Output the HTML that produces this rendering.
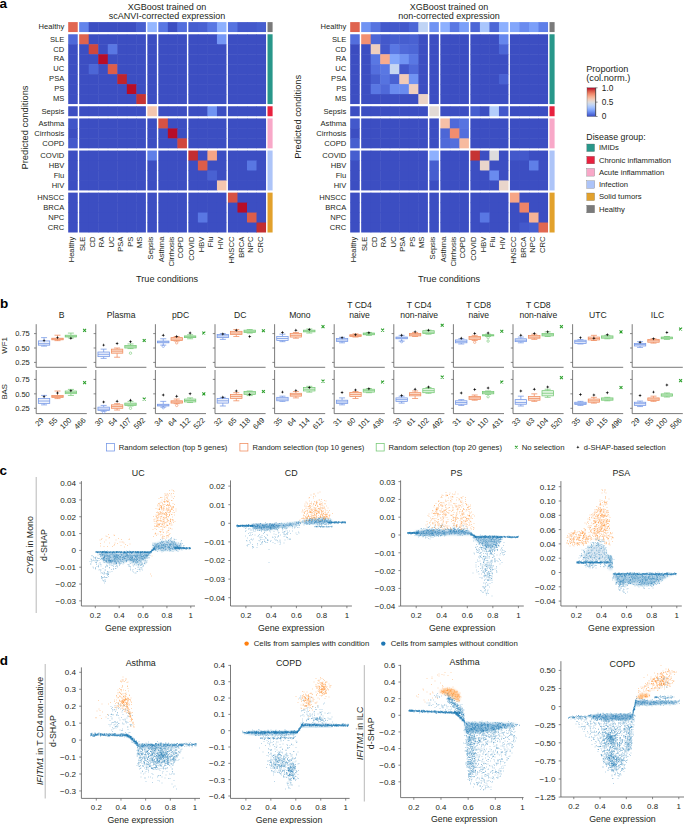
<!DOCTYPE html>
<html><head><meta charset="utf-8"><title>Figure</title>
<style>html,body{margin:0;padding:0;background:#fff;overflow:hidden;}svg{display:block;}
text{font-family:"Liberation Sans",sans-serif;}</style></head>
<body><svg width="685" height="824" viewBox="0 0 685 824" font-family="Liberation Sans, sans-serif" fill="#231f20">
<rect width="685" height="824" fill="#fff"/>
<g>
<rect x="68.2" y="22.1" width="9.53" height="9.97" fill="#e16751"/>
<rect x="79.18" y="22.1" width="10.03" height="9.97" fill="#6384eb"/>
<rect x="88.71" y="22.1" width="10.03" height="9.97" fill="#3c4ec2"/>
<rect x="98.24" y="22.1" width="10.03" height="9.97" fill="#3c4ec2"/>
<rect x="107.77" y="22.1" width="10.03" height="9.97" fill="#3c4ec2"/>
<rect x="117.3" y="22.1" width="10.03" height="9.97" fill="#3c4ec2"/>
<rect x="126.83" y="22.1" width="10.03" height="9.97" fill="#3c4ec2"/>
<rect x="136.36" y="22.1" width="9.53" height="9.97" fill="#465ecf"/>
<rect x="147.34" y="22.1" width="9.53" height="9.97" fill="#94b6ff"/>
<rect x="158.32" y="22.1" width="10.03" height="9.97" fill="#5977e3"/>
<rect x="167.85" y="22.1" width="10.03" height="9.97" fill="#3c4ec2"/>
<rect x="177.38" y="22.1" width="9.53" height="9.97" fill="#536edd"/>
<rect x="188.36" y="22.1" width="10.03" height="9.97" fill="#465ecf"/>
<rect x="197.89" y="22.1" width="10.03" height="9.97" fill="#4961d2"/>
<rect x="207.42" y="22.1" width="10.03" height="9.97" fill="#5977e3"/>
<rect x="216.95" y="22.1" width="9.53" height="9.97" fill="#8db0fe"/>
<rect x="227.93" y="22.1" width="10.03" height="9.97" fill="#5673e0"/>
<rect x="237.46" y="22.1" width="10.03" height="9.97" fill="#4358cb"/>
<rect x="246.99" y="22.1" width="10.03" height="9.97" fill="#4358cb"/>
<rect x="256.52" y="22.1" width="9.53" height="9.97" fill="#465ecf"/>
<rect x="68.2" y="34.27" width="9.53" height="10.47" fill="#4f69d9"/>
<rect x="79.18" y="34.27" width="10.03" height="10.47" fill="#df634e"/>
<rect x="88.71" y="34.27" width="10.03" height="10.47" fill="#3c4ec2"/>
<rect x="98.24" y="34.27" width="10.03" height="10.47" fill="#3c4ec2"/>
<rect x="107.77" y="34.27" width="10.03" height="10.47" fill="#3c4ec2"/>
<rect x="117.3" y="34.27" width="10.03" height="10.47" fill="#3c4ec2"/>
<rect x="126.83" y="34.27" width="10.03" height="10.47" fill="#3c4ec2"/>
<rect x="136.36" y="34.27" width="9.53" height="10.47" fill="#3c4ec2"/>
<rect x="147.34" y="34.27" width="9.53" height="10.47" fill="#3c4ec2"/>
<rect x="158.32" y="34.27" width="10.03" height="10.47" fill="#3c4ec2"/>
<rect x="167.85" y="34.27" width="10.03" height="10.47" fill="#3c4ec2"/>
<rect x="177.38" y="34.27" width="9.53" height="10.47" fill="#3c4ec2"/>
<rect x="188.36" y="34.27" width="10.03" height="10.47" fill="#3c4ec2"/>
<rect x="197.89" y="34.27" width="10.03" height="10.47" fill="#3c4ec2"/>
<rect x="207.42" y="34.27" width="10.03" height="10.47" fill="#3c4ec2"/>
<rect x="216.95" y="34.27" width="9.53" height="10.47" fill="#7597f6"/>
<rect x="227.93" y="34.27" width="10.03" height="10.47" fill="#3c4ec2"/>
<rect x="237.46" y="34.27" width="10.03" height="10.47" fill="#3c4ec2"/>
<rect x="246.99" y="34.27" width="10.03" height="10.47" fill="#3c4ec2"/>
<rect x="256.52" y="34.27" width="9.53" height="10.47" fill="#3c4ec2"/>
<rect x="68.2" y="44.24" width="9.53" height="10.47" fill="#3c4ec2"/>
<rect x="79.18" y="44.24" width="10.03" height="10.47" fill="#3c4ec2"/>
<rect x="88.71" y="44.24" width="10.03" height="10.47" fill="#d0473d"/>
<rect x="98.24" y="44.24" width="10.03" height="10.47" fill="#3c4ec2"/>
<rect x="107.77" y="44.24" width="10.03" height="10.47" fill="#5977e3"/>
<rect x="117.3" y="44.24" width="10.03" height="10.47" fill="#3c4ec2"/>
<rect x="126.83" y="44.24" width="10.03" height="10.47" fill="#3c4ec2"/>
<rect x="136.36" y="44.24" width="9.53" height="10.47" fill="#3c4ec2"/>
<rect x="147.34" y="44.24" width="9.53" height="10.47" fill="#3c4ec2"/>
<rect x="158.32" y="44.24" width="10.03" height="10.47" fill="#3c4ec2"/>
<rect x="167.85" y="44.24" width="10.03" height="10.47" fill="#3c4ec2"/>
<rect x="177.38" y="44.24" width="9.53" height="10.47" fill="#3c4ec2"/>
<rect x="188.36" y="44.24" width="10.03" height="10.47" fill="#3c4ec2"/>
<rect x="197.89" y="44.24" width="10.03" height="10.47" fill="#3c4ec2"/>
<rect x="207.42" y="44.24" width="10.03" height="10.47" fill="#3c4ec2"/>
<rect x="216.95" y="44.24" width="9.53" height="10.47" fill="#3c4ec2"/>
<rect x="227.93" y="44.24" width="10.03" height="10.47" fill="#3c4ec2"/>
<rect x="237.46" y="44.24" width="10.03" height="10.47" fill="#3c4ec2"/>
<rect x="246.99" y="44.24" width="10.03" height="10.47" fill="#3c4ec2"/>
<rect x="256.52" y="44.24" width="9.53" height="10.47" fill="#3c4ec2"/>
<rect x="68.2" y="54.21" width="9.53" height="10.47" fill="#3c4ec2"/>
<rect x="79.18" y="54.21" width="10.03" height="10.47" fill="#3c4ec2"/>
<rect x="88.71" y="54.21" width="10.03" height="10.47" fill="#3c4ec2"/>
<rect x="98.24" y="54.21" width="10.03" height="10.47" fill="#b70d28"/>
<rect x="107.77" y="54.21" width="10.03" height="10.47" fill="#3c4ec2"/>
<rect x="117.3" y="54.21" width="10.03" height="10.47" fill="#3c4ec2"/>
<rect x="126.83" y="54.21" width="10.03" height="10.47" fill="#3c4ec2"/>
<rect x="136.36" y="54.21" width="9.53" height="10.47" fill="#3c4ec2"/>
<rect x="147.34" y="54.21" width="9.53" height="10.47" fill="#3c4ec2"/>
<rect x="158.32" y="54.21" width="10.03" height="10.47" fill="#3c4ec2"/>
<rect x="167.85" y="54.21" width="10.03" height="10.47" fill="#3c4ec2"/>
<rect x="177.38" y="54.21" width="9.53" height="10.47" fill="#3c4ec2"/>
<rect x="188.36" y="54.21" width="10.03" height="10.47" fill="#3c4ec2"/>
<rect x="197.89" y="54.21" width="10.03" height="10.47" fill="#3c4ec2"/>
<rect x="207.42" y="54.21" width="10.03" height="10.47" fill="#3c4ec2"/>
<rect x="216.95" y="54.21" width="9.53" height="10.47" fill="#3c4ec2"/>
<rect x="227.93" y="54.21" width="10.03" height="10.47" fill="#3c4ec2"/>
<rect x="237.46" y="54.21" width="10.03" height="10.47" fill="#3c4ec2"/>
<rect x="246.99" y="54.21" width="10.03" height="10.47" fill="#3c4ec2"/>
<rect x="256.52" y="54.21" width="9.53" height="10.47" fill="#3c4ec2"/>
<rect x="68.2" y="64.18" width="9.53" height="10.47" fill="#3c4ec2"/>
<rect x="79.18" y="64.18" width="10.03" height="10.47" fill="#3c4ec2"/>
<rect x="88.71" y="64.18" width="10.03" height="10.47" fill="#4c66d6"/>
<rect x="98.24" y="64.18" width="10.03" height="10.47" fill="#3c4ec2"/>
<rect x="107.77" y="64.18" width="10.03" height="10.47" fill="#dc5d4a"/>
<rect x="117.3" y="64.18" width="10.03" height="10.47" fill="#3c4ec2"/>
<rect x="126.83" y="64.18" width="10.03" height="10.47" fill="#3c4ec2"/>
<rect x="136.36" y="64.18" width="9.53" height="10.47" fill="#3c4ec2"/>
<rect x="147.34" y="64.18" width="9.53" height="10.47" fill="#3c4ec2"/>
<rect x="158.32" y="64.18" width="10.03" height="10.47" fill="#3c4ec2"/>
<rect x="167.85" y="64.18" width="10.03" height="10.47" fill="#3c4ec2"/>
<rect x="177.38" y="64.18" width="9.53" height="10.47" fill="#3c4ec2"/>
<rect x="188.36" y="64.18" width="10.03" height="10.47" fill="#3c4ec2"/>
<rect x="197.89" y="64.18" width="10.03" height="10.47" fill="#3c4ec2"/>
<rect x="207.42" y="64.18" width="10.03" height="10.47" fill="#3c4ec2"/>
<rect x="216.95" y="64.18" width="9.53" height="10.47" fill="#3c4ec2"/>
<rect x="227.93" y="64.18" width="10.03" height="10.47" fill="#3c4ec2"/>
<rect x="237.46" y="64.18" width="10.03" height="10.47" fill="#3c4ec2"/>
<rect x="246.99" y="64.18" width="10.03" height="10.47" fill="#3c4ec2"/>
<rect x="256.52" y="64.18" width="9.53" height="10.47" fill="#3c4ec2"/>
<rect x="68.2" y="74.15" width="9.53" height="10.47" fill="#3c4ec2"/>
<rect x="79.18" y="74.15" width="10.03" height="10.47" fill="#3c4ec2"/>
<rect x="88.71" y="74.15" width="10.03" height="10.47" fill="#3c4ec2"/>
<rect x="98.24" y="74.15" width="10.03" height="10.47" fill="#3c4ec2"/>
<rect x="107.77" y="74.15" width="10.03" height="10.47" fill="#3c4ec2"/>
<rect x="117.3" y="74.15" width="10.03" height="10.47" fill="#be242e"/>
<rect x="126.83" y="74.15" width="10.03" height="10.47" fill="#3c4ec2"/>
<rect x="136.36" y="74.15" width="9.53" height="10.47" fill="#3c4ec2"/>
<rect x="147.34" y="74.15" width="9.53" height="10.47" fill="#3c4ec2"/>
<rect x="158.32" y="74.15" width="10.03" height="10.47" fill="#3c4ec2"/>
<rect x="167.85" y="74.15" width="10.03" height="10.47" fill="#3c4ec2"/>
<rect x="177.38" y="74.15" width="9.53" height="10.47" fill="#3c4ec2"/>
<rect x="188.36" y="74.15" width="10.03" height="10.47" fill="#3c4ec2"/>
<rect x="197.89" y="74.15" width="10.03" height="10.47" fill="#3c4ec2"/>
<rect x="207.42" y="74.15" width="10.03" height="10.47" fill="#3c4ec2"/>
<rect x="216.95" y="74.15" width="9.53" height="10.47" fill="#3c4ec2"/>
<rect x="227.93" y="74.15" width="10.03" height="10.47" fill="#3c4ec2"/>
<rect x="237.46" y="74.15" width="10.03" height="10.47" fill="#3c4ec2"/>
<rect x="246.99" y="74.15" width="10.03" height="10.47" fill="#3c4ec2"/>
<rect x="256.52" y="74.15" width="9.53" height="10.47" fill="#3c4ec2"/>
<rect x="68.2" y="84.12" width="9.53" height="10.47" fill="#3c4ec2"/>
<rect x="79.18" y="84.12" width="10.03" height="10.47" fill="#3c4ec2"/>
<rect x="88.71" y="84.12" width="10.03" height="10.47" fill="#3c4ec2"/>
<rect x="98.24" y="84.12" width="10.03" height="10.47" fill="#3c4ec2"/>
<rect x="107.77" y="84.12" width="10.03" height="10.47" fill="#3c4ec2"/>
<rect x="117.3" y="84.12" width="10.03" height="10.47" fill="#3c4ec2"/>
<rect x="126.83" y="84.12" width="10.03" height="10.47" fill="#b70d28"/>
<rect x="136.36" y="84.12" width="9.53" height="10.47" fill="#3c4ec2"/>
<rect x="147.34" y="84.12" width="9.53" height="10.47" fill="#3c4ec2"/>
<rect x="158.32" y="84.12" width="10.03" height="10.47" fill="#3c4ec2"/>
<rect x="167.85" y="84.12" width="10.03" height="10.47" fill="#3c4ec2"/>
<rect x="177.38" y="84.12" width="9.53" height="10.47" fill="#3c4ec2"/>
<rect x="188.36" y="84.12" width="10.03" height="10.47" fill="#3c4ec2"/>
<rect x="197.89" y="84.12" width="10.03" height="10.47" fill="#3c4ec2"/>
<rect x="207.42" y="84.12" width="10.03" height="10.47" fill="#3c4ec2"/>
<rect x="216.95" y="84.12" width="9.53" height="10.47" fill="#3c4ec2"/>
<rect x="227.93" y="84.12" width="10.03" height="10.47" fill="#3c4ec2"/>
<rect x="237.46" y="84.12" width="10.03" height="10.47" fill="#3c4ec2"/>
<rect x="246.99" y="84.12" width="10.03" height="10.47" fill="#3c4ec2"/>
<rect x="256.52" y="84.12" width="9.53" height="10.47" fill="#3c4ec2"/>
<rect x="68.2" y="94.09" width="9.53" height="9.97" fill="#3c4ec2"/>
<rect x="79.18" y="94.09" width="10.03" height="9.97" fill="#3c4ec2"/>
<rect x="88.71" y="94.09" width="10.03" height="9.97" fill="#3c4ec2"/>
<rect x="98.24" y="94.09" width="10.03" height="9.97" fill="#3c4ec2"/>
<rect x="107.77" y="94.09" width="10.03" height="9.97" fill="#3c4ec2"/>
<rect x="117.3" y="94.09" width="10.03" height="9.97" fill="#3c4ec2"/>
<rect x="126.83" y="94.09" width="10.03" height="9.97" fill="#3c4ec2"/>
<rect x="136.36" y="94.09" width="9.53" height="9.97" fill="#c53334"/>
<rect x="147.34" y="94.09" width="9.53" height="9.97" fill="#3c4ec2"/>
<rect x="158.32" y="94.09" width="10.03" height="9.97" fill="#3c4ec2"/>
<rect x="167.85" y="94.09" width="10.03" height="9.97" fill="#3c4ec2"/>
<rect x="177.38" y="94.09" width="9.53" height="9.97" fill="#3c4ec2"/>
<rect x="188.36" y="94.09" width="10.03" height="9.97" fill="#3c4ec2"/>
<rect x="197.89" y="94.09" width="10.03" height="9.97" fill="#3c4ec2"/>
<rect x="207.42" y="94.09" width="10.03" height="9.97" fill="#3c4ec2"/>
<rect x="216.95" y="94.09" width="9.53" height="9.97" fill="#3c4ec2"/>
<rect x="227.93" y="94.09" width="10.03" height="9.97" fill="#3c4ec2"/>
<rect x="237.46" y="94.09" width="10.03" height="9.97" fill="#3c4ec2"/>
<rect x="246.99" y="94.09" width="10.03" height="9.97" fill="#3c4ec2"/>
<rect x="256.52" y="94.09" width="9.53" height="9.97" fill="#3c4ec2"/>
<rect x="68.2" y="106.26" width="9.53" height="9.97" fill="#3c4ec2"/>
<rect x="79.18" y="106.26" width="10.03" height="9.97" fill="#3c4ec2"/>
<rect x="88.71" y="106.26" width="10.03" height="9.97" fill="#3c4ec2"/>
<rect x="98.24" y="106.26" width="10.03" height="9.97" fill="#3c4ec2"/>
<rect x="107.77" y="106.26" width="10.03" height="9.97" fill="#3c4ec2"/>
<rect x="117.3" y="106.26" width="10.03" height="9.97" fill="#3c4ec2"/>
<rect x="126.83" y="106.26" width="10.03" height="9.97" fill="#3c4ec2"/>
<rect x="136.36" y="106.26" width="9.53" height="9.97" fill="#3c4ec2"/>
<rect x="147.34" y="106.26" width="9.53" height="9.97" fill="#f4c6af"/>
<rect x="158.32" y="106.26" width="10.03" height="9.97" fill="#3c4ec2"/>
<rect x="167.85" y="106.26" width="10.03" height="9.97" fill="#3c4ec2"/>
<rect x="177.38" y="106.26" width="9.53" height="9.97" fill="#3c4ec2"/>
<rect x="188.36" y="106.26" width="10.03" height="9.97" fill="#3c4ec2"/>
<rect x="197.89" y="106.26" width="10.03" height="9.97" fill="#3c4ec2"/>
<rect x="207.42" y="106.26" width="10.03" height="9.97" fill="#7093f3"/>
<rect x="216.95" y="106.26" width="9.53" height="9.97" fill="#3c4ec2"/>
<rect x="227.93" y="106.26" width="10.03" height="9.97" fill="#3c4ec2"/>
<rect x="237.46" y="106.26" width="10.03" height="9.97" fill="#3c4ec2"/>
<rect x="246.99" y="106.26" width="10.03" height="9.97" fill="#3c4ec2"/>
<rect x="256.52" y="106.26" width="9.53" height="9.97" fill="#3c4ec2"/>
<rect x="68.2" y="118.43" width="9.53" height="10.47" fill="#4055c8"/>
<rect x="79.18" y="118.43" width="10.03" height="10.47" fill="#3c4ec2"/>
<rect x="88.71" y="118.43" width="10.03" height="10.47" fill="#3c4ec2"/>
<rect x="98.24" y="118.43" width="10.03" height="10.47" fill="#3c4ec2"/>
<rect x="107.77" y="118.43" width="10.03" height="10.47" fill="#3c4ec2"/>
<rect x="117.3" y="118.43" width="10.03" height="10.47" fill="#3c4ec2"/>
<rect x="126.83" y="118.43" width="10.03" height="10.47" fill="#3c4ec2"/>
<rect x="136.36" y="118.43" width="9.53" height="10.47" fill="#3c4ec2"/>
<rect x="147.34" y="118.43" width="9.53" height="10.47" fill="#3c4ec2"/>
<rect x="158.32" y="118.43" width="10.03" height="10.47" fill="#d65244"/>
<rect x="167.85" y="118.43" width="10.03" height="10.47" fill="#3c4ec2"/>
<rect x="177.38" y="118.43" width="9.53" height="10.47" fill="#3c4ec2"/>
<rect x="188.36" y="118.43" width="10.03" height="10.47" fill="#3c4ec2"/>
<rect x="197.89" y="118.43" width="10.03" height="10.47" fill="#3c4ec2"/>
<rect x="207.42" y="118.43" width="10.03" height="10.47" fill="#3c4ec2"/>
<rect x="216.95" y="118.43" width="9.53" height="10.47" fill="#3c4ec2"/>
<rect x="227.93" y="118.43" width="10.03" height="10.47" fill="#3c4ec2"/>
<rect x="237.46" y="118.43" width="10.03" height="10.47" fill="#3c4ec2"/>
<rect x="246.99" y="118.43" width="10.03" height="10.47" fill="#3c4ec2"/>
<rect x="256.52" y="118.43" width="9.53" height="10.47" fill="#3c4ec2"/>
<rect x="68.2" y="128.4" width="9.53" height="10.47" fill="#3c4ec2"/>
<rect x="79.18" y="128.4" width="10.03" height="10.47" fill="#3c4ec2"/>
<rect x="88.71" y="128.4" width="10.03" height="10.47" fill="#3c4ec2"/>
<rect x="98.24" y="128.4" width="10.03" height="10.47" fill="#3c4ec2"/>
<rect x="107.77" y="128.4" width="10.03" height="10.47" fill="#3c4ec2"/>
<rect x="117.3" y="128.4" width="10.03" height="10.47" fill="#3c4ec2"/>
<rect x="126.83" y="128.4" width="10.03" height="10.47" fill="#3c4ec2"/>
<rect x="136.36" y="128.4" width="9.53" height="10.47" fill="#3c4ec2"/>
<rect x="147.34" y="128.4" width="9.53" height="10.47" fill="#3c4ec2"/>
<rect x="158.32" y="128.4" width="10.03" height="10.47" fill="#3c4ec2"/>
<rect x="167.85" y="128.4" width="10.03" height="10.47" fill="#b70d28"/>
<rect x="177.38" y="128.4" width="9.53" height="10.47" fill="#3c4ec2"/>
<rect x="188.36" y="128.4" width="10.03" height="10.47" fill="#3c4ec2"/>
<rect x="197.89" y="128.4" width="10.03" height="10.47" fill="#3c4ec2"/>
<rect x="207.42" y="128.4" width="10.03" height="10.47" fill="#3c4ec2"/>
<rect x="216.95" y="128.4" width="9.53" height="10.47" fill="#3c4ec2"/>
<rect x="227.93" y="128.4" width="10.03" height="10.47" fill="#3c4ec2"/>
<rect x="237.46" y="128.4" width="10.03" height="10.47" fill="#3c4ec2"/>
<rect x="246.99" y="128.4" width="10.03" height="10.47" fill="#3c4ec2"/>
<rect x="256.52" y="128.4" width="9.53" height="10.47" fill="#3c4ec2"/>
<rect x="68.2" y="138.37" width="9.53" height="9.97" fill="#4358cb"/>
<rect x="79.18" y="138.37" width="10.03" height="9.97" fill="#3c4ec2"/>
<rect x="88.71" y="138.37" width="10.03" height="9.97" fill="#3c4ec2"/>
<rect x="98.24" y="138.37" width="10.03" height="9.97" fill="#3c4ec2"/>
<rect x="107.77" y="138.37" width="10.03" height="9.97" fill="#3c4ec2"/>
<rect x="117.3" y="138.37" width="10.03" height="9.97" fill="#3c4ec2"/>
<rect x="126.83" y="138.37" width="10.03" height="9.97" fill="#3c4ec2"/>
<rect x="136.36" y="138.37" width="9.53" height="9.97" fill="#3c4ec2"/>
<rect x="147.34" y="138.37" width="9.53" height="9.97" fill="#3c4ec2"/>
<rect x="158.32" y="138.37" width="10.03" height="9.97" fill="#3c4ec2"/>
<rect x="167.85" y="138.37" width="10.03" height="9.97" fill="#3c4ec2"/>
<rect x="177.38" y="138.37" width="9.53" height="9.97" fill="#d0473d"/>
<rect x="188.36" y="138.37" width="10.03" height="9.97" fill="#3c4ec2"/>
<rect x="197.89" y="138.37" width="10.03" height="9.97" fill="#3c4ec2"/>
<rect x="207.42" y="138.37" width="10.03" height="9.97" fill="#3c4ec2"/>
<rect x="216.95" y="138.37" width="9.53" height="9.97" fill="#3c4ec2"/>
<rect x="227.93" y="138.37" width="10.03" height="9.97" fill="#3c4ec2"/>
<rect x="237.46" y="138.37" width="10.03" height="9.97" fill="#3c4ec2"/>
<rect x="246.99" y="138.37" width="10.03" height="9.97" fill="#3c4ec2"/>
<rect x="256.52" y="138.37" width="9.53" height="9.97" fill="#3c4ec2"/>
<rect x="68.2" y="150.54" width="9.53" height="10.47" fill="#3c4ec2"/>
<rect x="79.18" y="150.54" width="10.03" height="10.47" fill="#3c4ec2"/>
<rect x="88.71" y="150.54" width="10.03" height="10.47" fill="#3c4ec2"/>
<rect x="98.24" y="150.54" width="10.03" height="10.47" fill="#3c4ec2"/>
<rect x="107.77" y="150.54" width="10.03" height="10.47" fill="#3c4ec2"/>
<rect x="117.3" y="150.54" width="10.03" height="10.47" fill="#3c4ec2"/>
<rect x="126.83" y="150.54" width="10.03" height="10.47" fill="#3c4ec2"/>
<rect x="136.36" y="150.54" width="9.53" height="10.47" fill="#3c4ec2"/>
<rect x="147.34" y="150.54" width="9.53" height="10.47" fill="#5f7fe8"/>
<rect x="158.32" y="150.54" width="10.03" height="10.47" fill="#3c4ec2"/>
<rect x="167.85" y="150.54" width="10.03" height="10.47" fill="#3c4ec2"/>
<rect x="177.38" y="150.54" width="9.53" height="10.47" fill="#3c4ec2"/>
<rect x="188.36" y="150.54" width="10.03" height="10.47" fill="#c32e31"/>
<rect x="197.89" y="150.54" width="10.03" height="10.47" fill="#3c4ec2"/>
<rect x="207.42" y="150.54" width="10.03" height="10.47" fill="#f6a586"/>
<rect x="216.95" y="150.54" width="9.53" height="10.47" fill="#3c4ec2"/>
<rect x="227.93" y="150.54" width="10.03" height="10.47" fill="#3c4ec2"/>
<rect x="237.46" y="150.54" width="10.03" height="10.47" fill="#3c4ec2"/>
<rect x="246.99" y="150.54" width="10.03" height="10.47" fill="#3c4ec2"/>
<rect x="256.52" y="150.54" width="9.53" height="10.47" fill="#3c4ec2"/>
<rect x="68.2" y="160.51" width="9.53" height="10.47" fill="#3c4ec2"/>
<rect x="79.18" y="160.51" width="10.03" height="10.47" fill="#3c4ec2"/>
<rect x="88.71" y="160.51" width="10.03" height="10.47" fill="#3c4ec2"/>
<rect x="98.24" y="160.51" width="10.03" height="10.47" fill="#3c4ec2"/>
<rect x="107.77" y="160.51" width="10.03" height="10.47" fill="#3c4ec2"/>
<rect x="117.3" y="160.51" width="10.03" height="10.47" fill="#3c4ec2"/>
<rect x="126.83" y="160.51" width="10.03" height="10.47" fill="#3c4ec2"/>
<rect x="136.36" y="160.51" width="9.53" height="10.47" fill="#3c4ec2"/>
<rect x="147.34" y="160.51" width="9.53" height="10.47" fill="#3c4ec2"/>
<rect x="158.32" y="160.51" width="10.03" height="10.47" fill="#3c4ec2"/>
<rect x="167.85" y="160.51" width="10.03" height="10.47" fill="#3c4ec2"/>
<rect x="177.38" y="160.51" width="9.53" height="10.47" fill="#3c4ec2"/>
<rect x="188.36" y="160.51" width="10.03" height="10.47" fill="#3c4ec2"/>
<rect x="197.89" y="160.51" width="10.03" height="10.47" fill="#dc5d4a"/>
<rect x="207.42" y="160.51" width="10.03" height="10.47" fill="#3c4ec2"/>
<rect x="216.95" y="160.51" width="9.53" height="10.47" fill="#3c4ec2"/>
<rect x="227.93" y="160.51" width="10.03" height="10.47" fill="#3c4ec2"/>
<rect x="237.46" y="160.51" width="10.03" height="10.47" fill="#3c4ec2"/>
<rect x="246.99" y="160.51" width="10.03" height="10.47" fill="#5977e3"/>
<rect x="256.52" y="160.51" width="9.53" height="10.47" fill="#3c4ec2"/>
<rect x="68.2" y="170.48" width="9.53" height="10.47" fill="#3c4ec2"/>
<rect x="79.18" y="170.48" width="10.03" height="10.47" fill="#3c4ec2"/>
<rect x="88.71" y="170.48" width="10.03" height="10.47" fill="#3c4ec2"/>
<rect x="98.24" y="170.48" width="10.03" height="10.47" fill="#3c4ec2"/>
<rect x="107.77" y="170.48" width="10.03" height="10.47" fill="#3c4ec2"/>
<rect x="117.3" y="170.48" width="10.03" height="10.47" fill="#3c4ec2"/>
<rect x="126.83" y="170.48" width="10.03" height="10.47" fill="#3c4ec2"/>
<rect x="136.36" y="170.48" width="9.53" height="10.47" fill="#3c4ec2"/>
<rect x="147.34" y="170.48" width="9.53" height="10.47" fill="#3c4ec2"/>
<rect x="158.32" y="170.48" width="10.03" height="10.47" fill="#3c4ec2"/>
<rect x="167.85" y="170.48" width="10.03" height="10.47" fill="#3c4ec2"/>
<rect x="177.38" y="170.48" width="9.53" height="10.47" fill="#3c4ec2"/>
<rect x="188.36" y="170.48" width="10.03" height="10.47" fill="#3c4ec2"/>
<rect x="197.89" y="170.48" width="10.03" height="10.47" fill="#3c4ec2"/>
<rect x="207.42" y="170.48" width="10.03" height="10.47" fill="#4961d2"/>
<rect x="216.95" y="170.48" width="9.53" height="10.47" fill="#3c4ec2"/>
<rect x="227.93" y="170.48" width="10.03" height="10.47" fill="#3c4ec2"/>
<rect x="237.46" y="170.48" width="10.03" height="10.47" fill="#3c4ec2"/>
<rect x="246.99" y="170.48" width="10.03" height="10.47" fill="#3c4ec2"/>
<rect x="256.52" y="170.48" width="9.53" height="10.47" fill="#3c4ec2"/>
<rect x="68.2" y="180.45" width="9.53" height="9.97" fill="#3c4ec2"/>
<rect x="79.18" y="180.45" width="10.03" height="9.97" fill="#3c4ec2"/>
<rect x="88.71" y="180.45" width="10.03" height="9.97" fill="#3c4ec2"/>
<rect x="98.24" y="180.45" width="10.03" height="9.97" fill="#3c4ec2"/>
<rect x="107.77" y="180.45" width="10.03" height="9.97" fill="#3c4ec2"/>
<rect x="117.3" y="180.45" width="10.03" height="9.97" fill="#3c4ec2"/>
<rect x="126.83" y="180.45" width="10.03" height="9.97" fill="#3c4ec2"/>
<rect x="136.36" y="180.45" width="9.53" height="9.97" fill="#3c4ec2"/>
<rect x="147.34" y="180.45" width="9.53" height="9.97" fill="#3c4ec2"/>
<rect x="158.32" y="180.45" width="10.03" height="9.97" fill="#3c4ec2"/>
<rect x="167.85" y="180.45" width="10.03" height="9.97" fill="#3c4ec2"/>
<rect x="177.38" y="180.45" width="9.53" height="9.97" fill="#3c4ec2"/>
<rect x="188.36" y="180.45" width="10.03" height="9.97" fill="#3c4ec2"/>
<rect x="197.89" y="180.45" width="10.03" height="9.97" fill="#3c4ec2"/>
<rect x="207.42" y="180.45" width="10.03" height="9.97" fill="#3c4ec2"/>
<rect x="216.95" y="180.45" width="9.53" height="9.97" fill="#f4c6af"/>
<rect x="227.93" y="180.45" width="10.03" height="9.97" fill="#3c4ec2"/>
<rect x="237.46" y="180.45" width="10.03" height="9.97" fill="#3c4ec2"/>
<rect x="246.99" y="180.45" width="10.03" height="9.97" fill="#3c4ec2"/>
<rect x="256.52" y="180.45" width="9.53" height="9.97" fill="#3c4ec2"/>
<rect x="68.2" y="192.62" width="9.53" height="10.47" fill="#3c4ec2"/>
<rect x="79.18" y="192.62" width="10.03" height="10.47" fill="#3c4ec2"/>
<rect x="88.71" y="192.62" width="10.03" height="10.47" fill="#3c4ec2"/>
<rect x="98.24" y="192.62" width="10.03" height="10.47" fill="#3c4ec2"/>
<rect x="107.77" y="192.62" width="10.03" height="10.47" fill="#3c4ec2"/>
<rect x="117.3" y="192.62" width="10.03" height="10.47" fill="#3c4ec2"/>
<rect x="126.83" y="192.62" width="10.03" height="10.47" fill="#3c4ec2"/>
<rect x="136.36" y="192.62" width="9.53" height="10.47" fill="#3c4ec2"/>
<rect x="147.34" y="192.62" width="9.53" height="10.47" fill="#3c4ec2"/>
<rect x="158.32" y="192.62" width="10.03" height="10.47" fill="#3c4ec2"/>
<rect x="167.85" y="192.62" width="10.03" height="10.47" fill="#3c4ec2"/>
<rect x="177.38" y="192.62" width="9.53" height="10.47" fill="#3c4ec2"/>
<rect x="188.36" y="192.62" width="10.03" height="10.47" fill="#3c4ec2"/>
<rect x="197.89" y="192.62" width="10.03" height="10.47" fill="#3c4ec2"/>
<rect x="207.42" y="192.62" width="10.03" height="10.47" fill="#3c4ec2"/>
<rect x="216.95" y="192.62" width="9.53" height="10.47" fill="#3c4ec2"/>
<rect x="227.93" y="192.62" width="10.03" height="10.47" fill="#d65244"/>
<rect x="237.46" y="192.62" width="10.03" height="10.47" fill="#3c4ec2"/>
<rect x="246.99" y="192.62" width="10.03" height="10.47" fill="#3c4ec2"/>
<rect x="256.52" y="192.62" width="9.53" height="10.47" fill="#3c4ec2"/>
<rect x="68.2" y="202.59" width="9.53" height="10.47" fill="#3c4ec2"/>
<rect x="79.18" y="202.59" width="10.03" height="10.47" fill="#3c4ec2"/>
<rect x="88.71" y="202.59" width="10.03" height="10.47" fill="#3c4ec2"/>
<rect x="98.24" y="202.59" width="10.03" height="10.47" fill="#3c4ec2"/>
<rect x="107.77" y="202.59" width="10.03" height="10.47" fill="#3c4ec2"/>
<rect x="117.3" y="202.59" width="10.03" height="10.47" fill="#3c4ec2"/>
<rect x="126.83" y="202.59" width="10.03" height="10.47" fill="#3c4ec2"/>
<rect x="136.36" y="202.59" width="9.53" height="10.47" fill="#3c4ec2"/>
<rect x="147.34" y="202.59" width="9.53" height="10.47" fill="#3c4ec2"/>
<rect x="158.32" y="202.59" width="10.03" height="10.47" fill="#3c4ec2"/>
<rect x="167.85" y="202.59" width="10.03" height="10.47" fill="#3c4ec2"/>
<rect x="177.38" y="202.59" width="9.53" height="10.47" fill="#3c4ec2"/>
<rect x="188.36" y="202.59" width="10.03" height="10.47" fill="#3c4ec2"/>
<rect x="197.89" y="202.59" width="10.03" height="10.47" fill="#3c4ec2"/>
<rect x="207.42" y="202.59" width="10.03" height="10.47" fill="#3c4ec2"/>
<rect x="216.95" y="202.59" width="9.53" height="10.47" fill="#3c4ec2"/>
<rect x="227.93" y="202.59" width="10.03" height="10.47" fill="#3c4ec2"/>
<rect x="237.46" y="202.59" width="10.03" height="10.47" fill="#b70d28"/>
<rect x="246.99" y="202.59" width="10.03" height="10.47" fill="#3c4ec2"/>
<rect x="256.52" y="202.59" width="9.53" height="10.47" fill="#3c4ec2"/>
<rect x="68.2" y="212.56" width="9.53" height="10.47" fill="#3c4ec2"/>
<rect x="79.18" y="212.56" width="10.03" height="10.47" fill="#3c4ec2"/>
<rect x="88.71" y="212.56" width="10.03" height="10.47" fill="#3c4ec2"/>
<rect x="98.24" y="212.56" width="10.03" height="10.47" fill="#3c4ec2"/>
<rect x="107.77" y="212.56" width="10.03" height="10.47" fill="#3c4ec2"/>
<rect x="117.3" y="212.56" width="10.03" height="10.47" fill="#3c4ec2"/>
<rect x="126.83" y="212.56" width="10.03" height="10.47" fill="#3c4ec2"/>
<rect x="136.36" y="212.56" width="9.53" height="10.47" fill="#3c4ec2"/>
<rect x="147.34" y="212.56" width="9.53" height="10.47" fill="#3c4ec2"/>
<rect x="158.32" y="212.56" width="10.03" height="10.47" fill="#3c4ec2"/>
<rect x="167.85" y="212.56" width="10.03" height="10.47" fill="#3c4ec2"/>
<rect x="177.38" y="212.56" width="9.53" height="10.47" fill="#3c4ec2"/>
<rect x="188.36" y="212.56" width="10.03" height="10.47" fill="#3c4ec2"/>
<rect x="197.89" y="212.56" width="10.03" height="10.47" fill="#5977e3"/>
<rect x="207.42" y="212.56" width="10.03" height="10.47" fill="#3c4ec2"/>
<rect x="216.95" y="212.56" width="9.53" height="10.47" fill="#3c4ec2"/>
<rect x="227.93" y="212.56" width="10.03" height="10.47" fill="#3c4ec2"/>
<rect x="237.46" y="212.56" width="10.03" height="10.47" fill="#3c4ec2"/>
<rect x="246.99" y="212.56" width="10.03" height="10.47" fill="#dc5d4a"/>
<rect x="256.52" y="212.56" width="9.53" height="10.47" fill="#3c4ec2"/>
<rect x="68.2" y="222.53" width="9.53" height="9.97" fill="#3c4ec2"/>
<rect x="79.18" y="222.53" width="10.03" height="9.97" fill="#3c4ec2"/>
<rect x="88.71" y="222.53" width="10.03" height="9.97" fill="#3c4ec2"/>
<rect x="98.24" y="222.53" width="10.03" height="9.97" fill="#3c4ec2"/>
<rect x="107.77" y="222.53" width="10.03" height="9.97" fill="#3c4ec2"/>
<rect x="117.3" y="222.53" width="10.03" height="9.97" fill="#3c4ec2"/>
<rect x="126.83" y="222.53" width="10.03" height="9.97" fill="#3c4ec2"/>
<rect x="136.36" y="222.53" width="9.53" height="9.97" fill="#3c4ec2"/>
<rect x="147.34" y="222.53" width="9.53" height="9.97" fill="#3c4ec2"/>
<rect x="158.32" y="222.53" width="10.03" height="9.97" fill="#3c4ec2"/>
<rect x="167.85" y="222.53" width="10.03" height="9.97" fill="#3c4ec2"/>
<rect x="177.38" y="222.53" width="9.53" height="9.97" fill="#3c4ec2"/>
<rect x="188.36" y="222.53" width="10.03" height="9.97" fill="#3c4ec2"/>
<rect x="197.89" y="222.53" width="10.03" height="9.97" fill="#3c4ec2"/>
<rect x="207.42" y="222.53" width="10.03" height="9.97" fill="#3c4ec2"/>
<rect x="216.95" y="222.53" width="9.53" height="9.97" fill="#3c4ec2"/>
<rect x="227.93" y="222.53" width="10.03" height="9.97" fill="#3c4ec2"/>
<rect x="237.46" y="222.53" width="10.03" height="9.97" fill="#3c4ec2"/>
<rect x="246.99" y="222.53" width="10.03" height="9.97" fill="#3c4ec2"/>
<rect x="256.52" y="222.53" width="9.53" height="9.97" fill="#c32e31"/>
</g>
<rect x="267.5" y="22.1" width="5.1" height="9.97" fill="#7a7a7a"/>
<rect x="267.5" y="34.27" width="5.1" height="69.79" fill="#28978a"/>
<rect x="267.5" y="106.26" width="5.1" height="9.97" fill="#e8213e"/>
<rect x="267.5" y="118.43" width="5.1" height="29.91" fill="#f8a8c8"/>
<rect x="267.5" y="150.54" width="5.1" height="39.88" fill="#adc4f8"/>
<rect x="267.5" y="192.62" width="5.1" height="39.88" fill="#e2a12c"/>
<text x="64.3" y="29.39" font-size="7.6" text-anchor="end">Healthy</text>
<text x="64.3" y="41.55" font-size="7.6" text-anchor="end">SLE</text>
<text x="64.3" y="51.52" font-size="7.6" text-anchor="end">CD</text>
<text x="64.3" y="61.49" font-size="7.6" text-anchor="end">RA</text>
<text x="64.3" y="71.47" font-size="7.6" text-anchor="end">UC</text>
<text x="64.3" y="81.44" font-size="7.6" text-anchor="end">PSA</text>
<text x="64.3" y="91.41" font-size="7.6" text-anchor="end">PS</text>
<text x="64.3" y="101.38" font-size="7.6" text-anchor="end">MS</text>
<text x="64.3" y="113.55" font-size="7.6" text-anchor="end">Sepsis</text>
<text x="64.3" y="125.72" font-size="7.6" text-anchor="end">Asthma</text>
<text x="64.3" y="135.69" font-size="7.6" text-anchor="end">Cirrhosis</text>
<text x="64.3" y="145.66" font-size="7.6" text-anchor="end">COPD</text>
<text x="64.3" y="157.83" font-size="7.6" text-anchor="end">COVID</text>
<text x="64.3" y="167.8" font-size="7.6" text-anchor="end">HBV</text>
<text x="64.3" y="177.77" font-size="7.6" text-anchor="end">Flu</text>
<text x="64.3" y="187.74" font-size="7.6" text-anchor="end">HIV</text>
<text x="64.3" y="199.91" font-size="7.6" text-anchor="end">HNSCC</text>
<text x="64.3" y="209.88" font-size="7.6" text-anchor="end">BRCA</text>
<text x="64.3" y="219.84" font-size="7.6" text-anchor="end">NPC</text>
<text x="64.3" y="229.81" font-size="7.6" text-anchor="end">CRC</text>
<text x="74.27" y="236.6" font-size="7.6" text-anchor="end" transform="rotate(-90 74.27 236.6)">Healthy</text>
<text x="85.25" y="236.6" font-size="7.6" text-anchor="end" transform="rotate(-90 85.25 236.6)">SLE</text>
<text x="94.78" y="236.6" font-size="7.6" text-anchor="end" transform="rotate(-90 94.78 236.6)">CD</text>
<text x="104.31" y="236.6" font-size="7.6" text-anchor="end" transform="rotate(-90 104.31 236.6)">RA</text>
<text x="113.84" y="236.6" font-size="7.6" text-anchor="end" transform="rotate(-90 113.84 236.6)">UC</text>
<text x="123.37" y="236.6" font-size="7.6" text-anchor="end" transform="rotate(-90 123.37 236.6)">PSA</text>
<text x="132.9" y="236.6" font-size="7.6" text-anchor="end" transform="rotate(-90 132.9 236.6)">PS</text>
<text x="142.43" y="236.6" font-size="7.6" text-anchor="end" transform="rotate(-90 142.43 236.6)">MS</text>
<text x="153.41" y="236.6" font-size="7.6" text-anchor="end" transform="rotate(-90 153.41 236.6)">Sepsis</text>
<text x="164.38" y="236.6" font-size="7.6" text-anchor="end" transform="rotate(-90 164.38 236.6)">Asthma</text>
<text x="173.91" y="236.6" font-size="7.6" text-anchor="end" transform="rotate(-90 173.91 236.6)">Cirrhosis</text>
<text x="183.44" y="236.6" font-size="7.6" text-anchor="end" transform="rotate(-90 183.44 236.6)">COPD</text>
<text x="194.42" y="236.6" font-size="7.6" text-anchor="end" transform="rotate(-90 194.42 236.6)">COVID</text>
<text x="203.95" y="236.6" font-size="7.6" text-anchor="end" transform="rotate(-90 203.95 236.6)">HBV</text>
<text x="213.48" y="236.6" font-size="7.6" text-anchor="end" transform="rotate(-90 213.48 236.6)">Flu</text>
<text x="223.01" y="236.6" font-size="7.6" text-anchor="end" transform="rotate(-90 223.01 236.6)">HIV</text>
<text x="233.99" y="236.6" font-size="7.6" text-anchor="end" transform="rotate(-90 233.99 236.6)">HNSCC</text>
<text x="243.52" y="236.6" font-size="7.6" text-anchor="end" transform="rotate(-90 243.52 236.6)">BRCA</text>
<text x="253.05" y="236.6" font-size="7.6" text-anchor="end" transform="rotate(-90 253.05 236.6)">NPC</text>
<text x="262.58" y="236.6" font-size="7.6" text-anchor="end" transform="rotate(-90 262.58 236.6)">CRC</text>
<text x="167.1" y="9.6" font-size="9" text-anchor="middle">XGBoost trained on</text>
<text x="167.1" y="18.7" font-size="9" text-anchor="middle">scANVI-corrected expression</text>
<text x="167.1" y="282.2" font-size="8.8" text-anchor="middle" textLength="62" lengthAdjust="spacingAndGlyphs">True conditions</text>
<text x="28.4" y="127.5" font-size="8.8" text-anchor="middle" textLength="84" lengthAdjust="spacingAndGlyphs" transform="rotate(-90 28.4 127.5)">Predicted conditions</text>
<g>
<rect x="350.2" y="22.1" width="9.53" height="9.97" fill="#df634e"/>
<rect x="361.18" y="22.1" width="10.03" height="9.97" fill="#7093f3"/>
<rect x="370.71" y="22.1" width="10.03" height="9.97" fill="#5673e0"/>
<rect x="380.24" y="22.1" width="10.03" height="9.97" fill="#4358cb"/>
<rect x="389.77" y="22.1" width="10.03" height="9.97" fill="#4358cb"/>
<rect x="399.3" y="22.1" width="10.03" height="9.97" fill="#4358cb"/>
<rect x="408.83" y="22.1" width="10.03" height="9.97" fill="#4c66d6"/>
<rect x="418.36" y="22.1" width="9.53" height="9.97" fill="#c0d4f5"/>
<rect x="429.34" y="22.1" width="9.53" height="9.97" fill="#7093f3"/>
<rect x="440.32" y="22.1" width="10.03" height="9.97" fill="#8db0fe"/>
<rect x="449.85" y="22.1" width="10.03" height="9.97" fill="#5977e3"/>
<rect x="459.38" y="22.1" width="9.53" height="9.97" fill="#7b9ff9"/>
<rect x="470.36" y="22.1" width="10.03" height="9.97" fill="#4c66d6"/>
<rect x="479.89" y="22.1" width="10.03" height="9.97" fill="#a9c6fd"/>
<rect x="489.42" y="22.1" width="10.03" height="9.97" fill="#4c66d6"/>
<rect x="498.95" y="22.1" width="9.53" height="9.97" fill="#8db0fe"/>
<rect x="509.93" y="22.1" width="10.03" height="9.97" fill="#82a6fb"/>
<rect x="519.46" y="22.1" width="10.03" height="9.97" fill="#6a8bef"/>
<rect x="528.99" y="22.1" width="10.03" height="9.97" fill="#7b9ff9"/>
<rect x="538.52" y="22.1" width="9.53" height="9.97" fill="#5f7fe8"/>
<rect x="350.2" y="34.27" width="9.53" height="10.47" fill="#536edd"/>
<rect x="361.18" y="34.27" width="10.03" height="10.47" fill="#f29072"/>
<rect x="370.71" y="34.27" width="10.03" height="10.47" fill="#4c66d6"/>
<rect x="380.24" y="34.27" width="10.03" height="10.47" fill="#4358cb"/>
<rect x="389.77" y="34.27" width="10.03" height="10.47" fill="#465ecf"/>
<rect x="399.3" y="34.27" width="10.03" height="10.47" fill="#465ecf"/>
<rect x="408.83" y="34.27" width="10.03" height="10.47" fill="#4961d2"/>
<rect x="418.36" y="34.27" width="9.53" height="10.47" fill="#3c4ec2"/>
<rect x="429.34" y="34.27" width="9.53" height="10.47" fill="#3c4ec2"/>
<rect x="440.32" y="34.27" width="10.03" height="10.47" fill="#3c4ec2"/>
<rect x="449.85" y="34.27" width="10.03" height="10.47" fill="#3c4ec2"/>
<rect x="459.38" y="34.27" width="9.53" height="10.47" fill="#3c4ec2"/>
<rect x="470.36" y="34.27" width="10.03" height="10.47" fill="#3c4ec2"/>
<rect x="479.89" y="34.27" width="10.03" height="10.47" fill="#3c4ec2"/>
<rect x="489.42" y="34.27" width="10.03" height="10.47" fill="#3c4ec2"/>
<rect x="498.95" y="34.27" width="9.53" height="10.47" fill="#6687ed"/>
<rect x="509.93" y="34.27" width="10.03" height="10.47" fill="#3c4ec2"/>
<rect x="519.46" y="34.27" width="10.03" height="10.47" fill="#3c4ec2"/>
<rect x="528.99" y="34.27" width="10.03" height="10.47" fill="#3c4ec2"/>
<rect x="538.52" y="34.27" width="9.53" height="10.47" fill="#3c4ec2"/>
<rect x="350.2" y="44.24" width="9.53" height="10.47" fill="#3b4cc0"/>
<rect x="361.18" y="44.24" width="10.03" height="10.47" fill="#3c4ec2"/>
<rect x="370.71" y="44.24" width="10.03" height="10.47" fill="#efcfbf"/>
<rect x="380.24" y="44.24" width="10.03" height="10.47" fill="#4358cb"/>
<rect x="389.77" y="44.24" width="10.03" height="10.47" fill="#5977e3"/>
<rect x="399.3" y="44.24" width="10.03" height="10.47" fill="#4f69d9"/>
<rect x="408.83" y="44.24" width="10.03" height="10.47" fill="#4c66d6"/>
<rect x="418.36" y="44.24" width="9.53" height="10.47" fill="#3c4ec2"/>
<rect x="429.34" y="44.24" width="9.53" height="10.47" fill="#3c4ec2"/>
<rect x="440.32" y="44.24" width="10.03" height="10.47" fill="#3c4ec2"/>
<rect x="449.85" y="44.24" width="10.03" height="10.47" fill="#3c4ec2"/>
<rect x="459.38" y="44.24" width="9.53" height="10.47" fill="#3c4ec2"/>
<rect x="470.36" y="44.24" width="10.03" height="10.47" fill="#3c4ec2"/>
<rect x="479.89" y="44.24" width="10.03" height="10.47" fill="#3c4ec2"/>
<rect x="489.42" y="44.24" width="10.03" height="10.47" fill="#3c4ec2"/>
<rect x="498.95" y="44.24" width="9.53" height="10.47" fill="#4c66d6"/>
<rect x="509.93" y="44.24" width="10.03" height="10.47" fill="#3c4ec2"/>
<rect x="519.46" y="44.24" width="10.03" height="10.47" fill="#3c4ec2"/>
<rect x="528.99" y="44.24" width="10.03" height="10.47" fill="#3c4ec2"/>
<rect x="538.52" y="44.24" width="9.53" height="10.47" fill="#3c4ec2"/>
<rect x="350.2" y="54.21" width="9.53" height="10.47" fill="#3c4ec2"/>
<rect x="361.18" y="54.21" width="10.03" height="10.47" fill="#3c4ec2"/>
<rect x="370.71" y="54.21" width="10.03" height="10.47" fill="#5977e3"/>
<rect x="380.24" y="54.21" width="10.03" height="10.47" fill="#f7ac8e"/>
<rect x="389.77" y="54.21" width="10.03" height="10.47" fill="#82a6fb"/>
<rect x="399.3" y="54.21" width="10.03" height="10.47" fill="#7093f3"/>
<rect x="408.83" y="54.21" width="10.03" height="10.47" fill="#5977e3"/>
<rect x="418.36" y="54.21" width="9.53" height="10.47" fill="#3c4ec2"/>
<rect x="429.34" y="54.21" width="9.53" height="10.47" fill="#3c4ec2"/>
<rect x="440.32" y="54.21" width="10.03" height="10.47" fill="#3c4ec2"/>
<rect x="449.85" y="54.21" width="10.03" height="10.47" fill="#3c4ec2"/>
<rect x="459.38" y="54.21" width="9.53" height="10.47" fill="#3c4ec2"/>
<rect x="470.36" y="54.21" width="10.03" height="10.47" fill="#3c4ec2"/>
<rect x="479.89" y="54.21" width="10.03" height="10.47" fill="#3c4ec2"/>
<rect x="489.42" y="54.21" width="10.03" height="10.47" fill="#3c4ec2"/>
<rect x="498.95" y="54.21" width="9.53" height="10.47" fill="#3c4ec2"/>
<rect x="509.93" y="54.21" width="10.03" height="10.47" fill="#3c4ec2"/>
<rect x="519.46" y="54.21" width="10.03" height="10.47" fill="#3c4ec2"/>
<rect x="528.99" y="54.21" width="10.03" height="10.47" fill="#3c4ec2"/>
<rect x="538.52" y="54.21" width="9.53" height="10.47" fill="#3c4ec2"/>
<rect x="350.2" y="64.18" width="9.53" height="10.47" fill="#3c4ec2"/>
<rect x="361.18" y="64.18" width="10.03" height="10.47" fill="#3c4ec2"/>
<rect x="370.71" y="64.18" width="10.03" height="10.47" fill="#536edd"/>
<rect x="380.24" y="64.18" width="10.03" height="10.47" fill="#5977e3"/>
<rect x="389.77" y="64.18" width="10.03" height="10.47" fill="#c6d6f1"/>
<rect x="399.3" y="64.18" width="10.03" height="10.47" fill="#4358cb"/>
<rect x="408.83" y="64.18" width="10.03" height="10.47" fill="#4f69d9"/>
<rect x="418.36" y="64.18" width="9.53" height="10.47" fill="#3c4ec2"/>
<rect x="429.34" y="64.18" width="9.53" height="10.47" fill="#3c4ec2"/>
<rect x="440.32" y="64.18" width="10.03" height="10.47" fill="#3c4ec2"/>
<rect x="449.85" y="64.18" width="10.03" height="10.47" fill="#3c4ec2"/>
<rect x="459.38" y="64.18" width="9.53" height="10.47" fill="#3c4ec2"/>
<rect x="470.36" y="64.18" width="10.03" height="10.47" fill="#3c4ec2"/>
<rect x="479.89" y="64.18" width="10.03" height="10.47" fill="#3c4ec2"/>
<rect x="489.42" y="64.18" width="10.03" height="10.47" fill="#3c4ec2"/>
<rect x="498.95" y="64.18" width="9.53" height="10.47" fill="#3c4ec2"/>
<rect x="509.93" y="64.18" width="10.03" height="10.47" fill="#3c4ec2"/>
<rect x="519.46" y="64.18" width="10.03" height="10.47" fill="#3c4ec2"/>
<rect x="528.99" y="64.18" width="10.03" height="10.47" fill="#3c4ec2"/>
<rect x="538.52" y="64.18" width="9.53" height="10.47" fill="#3c4ec2"/>
<rect x="350.2" y="74.15" width="9.53" height="10.47" fill="#3c4ec2"/>
<rect x="361.18" y="74.15" width="10.03" height="10.47" fill="#3c4ec2"/>
<rect x="370.71" y="74.15" width="10.03" height="10.47" fill="#465ecf"/>
<rect x="380.24" y="74.15" width="10.03" height="10.47" fill="#5673e0"/>
<rect x="389.77" y="74.15" width="10.03" height="10.47" fill="#4961d2"/>
<rect x="399.3" y="74.15" width="10.03" height="10.47" fill="#f2cbb7"/>
<rect x="408.83" y="74.15" width="10.03" height="10.47" fill="#7093f3"/>
<rect x="418.36" y="74.15" width="9.53" height="10.47" fill="#3c4ec2"/>
<rect x="429.34" y="74.15" width="9.53" height="10.47" fill="#3c4ec2"/>
<rect x="440.32" y="74.15" width="10.03" height="10.47" fill="#3c4ec2"/>
<rect x="449.85" y="74.15" width="10.03" height="10.47" fill="#3c4ec2"/>
<rect x="459.38" y="74.15" width="9.53" height="10.47" fill="#3c4ec2"/>
<rect x="470.36" y="74.15" width="10.03" height="10.47" fill="#3c4ec2"/>
<rect x="479.89" y="74.15" width="10.03" height="10.47" fill="#3c4ec2"/>
<rect x="489.42" y="74.15" width="10.03" height="10.47" fill="#3c4ec2"/>
<rect x="498.95" y="74.15" width="9.53" height="10.47" fill="#4961d2"/>
<rect x="509.93" y="74.15" width="10.03" height="10.47" fill="#3c4ec2"/>
<rect x="519.46" y="74.15" width="10.03" height="10.47" fill="#3c4ec2"/>
<rect x="528.99" y="74.15" width="10.03" height="10.47" fill="#3c4ec2"/>
<rect x="538.52" y="74.15" width="9.53" height="10.47" fill="#3c4ec2"/>
<rect x="350.2" y="84.12" width="9.53" height="10.47" fill="#3c4ec2"/>
<rect x="361.18" y="84.12" width="10.03" height="10.47" fill="#3c4ec2"/>
<rect x="370.71" y="84.12" width="10.03" height="10.47" fill="#5977e3"/>
<rect x="380.24" y="84.12" width="10.03" height="10.47" fill="#4f69d9"/>
<rect x="389.77" y="84.12" width="10.03" height="10.47" fill="#6a8bef"/>
<rect x="399.3" y="84.12" width="10.03" height="10.47" fill="#6a8bef"/>
<rect x="408.83" y="84.12" width="10.03" height="10.47" fill="#efcfbf"/>
<rect x="418.36" y="84.12" width="9.53" height="10.47" fill="#3c4ec2"/>
<rect x="429.34" y="84.12" width="9.53" height="10.47" fill="#3c4ec2"/>
<rect x="440.32" y="84.12" width="10.03" height="10.47" fill="#3c4ec2"/>
<rect x="449.85" y="84.12" width="10.03" height="10.47" fill="#3c4ec2"/>
<rect x="459.38" y="84.12" width="9.53" height="10.47" fill="#3c4ec2"/>
<rect x="470.36" y="84.12" width="10.03" height="10.47" fill="#3c4ec2"/>
<rect x="479.89" y="84.12" width="10.03" height="10.47" fill="#3c4ec2"/>
<rect x="489.42" y="84.12" width="10.03" height="10.47" fill="#3c4ec2"/>
<rect x="498.95" y="84.12" width="9.53" height="10.47" fill="#3c4ec2"/>
<rect x="509.93" y="84.12" width="10.03" height="10.47" fill="#3c4ec2"/>
<rect x="519.46" y="84.12" width="10.03" height="10.47" fill="#3c4ec2"/>
<rect x="528.99" y="84.12" width="10.03" height="10.47" fill="#3c4ec2"/>
<rect x="538.52" y="84.12" width="9.53" height="10.47" fill="#3c4ec2"/>
<rect x="350.2" y="94.09" width="9.53" height="9.97" fill="#3c4ec2"/>
<rect x="361.18" y="94.09" width="10.03" height="9.97" fill="#3c4ec2"/>
<rect x="370.71" y="94.09" width="10.03" height="9.97" fill="#3c4ec2"/>
<rect x="380.24" y="94.09" width="10.03" height="9.97" fill="#3c4ec2"/>
<rect x="389.77" y="94.09" width="10.03" height="9.97" fill="#3c4ec2"/>
<rect x="399.3" y="94.09" width="10.03" height="9.97" fill="#3c4ec2"/>
<rect x="408.83" y="94.09" width="10.03" height="9.97" fill="#3c4ec2"/>
<rect x="418.36" y="94.09" width="9.53" height="9.97" fill="#ebd3c6"/>
<rect x="429.34" y="94.09" width="9.53" height="9.97" fill="#3c4ec2"/>
<rect x="440.32" y="94.09" width="10.03" height="9.97" fill="#3c4ec2"/>
<rect x="449.85" y="94.09" width="10.03" height="9.97" fill="#3c4ec2"/>
<rect x="459.38" y="94.09" width="9.53" height="9.97" fill="#3c4ec2"/>
<rect x="470.36" y="94.09" width="10.03" height="9.97" fill="#3c4ec2"/>
<rect x="479.89" y="94.09" width="10.03" height="9.97" fill="#3c4ec2"/>
<rect x="489.42" y="94.09" width="10.03" height="9.97" fill="#3c4ec2"/>
<rect x="498.95" y="94.09" width="9.53" height="9.97" fill="#3c4ec2"/>
<rect x="509.93" y="94.09" width="10.03" height="9.97" fill="#3c4ec2"/>
<rect x="519.46" y="94.09" width="10.03" height="9.97" fill="#3c4ec2"/>
<rect x="528.99" y="94.09" width="10.03" height="9.97" fill="#3c4ec2"/>
<rect x="538.52" y="94.09" width="9.53" height="9.97" fill="#3c4ec2"/>
<rect x="350.2" y="106.26" width="9.53" height="9.97" fill="#3c4ec2"/>
<rect x="361.18" y="106.26" width="10.03" height="9.97" fill="#3c4ec2"/>
<rect x="370.71" y="106.26" width="10.03" height="9.97" fill="#3c4ec2"/>
<rect x="380.24" y="106.26" width="10.03" height="9.97" fill="#3c4ec2"/>
<rect x="389.77" y="106.26" width="10.03" height="9.97" fill="#3c4ec2"/>
<rect x="399.3" y="106.26" width="10.03" height="9.97" fill="#3c4ec2"/>
<rect x="408.83" y="106.26" width="10.03" height="9.97" fill="#3c4ec2"/>
<rect x="418.36" y="106.26" width="9.53" height="9.97" fill="#3c4ec2"/>
<rect x="429.34" y="106.26" width="9.53" height="9.97" fill="#e2dad5"/>
<rect x="440.32" y="106.26" width="10.03" height="9.97" fill="#3c4ec2"/>
<rect x="449.85" y="106.26" width="10.03" height="9.97" fill="#3c4ec2"/>
<rect x="459.38" y="106.26" width="9.53" height="9.97" fill="#3c4ec2"/>
<rect x="470.36" y="106.26" width="10.03" height="9.97" fill="#465ecf"/>
<rect x="479.89" y="106.26" width="10.03" height="9.97" fill="#3c4ec2"/>
<rect x="489.42" y="106.26" width="10.03" height="9.97" fill="#b3cdfb"/>
<rect x="498.95" y="106.26" width="9.53" height="9.97" fill="#4358cb"/>
<rect x="509.93" y="106.26" width="10.03" height="9.97" fill="#3c4ec2"/>
<rect x="519.46" y="106.26" width="10.03" height="9.97" fill="#3c4ec2"/>
<rect x="528.99" y="106.26" width="10.03" height="9.97" fill="#3c4ec2"/>
<rect x="538.52" y="106.26" width="9.53" height="9.97" fill="#3c4ec2"/>
<rect x="350.2" y="118.43" width="9.53" height="10.47" fill="#4358cb"/>
<rect x="361.18" y="118.43" width="10.03" height="10.47" fill="#3c4ec2"/>
<rect x="370.71" y="118.43" width="10.03" height="10.47" fill="#3c4ec2"/>
<rect x="380.24" y="118.43" width="10.03" height="10.47" fill="#3c4ec2"/>
<rect x="389.77" y="118.43" width="10.03" height="10.47" fill="#3c4ec2"/>
<rect x="399.3" y="118.43" width="10.03" height="10.47" fill="#3c4ec2"/>
<rect x="408.83" y="118.43" width="10.03" height="10.47" fill="#3c4ec2"/>
<rect x="418.36" y="118.43" width="9.53" height="10.47" fill="#3c4ec2"/>
<rect x="429.34" y="118.43" width="9.53" height="10.47" fill="#3c4ec2"/>
<rect x="440.32" y="118.43" width="10.03" height="10.47" fill="#f5c0a7"/>
<rect x="449.85" y="118.43" width="10.03" height="10.47" fill="#4f69d9"/>
<rect x="459.38" y="118.43" width="9.53" height="10.47" fill="#5673e0"/>
<rect x="470.36" y="118.43" width="10.03" height="10.47" fill="#3c4ec2"/>
<rect x="479.89" y="118.43" width="10.03" height="10.47" fill="#3c4ec2"/>
<rect x="489.42" y="118.43" width="10.03" height="10.47" fill="#3c4ec2"/>
<rect x="498.95" y="118.43" width="9.53" height="10.47" fill="#3c4ec2"/>
<rect x="509.93" y="118.43" width="10.03" height="10.47" fill="#3c4ec2"/>
<rect x="519.46" y="118.43" width="10.03" height="10.47" fill="#3c4ec2"/>
<rect x="528.99" y="118.43" width="10.03" height="10.47" fill="#3c4ec2"/>
<rect x="538.52" y="118.43" width="9.53" height="10.47" fill="#3c4ec2"/>
<rect x="350.2" y="128.4" width="9.53" height="10.47" fill="#3c4ec2"/>
<rect x="361.18" y="128.4" width="10.03" height="10.47" fill="#3c4ec2"/>
<rect x="370.71" y="128.4" width="10.03" height="10.47" fill="#3c4ec2"/>
<rect x="380.24" y="128.4" width="10.03" height="10.47" fill="#3c4ec2"/>
<rect x="389.77" y="128.4" width="10.03" height="10.47" fill="#3c4ec2"/>
<rect x="399.3" y="128.4" width="10.03" height="10.47" fill="#3c4ec2"/>
<rect x="408.83" y="128.4" width="10.03" height="10.47" fill="#3c4ec2"/>
<rect x="418.36" y="128.4" width="9.53" height="10.47" fill="#3c4ec2"/>
<rect x="429.34" y="128.4" width="9.53" height="10.47" fill="#3c4ec2"/>
<rect x="440.32" y="128.4" width="10.03" height="10.47" fill="#4c66d6"/>
<rect x="449.85" y="128.4" width="10.03" height="10.47" fill="#f18d6f"/>
<rect x="459.38" y="128.4" width="9.53" height="10.47" fill="#536edd"/>
<rect x="470.36" y="128.4" width="10.03" height="10.47" fill="#3c4ec2"/>
<rect x="479.89" y="128.4" width="10.03" height="10.47" fill="#3c4ec2"/>
<rect x="489.42" y="128.4" width="10.03" height="10.47" fill="#3c4ec2"/>
<rect x="498.95" y="128.4" width="9.53" height="10.47" fill="#3c4ec2"/>
<rect x="509.93" y="128.4" width="10.03" height="10.47" fill="#3c4ec2"/>
<rect x="519.46" y="128.4" width="10.03" height="10.47" fill="#3c4ec2"/>
<rect x="528.99" y="128.4" width="10.03" height="10.47" fill="#3c4ec2"/>
<rect x="538.52" y="128.4" width="9.53" height="10.47" fill="#3c4ec2"/>
<rect x="350.2" y="138.37" width="9.53" height="9.97" fill="#465ecf"/>
<rect x="361.18" y="138.37" width="10.03" height="9.97" fill="#3c4ec2"/>
<rect x="370.71" y="138.37" width="10.03" height="9.97" fill="#3c4ec2"/>
<rect x="380.24" y="138.37" width="10.03" height="9.97" fill="#3c4ec2"/>
<rect x="389.77" y="138.37" width="10.03" height="9.97" fill="#3c4ec2"/>
<rect x="399.3" y="138.37" width="10.03" height="9.97" fill="#3c4ec2"/>
<rect x="408.83" y="138.37" width="10.03" height="9.97" fill="#3c4ec2"/>
<rect x="418.36" y="138.37" width="9.53" height="9.97" fill="#3c4ec2"/>
<rect x="429.34" y="138.37" width="9.53" height="9.97" fill="#3c4ec2"/>
<rect x="440.32" y="138.37" width="10.03" height="9.97" fill="#4f69d9"/>
<rect x="449.85" y="138.37" width="10.03" height="9.97" fill="#536edd"/>
<rect x="459.38" y="138.37" width="9.53" height="9.97" fill="#f7ba9f"/>
<rect x="470.36" y="138.37" width="10.03" height="9.97" fill="#3c4ec2"/>
<rect x="479.89" y="138.37" width="10.03" height="9.97" fill="#3c4ec2"/>
<rect x="489.42" y="138.37" width="10.03" height="9.97" fill="#3c4ec2"/>
<rect x="498.95" y="138.37" width="9.53" height="9.97" fill="#3c4ec2"/>
<rect x="509.93" y="138.37" width="10.03" height="9.97" fill="#3c4ec2"/>
<rect x="519.46" y="138.37" width="10.03" height="9.97" fill="#3c4ec2"/>
<rect x="528.99" y="138.37" width="10.03" height="9.97" fill="#3c4ec2"/>
<rect x="538.52" y="138.37" width="9.53" height="9.97" fill="#3c4ec2"/>
<rect x="350.2" y="150.54" width="9.53" height="10.47" fill="#465ecf"/>
<rect x="361.18" y="150.54" width="10.03" height="10.47" fill="#3c4ec2"/>
<rect x="370.71" y="150.54" width="10.03" height="10.47" fill="#3c4ec2"/>
<rect x="380.24" y="150.54" width="10.03" height="10.47" fill="#3c4ec2"/>
<rect x="389.77" y="150.54" width="10.03" height="10.47" fill="#3c4ec2"/>
<rect x="399.3" y="150.54" width="10.03" height="10.47" fill="#3c4ec2"/>
<rect x="408.83" y="150.54" width="10.03" height="10.47" fill="#3c4ec2"/>
<rect x="418.36" y="150.54" width="9.53" height="10.47" fill="#3c4ec2"/>
<rect x="429.34" y="150.54" width="9.53" height="10.47" fill="#8db0fe"/>
<rect x="440.32" y="150.54" width="10.03" height="10.47" fill="#3c4ec2"/>
<rect x="449.85" y="150.54" width="10.03" height="10.47" fill="#3c4ec2"/>
<rect x="459.38" y="150.54" width="9.53" height="10.47" fill="#3c4ec2"/>
<rect x="470.36" y="150.54" width="10.03" height="10.47" fill="#c53334"/>
<rect x="479.89" y="150.54" width="10.03" height="10.47" fill="#3c4ec2"/>
<rect x="489.42" y="150.54" width="10.03" height="10.47" fill="#dddcdc"/>
<rect x="498.95" y="150.54" width="9.53" height="10.47" fill="#3c4ec2"/>
<rect x="509.93" y="150.54" width="10.03" height="10.47" fill="#4358cb"/>
<rect x="519.46" y="150.54" width="10.03" height="10.47" fill="#4358cb"/>
<rect x="528.99" y="150.54" width="10.03" height="10.47" fill="#3c4ec2"/>
<rect x="538.52" y="150.54" width="9.53" height="10.47" fill="#3c4ec2"/>
<rect x="350.2" y="160.51" width="9.53" height="10.47" fill="#3c4ec2"/>
<rect x="361.18" y="160.51" width="10.03" height="10.47" fill="#3c4ec2"/>
<rect x="370.71" y="160.51" width="10.03" height="10.47" fill="#3c4ec2"/>
<rect x="380.24" y="160.51" width="10.03" height="10.47" fill="#3c4ec2"/>
<rect x="389.77" y="160.51" width="10.03" height="10.47" fill="#3c4ec2"/>
<rect x="399.3" y="160.51" width="10.03" height="10.47" fill="#3c4ec2"/>
<rect x="408.83" y="160.51" width="10.03" height="10.47" fill="#3c4ec2"/>
<rect x="418.36" y="160.51" width="9.53" height="10.47" fill="#3c4ec2"/>
<rect x="429.34" y="160.51" width="9.53" height="10.47" fill="#465ecf"/>
<rect x="440.32" y="160.51" width="10.03" height="10.47" fill="#3c4ec2"/>
<rect x="449.85" y="160.51" width="10.03" height="10.47" fill="#3c4ec2"/>
<rect x="459.38" y="160.51" width="9.53" height="10.47" fill="#3c4ec2"/>
<rect x="470.36" y="160.51" width="10.03" height="10.47" fill="#3c4ec2"/>
<rect x="479.89" y="160.51" width="10.03" height="10.47" fill="#e9d5cb"/>
<rect x="489.42" y="160.51" width="10.03" height="10.47" fill="#3c4ec2"/>
<rect x="498.95" y="160.51" width="9.53" height="10.47" fill="#3c4ec2"/>
<rect x="509.93" y="160.51" width="10.03" height="10.47" fill="#3c4ec2"/>
<rect x="519.46" y="160.51" width="10.03" height="10.47" fill="#3c4ec2"/>
<rect x="528.99" y="160.51" width="10.03" height="10.47" fill="#5f7fe8"/>
<rect x="538.52" y="160.51" width="9.53" height="10.47" fill="#3c4ec2"/>
<rect x="350.2" y="170.48" width="9.53" height="10.47" fill="#3c4ec2"/>
<rect x="361.18" y="170.48" width="10.03" height="10.47" fill="#3c4ec2"/>
<rect x="370.71" y="170.48" width="10.03" height="10.47" fill="#3c4ec2"/>
<rect x="380.24" y="170.48" width="10.03" height="10.47" fill="#3c4ec2"/>
<rect x="389.77" y="170.48" width="10.03" height="10.47" fill="#3c4ec2"/>
<rect x="399.3" y="170.48" width="10.03" height="10.47" fill="#3c4ec2"/>
<rect x="408.83" y="170.48" width="10.03" height="10.47" fill="#3c4ec2"/>
<rect x="418.36" y="170.48" width="9.53" height="10.47" fill="#3c4ec2"/>
<rect x="429.34" y="170.48" width="9.53" height="10.47" fill="#465ecf"/>
<rect x="440.32" y="170.48" width="10.03" height="10.47" fill="#3c4ec2"/>
<rect x="449.85" y="170.48" width="10.03" height="10.47" fill="#3c4ec2"/>
<rect x="459.38" y="170.48" width="9.53" height="10.47" fill="#3c4ec2"/>
<rect x="470.36" y="170.48" width="10.03" height="10.47" fill="#3c4ec2"/>
<rect x="479.89" y="170.48" width="10.03" height="10.47" fill="#3c4ec2"/>
<rect x="489.42" y="170.48" width="10.03" height="10.47" fill="#6a8bef"/>
<rect x="498.95" y="170.48" width="9.53" height="10.47" fill="#3c4ec2"/>
<rect x="509.93" y="170.48" width="10.03" height="10.47" fill="#3c4ec2"/>
<rect x="519.46" y="170.48" width="10.03" height="10.47" fill="#3c4ec2"/>
<rect x="528.99" y="170.48" width="10.03" height="10.47" fill="#3c4ec2"/>
<rect x="538.52" y="170.48" width="9.53" height="10.47" fill="#3c4ec2"/>
<rect x="350.2" y="180.45" width="9.53" height="9.97" fill="#3c4ec2"/>
<rect x="361.18" y="180.45" width="10.03" height="9.97" fill="#3c4ec2"/>
<rect x="370.71" y="180.45" width="10.03" height="9.97" fill="#3c4ec2"/>
<rect x="380.24" y="180.45" width="10.03" height="9.97" fill="#3c4ec2"/>
<rect x="389.77" y="180.45" width="10.03" height="9.97" fill="#3c4ec2"/>
<rect x="399.3" y="180.45" width="10.03" height="9.97" fill="#3c4ec2"/>
<rect x="408.83" y="180.45" width="10.03" height="9.97" fill="#3c4ec2"/>
<rect x="418.36" y="180.45" width="9.53" height="9.97" fill="#3c4ec2"/>
<rect x="429.34" y="180.45" width="9.53" height="9.97" fill="#3c4ec2"/>
<rect x="440.32" y="180.45" width="10.03" height="9.97" fill="#3c4ec2"/>
<rect x="449.85" y="180.45" width="10.03" height="9.97" fill="#3c4ec2"/>
<rect x="459.38" y="180.45" width="9.53" height="9.97" fill="#3c4ec2"/>
<rect x="470.36" y="180.45" width="10.03" height="9.97" fill="#3c4ec2"/>
<rect x="479.89" y="180.45" width="10.03" height="9.97" fill="#3c4ec2"/>
<rect x="489.42" y="180.45" width="10.03" height="9.97" fill="#3c4ec2"/>
<rect x="498.95" y="180.45" width="9.53" height="9.97" fill="#e9d5cb"/>
<rect x="509.93" y="180.45" width="10.03" height="9.97" fill="#3c4ec2"/>
<rect x="519.46" y="180.45" width="10.03" height="9.97" fill="#3c4ec2"/>
<rect x="528.99" y="180.45" width="10.03" height="9.97" fill="#3c4ec2"/>
<rect x="538.52" y="180.45" width="9.53" height="9.97" fill="#3c4ec2"/>
<rect x="350.2" y="192.62" width="9.53" height="10.47" fill="#3c4ec2"/>
<rect x="361.18" y="192.62" width="10.03" height="10.47" fill="#3c4ec2"/>
<rect x="370.71" y="192.62" width="10.03" height="10.47" fill="#3c4ec2"/>
<rect x="380.24" y="192.62" width="10.03" height="10.47" fill="#3c4ec2"/>
<rect x="389.77" y="192.62" width="10.03" height="10.47" fill="#3c4ec2"/>
<rect x="399.3" y="192.62" width="10.03" height="10.47" fill="#3c4ec2"/>
<rect x="408.83" y="192.62" width="10.03" height="10.47" fill="#3c4ec2"/>
<rect x="418.36" y="192.62" width="9.53" height="10.47" fill="#3c4ec2"/>
<rect x="429.34" y="192.62" width="9.53" height="10.47" fill="#3c4ec2"/>
<rect x="440.32" y="192.62" width="10.03" height="10.47" fill="#3c4ec2"/>
<rect x="449.85" y="192.62" width="10.03" height="10.47" fill="#3c4ec2"/>
<rect x="459.38" y="192.62" width="9.53" height="10.47" fill="#3c4ec2"/>
<rect x="470.36" y="192.62" width="10.03" height="10.47" fill="#3c4ec2"/>
<rect x="479.89" y="192.62" width="10.03" height="10.47" fill="#3c4ec2"/>
<rect x="489.42" y="192.62" width="10.03" height="10.47" fill="#3c4ec2"/>
<rect x="498.95" y="192.62" width="9.53" height="10.47" fill="#3c4ec2"/>
<rect x="509.93" y="192.62" width="10.03" height="10.47" fill="#f6a586"/>
<rect x="519.46" y="192.62" width="10.03" height="10.47" fill="#3c4ec2"/>
<rect x="528.99" y="192.62" width="10.03" height="10.47" fill="#3c4ec2"/>
<rect x="538.52" y="192.62" width="9.53" height="10.47" fill="#3c4ec2"/>
<rect x="350.2" y="202.59" width="9.53" height="10.47" fill="#3c4ec2"/>
<rect x="361.18" y="202.59" width="10.03" height="10.47" fill="#3c4ec2"/>
<rect x="370.71" y="202.59" width="10.03" height="10.47" fill="#3c4ec2"/>
<rect x="380.24" y="202.59" width="10.03" height="10.47" fill="#3c4ec2"/>
<rect x="389.77" y="202.59" width="10.03" height="10.47" fill="#3c4ec2"/>
<rect x="399.3" y="202.59" width="10.03" height="10.47" fill="#3c4ec2"/>
<rect x="408.83" y="202.59" width="10.03" height="10.47" fill="#3c4ec2"/>
<rect x="418.36" y="202.59" width="9.53" height="10.47" fill="#3c4ec2"/>
<rect x="429.34" y="202.59" width="9.53" height="10.47" fill="#3c4ec2"/>
<rect x="440.32" y="202.59" width="10.03" height="10.47" fill="#3c4ec2"/>
<rect x="449.85" y="202.59" width="10.03" height="10.47" fill="#3c4ec2"/>
<rect x="459.38" y="202.59" width="9.53" height="10.47" fill="#3c4ec2"/>
<rect x="470.36" y="202.59" width="10.03" height="10.47" fill="#3c4ec2"/>
<rect x="479.89" y="202.59" width="10.03" height="10.47" fill="#3c4ec2"/>
<rect x="489.42" y="202.59" width="10.03" height="10.47" fill="#3c4ec2"/>
<rect x="498.95" y="202.59" width="9.53" height="10.47" fill="#3c4ec2"/>
<rect x="509.93" y="202.59" width="10.03" height="10.47" fill="#3c4ec2"/>
<rect x="519.46" y="202.59" width="10.03" height="10.47" fill="#ee8468"/>
<rect x="528.99" y="202.59" width="10.03" height="10.47" fill="#3c4ec2"/>
<rect x="538.52" y="202.59" width="9.53" height="10.47" fill="#3c4ec2"/>
<rect x="350.2" y="212.56" width="9.53" height="10.47" fill="#3c4ec2"/>
<rect x="361.18" y="212.56" width="10.03" height="10.47" fill="#3c4ec2"/>
<rect x="370.71" y="212.56" width="10.03" height="10.47" fill="#3c4ec2"/>
<rect x="380.24" y="212.56" width="10.03" height="10.47" fill="#3c4ec2"/>
<rect x="389.77" y="212.56" width="10.03" height="10.47" fill="#3c4ec2"/>
<rect x="399.3" y="212.56" width="10.03" height="10.47" fill="#3c4ec2"/>
<rect x="408.83" y="212.56" width="10.03" height="10.47" fill="#3c4ec2"/>
<rect x="418.36" y="212.56" width="9.53" height="10.47" fill="#3c4ec2"/>
<rect x="429.34" y="212.56" width="9.53" height="10.47" fill="#3c4ec2"/>
<rect x="440.32" y="212.56" width="10.03" height="10.47" fill="#3c4ec2"/>
<rect x="449.85" y="212.56" width="10.03" height="10.47" fill="#3c4ec2"/>
<rect x="459.38" y="212.56" width="9.53" height="10.47" fill="#3c4ec2"/>
<rect x="470.36" y="212.56" width="10.03" height="10.47" fill="#3c4ec2"/>
<rect x="479.89" y="212.56" width="10.03" height="10.47" fill="#5977e3"/>
<rect x="489.42" y="212.56" width="10.03" height="10.47" fill="#3c4ec2"/>
<rect x="498.95" y="212.56" width="9.53" height="10.47" fill="#3c4ec2"/>
<rect x="509.93" y="212.56" width="10.03" height="10.47" fill="#3c4ec2"/>
<rect x="519.46" y="212.56" width="10.03" height="10.47" fill="#3c4ec2"/>
<rect x="528.99" y="212.56" width="10.03" height="10.47" fill="#f7b396"/>
<rect x="538.52" y="212.56" width="9.53" height="10.47" fill="#3c4ec2"/>
<rect x="350.2" y="222.53" width="9.53" height="9.97" fill="#3c4ec2"/>
<rect x="361.18" y="222.53" width="10.03" height="9.97" fill="#3c4ec2"/>
<rect x="370.71" y="222.53" width="10.03" height="9.97" fill="#3c4ec2"/>
<rect x="380.24" y="222.53" width="10.03" height="9.97" fill="#3c4ec2"/>
<rect x="389.77" y="222.53" width="10.03" height="9.97" fill="#3c4ec2"/>
<rect x="399.3" y="222.53" width="10.03" height="9.97" fill="#3c4ec2"/>
<rect x="408.83" y="222.53" width="10.03" height="9.97" fill="#3c4ec2"/>
<rect x="418.36" y="222.53" width="9.53" height="9.97" fill="#3c4ec2"/>
<rect x="429.34" y="222.53" width="9.53" height="9.97" fill="#3c4ec2"/>
<rect x="440.32" y="222.53" width="10.03" height="9.97" fill="#3c4ec2"/>
<rect x="449.85" y="222.53" width="10.03" height="9.97" fill="#3c4ec2"/>
<rect x="459.38" y="222.53" width="9.53" height="9.97" fill="#3c4ec2"/>
<rect x="470.36" y="222.53" width="10.03" height="9.97" fill="#3c4ec2"/>
<rect x="479.89" y="222.53" width="10.03" height="9.97" fill="#3c4ec2"/>
<rect x="489.42" y="222.53" width="10.03" height="9.97" fill="#3c4ec2"/>
<rect x="498.95" y="222.53" width="9.53" height="9.97" fill="#3c4ec2"/>
<rect x="509.93" y="222.53" width="10.03" height="9.97" fill="#3c4ec2"/>
<rect x="519.46" y="222.53" width="10.03" height="9.97" fill="#4358cb"/>
<rect x="528.99" y="222.53" width="10.03" height="9.97" fill="#465ecf"/>
<rect x="538.52" y="222.53" width="9.53" height="9.97" fill="#e16751"/>
</g>
<rect x="549.5" y="22.1" width="5.1" height="9.97" fill="#7a7a7a"/>
<rect x="549.5" y="34.27" width="5.1" height="69.79" fill="#28978a"/>
<rect x="549.5" y="106.26" width="5.1" height="9.97" fill="#e8213e"/>
<rect x="549.5" y="118.43" width="5.1" height="29.91" fill="#f8a8c8"/>
<rect x="549.5" y="150.54" width="5.1" height="39.88" fill="#adc4f8"/>
<rect x="549.5" y="192.62" width="5.1" height="39.88" fill="#e2a12c"/>
<text x="346.3" y="29.39" font-size="7.6" text-anchor="end">Healthy</text>
<text x="346.3" y="41.55" font-size="7.6" text-anchor="end">SLE</text>
<text x="346.3" y="51.52" font-size="7.6" text-anchor="end">CD</text>
<text x="346.3" y="61.49" font-size="7.6" text-anchor="end">RA</text>
<text x="346.3" y="71.47" font-size="7.6" text-anchor="end">UC</text>
<text x="346.3" y="81.44" font-size="7.6" text-anchor="end">PSA</text>
<text x="346.3" y="91.41" font-size="7.6" text-anchor="end">PS</text>
<text x="346.3" y="101.38" font-size="7.6" text-anchor="end">MS</text>
<text x="346.3" y="113.55" font-size="7.6" text-anchor="end">Sepsis</text>
<text x="346.3" y="125.72" font-size="7.6" text-anchor="end">Asthma</text>
<text x="346.3" y="135.69" font-size="7.6" text-anchor="end">Cirrhosis</text>
<text x="346.3" y="145.66" font-size="7.6" text-anchor="end">COPD</text>
<text x="346.3" y="157.83" font-size="7.6" text-anchor="end">COVID</text>
<text x="346.3" y="167.8" font-size="7.6" text-anchor="end">HBV</text>
<text x="346.3" y="177.77" font-size="7.6" text-anchor="end">Flu</text>
<text x="346.3" y="187.74" font-size="7.6" text-anchor="end">HIV</text>
<text x="346.3" y="199.91" font-size="7.6" text-anchor="end">HNSCC</text>
<text x="346.3" y="209.88" font-size="7.6" text-anchor="end">BRCA</text>
<text x="346.3" y="219.84" font-size="7.6" text-anchor="end">NPC</text>
<text x="346.3" y="229.81" font-size="7.6" text-anchor="end">CRC</text>
<text x="356.26" y="236.6" font-size="7.6" text-anchor="end" transform="rotate(-90 356.26 236.6)">Healthy</text>
<text x="367.25" y="236.6" font-size="7.6" text-anchor="end" transform="rotate(-90 367.25 236.6)">SLE</text>
<text x="376.78" y="236.6" font-size="7.6" text-anchor="end" transform="rotate(-90 376.78 236.6)">CD</text>
<text x="386.31" y="236.6" font-size="7.6" text-anchor="end" transform="rotate(-90 386.31 236.6)">RA</text>
<text x="395.83" y="236.6" font-size="7.6" text-anchor="end" transform="rotate(-90 395.83 236.6)">UC</text>
<text x="405.37" y="236.6" font-size="7.6" text-anchor="end" transform="rotate(-90 405.37 236.6)">PSA</text>
<text x="414.9" y="236.6" font-size="7.6" text-anchor="end" transform="rotate(-90 414.9 236.6)">PS</text>
<text x="424.43" y="236.6" font-size="7.6" text-anchor="end" transform="rotate(-90 424.43 236.6)">MS</text>
<text x="435.41" y="236.6" font-size="7.6" text-anchor="end" transform="rotate(-90 435.41 236.6)">Sepsis</text>
<text x="446.38" y="236.6" font-size="7.6" text-anchor="end" transform="rotate(-90 446.38 236.6)">Asthma</text>
<text x="455.92" y="236.6" font-size="7.6" text-anchor="end" transform="rotate(-90 455.92 236.6)">Cirrhosis</text>
<text x="465.44" y="236.6" font-size="7.6" text-anchor="end" transform="rotate(-90 465.44 236.6)">COPD</text>
<text x="476.43" y="236.6" font-size="7.6" text-anchor="end" transform="rotate(-90 476.43 236.6)">COVID</text>
<text x="485.95" y="236.6" font-size="7.6" text-anchor="end" transform="rotate(-90 485.95 236.6)">HBV</text>
<text x="495.48" y="236.6" font-size="7.6" text-anchor="end" transform="rotate(-90 495.48 236.6)">Flu</text>
<text x="505.01" y="236.6" font-size="7.6" text-anchor="end" transform="rotate(-90 505.01 236.6)">HIV</text>
<text x="515.99" y="236.6" font-size="7.6" text-anchor="end" transform="rotate(-90 515.99 236.6)">HNSCC</text>
<text x="525.52" y="236.6" font-size="7.6" text-anchor="end" transform="rotate(-90 525.52 236.6)">BRCA</text>
<text x="535.05" y="236.6" font-size="7.6" text-anchor="end" transform="rotate(-90 535.05 236.6)">NPC</text>
<text x="544.58" y="236.6" font-size="7.6" text-anchor="end" transform="rotate(-90 544.58 236.6)">CRC</text>
<text x="449.1" y="9.6" font-size="9" text-anchor="middle">XGBoost trained on</text>
<text x="449.1" y="18.7" font-size="9" text-anchor="middle">non-corrected expression</text>
<text x="449.1" y="282.2" font-size="8.8" text-anchor="middle" textLength="62" lengthAdjust="spacingAndGlyphs">True conditions</text>
<text x="301.2" y="116.8" font-size="8.8" text-anchor="middle" textLength="84" lengthAdjust="spacingAndGlyphs" transform="rotate(-90 301.2 116.8)">Predicted conditions</text>
<text x="-0.6" y="8.1" font-size="13.5" fill="#000" font-weight="bold">a</text>
<text x="0" y="307.5" font-size="13.5" fill="#000" font-weight="bold">b</text>
<text x="-0.6" y="475" font-size="13.5" fill="#000" font-weight="bold">c</text>
<text x="-0.3" y="664.6" font-size="13.5" fill="#000" font-weight="bold">d</text>
<defs><linearGradient id="cw" x1="0" y1="1" x2="0" y2="0">
<stop offset="0" stop-color="#3b4cc0"/>
<stop offset="0.1" stop-color="#5977e3"/>
<stop offset="0.2" stop-color="#7b9ff9"/>
<stop offset="0.3" stop-color="#9ebeff"/>
<stop offset="0.4" stop-color="#c0d4f5"/>
<stop offset="0.5" stop-color="#dddcdc"/>
<stop offset="0.6" stop-color="#f2cbb7"/>
<stop offset="0.7" stop-color="#f7ac8e"/>
<stop offset="0.8" stop-color="#ee8468"/>
<stop offset="0.9" stop-color="#d65244"/>
<stop offset="1" stop-color="#b40426"/>
</linearGradient></defs>
<text x="586.2" y="71.7" font-size="8.5" textLength="42.1" lengthAdjust="spacingAndGlyphs">Proportion</text>
<text x="586.2" y="81.4" font-size="8.5" textLength="44.2" lengthAdjust="spacingAndGlyphs">(col.norm.)</text>
<rect x="587" y="87.8" width="8.7" height="28.7" fill="url(#cw)" stroke="#555" stroke-width="0.35"/>
<line x1="595.7" y1="87.8" x2="595.7" y2="116.5" stroke="#222" stroke-width="0.6"/>
<line x1="595.8" y1="87.8" x2="597.6" y2="87.8" stroke="#444" stroke-width="0.6"/>
<text x="601.8" y="90.5" font-size="8.3">1.0</text>
<line x1="595.8" y1="102.15" x2="597.6" y2="102.15" stroke="#444" stroke-width="0.6"/>
<text x="601.8" y="104.85" font-size="8.3">0.5</text>
<line x1="595.8" y1="116.5" x2="597.6" y2="116.5" stroke="#444" stroke-width="0.6"/>
<text x="601.8" y="119.2" font-size="8.3">0</text>
<text x="586.3" y="139.8" font-size="8.5" textLength="59.3" lengthAdjust="spacingAndGlyphs">Disease group:</text>
<rect x="586.8" y="144" width="7.8" height="7.6" fill="#28978a" stroke="#666" stroke-width="0.3"/>
<text x="598.9" y="150.3" font-size="7.7">IMIDs</text>
<rect x="586.8" y="156.25" width="7.8" height="7.6" fill="#e8213e" stroke="#666" stroke-width="0.3"/>
<text x="598.9" y="162.55" font-size="7.7">Chronic inflammation</text>
<rect x="586.8" y="168.5" width="7.8" height="7.6" fill="#f8a8c8" stroke="#666" stroke-width="0.3"/>
<text x="598.9" y="174.8" font-size="7.7">Acute inflammation</text>
<rect x="586.8" y="180.75" width="7.8" height="7.6" fill="#adc4f8" stroke="#666" stroke-width="0.3"/>
<text x="598.9" y="187.05" font-size="7.7">Infection</text>
<rect x="586.8" y="193" width="7.8" height="7.6" fill="#e2a12c" stroke="#666" stroke-width="0.3"/>
<text x="598.9" y="199.3" font-size="7.7">Solid tumors</text>
<rect x="586.8" y="205.25" width="7.8" height="7.6" fill="#7a7a7a" stroke="#666" stroke-width="0.3"/>
<text x="598.9" y="211.55" font-size="7.7">Healthy</text>
<text x="61.5" y="317.6" font-size="8.6" text-anchor="middle">B</text>
<path d="M36.2 324.2V367.3H86.8" stroke="#595959" stroke-width="0.8" fill="none"/>
<line x1="34" y1="362.4" x2="36.2" y2="362.4" stroke="#595959" stroke-width="0.7"/>
<line x1="34" y1="348" x2="36.2" y2="348" stroke="#595959" stroke-width="0.7"/>
<line x1="34" y1="333.6" x2="36.2" y2="333.6" stroke="#595959" stroke-width="0.7"/>
<path d="M44.05 340.92V337.63M41.05 337.63H47.05M44.05 345.18V346.1M41.05 346.1H47.05" stroke="#7295e6" stroke-width="0.75" fill="none"/>
<rect x="38.35" y="340.92" width="11.4" height="4.26" fill="#eef2fc" stroke="#7295e6" stroke-width="0.75"/>
<line x1="38.35" y1="343.62" x2="49.75" y2="343.62" stroke="#7295e6" stroke-width="0.75"/>
<path d="M44.05 338.88 44.54 340.14 45.8 340.63 44.54 341.12 44.05 342.38 43.56 341.12 42.3 340.63 43.56 340.14Z" fill="#111"/>
<path d="M57.5 338.21V335.21M54.5 335.21H60.5M57.5 339.82V340.63M54.5 340.63H60.5" stroke="#f08a5b" stroke-width="0.75" fill="none"/>
<rect x="51.8" y="338.21" width="11.4" height="1.61" fill="#fbe2d4" stroke="#f08a5b" stroke-width="0.75"/>
<line x1="51.8" y1="339.01" x2="63.2" y2="339.01" stroke="#f08a5b" stroke-width="0.75"/>
<path d="M57.5 335.88 57.99 337.14 59.25 337.63 57.99 338.12 57.5 339.38 57.01 338.12 55.75 337.63 57.01 337.14Z" fill="#111"/>
<path d="M70.9 335.21V333.08M67.9 333.08H73.9M70.9 337V337.98M67.9 337.98H73.9" stroke="#73c873" stroke-width="0.75" fill="none"/>
<rect x="65.2" y="335.21" width="11.4" height="1.79" fill="#e2f4e2" stroke="#73c873" stroke-width="0.75"/>
<line x1="65.2" y1="336.19" x2="76.6" y2="336.19" stroke="#73c873" stroke-width="0.75"/>
<path d="M70.9 336.46 71.39 337.72 72.65 338.21 71.39 338.7 70.9 339.96 70.41 338.7 69.15 338.21 70.41 337.72Z" fill="#111"/>
<path d="M83.15 328.87L86.05 331.77M83.15 331.77L86.05 328.87" stroke="#2ca02c" stroke-width="1.05" fill="none"/>
<path d="M36.2 370V413.6H86.8" stroke="#595959" stroke-width="0.8" fill="none"/>
<line x1="34" y1="408.3" x2="36.2" y2="408.3" stroke="#595959" stroke-width="0.7"/>
<line x1="34" y1="393.85" x2="36.2" y2="393.85" stroke="#595959" stroke-width="0.7"/>
<line x1="34" y1="379.4" x2="36.2" y2="379.4" stroke="#595959" stroke-width="0.7"/>
<path d="M44.05 398.59V395.41M41.05 395.41H47.05M44.05 403.39V404.89M41.05 404.89H47.05" stroke="#7295e6" stroke-width="0.75" fill="none"/>
<rect x="38.35" y="398.59" width="11.4" height="4.8" fill="#eef2fc" stroke="#7295e6" stroke-width="0.75"/>
<line x1="38.35" y1="401.02" x2="49.75" y2="401.02" stroke="#7295e6" stroke-width="0.75"/>
<path d="M44.05 394.87 44.54 396.13 45.8 396.62 44.54 397.11 44.05 398.37 43.56 397.11 42.3 396.62 43.56 396.13Z" fill="#111"/>
<path d="M57.5 395.41V391.02M54.5 391.02H60.5M57.5 397.61V398.59M54.5 398.59H60.5" stroke="#f08a5b" stroke-width="0.75" fill="none"/>
<rect x="51.8" y="395.41" width="11.4" height="2.2" fill="#fbe2d4" stroke="#f08a5b" stroke-width="0.75"/>
<line x1="51.8" y1="396.45" x2="63.2" y2="396.45" stroke="#f08a5b" stroke-width="0.75"/>
<path d="M57.5 391.23 57.99 392.49 59.25 392.98 57.99 393.47 57.5 394.73 57.01 393.47 55.75 392.98 57.01 392.49Z" fill="#111"/>
<path d="M70.9 391.02V389.4M67.9 389.4H73.9M70.9 393.68V395.41M67.9 395.41H73.9" stroke="#73c873" stroke-width="0.75" fill="none"/>
<rect x="65.2" y="391.02" width="11.4" height="2.66" fill="#e2f4e2" stroke="#73c873" stroke-width="0.75"/>
<line x1="65.2" y1="392.41" x2="76.6" y2="392.41" stroke="#73c873" stroke-width="0.75"/>
<path d="M70.9 388.98 71.39 390.24 72.65 390.73 71.39 391.22 70.9 392.48 70.41 391.22 69.15 390.73 70.41 390.24Z" fill="#111"/>
<path d="M83.15 381.24L86.05 384.14M83.15 384.14L86.05 381.24" stroke="#2ca02c" stroke-width="1.05" fill="none"/>
<text x="44.3" y="420.8" font-size="7.6" text-anchor="end" transform="rotate(-45 44.3 420.8)">29</text>
<text x="58.1" y="420.8" font-size="7.6" text-anchor="end" transform="rotate(-45 58.1 420.8)">55</text>
<text x="71.9" y="420.8" font-size="7.6" text-anchor="end" transform="rotate(-45 71.9 420.8)">100</text>
<text x="86.2" y="420.8" font-size="7.6" text-anchor="end" transform="rotate(-45 86.2 420.8)">466</text>
<text x="29.8" y="365.1" font-size="7.5" text-anchor="end">0.25</text>
<text x="29.8" y="411" font-size="7.5" text-anchor="end">0.25</text>
<text x="29.8" y="350.7" font-size="7.5" text-anchor="end">0.50</text>
<text x="29.8" y="396.55" font-size="7.5" text-anchor="end">0.50</text>
<text x="29.8" y="336.3" font-size="7.5" text-anchor="end">0.75</text>
<text x="29.8" y="382.1" font-size="7.5" text-anchor="end">0.75</text>
<text x="121.1" y="317.6" font-size="8.6" text-anchor="middle">Plasma</text>
<path d="M95.8 324.2V367.3H146.4" stroke="#595959" stroke-width="0.8" fill="none"/>
<line x1="93.6" y1="362.4" x2="95.8" y2="362.4" stroke="#595959" stroke-width="0.7"/>
<line x1="93.6" y1="348" x2="95.8" y2="348" stroke="#595959" stroke-width="0.7"/>
<line x1="93.6" y1="333.6" x2="95.8" y2="333.6" stroke="#595959" stroke-width="0.7"/>
<path d="M103.65 352.03V349.15M100.65 349.15H106.65M103.65 356.64V358.37M100.65 358.37H106.65" stroke="#7295e6" stroke-width="0.75" fill="none"/>
<rect x="97.95" y="352.03" width="11.4" height="4.61" fill="#eef2fc" stroke="#7295e6" stroke-width="0.75"/>
<line x1="97.95" y1="354.34" x2="109.35" y2="354.34" stroke="#7295e6" stroke-width="0.75"/>
<path d="M103.65 343.37 104.14 344.63 105.4 345.12 104.14 345.61 103.65 346.87 103.16 345.61 101.9 345.12 103.16 344.63Z" fill="#111"/>
<path d="M117.1 349.15V348M114.1 348H120.1M117.1 353.18V357.22M114.1 357.22H120.1" stroke="#f08a5b" stroke-width="0.75" fill="none"/>
<rect x="111.4" y="349.15" width="11.4" height="4.03" fill="#fbe2d4" stroke="#f08a5b" stroke-width="0.75"/>
<line x1="111.4" y1="351.17" x2="122.8" y2="351.17" stroke="#f08a5b" stroke-width="0.75"/>
<path d="M117.1 341.64 117.59 342.9 118.85 343.39 117.59 343.88 117.1 345.14 116.61 343.88 115.35 343.39 116.61 342.9Z" fill="#111"/>
<path d="M130.5 345.41V343.97M127.5 343.97H133.5M130.5 348V348.58M127.5 348.58H133.5" stroke="#73c873" stroke-width="0.75" fill="none"/>
<rect x="124.8" y="345.41" width="11.4" height="2.59" fill="#e2f4e2" stroke="#73c873" stroke-width="0.75"/>
<line x1="124.8" y1="346.85" x2="136.2" y2="346.85" stroke="#73c873" stroke-width="0.75"/>
<circle cx="130.5" cy="353.18" r="1.2" fill="none" stroke="#73c873" stroke-width="0.6"/>
<path d="M130.5 339.91 130.99 341.17 132.25 341.66 130.99 342.15 130.5 343.41 130.01 342.15 128.75 341.66 130.01 341.17Z" fill="#111"/>
<path d="M142.75 339.06L145.65 341.96M142.75 341.96L145.65 339.06" stroke="#2ca02c" stroke-width="1.05" fill="none"/>
<path d="M95.8 370V413.6H146.4" stroke="#595959" stroke-width="0.8" fill="none"/>
<line x1="93.6" y1="408.3" x2="95.8" y2="408.3" stroke="#595959" stroke-width="0.7"/>
<line x1="93.6" y1="393.85" x2="95.8" y2="393.85" stroke="#595959" stroke-width="0.7"/>
<line x1="93.6" y1="379.4" x2="95.8" y2="379.4" stroke="#595959" stroke-width="0.7"/>
<path d="M103.65 407.14V405.41M100.65 405.41H106.65M103.65 410.61V411.19M100.65 411.19H106.65" stroke="#7295e6" stroke-width="0.75" fill="none"/>
<rect x="97.95" y="407.14" width="11.4" height="3.47" fill="#eef2fc" stroke="#7295e6" stroke-width="0.75"/>
<line x1="97.95" y1="409.17" x2="109.35" y2="409.17" stroke="#7295e6" stroke-width="0.75"/>
<circle cx="103.65" cy="412.35" r="1.2" fill="none" stroke="#7295e6" stroke-width="0.6"/>
<path d="M103.65 400.19 104.14 401.45 105.4 401.94 104.14 402.43 103.65 403.69 103.16 402.43 101.9 401.94 103.16 401.45Z" fill="#111"/>
<path d="M117.1 404.83V403.68M114.1 403.68H120.1M117.1 408.3V410.03M114.1 410.03H120.1" stroke="#f08a5b" stroke-width="0.75" fill="none"/>
<rect x="111.4" y="404.83" width="11.4" height="3.47" fill="#fbe2d4" stroke="#f08a5b" stroke-width="0.75"/>
<line x1="111.4" y1="406.57" x2="122.8" y2="406.57" stroke="#f08a5b" stroke-width="0.75"/>
<path d="M117.1 399.61 117.59 400.87 118.85 401.36 117.59 401.85 117.1 403.11 116.61 401.85 115.35 401.36 116.61 400.87Z" fill="#111"/>
<path d="M130.5 403.1V401.36M127.5 401.36H133.5M130.5 405.41V405.99M127.5 405.99H133.5" stroke="#73c873" stroke-width="0.75" fill="none"/>
<rect x="124.8" y="403.1" width="11.4" height="2.31" fill="#e2f4e2" stroke="#73c873" stroke-width="0.75"/>
<line x1="124.8" y1="404.25" x2="136.2" y2="404.25" stroke="#73c873" stroke-width="0.75"/>
<circle cx="130.5" cy="408.3" r="1.2" fill="none" stroke="#73c873" stroke-width="0.6"/>
<path d="M130.5 398.46 130.99 399.72 132.25 400.21 130.99 400.7 130.5 401.96 130.01 400.7 128.75 400.21 130.01 399.72Z" fill="#111"/>
<path d="M142.75 397.6L145.65 400.5M142.75 400.5L145.65 397.6" stroke="#2ca02c" stroke-width="1.05" fill="none"/>
<text x="103.9" y="420.8" font-size="7.6" text-anchor="end" transform="rotate(-45 103.9 420.8)">30</text>
<text x="117.7" y="420.8" font-size="7.6" text-anchor="end" transform="rotate(-45 117.7 420.8)">54</text>
<text x="131.5" y="420.8" font-size="7.6" text-anchor="end" transform="rotate(-45 131.5 420.8)">107</text>
<text x="145.8" y="420.8" font-size="7.6" text-anchor="end" transform="rotate(-45 145.8 420.8)">592</text>
<text x="180.7" y="317.6" font-size="8.6" text-anchor="middle">pDC</text>
<path d="M155.4 324.2V367.3H206" stroke="#595959" stroke-width="0.8" fill="none"/>
<line x1="153.2" y1="362.4" x2="155.4" y2="362.4" stroke="#595959" stroke-width="0.7"/>
<line x1="153.2" y1="348" x2="155.4" y2="348" stroke="#595959" stroke-width="0.7"/>
<line x1="153.2" y1="333.6" x2="155.4" y2="333.6" stroke="#595959" stroke-width="0.7"/>
<path d="M163.25 341.09V338.78M160.25 338.78H166.25M163.25 342.82V345.12M160.25 345.12H166.25" stroke="#7295e6" stroke-width="0.75" fill="none"/>
<rect x="157.55" y="341.09" width="11.4" height="1.73" fill="#eef2fc" stroke="#7295e6" stroke-width="0.75"/>
<line x1="157.55" y1="341.95" x2="168.95" y2="341.95" stroke="#7295e6" stroke-width="0.75"/>
<circle cx="163.25" cy="346.27" r="1.2" fill="none" stroke="#7295e6" stroke-width="0.6"/>
<path d="M163.25 333.58 163.74 334.84 165 335.33 163.74 335.82 163.25 337.08 162.76 335.82 161.5 335.33 162.76 334.84Z" fill="#111"/>
<path d="M176.7 337.63V336.48M173.7 336.48H179.7M176.7 340.51V341.09M173.7 341.09H179.7" stroke="#f08a5b" stroke-width="0.75" fill="none"/>
<rect x="171" y="337.63" width="11.4" height="2.88" fill="#fbe2d4" stroke="#f08a5b" stroke-width="0.75"/>
<line x1="171" y1="339.07" x2="182.4" y2="339.07" stroke="#f08a5b" stroke-width="0.75"/>
<circle cx="176.7" cy="342.82" r="1.2" fill="none" stroke="#f08a5b" stroke-width="0.6"/>
<path d="M176.7 334.73 177.19 335.99 178.45 336.48 177.19 336.97 176.7 338.23 176.21 336.97 174.95 336.48 176.21 335.99Z" fill="#111"/>
<path d="M190.1 335.9V334.75M187.1 334.75H193.1M190.1 337.63V338.78M187.1 338.78H193.1" stroke="#73c873" stroke-width="0.75" fill="none"/>
<rect x="184.4" y="335.9" width="11.4" height="1.73" fill="#e2f4e2" stroke="#73c873" stroke-width="0.75"/>
<line x1="184.4" y1="336.77" x2="195.8" y2="336.77" stroke="#73c873" stroke-width="0.75"/>
<path d="M190.1 331.27 190.59 332.53 191.85 333.02 190.59 333.51 190.1 334.77 189.61 333.51 188.35 333.02 189.61 332.53Z" fill="#111"/>
<path d="M202.35 331.57L205.25 334.47M202.35 334.47L205.25 331.57" stroke="#2ca02c" stroke-width="1.05" fill="none"/>
<path d="M155.4 370V413.6H206" stroke="#595959" stroke-width="0.8" fill="none"/>
<line x1="153.2" y1="408.3" x2="155.4" y2="408.3" stroke="#595959" stroke-width="0.7"/>
<line x1="153.2" y1="393.85" x2="155.4" y2="393.85" stroke="#595959" stroke-width="0.7"/>
<line x1="153.2" y1="379.4" x2="155.4" y2="379.4" stroke="#595959" stroke-width="0.7"/>
<path d="M163.25 404.25V401.36M160.25 401.36H166.25M163.25 405.99V407.14M160.25 407.14H166.25" stroke="#7295e6" stroke-width="0.75" fill="none"/>
<rect x="157.55" y="404.25" width="11.4" height="1.73" fill="#eef2fc" stroke="#7295e6" stroke-width="0.75"/>
<line x1="157.55" y1="405.12" x2="168.95" y2="405.12" stroke="#7295e6" stroke-width="0.75"/>
<circle cx="163.25" cy="407.72" r="1.2" fill="none" stroke="#7295e6" stroke-width="0.6"/>
<path d="M163.25 393.26 163.74 394.52 165 395.01 163.74 395.5 163.25 396.76 162.76 395.5 161.5 395.01 162.76 394.52Z" fill="#111"/>
<path d="M176.7 400.79V399.05M173.7 399.05H179.7M176.7 403.1V403.68M173.7 403.68H179.7" stroke="#f08a5b" stroke-width="0.75" fill="none"/>
<rect x="171" y="400.79" width="11.4" height="2.31" fill="#fbe2d4" stroke="#f08a5b" stroke-width="0.75"/>
<line x1="171" y1="401.94" x2="182.4" y2="401.94" stroke="#f08a5b" stroke-width="0.75"/>
<circle cx="176.7" cy="405.41" r="1.2" fill="none" stroke="#f08a5b" stroke-width="0.6"/>
<path d="M176.7 394.41 177.19 395.67 178.45 396.16 177.19 396.65 176.7 397.91 176.21 396.65 174.95 396.16 176.21 395.67Z" fill="#111"/>
<path d="M190.1 399.05V397.9M187.1 397.9H193.1M190.1 401.94V402.52M187.1 402.52H193.1" stroke="#73c873" stroke-width="0.75" fill="none"/>
<rect x="184.4" y="399.05" width="11.4" height="2.89" fill="#e2f4e2" stroke="#73c873" stroke-width="0.75"/>
<line x1="184.4" y1="400.5" x2="195.8" y2="400.5" stroke="#73c873" stroke-width="0.75"/>
<path d="M190.1 392.1 190.59 393.36 191.85 393.85 190.59 394.34 190.1 395.6 189.61 394.34 188.35 393.85 189.61 393.36Z" fill="#111"/>
<path d="M202.35 392.4L205.25 395.3M202.35 395.3L205.25 392.4" stroke="#2ca02c" stroke-width="1.05" fill="none"/>
<text x="163.5" y="420.8" font-size="7.6" text-anchor="end" transform="rotate(-45 163.5 420.8)">34</text>
<text x="177.3" y="420.8" font-size="7.6" text-anchor="end" transform="rotate(-45 177.3 420.8)">64</text>
<text x="191.1" y="420.8" font-size="7.6" text-anchor="end" transform="rotate(-45 191.1 420.8)">112</text>
<text x="205.4" y="420.8" font-size="7.6" text-anchor="end" transform="rotate(-45 205.4 420.8)">522</text>
<text x="240.3" y="317.6" font-size="8.6" text-anchor="middle">DC</text>
<path d="M215 324.2V367.3H265.6" stroke="#595959" stroke-width="0.8" fill="none"/>
<line x1="212.8" y1="362.4" x2="215" y2="362.4" stroke="#595959" stroke-width="0.7"/>
<line x1="212.8" y1="348" x2="215" y2="348" stroke="#595959" stroke-width="0.7"/>
<line x1="212.8" y1="333.6" x2="215" y2="333.6" stroke="#595959" stroke-width="0.7"/>
<path d="M222.85 334.46V333.6M219.85 333.6H225.85M222.85 337.63V339.36M219.85 339.36H225.85" stroke="#7295e6" stroke-width="0.75" fill="none"/>
<rect x="217.15" y="334.46" width="11.4" height="3.17" fill="#eef2fc" stroke="#7295e6" stroke-width="0.75"/>
<line x1="217.15" y1="335.9" x2="228.55" y2="335.9" stroke="#7295e6" stroke-width="0.75"/>
<path d="M222.85 332.14 223.34 333.4 224.6 333.89 223.34 334.38 222.85 335.64 222.36 334.38 221.1 333.89 222.36 333.4Z" fill="#111"/>
<path d="M236.3 331.3V329.57M233.3 329.57H239.3M236.3 334.46V336.48M233.3 336.48H239.3" stroke="#f08a5b" stroke-width="0.75" fill="none"/>
<rect x="230.6" y="331.3" width="11.4" height="3.17" fill="#fbe2d4" stroke="#f08a5b" stroke-width="0.75"/>
<line x1="230.6" y1="333.02" x2="242" y2="333.02" stroke="#f08a5b" stroke-width="0.75"/>
<path d="M236.3 328.39 236.79 329.65 238.05 330.14 236.79 330.63 236.3 331.89 235.81 330.63 234.55 330.14 235.81 329.65Z" fill="#111"/>
<path d="M249.7 330.14V329.57M246.7 329.57H252.7M249.7 332.45V333.02M246.7 333.02H252.7" stroke="#73c873" stroke-width="0.75" fill="none"/>
<rect x="244" y="330.14" width="11.4" height="2.3" fill="#e2f4e2" stroke="#73c873" stroke-width="0.75"/>
<line x1="244" y1="331.3" x2="255.4" y2="331.3" stroke="#73c873" stroke-width="0.75"/>
<path d="M249.7 334.73 250.19 335.99 251.45 336.48 250.19 336.97 249.7 338.23 249.21 336.97 247.95 336.48 249.21 335.99Z" fill="#111"/>
<path d="M261.95 329.27L264.85 332.17M261.95 332.17L264.85 329.27" stroke="#2ca02c" stroke-width="1.05" fill="none"/>
<path d="M215 370V413.6H265.6" stroke="#595959" stroke-width="0.8" fill="none"/>
<line x1="212.8" y1="408.3" x2="215" y2="408.3" stroke="#595959" stroke-width="0.7"/>
<line x1="212.8" y1="393.85" x2="215" y2="393.85" stroke="#595959" stroke-width="0.7"/>
<line x1="212.8" y1="379.4" x2="215" y2="379.4" stroke="#595959" stroke-width="0.7"/>
<path d="M222.85 398.47V397.32M219.85 397.32H225.85M222.85 403.1V405.99M219.85 405.99H225.85" stroke="#7295e6" stroke-width="0.75" fill="none"/>
<rect x="217.15" y="398.47" width="11.4" height="4.62" fill="#eef2fc" stroke="#7295e6" stroke-width="0.75"/>
<line x1="217.15" y1="400.79" x2="228.55" y2="400.79" stroke="#7295e6" stroke-width="0.75"/>
<path d="M222.85 395.57 223.34 396.83 224.6 397.32 223.34 397.81 222.85 399.07 222.36 397.81 221.1 397.32 222.36 396.83Z" fill="#111"/>
<path d="M236.3 394.43V392.69M233.3 392.69H239.3M236.3 398.47V400.79M233.3 400.79H239.3" stroke="#f08a5b" stroke-width="0.75" fill="none"/>
<rect x="230.6" y="394.43" width="11.4" height="4.05" fill="#fbe2d4" stroke="#f08a5b" stroke-width="0.75"/>
<line x1="230.6" y1="396.45" x2="242" y2="396.45" stroke="#f08a5b" stroke-width="0.75"/>
<path d="M236.3 389.21 236.79 390.47 238.05 390.96 236.79 391.45 236.3 392.71 235.81 391.45 234.55 390.96 235.81 390.47Z" fill="#111"/>
<path d="M249.7 391.54V390.96M246.7 390.96H252.7M249.7 394.43V395.58M246.7 395.58H252.7" stroke="#73c873" stroke-width="0.75" fill="none"/>
<rect x="244" y="391.54" width="11.4" height="2.89" fill="#e2f4e2" stroke="#73c873" stroke-width="0.75"/>
<line x1="244" y1="392.98" x2="255.4" y2="392.98" stroke="#73c873" stroke-width="0.75"/>
<path d="M249.7 392.68 250.19 393.94 251.45 394.43 250.19 394.92 249.7 396.18 249.21 394.92 247.95 394.43 249.21 393.94Z" fill="#111"/>
<path d="M261.95 390.09L264.85 392.99M261.95 392.99L264.85 390.09" stroke="#2ca02c" stroke-width="1.05" fill="none"/>
<text x="223.1" y="420.8" font-size="7.6" text-anchor="end" transform="rotate(-45 223.1 420.8)">32</text>
<text x="236.9" y="420.8" font-size="7.6" text-anchor="end" transform="rotate(-45 236.9 420.8)">65</text>
<text x="250.7" y="420.8" font-size="7.6" text-anchor="end" transform="rotate(-45 250.7 420.8)">118</text>
<text x="265" y="420.8" font-size="7.6" text-anchor="end" transform="rotate(-45 265 420.8)">649</text>
<text x="299.9" y="317.6" font-size="8.6" text-anchor="middle">Mono</text>
<path d="M274.6 324.2V367.3H325.2" stroke="#595959" stroke-width="0.8" fill="none"/>
<line x1="272.4" y1="362.4" x2="274.6" y2="362.4" stroke="#595959" stroke-width="0.7"/>
<line x1="272.4" y1="348" x2="274.6" y2="348" stroke="#595959" stroke-width="0.7"/>
<line x1="272.4" y1="333.6" x2="274.6" y2="333.6" stroke="#595959" stroke-width="0.7"/>
<path d="M282.45 336.48V334.18M279.45 334.18H285.45M282.45 340.51V341.66M279.45 341.66H285.45" stroke="#7295e6" stroke-width="0.75" fill="none"/>
<rect x="276.75" y="336.48" width="11.4" height="4.03" fill="#eef2fc" stroke="#7295e6" stroke-width="0.75"/>
<line x1="276.75" y1="338.5" x2="288.15" y2="338.5" stroke="#7295e6" stroke-width="0.75"/>
<path d="M282.45 330.7 282.94 331.96 284.2 332.45 282.94 332.94 282.45 334.2 281.96 332.94 280.7 332.45 281.96 331.96Z" fill="#111"/>
<path d="M295.9 333.6V332.45M292.9 332.45H298.9M295.9 337.06V338.21M292.9 338.21H298.9" stroke="#f08a5b" stroke-width="0.75" fill="none"/>
<rect x="290.2" y="333.6" width="11.4" height="3.46" fill="#fbe2d4" stroke="#f08a5b" stroke-width="0.75"/>
<line x1="290.2" y1="335.33" x2="301.6" y2="335.33" stroke="#f08a5b" stroke-width="0.75"/>
<path d="M295.9 328.39 296.39 329.65 297.65 330.14 296.39 330.63 295.9 331.89 295.41 330.63 294.15 330.14 295.41 329.65Z" fill="#111"/>
<path d="M309.3 330.14V328.99M306.3 328.99H312.3M309.3 331.87V333.02M306.3 333.02H312.3" stroke="#73c873" stroke-width="0.75" fill="none"/>
<rect x="303.6" y="330.14" width="11.4" height="1.73" fill="#e2f4e2" stroke="#73c873" stroke-width="0.75"/>
<line x1="303.6" y1="331.01" x2="315" y2="331.01" stroke="#73c873" stroke-width="0.75"/>
<path d="M309.3 327.82 309.79 329.08 311.05 329.57 309.79 330.06 309.3 331.32 308.81 330.06 307.55 329.57 308.81 329.08Z" fill="#111"/>
<path d="M321.55 325.24L324.45 328.14M321.55 328.14L324.45 325.24" stroke="#2ca02c" stroke-width="1.05" fill="none"/>
<path d="M274.6 370V413.6H325.2" stroke="#595959" stroke-width="0.8" fill="none"/>
<line x1="272.4" y1="408.3" x2="274.6" y2="408.3" stroke="#595959" stroke-width="0.7"/>
<line x1="272.4" y1="393.85" x2="274.6" y2="393.85" stroke="#595959" stroke-width="0.7"/>
<line x1="272.4" y1="379.4" x2="274.6" y2="379.4" stroke="#595959" stroke-width="0.7"/>
<path d="M282.45 397.32V396.16M279.45 396.16H285.45M282.45 400.79V401.36M279.45 401.36H285.45" stroke="#7295e6" stroke-width="0.75" fill="none"/>
<rect x="276.75" y="397.32" width="11.4" height="3.47" fill="#eef2fc" stroke="#7295e6" stroke-width="0.75"/>
<line x1="276.75" y1="399.05" x2="288.15" y2="399.05" stroke="#7295e6" stroke-width="0.75"/>
<path d="M282.45 390.37 282.94 391.63 284.2 392.12 282.94 392.61 282.45 393.87 281.96 392.61 280.7 392.12 281.96 391.63Z" fill="#111"/>
<path d="M295.9 393.27V391.54M292.9 391.54H298.9M295.9 396.16V397.9M292.9 397.9H298.9" stroke="#f08a5b" stroke-width="0.75" fill="none"/>
<rect x="290.2" y="393.27" width="11.4" height="2.89" fill="#fbe2d4" stroke="#f08a5b" stroke-width="0.75"/>
<line x1="290.2" y1="394.72" x2="301.6" y2="394.72" stroke="#f08a5b" stroke-width="0.75"/>
<path d="M295.9 388.63 296.39 389.89 297.65 390.38 296.39 390.87 295.9 392.13 295.41 390.87 294.15 390.38 295.41 389.89Z" fill="#111"/>
<path d="M309.3 387.49V386.34M306.3 386.34H312.3M309.3 390.96V392.12M306.3 392.12H312.3" stroke="#73c873" stroke-width="0.75" fill="none"/>
<rect x="303.6" y="387.49" width="11.4" height="3.47" fill="#e2f4e2" stroke="#73c873" stroke-width="0.75"/>
<line x1="303.6" y1="389.23" x2="315" y2="389.23" stroke="#73c873" stroke-width="0.75"/>
<path d="M309.3 385.74 309.79 387 311.05 387.49 309.79 387.98 309.3 389.24 308.81 387.98 307.55 387.49 308.81 387Z" fill="#111"/>
<path d="M321.55 379.68L324.45 382.58M321.55 382.58L324.45 379.68" stroke="#2ca02c" stroke-width="1.05" fill="none"/>
<text x="282.7" y="420.8" font-size="7.6" text-anchor="end" transform="rotate(-45 282.7 420.8)">35</text>
<text x="296.5" y="420.8" font-size="7.6" text-anchor="end" transform="rotate(-45 296.5 420.8)">64</text>
<text x="310.3" y="420.8" font-size="7.6" text-anchor="end" transform="rotate(-45 310.3 420.8)">114</text>
<text x="324.6" y="420.8" font-size="7.6" text-anchor="end" transform="rotate(-45 324.6 420.8)">612</text>
<text x="359.5" y="308.1" font-size="8.6" text-anchor="middle">T CD4</text>
<text x="359.5" y="317.6" font-size="8.6" text-anchor="middle">naive</text>
<path d="M334.2 324.2V367.3H384.8" stroke="#595959" stroke-width="0.8" fill="none"/>
<line x1="332" y1="362.4" x2="334.2" y2="362.4" stroke="#595959" stroke-width="0.7"/>
<line x1="332" y1="348" x2="334.2" y2="348" stroke="#595959" stroke-width="0.7"/>
<line x1="332" y1="333.6" x2="334.2" y2="333.6" stroke="#595959" stroke-width="0.7"/>
<path d="M342.05 338.5V337.34M339.05 337.34H345.05M342.05 341.38V342.82M339.05 342.82H345.05" stroke="#7295e6" stroke-width="0.75" fill="none"/>
<rect x="336.35" y="338.5" width="11.4" height="2.88" fill="#eef2fc" stroke="#7295e6" stroke-width="0.75"/>
<line x1="336.35" y1="339.94" x2="347.75" y2="339.94" stroke="#7295e6" stroke-width="0.75"/>
<path d="M342.05 335.88 342.54 337.14 343.8 337.63 342.54 338.12 342.05 339.38 341.56 338.12 340.3 337.63 341.56 337.14Z" fill="#111"/>
<path d="M355.5 334.75V333.89M352.5 333.89H358.5M355.5 336.48V337.06M352.5 337.06H358.5" stroke="#f08a5b" stroke-width="0.75" fill="none"/>
<rect x="349.8" y="334.75" width="11.4" height="1.73" fill="#fbe2d4" stroke="#f08a5b" stroke-width="0.75"/>
<line x1="349.8" y1="335.62" x2="361.2" y2="335.62" stroke="#f08a5b" stroke-width="0.75"/>
<path d="M355.5 333 355.99 334.26 357.25 334.75 355.99 335.24 355.5 336.5 355.01 335.24 353.75 334.75 355.01 334.26Z" fill="#111"/>
<path d="M368.9 333.02V332.45M365.9 332.45H371.9M368.9 334.75V335.33M365.9 335.33H371.9" stroke="#73c873" stroke-width="0.75" fill="none"/>
<rect x="363.2" y="333.02" width="11.4" height="1.73" fill="#e2f4e2" stroke="#73c873" stroke-width="0.75"/>
<line x1="363.2" y1="333.89" x2="374.6" y2="333.89" stroke="#73c873" stroke-width="0.75"/>
<path d="M368.9 330.99 369.39 332.25 370.65 332.74 369.39 333.23 368.9 334.49 368.41 333.23 367.15 332.74 368.41 332.25Z" fill="#111"/>
<path d="M381.15 328.69L384.05 331.59M381.15 331.59L384.05 328.69" stroke="#2ca02c" stroke-width="1.05" fill="none"/>
<path d="M334.2 370V413.6H384.8" stroke="#595959" stroke-width="0.8" fill="none"/>
<line x1="332" y1="408.3" x2="334.2" y2="408.3" stroke="#595959" stroke-width="0.7"/>
<line x1="332" y1="393.85" x2="334.2" y2="393.85" stroke="#595959" stroke-width="0.7"/>
<line x1="332" y1="379.4" x2="334.2" y2="379.4" stroke="#595959" stroke-width="0.7"/>
<path d="M342.05 400.21V397.9M339.05 397.9H345.05M342.05 403.39V404.83M339.05 404.83H345.05" stroke="#7295e6" stroke-width="0.75" fill="none"/>
<rect x="336.35" y="400.21" width="11.4" height="3.18" fill="#eef2fc" stroke="#7295e6" stroke-width="0.75"/>
<line x1="336.35" y1="401.94" x2="347.75" y2="401.94" stroke="#7295e6" stroke-width="0.75"/>
<path d="M342.05 390.66 342.54 391.92 343.8 392.41 342.54 392.9 342.05 394.16 341.56 392.9 340.3 392.41 341.56 391.92Z" fill="#111"/>
<path d="M355.5 392.41V391.54M352.5 391.54H358.5M355.5 396.45V398.47M352.5 398.47H358.5" stroke="#f08a5b" stroke-width="0.75" fill="none"/>
<rect x="349.8" y="392.41" width="11.4" height="4.05" fill="#fbe2d4" stroke="#f08a5b" stroke-width="0.75"/>
<line x1="349.8" y1="394.43" x2="361.2" y2="394.43" stroke="#f08a5b" stroke-width="0.75"/>
<path d="M355.5 388.34 355.99 389.6 357.25 390.09 355.99 390.58 355.5 391.84 355.01 390.58 353.75 390.09 355.01 389.6Z" fill="#111"/>
<path d="M368.9 389.23V388.65M365.9 388.65H371.9M368.9 392.12V392.69M365.9 392.69H371.9" stroke="#73c873" stroke-width="0.75" fill="none"/>
<rect x="363.2" y="389.23" width="11.4" height="2.89" fill="#e2f4e2" stroke="#73c873" stroke-width="0.75"/>
<line x1="363.2" y1="390.67" x2="374.6" y2="390.67" stroke="#73c873" stroke-width="0.75"/>
<path d="M368.9 386.9 369.39 388.16 370.65 388.65 369.39 389.14 368.9 390.4 368.41 389.14 367.15 388.65 368.41 388.16Z" fill="#111"/>
<path d="M381.15 380.55L384.05 383.45M381.15 383.45L384.05 380.55" stroke="#2ca02c" stroke-width="1.05" fill="none"/>
<text x="342.3" y="420.8" font-size="7.6" text-anchor="end" transform="rotate(-45 342.3 420.8)">31</text>
<text x="356.1" y="420.8" font-size="7.6" text-anchor="end" transform="rotate(-45 356.1 420.8)">60</text>
<text x="369.9" y="420.8" font-size="7.6" text-anchor="end" transform="rotate(-45 369.9 420.8)">101</text>
<text x="384.2" y="420.8" font-size="7.6" text-anchor="end" transform="rotate(-45 384.2 420.8)">436</text>
<text x="419.1" y="308.1" font-size="8.6" text-anchor="middle">T CD4</text>
<text x="419.1" y="317.6" font-size="8.6" text-anchor="middle">non-naive</text>
<path d="M393.8 324.2V367.3H444.4" stroke="#595959" stroke-width="0.8" fill="none"/>
<line x1="391.6" y1="362.4" x2="393.8" y2="362.4" stroke="#595959" stroke-width="0.7"/>
<line x1="391.6" y1="348" x2="393.8" y2="348" stroke="#595959" stroke-width="0.7"/>
<line x1="391.6" y1="333.6" x2="393.8" y2="333.6" stroke="#595959" stroke-width="0.7"/>
<path d="M401.65 337.06V335.33M398.65 335.33H404.65M401.65 338.78V341.09M398.65 341.09H404.65" stroke="#7295e6" stroke-width="0.75" fill="none"/>
<rect x="395.95" y="337.06" width="11.4" height="1.73" fill="#eef2fc" stroke="#7295e6" stroke-width="0.75"/>
<line x1="395.95" y1="337.92" x2="407.35" y2="337.92" stroke="#7295e6" stroke-width="0.75"/>
<circle cx="401.65" cy="341.66" r="1.2" fill="none" stroke="#7295e6" stroke-width="0.6"/>
<path d="M401.65 333.58 402.14 334.84 403.4 335.33 402.14 335.82 401.65 337.08 401.16 335.82 399.9 335.33 401.16 334.84Z" fill="#111"/>
<path d="M415.1 333.6V332.45M412.1 332.45H418.1M415.1 335.9V336.48M412.1 336.48H418.1" stroke="#f08a5b" stroke-width="0.75" fill="none"/>
<rect x="409.4" y="333.6" width="11.4" height="2.3" fill="#fbe2d4" stroke="#f08a5b" stroke-width="0.75"/>
<line x1="409.4" y1="334.75" x2="420.8" y2="334.75" stroke="#f08a5b" stroke-width="0.75"/>
<path d="M415.1 330.12 415.59 331.38 416.85 331.87 415.59 332.36 415.1 333.62 414.61 332.36 413.35 331.87 414.61 331.38Z" fill="#111"/>
<path d="M428.5 330.72V330.14M425.5 330.14H431.5M428.5 333.6V334.18M425.5 334.18H431.5" stroke="#73c873" stroke-width="0.75" fill="none"/>
<rect x="422.8" y="330.72" width="11.4" height="2.88" fill="#e2f4e2" stroke="#73c873" stroke-width="0.75"/>
<line x1="422.8" y1="332.16" x2="434.2" y2="332.16" stroke="#73c873" stroke-width="0.75"/>
<path d="M428.5 328.39 428.99 329.65 430.25 330.14 428.99 330.63 428.5 331.89 428.01 330.63 426.75 330.14 428.01 329.65Z" fill="#111"/>
<path d="M440.75 323.8L443.65 326.7M440.75 326.7L443.65 323.8" stroke="#2ca02c" stroke-width="1.05" fill="none"/>
<path d="M393.8 370V413.6H444.4" stroke="#595959" stroke-width="0.8" fill="none"/>
<line x1="391.6" y1="408.3" x2="393.8" y2="408.3" stroke="#595959" stroke-width="0.7"/>
<line x1="391.6" y1="393.85" x2="393.8" y2="393.85" stroke="#595959" stroke-width="0.7"/>
<line x1="391.6" y1="379.4" x2="393.8" y2="379.4" stroke="#595959" stroke-width="0.7"/>
<path d="M401.65 397.9V396.16M398.65 396.16H404.65M401.65 401.36V403.1M398.65 403.1H404.65" stroke="#7295e6" stroke-width="0.75" fill="none"/>
<rect x="395.95" y="397.9" width="11.4" height="3.47" fill="#eef2fc" stroke="#7295e6" stroke-width="0.75"/>
<line x1="395.95" y1="399.63" x2="407.35" y2="399.63" stroke="#7295e6" stroke-width="0.75"/>
<path d="M401.65 393.83 402.14 395.09 403.4 395.58 402.14 396.07 401.65 397.33 401.16 396.07 399.9 395.58 401.16 395.09Z" fill="#111"/>
<path d="M415.1 392.69V390.96M412.1 390.96H418.1M415.1 395.87V398.47M412.1 398.47H418.1" stroke="#f08a5b" stroke-width="0.75" fill="none"/>
<rect x="409.4" y="392.69" width="11.4" height="3.18" fill="#fbe2d4" stroke="#f08a5b" stroke-width="0.75"/>
<line x1="409.4" y1="394.43" x2="420.8" y2="394.43" stroke="#f08a5b" stroke-width="0.75"/>
<path d="M415.1 387.48 415.59 388.74 416.85 389.23 415.59 389.72 415.1 390.98 414.61 389.72 413.35 389.23 414.61 388.74Z" fill="#111"/>
<path d="M428.5 388.65V387.49M425.5 387.49H431.5M428.5 392.69V393.27M425.5 393.27H431.5" stroke="#73c873" stroke-width="0.75" fill="none"/>
<rect x="422.8" y="388.65" width="11.4" height="4.05" fill="#e2f4e2" stroke="#73c873" stroke-width="0.75"/>
<line x1="422.8" y1="390.67" x2="434.2" y2="390.67" stroke="#73c873" stroke-width="0.75"/>
<path d="M428.5 385.16 428.99 386.42 430.25 386.91 428.99 387.4 428.5 388.66 428.01 387.4 426.75 386.91 428.01 386.42Z" fill="#111"/>
<path d="M440.75 375.64L443.65 378.54M440.75 378.54L443.65 375.64" stroke="#2ca02c" stroke-width="1.05" fill="none"/>
<text x="401.9" y="420.8" font-size="7.6" text-anchor="end" transform="rotate(-45 401.9 420.8)">33</text>
<text x="415.7" y="420.8" font-size="7.6" text-anchor="end" transform="rotate(-45 415.7 420.8)">61</text>
<text x="429.5" y="420.8" font-size="7.6" text-anchor="end" transform="rotate(-45 429.5 420.8)">102</text>
<text x="443.8" y="420.8" font-size="7.6" text-anchor="end" transform="rotate(-45 443.8 420.8)">492</text>
<text x="478.7" y="308.1" font-size="8.6" text-anchor="middle">T CD8</text>
<text x="478.7" y="317.6" font-size="8.6" text-anchor="middle">naive</text>
<path d="M453.4 324.2V367.3H504" stroke="#595959" stroke-width="0.8" fill="none"/>
<line x1="451.2" y1="362.4" x2="453.4" y2="362.4" stroke="#595959" stroke-width="0.7"/>
<line x1="451.2" y1="348" x2="453.4" y2="348" stroke="#595959" stroke-width="0.7"/>
<line x1="451.2" y1="333.6" x2="453.4" y2="333.6" stroke="#595959" stroke-width="0.7"/>
<path d="M461.25 339.94V338.78M458.25 338.78H464.25M461.25 342.82V343.97M458.25 343.97H464.25" stroke="#7295e6" stroke-width="0.75" fill="none"/>
<rect x="455.55" y="339.94" width="11.4" height="2.88" fill="#eef2fc" stroke="#7295e6" stroke-width="0.75"/>
<line x1="455.55" y1="341.38" x2="466.95" y2="341.38" stroke="#7295e6" stroke-width="0.75"/>
<path d="M461.25 336.46 461.74 337.72 463 338.21 461.74 338.7 461.25 339.96 460.76 338.7 459.5 338.21 460.76 337.72Z" fill="#111"/>
<path d="M474.7 336.48V335.33M471.7 335.33H477.7M474.7 339.36V340.51M471.7 340.51H477.7" stroke="#f08a5b" stroke-width="0.75" fill="none"/>
<rect x="469" y="336.48" width="11.4" height="2.88" fill="#fbe2d4" stroke="#f08a5b" stroke-width="0.75"/>
<line x1="469" y1="337.92" x2="480.4" y2="337.92" stroke="#f08a5b" stroke-width="0.75"/>
<circle cx="474.7" cy="342.24" r="1.2" fill="none" stroke="#f08a5b" stroke-width="0.6"/>
<path d="M474.7 331.85 475.19 333.11 476.45 333.6 475.19 334.09 474.7 335.35 474.21 334.09 472.95 333.6 474.21 333.11Z" fill="#111"/>
<path d="M488.1 334.75V334.18M485.1 334.18H491.1M488.1 335.9V336.48M485.1 336.48H491.1" stroke="#73c873" stroke-width="0.75" fill="none"/>
<rect x="482.4" y="334.75" width="11.4" height="1.15" fill="#e2f4e2" stroke="#73c873" stroke-width="0.75"/>
<line x1="482.4" y1="335.33" x2="493.8" y2="335.33" stroke="#73c873" stroke-width="0.75"/>
<circle cx="488.1" cy="337.63" r="1.2" fill="none" stroke="#73c873" stroke-width="0.6"/>
<circle cx="488.1" cy="341.09" r="1.2" fill="none" stroke="#73c873" stroke-width="0.6"/>
<path d="M488.1 331.27 488.59 332.53 489.85 333.02 488.59 333.51 488.1 334.77 487.61 333.51 486.35 333.02 487.61 332.53Z" fill="#111"/>
<path d="M500.35 329.85L503.25 332.75M500.35 332.75L503.25 329.85" stroke="#2ca02c" stroke-width="1.05" fill="none"/>
<path d="M453.4 370V413.6H504" stroke="#595959" stroke-width="0.8" fill="none"/>
<line x1="451.2" y1="408.3" x2="453.4" y2="408.3" stroke="#595959" stroke-width="0.7"/>
<line x1="451.2" y1="393.85" x2="453.4" y2="393.85" stroke="#595959" stroke-width="0.7"/>
<line x1="451.2" y1="379.4" x2="453.4" y2="379.4" stroke="#595959" stroke-width="0.7"/>
<path d="M461.25 400.79V399.63M458.25 399.63H464.25M461.25 404.25V405.41M458.25 405.41H464.25" stroke="#7295e6" stroke-width="0.75" fill="none"/>
<rect x="455.55" y="400.79" width="11.4" height="3.47" fill="#eef2fc" stroke="#7295e6" stroke-width="0.75"/>
<line x1="455.55" y1="402.52" x2="466.95" y2="402.52" stroke="#7295e6" stroke-width="0.75"/>
<path d="M461.25 391.23 461.74 392.49 463 392.98 461.74 393.47 461.25 394.73 460.76 393.47 459.5 392.98 460.76 392.49Z" fill="#111"/>
<path d="M474.7 396.45V395.01M471.7 395.01H477.7M474.7 399.34V400.21M471.7 400.21H477.7" stroke="#f08a5b" stroke-width="0.75" fill="none"/>
<rect x="469" y="396.45" width="11.4" height="2.89" fill="#fbe2d4" stroke="#f08a5b" stroke-width="0.75"/>
<line x1="469" y1="397.9" x2="480.4" y2="397.9" stroke="#f08a5b" stroke-width="0.75"/>
<path d="M474.7 387.76 475.19 389.02 476.45 389.51 475.19 390 474.7 391.26 474.21 390 472.95 389.51 474.21 389.02Z" fill="#111"/>
<path d="M488.1 391.54V390.96M485.1 390.96H491.1M488.1 393.85V394.43M485.1 394.43H491.1" stroke="#73c873" stroke-width="0.75" fill="none"/>
<rect x="482.4" y="391.54" width="11.4" height="2.31" fill="#e2f4e2" stroke="#73c873" stroke-width="0.75"/>
<line x1="482.4" y1="392.69" x2="493.8" y2="392.69" stroke="#73c873" stroke-width="0.75"/>
<circle cx="488.1" cy="396.74" r="1.2" fill="none" stroke="#73c873" stroke-width="0.6"/>
<path d="M488.1 386.32 488.59 387.58 489.85 388.07 488.59 388.56 488.1 389.82 487.61 388.56 486.35 388.07 487.61 387.58Z" fill="#111"/>
<path d="M500.35 380.55L503.25 383.45M500.35 383.45L503.25 380.55" stroke="#2ca02c" stroke-width="1.05" fill="none"/>
<text x="461.5" y="420.8" font-size="7.6" text-anchor="end" transform="rotate(-45 461.5 420.8)">31</text>
<text x="475.3" y="420.8" font-size="7.6" text-anchor="end" transform="rotate(-45 475.3 420.8)">61</text>
<text x="489.1" y="420.8" font-size="7.6" text-anchor="end" transform="rotate(-45 489.1 420.8)">110</text>
<text x="503.4" y="420.8" font-size="7.6" text-anchor="end" transform="rotate(-45 503.4 420.8)">431</text>
<text x="538.3" y="308.1" font-size="8.6" text-anchor="middle">T CD8</text>
<text x="538.3" y="317.6" font-size="8.6" text-anchor="middle">non-naive</text>
<path d="M513 324.2V367.3H563.6" stroke="#595959" stroke-width="0.8" fill="none"/>
<line x1="510.8" y1="362.4" x2="513" y2="362.4" stroke="#595959" stroke-width="0.7"/>
<line x1="510.8" y1="348" x2="513" y2="348" stroke="#595959" stroke-width="0.7"/>
<line x1="510.8" y1="333.6" x2="513" y2="333.6" stroke="#595959" stroke-width="0.7"/>
<path d="M520.85 338.78V337.06M517.85 337.06H523.85M520.85 341.66V342.82M517.85 342.82H523.85" stroke="#7295e6" stroke-width="0.75" fill="none"/>
<rect x="515.15" y="338.78" width="11.4" height="2.88" fill="#eef2fc" stroke="#7295e6" stroke-width="0.75"/>
<line x1="515.15" y1="340.22" x2="526.55" y2="340.22" stroke="#7295e6" stroke-width="0.75"/>
<path d="M520.85 333.58 521.34 334.84 522.6 335.33 521.34 335.82 520.85 337.08 520.36 335.82 519.1 335.33 520.36 334.84Z" fill="#111"/>
<path d="M534.3 335.62V334.18M531.3 334.18H537.3M534.3 338.21V339.36M531.3 339.36H537.3" stroke="#f08a5b" stroke-width="0.75" fill="none"/>
<rect x="528.6" y="335.62" width="11.4" height="2.59" fill="#fbe2d4" stroke="#f08a5b" stroke-width="0.75"/>
<line x1="528.6" y1="337.06" x2="540" y2="337.06" stroke="#f08a5b" stroke-width="0.75"/>
<path d="M534.3 331.85 534.79 333.11 536.05 333.6 534.79 334.09 534.3 335.35 533.81 334.09 532.55 333.6 533.81 333.11Z" fill="#111"/>
<path d="M547.7 333.6V331.87M544.7 331.87H550.7M547.7 335.9V336.48M544.7 336.48H550.7" stroke="#73c873" stroke-width="0.75" fill="none"/>
<rect x="542" y="333.6" width="11.4" height="2.3" fill="#e2f4e2" stroke="#73c873" stroke-width="0.75"/>
<line x1="542" y1="334.75" x2="553.4" y2="334.75" stroke="#73c873" stroke-width="0.75"/>
<path d="M547.7 330.12 548.19 331.38 549.45 331.87 548.19 332.36 547.7 333.62 547.21 332.36 545.95 331.87 547.21 331.38Z" fill="#111"/>
<path d="M559.95 325.24L562.85 328.14M559.95 328.14L562.85 325.24" stroke="#2ca02c" stroke-width="1.05" fill="none"/>
<path d="M513 370V413.6H563.6" stroke="#595959" stroke-width="0.8" fill="none"/>
<line x1="510.8" y1="408.3" x2="513" y2="408.3" stroke="#595959" stroke-width="0.7"/>
<line x1="510.8" y1="393.85" x2="513" y2="393.85" stroke="#595959" stroke-width="0.7"/>
<line x1="510.8" y1="379.4" x2="513" y2="379.4" stroke="#595959" stroke-width="0.7"/>
<path d="M520.85 399.63V396.16M517.85 396.16H523.85M520.85 404.25V405.99M517.85 405.99H523.85" stroke="#7295e6" stroke-width="0.75" fill="none"/>
<rect x="515.15" y="399.63" width="11.4" height="4.62" fill="#eef2fc" stroke="#7295e6" stroke-width="0.75"/>
<line x1="515.15" y1="402.52" x2="526.55" y2="402.52" stroke="#7295e6" stroke-width="0.75"/>
<path d="M520.85 389.21 521.34 390.47 522.6 390.96 521.34 391.45 520.85 392.71 520.36 391.45 519.1 390.96 520.36 390.47Z" fill="#111"/>
<path d="M534.3 396.45V393.85M531.3 393.85H537.3M534.3 400.21V401.36M531.3 401.36H537.3" stroke="#f08a5b" stroke-width="0.75" fill="none"/>
<rect x="528.6" y="396.45" width="11.4" height="3.76" fill="#fbe2d4" stroke="#f08a5b" stroke-width="0.75"/>
<line x1="528.6" y1="398.47" x2="540" y2="398.47" stroke="#f08a5b" stroke-width="0.75"/>
<path d="M534.3 387.48 534.79 388.74 536.05 389.23 534.79 389.72 534.3 390.98 533.81 389.72 532.55 389.23 533.81 388.74Z" fill="#111"/>
<path d="M547.7 390.67V389.23M544.7 389.23H550.7M547.7 395.87V397.32M544.7 397.32H550.7" stroke="#73c873" stroke-width="0.75" fill="none"/>
<rect x="542" y="390.67" width="11.4" height="5.2" fill="#e2f4e2" stroke="#73c873" stroke-width="0.75"/>
<line x1="542" y1="393.27" x2="553.4" y2="393.27" stroke="#73c873" stroke-width="0.75"/>
<path d="M547.7 385.16 548.19 386.42 549.45 386.91 548.19 387.4 547.7 388.66 547.21 387.4 545.95 386.91 547.21 386.42Z" fill="#111"/>
<path d="M559.95 376.22L562.85 379.12M559.95 379.12L562.85 376.22" stroke="#2ca02c" stroke-width="1.05" fill="none"/>
<text x="521.1" y="420.8" font-size="7.6" text-anchor="end" transform="rotate(-45 521.1 420.8)">33</text>
<text x="534.9" y="420.8" font-size="7.6" text-anchor="end" transform="rotate(-45 534.9 420.8)">63</text>
<text x="548.7" y="420.8" font-size="7.6" text-anchor="end" transform="rotate(-45 548.7 420.8)">104</text>
<text x="563" y="420.8" font-size="7.6" text-anchor="end" transform="rotate(-45 563 420.8)">520</text>
<text x="597.9" y="317.6" font-size="8.6" text-anchor="middle">UTC</text>
<path d="M572.6 324.2V367.3H623.2" stroke="#595959" stroke-width="0.8" fill="none"/>
<line x1="570.4" y1="362.4" x2="572.6" y2="362.4" stroke="#595959" stroke-width="0.7"/>
<line x1="570.4" y1="348" x2="572.6" y2="348" stroke="#595959" stroke-width="0.7"/>
<line x1="570.4" y1="333.6" x2="572.6" y2="333.6" stroke="#595959" stroke-width="0.7"/>
<path d="M580.45 340.22V339.65M577.45 339.65H583.45M580.45 343.39V343.97M577.45 343.97H583.45" stroke="#7295e6" stroke-width="0.75" fill="none"/>
<rect x="574.75" y="340.22" width="11.4" height="3.17" fill="#eef2fc" stroke="#7295e6" stroke-width="0.75"/>
<line x1="574.75" y1="341.66" x2="586.15" y2="341.66" stroke="#7295e6" stroke-width="0.75"/>
<path d="M580.45 335.88 580.94 337.14 582.2 337.63 580.94 338.12 580.45 339.38 579.96 338.12 578.7 337.63 579.96 337.14Z" fill="#111"/>
<path d="M593.9 337.06V335.33M590.9 335.33H596.9M593.9 339.94V340.51M590.9 340.51H596.9" stroke="#f08a5b" stroke-width="0.75" fill="none"/>
<rect x="588.2" y="337.06" width="11.4" height="2.88" fill="#fbe2d4" stroke="#f08a5b" stroke-width="0.75"/>
<line x1="588.2" y1="338.5" x2="599.6" y2="338.5" stroke="#f08a5b" stroke-width="0.75"/>
<path d="M593.9 336.46 594.39 337.72 595.65 338.21 594.39 338.7 593.9 339.96 593.41 338.7 592.15 338.21 593.41 337.72Z" fill="#111"/>
<path d="M607.3 335.9V335.33M604.3 335.33H610.3M607.3 338.21V338.78M604.3 338.78H610.3" stroke="#73c873" stroke-width="0.75" fill="none"/>
<rect x="601.6" y="335.9" width="11.4" height="2.3" fill="#e2f4e2" stroke="#73c873" stroke-width="0.75"/>
<line x1="601.6" y1="337.06" x2="613" y2="337.06" stroke="#73c873" stroke-width="0.75"/>
<path d="M607.3 333 607.79 334.26 609.05 334.75 607.79 335.24 607.3 336.5 606.81 335.24 605.55 334.75 606.81 334.26Z" fill="#111"/>
<path d="M619.55 330.42L622.45 333.32M619.55 333.32L622.45 330.42" stroke="#2ca02c" stroke-width="1.05" fill="none"/>
<path d="M572.6 370V413.6H623.2" stroke="#595959" stroke-width="0.8" fill="none"/>
<line x1="570.4" y1="408.3" x2="572.6" y2="408.3" stroke="#595959" stroke-width="0.7"/>
<line x1="570.4" y1="393.85" x2="572.6" y2="393.85" stroke="#595959" stroke-width="0.7"/>
<line x1="570.4" y1="379.4" x2="572.6" y2="379.4" stroke="#595959" stroke-width="0.7"/>
<path d="M580.45 402.23V401.36M577.45 401.36H583.45M580.45 404.54V405.41M577.45 405.41H583.45" stroke="#7295e6" stroke-width="0.75" fill="none"/>
<rect x="574.75" y="402.23" width="11.4" height="2.31" fill="#eef2fc" stroke="#7295e6" stroke-width="0.75"/>
<line x1="574.75" y1="403.39" x2="586.15" y2="403.39" stroke="#7295e6" stroke-width="0.75"/>
<path d="M580.45 392.68 580.94 393.94 582.2 394.43 580.94 394.92 580.45 396.18 579.96 394.92 578.7 394.43 579.96 393.94Z" fill="#111"/>
<path d="M593.9 399.05V397.32M590.9 397.32H596.9M593.9 402.23V403.1M590.9 403.1H596.9" stroke="#f08a5b" stroke-width="0.75" fill="none"/>
<rect x="588.2" y="399.05" width="11.4" height="3.18" fill="#fbe2d4" stroke="#f08a5b" stroke-width="0.75"/>
<line x1="588.2" y1="400.79" x2="599.6" y2="400.79" stroke="#f08a5b" stroke-width="0.75"/>
<path d="M593.9 393.26 594.39 394.52 595.65 395.01 594.39 395.5 593.9 396.76 593.41 395.5 592.15 395.01 593.41 394.52Z" fill="#111"/>
<path d="M607.3 397.9V397.32M604.3 397.32H610.3M607.3 400.21V400.79M604.3 400.79H610.3" stroke="#73c873" stroke-width="0.75" fill="none"/>
<rect x="601.6" y="397.9" width="11.4" height="2.31" fill="#e2f4e2" stroke="#73c873" stroke-width="0.75"/>
<line x1="601.6" y1="399.05" x2="613" y2="399.05" stroke="#73c873" stroke-width="0.75"/>
<path d="M607.3 390.94 607.79 392.2 609.05 392.69 607.79 393.18 607.3 394.44 606.81 393.18 605.55 392.69 606.81 392.2Z" fill="#111"/>
<path d="M619.55 386.04L622.45 388.94M619.55 388.94L622.45 386.04" stroke="#2ca02c" stroke-width="1.05" fill="none"/>
<text x="580.7" y="420.8" font-size="7.6" text-anchor="end" transform="rotate(-45 580.7 420.8)">35</text>
<text x="594.5" y="420.8" font-size="7.6" text-anchor="end" transform="rotate(-45 594.5 420.8)">60</text>
<text x="608.3" y="420.8" font-size="7.6" text-anchor="end" transform="rotate(-45 608.3 420.8)">115</text>
<text x="622.6" y="420.8" font-size="7.6" text-anchor="end" transform="rotate(-45 622.6 420.8)">496</text>
<text x="657.5" y="317.6" font-size="8.6" text-anchor="middle">ILC</text>
<path d="M632.2 324.2V367.3H682.8" stroke="#595959" stroke-width="0.8" fill="none"/>
<line x1="630" y1="362.4" x2="632.2" y2="362.4" stroke="#595959" stroke-width="0.7"/>
<line x1="630" y1="348" x2="632.2" y2="348" stroke="#595959" stroke-width="0.7"/>
<line x1="630" y1="333.6" x2="632.2" y2="333.6" stroke="#595959" stroke-width="0.7"/>
<path d="M640.05 343.39V341.66M637.05 341.66H643.05M640.05 345.98V347.42M637.05 347.42H643.05" stroke="#7295e6" stroke-width="0.75" fill="none"/>
<rect x="634.35" y="343.39" width="11.4" height="2.59" fill="#eef2fc" stroke="#7295e6" stroke-width="0.75"/>
<line x1="634.35" y1="344.54" x2="645.75" y2="344.54" stroke="#7295e6" stroke-width="0.75"/>
<path d="M640.05 340.49 640.54 341.75 641.8 342.24 640.54 342.73 640.05 343.99 639.56 342.73 638.3 342.24 639.56 341.75Z" fill="#111"/>
<path d="M653.5 339.36V338.78M650.5 338.78H656.5M653.5 342.24V343.1M650.5 343.1H656.5" stroke="#f08a5b" stroke-width="0.75" fill="none"/>
<rect x="647.8" y="339.36" width="11.4" height="2.88" fill="#fbe2d4" stroke="#f08a5b" stroke-width="0.75"/>
<line x1="647.8" y1="340.8" x2="659.2" y2="340.8" stroke="#f08a5b" stroke-width="0.75"/>
<path d="M653.5 337.03 653.99 338.29 655.25 338.78 653.99 339.27 653.5 340.53 653.01 339.27 651.75 338.78 653.01 338.29Z" fill="#111"/>
<path d="M666.9 337.06V336.48M663.9 336.48H669.9M666.9 338.78V339.36M663.9 339.36H669.9" stroke="#73c873" stroke-width="0.75" fill="none"/>
<rect x="661.2" y="337.06" width="11.4" height="1.73" fill="#e2f4e2" stroke="#73c873" stroke-width="0.75"/>
<line x1="661.2" y1="337.92" x2="672.6" y2="337.92" stroke="#73c873" stroke-width="0.75"/>
<path d="M666.9 330.7 667.39 331.96 668.65 332.45 667.39 332.94 666.9 334.2 666.41 332.94 665.15 332.45 666.41 331.96Z" fill="#111"/>
<path d="M679.15 327.54L682.05 330.44M679.15 330.44L682.05 327.54" stroke="#2ca02c" stroke-width="1.05" fill="none"/>
<path d="M632.2 370V413.6H682.8" stroke="#595959" stroke-width="0.8" fill="none"/>
<line x1="630" y1="408.3" x2="632.2" y2="408.3" stroke="#595959" stroke-width="0.7"/>
<line x1="630" y1="393.85" x2="632.2" y2="393.85" stroke="#595959" stroke-width="0.7"/>
<line x1="630" y1="379.4" x2="632.2" y2="379.4" stroke="#595959" stroke-width="0.7"/>
<path d="M640.05 402.23V401.07M637.05 401.07H643.05M640.05 405.41V406.57M637.05 406.57H643.05" stroke="#7295e6" stroke-width="0.75" fill="none"/>
<rect x="634.35" y="402.23" width="11.4" height="3.18" fill="#eef2fc" stroke="#7295e6" stroke-width="0.75"/>
<line x1="634.35" y1="403.68" x2="645.75" y2="403.68" stroke="#7295e6" stroke-width="0.75"/>
<path d="M640.05 393.83 640.54 395.09 641.8 395.58 640.54 396.07 640.05 397.33 639.56 396.07 638.3 395.58 639.56 395.09Z" fill="#111"/>
<path d="M653.5 397.9V396.16M650.5 396.16H656.5M653.5 400.5V401.36M650.5 401.36H656.5" stroke="#f08a5b" stroke-width="0.75" fill="none"/>
<rect x="647.8" y="397.9" width="11.4" height="2.6" fill="#fbe2d4" stroke="#f08a5b" stroke-width="0.75"/>
<line x1="647.8" y1="399.05" x2="659.2" y2="399.05" stroke="#f08a5b" stroke-width="0.75"/>
<path d="M653.5 390.37 653.99 391.63 655.25 392.12 653.99 392.61 653.5 393.87 653.01 392.61 651.75 392.12 653.01 391.63Z" fill="#111"/>
<path d="M666.9 393.85V392.98M663.9 392.98H669.9M666.9 396.16V397.03M663.9 397.03H669.9" stroke="#73c873" stroke-width="0.75" fill="none"/>
<rect x="661.2" y="393.85" width="11.4" height="2.31" fill="#e2f4e2" stroke="#73c873" stroke-width="0.75"/>
<line x1="661.2" y1="395.01" x2="672.6" y2="395.01" stroke="#73c873" stroke-width="0.75"/>
<path d="M666.9 383.14 667.39 384.4 668.65 384.89 667.39 385.38 666.9 386.64 666.41 385.38 665.15 384.89 666.41 384.4Z" fill="#111"/>
<path d="M679.15 379.11L682.05 382.01M679.15 382.01L682.05 379.11" stroke="#2ca02c" stroke-width="1.05" fill="none"/>
<text x="640.3" y="420.8" font-size="7.6" text-anchor="end" transform="rotate(-45 640.3 420.8)">29</text>
<text x="654.1" y="420.8" font-size="7.6" text-anchor="end" transform="rotate(-45 654.1 420.8)">55</text>
<text x="667.9" y="420.8" font-size="7.6" text-anchor="end" transform="rotate(-45 667.9 420.8)">100</text>
<text x="682.2" y="420.8" font-size="7.6" text-anchor="end" transform="rotate(-45 682.2 420.8)">506</text>
<text x="7.3" y="345.5" font-size="7.8" text-anchor="middle" transform="rotate(-90 7.3 345.5)">WF1</text>
<text x="7.3" y="391.8" font-size="7.8" text-anchor="middle" transform="rotate(-90 7.3 391.8)">BAS</text>
<rect x="106.6" y="443.4" width="8" height="7.6" fill="#fff" stroke="#7295e6" stroke-width="0.75"/>
<text x="118.7" y="450" font-size="7.7" textLength="108.6" lengthAdjust="spacingAndGlyphs">Random selection (top 5 genes)</text>
<rect x="239.9" y="443.4" width="8" height="7.6" fill="#fff" stroke="#f08a5b" stroke-width="0.75"/>
<text x="252.5" y="450" font-size="7.7" textLength="111.8" lengthAdjust="spacingAndGlyphs">Random selection (top 10 genes)</text>
<rect x="376.2" y="443.4" width="8" height="7.6" fill="#fff" stroke="#73c873" stroke-width="0.75"/>
<text x="388.4" y="450" font-size="7.7" textLength="113.6" lengthAdjust="spacingAndGlyphs">Random selection (top 20 genes)</text>
<path d="M515 445.9L517.6 448.5M515 448.5L517.6 445.9" stroke="#2ca02c" stroke-width="1.05" fill="none"/>
<text x="521.7" y="450" font-size="7.7" textLength="42.8" lengthAdjust="spacingAndGlyphs">No selection</text>
<path d="M577.9 445.6 578.35 446.75 579.5 447.2 578.35 447.65 577.9 448.8 577.45 447.65 576.3 447.2 577.45 446.75Z" fill="#111"/>
<text x="583.8" y="450" font-size="7.7" textLength="81.8" lengthAdjust="spacingAndGlyphs">d-SHAP-based selection</text>
<defs><filter id="sb" x="-10%" y="-10%" width="120%" height="120%"><feGaussianBlur stdDeviation="0.8"/></filter></defs>
<path d="M81.4 481.1V606H195" stroke="#595959" stroke-width="0.8" fill="none"/>
<line x1="79.2" y1="483.1" x2="81.4" y2="483.1" stroke="#595959" stroke-width="0.7"/>
<text x="76" y="486" font-size="8.1" text-anchor="end">0.04</text>
<line x1="79.2" y1="499.93" x2="81.4" y2="499.93" stroke="#595959" stroke-width="0.7"/>
<text x="76" y="502.82" font-size="8.1" text-anchor="end">0.03</text>
<line x1="79.2" y1="516.75" x2="81.4" y2="516.75" stroke="#595959" stroke-width="0.7"/>
<text x="76" y="519.65" font-size="8.1" text-anchor="end">0.02</text>
<line x1="79.2" y1="533.58" x2="81.4" y2="533.58" stroke="#595959" stroke-width="0.7"/>
<text x="76" y="536.48" font-size="8.1" text-anchor="end">0.01</text>
<line x1="79.2" y1="550.4" x2="81.4" y2="550.4" stroke="#595959" stroke-width="0.7"/>
<text x="76" y="553.3" font-size="8.1" text-anchor="end">0</text>
<line x1="79.2" y1="567.22" x2="81.4" y2="567.22" stroke="#595959" stroke-width="0.7"/>
<text x="76" y="570.12" font-size="8.1" text-anchor="end">−0.01</text>
<line x1="79.2" y1="584.05" x2="81.4" y2="584.05" stroke="#595959" stroke-width="0.7"/>
<text x="76" y="586.95" font-size="8.1" text-anchor="end">−0.02</text>
<line x1="79.2" y1="600.87" x2="81.4" y2="600.87" stroke="#595959" stroke-width="0.7"/>
<text x="76" y="603.77" font-size="8.1" text-anchor="end">−0.03</text>
<line x1="95.3" y1="606" x2="95.3" y2="608.2" stroke="#595959" stroke-width="0.7"/>
<text x="95.3" y="618" font-size="7.9" text-anchor="middle">0.2</text>
<line x1="119.17" y1="606" x2="119.17" y2="608.2" stroke="#595959" stroke-width="0.7"/>
<text x="119.17" y="618" font-size="7.9" text-anchor="middle">0.4</text>
<line x1="143.05" y1="606" x2="143.05" y2="608.2" stroke="#595959" stroke-width="0.7"/>
<text x="143.05" y="618" font-size="7.9" text-anchor="middle">0.6</text>
<line x1="166.93" y1="606" x2="166.93" y2="608.2" stroke="#595959" stroke-width="0.7"/>
<text x="166.93" y="618" font-size="7.9" text-anchor="middle">0.8</text>
<line x1="190.8" y1="606" x2="190.8" y2="608.2" stroke="#595959" stroke-width="0.7"/>
<text x="190.8" y="618" font-size="7.9" text-anchor="middle">1</text>
<text x="138.2" y="475.9" font-size="8.9" text-anchor="middle">UC</text>
<text x="138.2" y="630.8" font-size="8.8" text-anchor="middle">Gene expression</text>
<polygon points="100,552.8 150,552.8 147,557.6 140.4,561.6 134,563.2 130,560.4 122.4,561.6 116,563.6 109.6,563.6 104,561.6 101.2,558" fill="#1f77b4" fill-opacity="0.32" filter="url(#sb)"/>
<polygon points="153.6,544.4 160,542 172,541.2 179,544 182,547.6 178,550 164,550.4 153.6,550" fill="#1f77b4" fill-opacity="0.32" filter="url(#sb)"/>
<path transform="scale(.5)" d="M342 1075h2m-3 2h2m-19 1h2m15 0h2m-2 0h2m4 0h2m-29 1h2m15 0h2m9 0h2m1 0h2m-23 1h2m7 0h2m-5 1h2m-2 0h2m2 0h2m20 0h2m-41 1h2m7 0h2m9 0h2m2 0h2m-27 1h2m1 0h2m-1 0h2m1 0h2m2 0h2m4 0h2m1 0h2m4 0h2m-28 1h2m10 0h2m0 0h2m5 0h2m-2 0h2m-2 0h2m0 0h2m0 0h2m12 0h2m-44 1h2m2 0h2m-1 0h2m-1 0h2m6 0h2m-2 0h2m12 0h2m-44 1h2m2 0h2m8 0h2m-1 0h2m14 0h2m5 0h2m4 0h2m-2 0h2m0 0h2m3 0h2m-44 1h2m0 0h2m2 0h2m6 0h2m16 0h2m13 0h2m1 0h2m-61 1h2m1 0h2m-1 0h2m0 0h2m0 0h2m0 0h2m6 0h2m14 0h2m-2 0h2m-1 0h2m-1 0h2m0 0h2m1 0h2m2 0h2m7 0h2m-1 0h2m-2 0h2m-50 1h2m9 0h2m1 0h2m1 0h2m-1 0h2m0 0h2m-1 0h2m3 0h2m2 0h2m5 0h2m-1 0h2m-48 1h2m4 0h2m1 0h2m-1 0h2m2 0h2m2 0h2m-2 0h2m2 0h2m-2 0h2m-1 0h2m5 0h2m-2 0h2m2 0h2m-1 0h2m-1 0h2m-2 0h2m2 0h2m0 0h2m-1 0h2m3 0h2m0 0h2m6 0h2m-59 1h2m-1 0h2m3 0h2m3 0h2m1 0h2m2 0h2m0 0h2m2 0h2m8 0h2m10 0h2m5 0h2m-1 0h2m6 0h2m-62 1h2m0 0h2m0 0h2m-1 0h2m2 0h2m-1 0h2m-2 0h2m5 0h2m0 0h2m1 0h2m-1 0h2m14 0h2m4 0h2m-1 0h2m0 0h2m0 0h2m0 0h2m5 0h2m-60 1h2m-1 0h2m2 0h2m1 0h2m-2 0h2m1 0h2m1 0h2m6 0h2m-1 0h2m2 0h2m-1 0h2m1 0h2m1 0h2m2 0h2m1 0h2m-2 0h2m3 0h2m-2 0h2m1 0h2m-49 1h2m-1 0h2m0 0h2m-2 0h2m0 0h2m11 0h2m-1 0h2m-2 0h2m6 0h2m-1 0h2m8 0h2m1 0h2m-2 0h2m0 0h2m-2 0h2m-1 0h2m3 0h2m0 0h2m-58 1h2m1 0h2m-2 0h2m-2 0h2m3 0h2m1 0h2m1 0h2m1 0h2m0 0h2m-1 0h2m-2 0h2m7 0h2m0 0h2m-1 0h2m-1 0h2m-2 0h2m6 0h2m-1 0h2m-1 0h2m-1 0h2m-2 0h2m-1 0h2m-1 0h2m-2 0h2m-1 0h2m-1 0h2m-2 0h2m-1 0h2m-1 0h2m-2 0h2m-1 0h2m-2 0h2m0 0h2m-2 0h2m-1 0h2m-2 0h2m-1 0h2m-2 0h2m-2 0h2m-1 0h2m-1 0h2m0 0h2m-2 0h2m-1 0h2m-2 0h2m-1 0h2m-1 0h2m0 0h2m-2 0h2m-2 0h2m-2 0h2m1 0h2m-2 0h2m-2 0h2m0 0h2m0 0h2m0 0h2m-1 0h2m-75 1h2m-1 0h2m-2 0h2m-1 0h2m0 0h2m5 0h2m-1 0h2m0 0h2m0 0h2m-2 0h2m-1 0h2m0 0h2m3 0h2m5 0h2m3 0h2m1 0h2m2 0h2m-2 0h2m-2 0h2m-2 0h2m-1 0h2m-2 0h2m-2 0h2m-1 0h2m-2 0h2m-2 0h2m-1 0h2m-1 0h2m-1 0h2m-2 0h2m-1 0h2m-2 0h2m-1 0h2m-2 0h2m-2 0h2m-2 0h2m-1 0h2m-1 0h2m-2 0h2m-1 0h2m0 0h2m-2 0h2m-2 0h2m-2 0h2m-1 0h2m-1 0h2m-1 0h2m-1 0h2m-2 0h2m-2 0h2m-1 0h2m-2 0h2m-2 0h2m-2 0h2m-1 0h2m-2 0h2m-1 0h2m-2 0h2m2 0h2m-2 0h2m-1 0h2m-1 0h2m-1 0h2m-1 0h2m0 0h2m-2 0h2m-2 0h2m-2 0h2m-2 0h2m-1 0h2m-2 0h2m-2 0h2m-2 0h2m-76 1h2m-1 0h2m-2 0h2m-1 0h2m-2 0h2m-1 0h2m-2 0h2m-2 0h2m0 0h2m0 0h2m2 0h2m0 0h2m-1 0h2m5 0h2m-2 0h2m12 0h2m-2 0h2m1 0h2m-1 0h2m2 0h2m-1 0h2m-2 0h2m-2 0h2m-1 0h2m-1 0h2m-2 0h2m-1 0h2m-1 0h2m-2 0h2m-2 0h2m-1 0h2m-1 0h2m-1 0h2m-2 0h2m-2 0h2m-1 0h2m-2 0h2m-1 0h2m-2 0h2m-1 0h2m-1 0h2m-1 0h2m-2 0h2m-1 0h2m0 0h2m-2 0h2m-1 0h2m-1 0h2m-1 0h2m-2 0h2m-1 0h2m-2 0h2m-2 0h2m-2 0h2m-1 0h2m-2 0h2m-1 0h2m-2 0h2m-1 0h2m-2 0h2m-1 0h2m-1 0h2m-2 0h2m-1 0h2m-2 0h2m1 0h2m-1 0h2m-2 0h2m-1 0h2m-2 0h2m-1 0h2m-2 0h2m-77 1h2m-1 0h2m-2 0h2m-2 0h2m-1 0h2m-2 0h2m-1 0h2m-2 0h2m6 0h2m2 0h2m5 0h2m2 0h2m4 0h2m-2 0h2m-1 0h2m5 0h2m4 0h2m4 0h2m-2 0h2m-1 0h2m-2 0h2m-1 0h2m1 0h2m-1 0h2m1 0h2m1 0h2m-1 0h2m-1 0h2m-1 0h2m-2 0h2m-1 0h2m1 0h2m0 0h2m-1 0h2m-78 1h2m-1 0h2m-1 0h2m-2 0h2m-1 0h2m-2 0h2m-1 0h2m-2 0h2m-1 0h2m-1 0h2m-1 0h2m3 0h2m13 0h2m-1 0h2m6 0h2m3 0h2m1 0h2m1 0h2m-50 1h2m-1 0h2m-1 0h2m-1 0h2m-2 0h2m-1 0h2m1 0h2m-1 0h2m-2 0h2m0 0h2m7 0h2m2 0h2m2 0h2m8 0h2m12 0h2m8 0h2m-63 1h2m-2 0h2m-1 0h2m-2 0h2m-2 0h2m-1 0h2m-2 0h2m-2 0h2m-2 0h2m-2 0h2m0 0h2m15 0h2m-2 0h2m4 0h2m3 0h2m4 0h2m10 0h2m-146 1h2m4 0h2m36 0h2m4 0h2m41 0h2m-1 0h2m0 0h2m20 0h2m10 0h2m1 0h2m-151 1h2m1 0h2m0 0h2m-2 0h2m1 0h2m-2 0h2m1 0h2m0 0h2m-1 0h2m-1 0h2m-2 0h2m0 0h2m-1 0h2m0 0h2m2 0h2m2 0h2m-1 0h2m3 0h2m-1 0h2m4 0h2m-1 0h2m-1 0h2m-1 0h2m0 0h2m-1 0h2m6 0h2m-1 0h2m4 0h2m3 0h2m-1 0h2m-1 0h2m1 0h2m-2 0h2m0 0h2m-2 0h2m2 0h2m-2 0h2m3 0h2m-2 0h2m0 0h2m0 0h2m1 0h2m-1 0h2m-1 0h2m-2 0h2m-1 0h2m-2 0h2m1 0h2m-1 0h2m4 0h2m1 0h2m0 0h2m-2 0h2m-2 0h2m-1 0h2m-2 0h2m-2 0h2m-1 0h2m-2 0h2m10 0h2m29 0h2m8 0h2m-167 1h2m-1 0h2m-2 0h2m-2 0h2m-1 0h2m-2 0h2m-1 0h2m-2 0h2m-2 0h2m-1 0h2m-2 0h2m-2 0h2m-1 0h2m-1 0h2m-2 0h2m0 0h2m-1 0h2m-2 0h2m-2 0h2m-1 0h2m-1 0h2m-2 0h2m0 0h2m-2 0h2m-2 0h2m-2 0h2m-2 0h2m-1 0h2m-2 0h2m-2 0h2m-2 0h2m-1 0h2m-2 0h2m-2 0h2m-2 0h2m-2 0h2m0 0h2m-2 0h2m-1 0h2m-2 0h2m-1 0h2m-1 0h2m-1 0h2m-2 0h2m-2 0h2m-2 0h2m-1 0h2m-2 0h2m-2 0h2m-2 0h2m0 0h2m-2 0h2m-1 0h2m-2 0h2m0 0h2m-1 0h2m-2 0h2m-2 0h2m0 0h2m-2 0h2m0 0h2m-2 0h2m0 0h2m-2 0h2m-1 0h2m-2 0h2m-2 0h2m-2 0h2m-1 0h2m-2 0h2m0 0h2m-2 0h2m-1 0h2m-2 0h2m-1 0h2m-2 0h2m-1 0h2m-1 0h2m-2 0h2m-2 0h2m-2 0h2m-2 0h2m-2 0h2m-2 0h2m-1 0h2m-2 0h2m-2 0h2m-1 0h2m-1 0h2m0 0h2m-2 0h2m-1 0h2m-1 0h2m-2 0h2m-1 0h2m-2 0h2m-1 0h2m-1 0h2m-2 0h2m-2 0h2m-2 0h2m-2 0h2m-2 0h2m-1 0h2m-1 0h2m0 0h2m-1 0h2m-2 0h2m-2 0h2m-1 0h2m-2 0h2m-2 0h2m-1 0h2m-1 0h2m-2 0h2m-1 0h2m-1 0h2m-1 0h2m-1 0h2m-2 0h2m-2 0h2m-2 0h2m-2 0h2m-2 0h2m-1 0h2m-1 0h2m-2 0h2m-1 0h2m-2 0h2m-2 0h2m-1 0h2m-2 0h2m-1 0h2m-1 0h2m-2 0h2m-2 0h2m-2 0h2m-1 0h2m-1 0h2m-2 0h2m-1 0h2m-1 0h2m-1 0h2m-2 0h2m-1 0h2m-2 0h2m-2 0h2m-1 0h2m-1 0h2m-1 0h2m-2 0h2m-2 0h2m-1 0h2m-1 0h2m-2 0h2m-2 0h2m-2 0h2m-1 0h2m-1 0h2m-2 0h2m-2 0h2m-1 0h2m-2 0h2m-2 0h2m-2 0h2m-1 0h2m-2 0h2m-2 0h2m-1 0h2m-2 0h2m-2 0h2m1 0h2m-2 0h2m-1 0h2m-2 0h2m-2 0h2m-2 0h2m-1 0h2m-2 0h2m0 0h2m-2 0h2m-1 0h2m0 0h2m-1 0h2m-1 0h2m-2 0h2m-2 0h2m-1 0h2m-2 0h2m-1 0h2m-2 0h2m-2 0h2m-2 0h2m0 0h2m-1 0h2m-2 0h2m-2 0h2m-2 0h2m-2 0h2m-2 0h2m-1 0h2m-1 0h2m-1 0h2m-2 0h2m-2 0h2m-1 0h2m-1 0h2m-2 0h2m-1 0h2m-1 0h2m-2 0h2m-2 0h2m-1 0h2m-2 0h2m-2 0h2m-1 0h2m19 0h2m-132 1h2m-1 0h2m-2 0h2m-2 0h2m-1 0h2m-1 0h2m-1 0h2m-1 0h2m1 0h2m-2 0h2m-1 0h2m0 0h2m-2 0h2m-1 0h2m-2 0h2m-2 0h2m0 0h2m0 0h2m-1 0h2m-2 0h2m-1 0h2m-2 0h2m-2 0h2m-2 0h2m-2 0h2m-1 0h2m-1 0h2m-2 0h2m-2 0h2m-1 0h2m-2 0h2m0 0h2m0 0h2m-2 0h2m-2 0h2m-1 0h2m-1 0h2m-1 0h2m-1 0h2m0 0h2m-2 0h2m-2 0h2m-1 0h2m0 0h2m-2 0h2m-2 0h2m-2 0h2m-1 0h2m1 0h2m-1 0h2m-2 0h2m-2 0h2m-1 0h2m-2 0h2m-1 0h2m0 0h2m-2 0h2m-2 0h2m0 0h2m0 0h2m-2 0h2m-1 0h2m0 0h2m-1 0h2m0 0h2m-1 0h2m-2 0h2m-1 0h2m-2 0h2m-2 0h2m-2 0h2m-2 0h2m-1 0h2m0 0h2m-2 0h2m-2 0h2m-2 0h2m1 0h2m-1 0h2m-2 0h2m-1 0h2m-1 0h2m-1 0h2m0 0h2m-2 0h2m-1 0h2m-2 0h2m-1 0h2m-2 0h2m-2 0h2m0 0h2m-2 0h2m-2 0h2m-2 0h2m4 0h2m-1 0h2m-2 0h2m-1 0h2m-1 0h2m-2 0h2m0 0h2m-2 0h2m-2 0h2m-2 0h2m0 0h2m-2 0h2m0 0h2m-2 0h2m-1 0h2m-2 0h2m-1 0h2m-2 0h2m-2 0h2m-1 0h2m-2 0h2m-2 0h2m-1 0h2m-2 0h2m-1 0h2m-1 0h2m-2 0h2m-1 0h2m-1 0h2m-1 0h2m-2 0h2m-2 0h2m-1 0h2m-2 0h2m-1 0h2m-2 0h2m-1 0h2m-2 0h2m-1 0h2m-2 0h2m-2 0h2m-2 0h2m-1 0h2m-2 0h2m-1 0h2m-2 0h2m-1 0h2m-2 0h2m-2 0h2m-1 0h2m-1 0h2m-2 0h2m-1 0h2m-1 0h2m-2 0h2m1 0h2m-110 1h2m1 0h2m3 0h2m3 0h2m-1 0h2m0 0h2m-1 0h2m0 0h2m-1 0h2m-1 0h2m-2 0h2m0 0h2m-1 0h2m0 0h2m-1 0h2m1 0h2m-2 0h2m14 0h2m-1 0h2m3 0h2m-1 0h2m-1 0h2m-2 0h2m-1 0h2m-1 0h2m-2 0h2m0 0h2m8 0h2m0 0h2m-1 0h2m1 0h2m1 0h2m-2 0h2m1 0h2m0 0h2m-2 0h2m1 0h2m-1 0h2m-1 0h2m5 0h2m-1 0h2m3 0h2m2 0h2m-2 0h2m0 0h2m-1 0h2m-104 1h2m1 0h2m7 0h2m10 0h2m2 0h2m17 0h2m4 0h2m-1 0h2m3 0h2m2 0h2m-2 0h2m9 0h2m2 0h2m1 0h2m-1 0h2m3 0h2m8 0h2m-2 0h2m0 0h2m-1 0h2m-98 1h2m-1 0h2m-1 0h2m0 0h2m2 0h2m11 0h2m2 0h2m0 0h2m-1 0h2m12 0h2m2 0h2m0 0h2m0 0h2m4 0h2m10 0h2m11 0h2m-2 0h2m3 0h2m0 0h2m-2 0h2m-1 0h2m0 0h2m-1 0h2m-99 1h2m-1 0h2m-1 0h2m2 0h2m1 0h2m4 0h2m4 0h2m0 0h2m0 0h2m1 0h2m4 0h2m-1 0h2m0 0h2m2 0h2m1 0h2m-2 0h2m1 0h2m6 0h2m-1 0h2m17 0h2m0 0h2m2 0h2m0 0h2m5 0h2m6 0h2m-1 0h2m-104 1h2m3 0h2m-1 0h2m-1 0h2m0 0h2m1 0h2m2 0h2m16 0h2m21 0h2m-1 0h2m4 0h2m-2 0h2m7 0h2m9 0h2m-1 0h2m0 0h2m6 0h2m0 0h2m-1 0h2m0 0h2m-114 1h2m19 0h2m6 0h2m0 0h2m-1 0h2m-2 0h2m1 0h2m-1 0h2m4 0h2m1 0h2m-1 0h2m1 0h2m-1 0h2m-1 0h2m0 0h2m-2 0h2m4 0h2m-1 0h2m2 0h2m2 0h2m0 0h2m-1 0h2m-1 0h2m-1 0h2m4 0h2m1 0h2m0 0h2m-2 0h2m2 0h2m-1 0h2m0 0h2m-1 0h2m0 0h2m0 0h2m6 0h2m1 0h2m0 0h2m-1 0h2m-1 0h2m-1 0h2m-2 0h2m2 0h2m-118 1h2m16 0h2m5 0h2m-2 0h2m-1 0h2m-2 0h2m-1 0h2m14 0h2m1 0h2m0 0h2m-1 0h2m2 0h2m13 0h2m-2 0h2m5 0h2m0 0h2m-1 0h2m1 0h2m2 0h2m0 0h2m-2 0h2m2 0h2m5 0h2m-2 0h2m3 0h2m-2 0h2m-2 0h2m-1 0h2m-1 0h2m0 0h2m-1 0h2m-1 0h2m-1 0h2m-109 1h2m12 0h2m6 0h2m2 0h2m0 0h2m1 0h2m-2 0h2m0 0h2m7 0h2m-2 0h2m-1 0h2m0 0h2m1 0h2m3 0h2m-2 0h2m-1 0h2m4 0h2m0 0h2m0 0h2m-2 0h2m-1 0h2m1 0h2m0 0h2m4 0h2m0 0h2m4 0h2m-1 0h2m0 0h2m-1 0h2m5 0h2m0 0h2m-2 0h2m-2 0h2m-2 0h2m6 0h2m1 0h2m-105 1h2m15 0h2m6 0h2m1 0h2m4 0h2m-1 0h2m1 0h2m0 0h2m-1 0h2m0 0h2m2 0h2m0 0h2m3 0h2m-1 0h2m5 0h2m2 0h2m1 0h2m8 0h2m-1 0h2m-1 0h2m3 0h2m-1 0h2m5 0h2m5 0h2m-107 1h2m1 0h2m14 0h2m-1 0h2m-1 0h2m-2 0h2m9 0h2m-2 0h2m0 0h2m4 0h2m1 0h2m1 0h2m-2 0h2m-1 0h2m3 0h2m2 0h2m-1 0h2m1 0h2m5 0h2m0 0h2m2 0h2m-1 0h2m1 0h2m-2 0h2m-2 0h2m5 0h2m2 0h2m4 0h2m4 0h2m-1 0h2m-1 0h2m6 0h2m-112 1h2m1 0h2m2 0h2m10 0h2m-1 0h2m5 0h2m-1 0h2m13 0h2m3 0h2m-1 0h2m2 0h2m2 0h2m1 0h2m-1 0h2m8 0h2m1 0h2m-1 0h2m-1 0h2m7 0h2m2 0h2m0 0h2m0 0h2m0 0h2m0 0h2m2 0h2m-1 0h2m-1 0h2m0 0h2m-1 0h2m-1 0h2m1 0h2m-109 1h2m3 0h2m-1 0h2m0 0h2m2 0h2m-1 0h2m0 0h2m-1 0h2m3 0h2m-1 0h2m3 0h2m-2 0h2m9 0h2m-1 0h2m0 0h2m2 0h2m0 0h2m8 0h2m0 0h2m-2 0h2m0 0h2m5 0h2m3 0h2m3 0h2m3 0h2m4 0h2m2 0h2m-2 0h2m2 0h2m-2 0h2m-108 1h2m20 0h2m0 0h2m0 0h2m-1 0h2m2 0h2m1 0h2m1 0h2m7 0h2m0 0h2m1 0h2m3 0h2m9 0h2m4 0h2m1 0h2m1 0h2m0 0h2m-1 0h2m-2 0h2m-1 0h2m1 0h2m-1 0h2m2 0h2m0 0h2m7 0h2m-1 0h2m-1 0h2m3 0h2m-110 1h2m16 0h2m3 0h2m9 0h2m0 0h2m8 0h2m-1 0h2m2 0h2m3 0h2m0 0h2m2 0h2m-2 0h2m-1 0h2m10 0h2m0 0h2m-1 0h2m-1 0h2m2 0h2m2 0h2m-1 0h2m2 0h2m-2 0h2m9 0h2m-1 0h2m-102 1h2m2 0h2m0 0h2m12 0h2m-1 0h2m-1 0h2m1 0h2m1 0h2m6 0h2m-1 0h2m1 0h2m5 0h2m0 0h2m3 0h2m3 0h2m4 0h2m-1 0h2m0 0h2m0 0h2m1 0h2m-2 0h2m4 0h2m0 0h2m-2 0h2m3 0h2m-2 0h2m4 0h2m-1 0h2m0 0h2m0 0h2m2 0h2m-106 1h2m2 0h2m4 0h2m-1 0h2m1 0h2m8 0h2m-2 0h2m2 0h2m-1 0h2m3 0h2m-2 0h2m-2 0h2m-2 0h2m0 0h2m-2 0h2m-1 0h2m-2 0h2m7 0h2m-2 0h2m20 0h2m-1 0h2m-1 0h2m5 0h2m0 0h2m-1 0h2m-2 0h2m2 0h2m3 0h2m3 0h2m-2 0h2m11 0h2m1 0h2m-112 1h2m4 0h2m19 0h2m-1 0h2m3 0h2m-1 0h2m0 0h2m-1 0h2m-2 0h2m-1 0h2m-1 0h2m-1 0h2m-1 0h2m-2 0h2m-2 0h2m0 0h2m1 0h2m4 0h2m3 0h2m0 0h2m3 0h2m0 0h2m8 0h2m4 0h2m2 0h2m0 0h2m8 0h2m4 0h2m0 0h2m-112 1h2m12 0h2m17 0h2m-2 0h2m7 0h2m5 0h2m1 0h2m2 0h2m4 0h2m1 0h2m6 0h2m-2 0h2m12 0h2m1 0h2m2 0h2m-1 0h2m-94 1h2m22 0h2m3 0h2m0 0h2m2 0h2m-2 0h2m0 0h2m-2 0h2m0 0h2m5 0h2m0 0h2m-2 0h2m4 0h2m-1 0h2m4 0h2m1 0h2m3 0h2m10 0h2m0 0h2m-1 0h2m-2 0h2m7 0h2m-2 0h2m2 0h2m-2 0h2m-1 0h2m0 0h2m7 0h2m-2 0h2m0 0h2m-105 1h2m0 0h2m5 0h2m7 0h2m3 0h2m6 0h2m9 0h2m4 0h2m6 0h2m22 0h2m-1 0h2m1 0h2m7 0h2m-93 1h2m21 0h2m1 0h2m2 0h2m8 0h2m-2 0h2m7 0h2m4 0h2m10 0h2m2 0h2m7 0h2m-2 0h2m1 0h2m11 0h2m-2 0h2m1 0h2m-62 1h2m-1 0h2m-2 0h2m3 0h2m2 0h2m17 0h2m7 0h2m7 0h2m1 0h2m0 0h2m3 0h2m-110 1h2m-1 0h2m14 0h2m1 0h2m24 0h2m1 0h2m-2 0h2m7 0h2m-2 0h2m0 0h2m3 0h2m28 0h2m7 0h2m-1 0h2m2 0h2m-99 1h2m7 0h2m52 0h2m11 0h2m5 0h2m0 0h2m3 0h2m-1 0h2m-73 1h2m4 0h2m1 0h2m9 0h2m22 0h2m0 0h2m5 0h2m2 0h2m1 0h2m2 0h2m-2 0h2m1 0h2m-1 0h2m-1 0h2m-87 1h2m15 0h2m8 0h2m0 0h2m11 0h2m41 0h2m3 0h2m-87 1h2m11 0h2m17 0h2m-2 0h2m31 0h2m7 0h2m8 0h2m-94 1h2m1 0h2m15 0h2m11 0h2m2 0h2m25 0h2m0 0h2m24 0h2m-102 1h2m9 0h2m12 0h2m-2 0h2m22 0h2m24 0h2m15 0h2m-89 1h2m26 0h2m55 0h2m4 0h2m-97 1h2m30 0h2m61 0h2m0 0h2m-95 1h2m13 0h2m19 0h2m2 0h2m-1 0h2m37 0h2m-82 1h2m68 0h2m16 0h2m-81 1h2m21 0h2m2 0h2m37 0h2m8 0h2m1 0h2m1 0h2m-86 1h2m2 0h2m6 0h2m-1 0h2m48 0h2m22 0h2m-86 2h2m62 0h2m13 0h2m-67 1h2m7 0h2m48 0h2m-1 0h2m-69 1h2m6 0h2m-2 0h2m2 0h2m45 0h2m-65 1h2m3 0h2m-9 1h2m12 0h2m52 0h2m0 0h2m-69 1h2m3 0h2m2 0h2m-9 1h2m0 0h2m2 0h2m0 0h2m-1 0h2m-1 0h2m-3 1h2m-1 0h2m-4 2h2m-14 2h2m4 0h2m6 0h2m-16 1h2m-2 0h2m0 1h2m1 0h2m-2 0h2m1 0h2m0 0h2m-1 0h2m-11 1h2m-4 1h2m0 3h2m3 0h2m-2 0h2m-5 1h2m-1 2h2m1 0h2m-4 3h2" stroke="#1f77b4" stroke-width="2" stroke-opacity="0.3" fill="none"/>
<path transform="scale(.5)" d="M343 980h2m-7 1h2m6 0h2m-1 2h2m-20 4h2m7 0h2m2 0h2m2 0h2m-15 1h2m-1 0h2m-7 2h2m0 0h2m3 0h2m3 0h2m-12 1h2m2 1h2m11 1h2m-22 1h2m3 0h2m8 0h2m-25 1h2m-1 0h2m0 0h2m8 0h2m-4 1h2m-16 1h2m15 0h2m10 0h2m-20 1h2m-1 1h2m-8 1h2m10 0h2m0 0h2m-7 1h2m8 0h2m-1 0h2m-17 1h2m3 0h2m-8 1h2m-2 0h2m0 0h2m2 0h2m-1 0h2m0 0h2m-17 1h2m6 0h2m3 0h2m-1 0h2m-14 1h2m3 0h2m8 0h2m-21 1h2m-5 1h2m6 0h2m12 0h2m5 0h2m-30 1h2m-1 0h2m5 1h2m0 0h2m0 0h2m3 0h2m-2 0h2m12 0h2m-36 1h2m21 0h2m-2 0h2m-1 0h2m-2 0h2m-21 1h2m-1 0h2m1 0h2m7 0h2m-2 0h2m0 0h2m0 0h2m2 0h2m-27 1h2m5 0h2m2 0h2m8 0h2m-16 1h2m-2 0h2m4 0h2m10 0h2m3 0h2m-1 0h2m-30 1h2m0 0h2m20 0h2m1 0h2m-26 1h2m-1 0h2m-2 0h2m13 0h2m4 0h2m1 0h2m-23 1h2m-1 0h2m-1 0h2m3 0h2m3 0h2m6 0h2m-36 1h2m5 0h2m2 0h2m3 0h2m6 0h2m6 0h2m-30 1h2m1 0h2m2 0h2m-1 0h2m7 0h2m-1 0h2m7 0h2m-2 0h2m7 0h2m-36 1h2m-1 0h2m-2 0h2m16 0h2m1 0h2m1 0h2m0 0h2m-23 1h2m1 0h2m-2 0h2m1 0h2m2 0h2m0 0h2m-2 1h2m0 0h2m1 0h2m4 0h2m-15 1h2m4 0h2m10 0h2m-34 1h2m18 0h2m-1 0h2m-28 1h2m4 0h2m2 0h2m8 0h2m-24 1h2m1 0h2m3 0h2m0 0h2m6 0h2m-1 0h2m3 0h2m0 0h2m5 0h2m1 0h2m-34 1h2m-1 0h2m7 0h2m2 0h2m0 0h2m5 0h2m-22 1h2m3 0h2m-1 0h2m1 0h2m2 0h2m-19 1h2m1 0h2m1 0h2m-2 0h2m-2 0h2m5 0h2m2 0h2m-17 1h2m6 0h2m1 0h2m0 0h2m2 0h2m2 0h2m-2 0h2m2 0h2m-1 0h2m-34 1h2m3 0h2m-1 0h2m13 0h2m-2 0h2m14 0h2m-36 1h2m15 0h2m5 0h2m-2 0h2m-28 1h2m9 0h2m7 0h2m-28 1h2m3 0h2m8 0h2m-1 0h2m11 0h2m-2 0h2m-25 1h2m2 0h2m-1 0h2m1 0h2m5 0h2m3 0h2m2 0h2m6 0h2m-33 1h2m11 0h2m-1 0h2m1 0h2m0 0h2m-20 1h2m-1 0h2m6 0h2m-12 1h2m5 0h2m7 0h2m-22 1h2m15 0h2m0 0h2m2 0h2m0 0h2m4 0h2m-35 1h2m16 0h2m7 0h2m4 0h2m-1 0h2m1 0h2m-1 0h2m-34 1h2m0 0h2m3 0h2m4 0h2m-14 1h2m1 0h2m0 0h2m0 0h2m12 0h2m-1 0h2m7 0h2m-40 1h2m3 0h2m1 0h2m4 0h2m0 0h2m3 0h2m4 0h2m3 0h2m-1 0h2m-2 0h2m3 0h2m-38 1h2m1 0h2m7 0h2m2 0h2m-1 0h2m5 0h2m5 0h2m7 0h2m-24 1h2m6 0h2m-24 1h2m14 0h2m0 0h2m13 0h2m-24 1h2m1 0h2m2 0h2m6 0h2m1 0h2m-35 1h2m7 0h2m0 0h2m5 0h2m10 0h2m-28 1h2m-2 0h2m0 0h2m-1 0h2m5 0h2m-2 0h2m3 0h2m8 0h2m-2 0h2m-25 1h2m0 0h2m-1 0h2m4 0h2m-9 1h2m-1 0h2m3 0h2m2 0h2m3 0h2m0 0h2m5 0h2m0 0h2m-32 1h2m18 0h2m-1 0h2m-1 0h2m-29 1h2m2 0h2m-1 0h2m-2 0h2m1 0h2m8 0h2m-19 1h2m0 0h2m1 0h2m4 0h2m0 0h2m-1 0h2m4 0h2m0 1h2m-16 1h2m8 0h2m-1 0h2m-6 1h2m10 0h2m1 0h2m-32 1h2m29 0h2m1 1h2m-40 1h2m5 0h2m7 0h2m2 0h2m-3 1h2m11 0h2m-4 1h2m-1 0h2m-20 2h2m0 0h2m-1 0h2m10 0h2m-10 1h2m-7 1h2m4 0h2m7 0h2m-27 1h2m20 0h2m-24 1h2m27 0h2m-32 1h2m0 0h2m2 0h2m-101 1h2m105 0h2m13 0h2m-113 1h2m91 0h2m14 0h2m-110 1h2m82 0h2m19 0h2m-1 0h2m-125 1h2m112 0h2m5 0h2m2 0h2m-125 1h2m91 0h2m17 0h2m1 0h2m-6 1h2m9 0h2m-119 1h2m-3 1h2m104 0h2m0 0h2m5 0h2m-131 1h2m31 0h2m89 0h2m-71 1h2m-58 1h2m38 0h2m13 0h2m-60 1h2m10 0h2m18 0h2m-25 4h2m29 0h2m2 0h2m0 0h2m-29 2h2m9 0h2m16 0h2m-49 1h2m32 0h2m23 1h2m-33 1h2m20 0h2m-25 2h2m12 0h2m11 0h2m-56 1h2m5 1h2m5 0h2m8 0h2m22 1h2m53 18h2m-5 36h2m0 4h2" stroke="#ff7f0e" stroke-width="2" stroke-opacity="0.3" fill="none"/>
<path d="M230.5 480.4V606H351.9" stroke="#595959" stroke-width="0.8" fill="none"/>
<line x1="228.3" y1="486.1" x2="230.5" y2="486.1" stroke="#595959" stroke-width="0.7"/>
<text x="225.1" y="489" font-size="8.1" text-anchor="end">0.02</text>
<line x1="228.3" y1="504.7" x2="230.5" y2="504.7" stroke="#595959" stroke-width="0.7"/>
<text x="225.1" y="507.6" font-size="8.1" text-anchor="end">0.01</text>
<line x1="228.3" y1="523.3" x2="230.5" y2="523.3" stroke="#595959" stroke-width="0.7"/>
<text x="225.1" y="526.2" font-size="8.1" text-anchor="end">0</text>
<line x1="228.3" y1="541.9" x2="230.5" y2="541.9" stroke="#595959" stroke-width="0.7"/>
<text x="225.1" y="544.8" font-size="8.1" text-anchor="end">−0.01</text>
<line x1="228.3" y1="560.5" x2="230.5" y2="560.5" stroke="#595959" stroke-width="0.7"/>
<text x="225.1" y="563.4" font-size="8.1" text-anchor="end">−0.02</text>
<line x1="228.3" y1="579.1" x2="230.5" y2="579.1" stroke="#595959" stroke-width="0.7"/>
<text x="225.1" y="582" font-size="8.1" text-anchor="end">−0.03</text>
<line x1="228.3" y1="597.7" x2="230.5" y2="597.7" stroke="#595959" stroke-width="0.7"/>
<text x="225.1" y="600.6" font-size="8.1" text-anchor="end">−0.04</text>
<line x1="245.9" y1="606" x2="245.9" y2="608.2" stroke="#595959" stroke-width="0.7"/>
<text x="245.9" y="618" font-size="7.9" text-anchor="middle">0.2</text>
<line x1="271.15" y1="606" x2="271.15" y2="608.2" stroke="#595959" stroke-width="0.7"/>
<text x="271.15" y="618" font-size="7.9" text-anchor="middle">0.4</text>
<line x1="296.4" y1="606" x2="296.4" y2="608.2" stroke="#595959" stroke-width="0.7"/>
<text x="296.4" y="618" font-size="7.9" text-anchor="middle">0.6</text>
<line x1="321.65" y1="606" x2="321.65" y2="608.2" stroke="#595959" stroke-width="0.7"/>
<text x="321.65" y="618" font-size="7.9" text-anchor="middle">0.8</text>
<line x1="346.9" y1="606" x2="346.9" y2="608.2" stroke="#595959" stroke-width="0.7"/>
<text x="346.9" y="618" font-size="7.9" text-anchor="middle">1</text>
<text x="291.2" y="475.9" font-size="8.9" text-anchor="middle">CD</text>
<text x="291.2" y="630.8" font-size="8.8" text-anchor="middle">Gene expression</text>
<polygon points="252,524 280,524 280,526.4 276,528.4 268,529.6 260,529.6 253,528" fill="#1f77b4" fill-opacity="0.49" filter="url(#sb)"/>
<polygon points="280,524.4 288,523.4 300,522 300.6,523.6 292,526 284,527.2 280,526.8" fill="#1f77b4" fill-opacity="0.42" filter="url(#sb)"/>
<polygon points="302,521.6 310,519.4 324,519 331.6,520.4 331.6,523.2 320,524 304,523.6" fill="#1f77b4" fill-opacity="0.42" filter="url(#sb)"/>
<path transform="scale(.5)" d="M627 1035h2m11 0h2m4 0h2m-17 1h2m3 0h2m1 0h2m2 0h2m-2 0h2m1 0h2m2 0h2m-39 1h2m5 0h2m-1 0h2m6 0h2m5 0h2m0 0h2m-2 0h2m7 0h2m4 0h2m4 0h2m-42 1h2m3 0h2m3 0h2m6 0h2m5 0h2m4 0h2m-2 0h2m-39 1h2m3 0h2m-2 0h2m2 0h2m1 0h2m6 0h2m-1 0h2m-1 0h2m6 0h2m0 0h2m1 0h2m0 0h2m4 0h2m-38 1h2m0 0h2m0 0h2m-2 0h2m2 0h2m0 0h2m-1 0h2m3 0h2m-1 0h2m1 0h2m1 0h2m-2 0h2m4 0h2m4 0h2m3 0h2m-1 0h2m-58 1h2m5 0h2m-2 0h2m3 0h2m-2 0h2m-1 0h2m-1 0h2m-2 0h2m7 0h2m2 0h2m-1 0h2m2 0h2m4 0h2m-1 0h2m2 0h2m3 0h2m4 0h2m-63 1h2m9 0h2m-2 0h2m0 0h2m-1 0h2m4 0h2m4 0h2m-1 0h2m9 0h2m2 0h2m1 0h2m-1 0h2m2 0h2m-1 0h2m-1 0h2m-1 0h2m-1 0h2m-2 0h2m0 0h2m0 0h2m0 0h2m0 0h2m-2 0h2m-66 1h2m7 0h2m9 0h2m4 0h2m5 0h2m-1 0h2m-1 0h2m-2 0h2m5 0h2m-2 0h2m0 0h2m-2 0h2m0 0h2m3 0h2m3 0h2m9 0h2m6 0h2m-2 0h2m-1 0h2m10 0h2m3 0h2m-2 0h2m-102 1h2m1 0h2m1 0h2m5 0h2m0 0h2m11 0h2m0 0h2m1 0h2m-1 0h2m6 0h2m0 0h2m1 0h2m0 0h2m-1 0h2m0 0h2m1 0h2m2 0h2m-2 0h2m4 0h2m-2 0h2m-2 0h2m0 0h2m-1 0h2m-1 0h2m-2 0h2m-1 0h2m-2 0h2m-1 0h2m-1 0h2m-2 0h2m-2 0h2m-1 0h2m-2 0h2m-2 0h2m-1 0h2m0 0h2m0 0h2m-2 0h2m-2 0h2m-1 0h2m-1 0h2m-2 0h2m-2 0h2m-2 0h2m-1 0h2m-1 0h2m0 0h2m-2 0h2m0 0h2m-1 0h2m-2 0h2m-2 0h2m-2 0h2m-1 0h2m-2 0h2m-2 0h2m-2 0h2m-1 0h2m1 0h2m-2 0h2m-2 0h2m-1 0h2m0 0h2m-2 0h2m-2 0h2m-1 0h2m-1 0h2m-2 0h2m-1 0h2m-2 0h2m-2 0h2m-1 0h2m0 0h2m-162 1h2m20 0h2m25 0h2m11 0h2m-1 0h2m1 0h2m0 0h2m-1 0h2m-1 0h2m3 0h2m4 0h2m-1 0h2m4 0h2m8 0h2m-2 0h2m-1 0h2m0 0h2m-2 0h2m2 0h2m-2 0h2m12 0h2m4 0h2m-1 0h2m-1 0h2m-2 0h2m-2 0h2m-2 0h2m-2 0h2m-1 0h2m-1 0h2m-2 0h2m-1 0h2m0 0h2m-2 0h2m-2 0h2m-2 0h2m-1 0h2m-2 0h2m-2 0h2m-2 0h2m-2 0h2m-1 0h2m-2 0h2m-1 0h2m-2 0h2m-1 0h2m-2 0h2m-1 0h2m-2 0h2m-1 0h2m-1 0h2m-2 0h2m-1 0h2m-2 0h2m0 0h2m-2 0h2m-2 0h2m-1 0h2m-2 0h2m-1 0h2m0 0h2m-1 0h2m-1 0h2m-1 0h2m-1 0h2m-2 0h2m0 0h2m-1 0h2m-2 0h2m-2 0h2m-1 0h2m-2 0h2m-1 0h2m-2 0h2m-2 0h2m0 0h2m-2 0h2m-1 0h2m-2 0h2m-1 0h2m-1 0h2m-2 0h2m-2 0h2m-143 1h2m-1 0h2m10 0h2m10 0h2m8 0h2m7 0h2m1 0h2m-2 0h2m11 0h2m-2 0h2m9 0h2m0 0h2m-1 0h2m13 0h2m6 0h2m-2 0h2m9 0h2m-2 0h2m-1 0h2m-2 0h2m-2 0h2m-1 0h2m-1 0h2m-1 0h2m-2 0h2m-1 0h2m-2 0h2m1 0h2m0 0h2m-1 0h2m-2 0h2m-2 0h2m0 0h2m-2 0h2m0 0h2m-1 0h2m-1 0h2m-2 0h2m-2 0h2m0 0h2m4 0h2m-2 0h2m-2 0h2m-1 0h2m-1 0h2m3 0h2m-1 0h2m-2 0h2m-181 1h2m7 0h2m-2 0h2m17 0h2m-2 0h2m-2 0h2m7 0h2m3 0h2m2 0h2m-1 0h2m-1 0h2m0 0h2m0 0h2m3 0h2m9 0h2m0 0h2m-2 0h2m10 0h2m0 0h2m-1 0h2m2 0h2m-2 0h2m7 0h2m2 0h2m-2 0h2m0 0h2m4 0h2m0 0h2m2 0h2m-1 0h2m3 0h2m7 0h2m1 0h2m14 0h2m13 0h2m9 0h2m-183 1h2m5 0h2m2 0h2m-2 0h2m1 0h2m-1 0h2m8 0h2m0 0h2m-1 0h2m5 0h2m1 0h2m-1 0h2m10 0h2m6 0h2m5 0h2m2 0h2m0 0h2m-1 0h2m5 0h2m-1 0h2m2 0h2m19 0h2m1 0h2m1 0h2m-1 0h2m4 0h2m11 0h2m-1 0h2m1 0h2m-1 0h2m6 0h2m-1 0h2m2 0h2m-2 0h2m2 0h2m-166 1h2m-2 0h2m6 0h2m6 0h2m0 0h2m8 0h2m1 0h2m2 0h2m-1 0h2m4 0h2m-1 0h2m2 0h2m0 0h2m-2 0h2m0 0h2m-1 0h2m-2 0h2m-1 0h2m10 0h2m7 0h2m1 0h2m4 0h2m-1 0h2m9 0h2m4 0h2m14 0h2m3 0h2m14 0h2m5 0h2m5 0h2m0 0h2m-179 1h2m-1 0h2m-2 0h2m4 0h2m1 0h2m-2 0h2m0 0h2m-2 0h2m2 0h2m-2 0h2m1 0h2m-2 0h2m-2 0h2m0 0h2m0 0h2m-2 0h2m-1 0h2m-2 0h2m0 0h2m2 0h2m-2 0h2m-2 0h2m1 0h2m0 0h2m-1 0h2m2 0h2m0 0h2m-2 0h2m1 0h2m3 0h2m0 0h2m2 0h2m-1 0h2m0 0h2m4 0h2m1 0h2m-2 0h2m-1 0h2m-1 0h2m-1 0h2m5 0h2m-1 0h2m1 0h2m-2 0h2m8 0h2m-1 0h2m-1 0h2m10 0h2m1 0h2m-1 0h2m5 0h2m15 0h2m28 0h2m-166 1h2m-2 0h2m-2 0h2m-1 0h2m-2 0h2m-1 0h2m-2 0h2m-1 0h2m-2 0h2m-2 0h2m-1 0h2m-2 0h2m1 0h2m-2 0h2m-2 0h2m-1 0h2m-2 0h2m-1 0h2m-2 0h2m-2 0h2m0 0h2m-2 0h2m-2 0h2m-1 0h2m-2 0h2m-2 0h2m-2 0h2m-2 0h2m-2 0h2m-1 0h2m-1 0h2m-2 0h2m-2 0h2m-1 0h2m-1 0h2m-2 0h2m0 0h2m-1 0h2m-2 0h2m-1 0h2m-1 0h2m-2 0h2m-2 0h2m-2 0h2m-1 0h2m-2 0h2m-1 0h2m-2 0h2m-1 0h2m-2 0h2m-1 0h2m0 0h2m-2 0h2m-2 0h2m-2 0h2m-1 0h2m-2 0h2m-2 0h2m-1 0h2m-2 0h2m-2 0h2m-2 0h2m-1 0h2m-2 0h2m-1 0h2m-2 0h2m-2 0h2m-2 0h2m-2 0h2m-1 0h2m-2 0h2m-1 0h2m-1 0h2m-1 0h2m4 0h2m-2 0h2m-1 0h2m-1 0h2m1 0h2m3 0h2m-2 0h2m-1 0h2m-1 0h2m-1 0h2m0 0h2m7 0h2m-1 0h2m1 0h2m-2 0h2m0 0h2m0 0h2m-2 0h2m-2 0h2m-1 0h2m3 0h2m-1 0h2m1 0h2m-1 0h2m-1 0h2m-1 0h2m0 0h2m2 0h2m-1 0h2m-1 0h2m3 0h2m0 0h2m-1 0h2m1 0h2m-1 0h2m1 0h2m9 0h2m2 0h2m-1 0h2m42 0h2m-172 1h2m-2 0h2m0 0h2m-2 0h2m-2 0h2m0 0h2m-2 0h2m-2 0h2m-2 0h2m-1 0h2m-2 0h2m-2 0h2m-2 0h2m-2 0h2m-2 0h2m-1 0h2m-2 0h2m-2 0h2m-2 0h2m-1 0h2m-2 0h2m-2 0h2m-2 0h2m-2 0h2m-1 0h2m-2 0h2m-2 0h2m-1 0h2m-2 0h2m0 0h2m-2 0h2m-1 0h2m-1 0h2m-2 0h2m-1 0h2m-2 0h2m-1 0h2m-2 0h2m-2 0h2m-2 0h2m-1 0h2m-2 0h2m-2 0h2m-1 0h2m-1 0h2m-2 0h2m-2 0h2m-2 0h2m-2 0h2m-2 0h2m-1 0h2m-2 0h2m-2 0h2m-2 0h2m-1 0h2m-2 0h2m-2 0h2m-1 0h2m-2 0h2m-1 0h2m-2 0h2m-1 0h2m-2 0h2m-1 0h2m-2 0h2m-2 0h2m-2 0h2m-1 0h2m-2 0h2m-2 0h2m0 0h2m-2 0h2m-2 0h2m-2 0h2m-2 0h2m-1 0h2m-2 0h2m-1 0h2m-2 0h2m-2 0h2m0 0h2m-2 0h2m-1 0h2m-2 0h2m-2 0h2m-2 0h2m-2 0h2m-2 0h2m-1 0h2m2 0h2m-2 0h2m3 0h2m8 0h2m2 0h2m-1 0h2m3 0h2m-1 0h2m5 0h2m1 0h2m-1 0h2m2 0h2m-1 0h2m0 0h2m0 0h2m2 0h2m5 0h2m1 0h2m-1 0h2m4 0h2m6 0h2m6 0h2m37 0h2m1 0h2m1 0h2m-1 0h2m3 0h2m7 0h2m9 0h2m-192 1h2m0 0h2m-2 0h2m-1 0h2m-2 0h2m-1 0h2m0 0h2m-1 0h2m1 0h2m-2 0h2m-1 0h2m-2 0h2m1 0h2m0 0h2m3 0h2m-1 0h2m-2 0h2m-1 0h2m2 0h2m-1 0h2m-2 0h2m-2 0h2m-2 0h2m-1 0h2m-1 0h2m-1 0h2m-2 0h2m-1 0h2m-1 0h2m1 0h2m-1 0h2m-1 0h2m-2 0h2m-1 0h2m0 0h2m-2 0h2m2 0h2m6 0h2m-1 0h2m2 0h2m-2 0h2m4 0h2m-2 0h2m1 0h2m1 0h2m0 0h2m0 0h2m-2 0h2m-1 0h2m4 0h2m0 0h2m5 0h2m2 0h2m15 0h2m3 0h2m38 0h2m-2 0h2m1 0h2m-2 0h2m-1 0h2m-2 0h2m2 0h2m-1 0h2m-1 0h2m-1 0h2m-1 0h2m-2 0h2m0 0h2m0 0h2m-2 0h2m-1 0h2m0 0h2m1 0h2m0 0h2m1 0h2m-1 0h2m0 0h2m0 0h2m-2 0h2m0 0h2m-191 1h2m-1 0h2m15 0h2m12 0h2m-1 0h2m1 0h2m1 0h2m0 0h2m0 0h2m-1 0h2m-2 0h2m-1 0h2m-2 0h2m-1 0h2m0 0h2m1 0h2m1 0h2m2 0h2m-1 0h2m0 0h2m-2 0h2m-1 0h2m1 0h2m0 0h2m5 0h2m4 0h2m0 0h2m0 0h2m8 0h2m1 0h2m56 0h2m1 0h2m-1 0h2m0 0h2m4 0h2m1 0h2m0 0h2m0 0h2m1 0h2m-1 0h2m0 0h2m-1 0h2m-1 0h2m0 0h2m2 0h2m-1 0h2m-178 1h2m20 0h2m2 0h2m7 0h2m1 0h2m0 0h2m-2 0h2m-1 0h2m3 0h2m4 0h2m-2 0h2m-1 0h2m3 0h2m3 0h2m-1 0h2m0 0h2m0 0h2m4 0h2m1 0h2m0 0h2m5 0h2m14 0h2m3 0h2m1 0h2m41 0h2m3 0h2m-156 1h2m12 0h2m-2 0h2m1 0h2m1 0h2m2 0h2m1 0h2m1 0h2m-1 0h2m-2 0h2m2 0h2m3 0h2m0 0h2m1 0h2m2 0h2m-1 0h2m-2 0h2m-2 0h2m0 0h2m-2 0h2m1 0h2m-1 0h2m-1 0h2m7 0h2m4 0h2m-1 0h2m3 0h2m-2 0h2m13 0h2m2 0h2m-100 1h2m7 0h2m7 0h2m1 0h2m-1 0h2m-1 0h2m2 0h2m2 0h2m-1 0h2m14 0h2m0 0h2m-1 0h2m4 0h2m-2 0h2m2 0h2m3 0h2m6 0h2m3 0h2m1 0h2m-1 0h2m-79 1h2m-1 0h2m7 0h2m2 0h2m2 0h2m9 0h2m1 0h2m10 0h2m2 0h2m5 0h2m-1 0h2m-1 0h2m10 0h2m-45 1h2m0 0h2m7 0h2m1 0h2m2 0h2m0 0h2m5 0h2m3 0h2m-55 1h2m-2 0h2m2 0h2m3 0h2m7 0h2m6 0h2m0 0h2m2 0h2m-2 0h2m-1 0h2m3 0h2m13 0h2m8 0h2m5 0h2m-82 1h2m21 0h2m1 0h2m-1 0h2m9 0h2m-25 1h2m14 0h2m-2 0h2m7 0h2m5 0h2m15 0h2m17 0h2m2 0h2m4 0h2m-96 1h2m17 0h2m36 0h2m19 0h2m-1 0h2m-43 1h2m10 0h2m23 0h2m29 0h2m-99 1h2m2 0h2m23 0h2m27 0h2m6 0h2m8 0h2m-21 1h2m10 0h2m4 0h2m15 0h2m4 0h2m-103 1h2m28 0h2m44 0h2m6 0h2m-82 1h2m45 0h2m17 0h2m6 0h2m-72 1h2m12 0h2m13 0h2m16 0h2m16 0h2m-2 0h2m2 0h2m18 0h2m-86 1h2m49 0h2m-64 1h2m1 0h2m13 0h2m5 0h2m9 0h2m20 0h2m-68 1h2m77 0h2m-56 1h2m11 0h2m19 0h2m5 0h2m9 0h2m-50 1h2m0 0h2m21 0h2m8 0h2m16 0h2m-51 1h2m5 0h2m13 0h2m3 0h2m21 0h2m-1 0h2m-82 1h2m23 0h2m10 0h2m-2 1h2m-31 1h2m2 0h2m40 0h2m25 0h2m1 0h2m0 0h2m-81 1h2m17 0h2m1 0h2m2 0h2m5 0h2m43 0h2m-77 1h2m29 0h2m13 0h2m0 0h2m5 0h2m8 0h2m-79 1h2m4 0h2m17 0h2m15 0h2m-1 0h2m4 0h2m11 0h2m-63 1h2m24 0h2m7 0h2m29 0h2m-37 1h2m2 0h2m10 0h2m-43 1h2m23 0h2m4 0h2m23 0h2m2 0h2m-38 1h2m6 0h2m1 0h2m9 0h2m-47 1h2m20 0h2m36 0h2m5 0h2m-55 1h2m33 0h2m-28 1h2m-30 1h2m0 0h2m5 0h2m14 0h2m37 0h2m-47 1h2m-23 1h2m-1 1h2m8 1h2m-1 0h2m-1 2h2m5 0h2m-11 1h2m31 3h2m-2 26h2" stroke="#1f77b4" stroke-width="2" stroke-opacity="0.3" fill="none"/>
<path transform="scale(.5)" d="M639 984h2m-6 2h2m-10 1h2m-2 2h2m-8 1h2m7 2h2m-6 1h2m-10 2h2m-3 1h2m7 0h2m14 3h2m-7 1h2m-1 0h2m8 1h2m-32 1h2m13 0h2m16 0h2m-25 1h2m2 0h2m7 0h2m-32 1h2m9 0h2m5 0h2m1 1h2m-1 0h2m-2 0h2m-22 1h2m24 0h2m3 0h2m-27 1h2m0 0h2m3 0h2m4 0h2m8 0h2m5 0h2m-42 1h2m3 0h2m6 0h2m3 0h2m3 0h2m-1 0h2m3 0h2m0 0h2m7 0h2m-25 1h2m10 0h2m-1 0h2m-23 1h2m10 0h2m9 0h2m-2 0h2m1 0h2m-28 1h2m0 0h2m8 0h2m-2 0h2m2 0h2m-28 1h2m1 0h2m12 0h2m18 0h2m5 0h2m-39 1h2m-1 0h2m0 0h2m1 0h2m11 0h2m-1 0h2m-26 1h2m6 0h2m19 0h2m6 0h2m-30 1h2m5 0h2m2 0h2m10 0h2m2 0h2m-32 1h2m9 0h2m9 0h2m0 0h2m1 0h2m9 0h2m-46 1h2m5 0h2m10 0h2m4 0h2m-1 0h2m-2 0h2m6 0h2m0 0h2m-34 1h2m3 0h2m0 0h2m1 0h2m2 0h2m2 0h2m2 0h2m1 0h2m1 0h2m4 0h2m-43 1h2m15 0h2m12 0h2m-37 1h2m13 0h2m1 0h2m-2 0h2m4 0h2m-1 0h2m-1 0h2m-1 0h2m5 0h2m10 0h2m-39 1h2m9 0h2m3 0h2m0 0h2m-1 0h2m1 0h2m4 0h2m-1 0h2m9 0h2m3 0h2m-55 1h2m4 0h2m1 0h2m-2 0h2m2 0h2m9 0h2m0 0h2m9 0h2m1 0h2m-1 0h2m-38 1h2m7 0h2m5 0h2m5 0h2m-1 0h2m0 0h2m6 0h2m-43 1h2m3 0h2m9 0h2m-1 0h2m-2 0h2m-2 0h2m0 0h2m-1 0h2m2 0h2m0 0h2m5 0h2m-1 0h2m-1 0h2m-2 0h2m2 0h2m-2 0h2m-1 0h2m5 0h2m4 0h2m-51 1h2m6 0h2m1 0h2m0 0h2m1 0h2m4 0h2m2 0h2m1 0h2m11 0h2m4 0h2m-49 1h2m12 0h2m0 0h2m10 0h2m7 0h2m-39 1h2m4 0h2m11 0h2m3 0h2m-2 0h2m0 0h2m2 0h2m6 0h2m-2 0h2m16 0h2m-53 1h2m13 0h2m2 0h2m-2 0h2m8 0h2m-2 0h2m-1 0h2m6 0h2m-2 0h2m1 0h2m-35 1h2m5 0h2m10 0h2m3 0h2m1 0h2m1 0h2m0 0h2m-49 1h2m4 0h2m2 0h2m5 0h2m3 0h2m0 0h2m0 0h2m9 0h2m0 0h2m3 0h2m-2 0h2m0 0h2m4 0h2m-1 0h2m-54 1h2m7 0h2m5 0h2m1 0h2m1 0h2m5 0h2m2 0h2m2 0h2m11 0h2m-52 1h2m7 0h2m5 0h2m0 0h2m0 0h2m3 0h2m10 0h2m7 0h2m3 0h2m-50 1h2m2 0h2m0 0h2m-2 0h2m1 0h2m-2 0h2m11 0h2m5 0h2m-1 0h2m-2 0h2m4 0h2m-1 0h2m-1 0h2m-1 0h2m1 0h2m-1 0h2m-2 0h2m-44 1h2m9 0h2m-2 0h2m5 0h2m2 0h2m6 0h2m1 0h2m4 0h2m0 0h2m4 0h2m-49 1h2m0 0h2m8 0h2m1 0h2m0 0h2m-2 0h2m-1 0h2m6 0h2m-2 0h2m1 0h2m1 0h2m3 0h2m-1 0h2m2 0h2m0 0h2m-52 1h2m-1 0h2m2 0h2m1 0h2m-1 0h2m-2 0h2m2 0h2m-2 0h2m4 0h2m0 0h2m4 0h2m-1 0h2m13 0h2m-47 1h2m-2 0h2m2 0h2m4 0h2m3 0h2m0 0h2m0 0h2m0 0h2m3 0h2m15 0h2m-2 0h2m0 0h2m0 0h2m3 0h2m-1 0h2m-51 1h2m0 0h2m1 0h2m9 0h2m2 0h2m17 0h2m-18 1h2m16 0h2m-51 1h2m15 0h2m11 0h2m4 0h2m-24 1h2m0 0h2m5 0h2m17 0h2m-35 1h2m-1 0h2m26 0h2m-38 2h2" stroke="#ff7f0e" stroke-width="2" stroke-opacity="0.3" fill="none"/>
<path d="M400.6 480.4V606H523.8" stroke="#595959" stroke-width="0.8" fill="none"/>
<line x1="398.4" y1="481.6" x2="400.6" y2="481.6" stroke="#595959" stroke-width="0.7"/>
<text x="395.2" y="484.5" font-size="8.1" text-anchor="end">0.03</text>
<line x1="398.4" y1="499.4" x2="400.6" y2="499.4" stroke="#595959" stroke-width="0.7"/>
<text x="395.2" y="502.3" font-size="8.1" text-anchor="end">0.02</text>
<line x1="398.4" y1="517.2" x2="400.6" y2="517.2" stroke="#595959" stroke-width="0.7"/>
<text x="395.2" y="520.1" font-size="8.1" text-anchor="end">0.01</text>
<line x1="398.4" y1="535" x2="400.6" y2="535" stroke="#595959" stroke-width="0.7"/>
<text x="395.2" y="537.9" font-size="8.1" text-anchor="end">0</text>
<line x1="398.4" y1="552.8" x2="400.6" y2="552.8" stroke="#595959" stroke-width="0.7"/>
<text x="395.2" y="555.7" font-size="8.1" text-anchor="end">−0.01</text>
<line x1="398.4" y1="570.6" x2="400.6" y2="570.6" stroke="#595959" stroke-width="0.7"/>
<text x="395.2" y="573.5" font-size="8.1" text-anchor="end">−0.02</text>
<line x1="398.4" y1="588.4" x2="400.6" y2="588.4" stroke="#595959" stroke-width="0.7"/>
<text x="395.2" y="591.3" font-size="8.1" text-anchor="end">−0.03</text>
<line x1="398.4" y1="606.2" x2="400.6" y2="606.2" stroke="#595959" stroke-width="0.7"/>
<text x="395.2" y="609.1" font-size="8.1" text-anchor="end">−0.04</text>
<line x1="416.2" y1="606" x2="416.2" y2="608.2" stroke="#595959" stroke-width="0.7"/>
<text x="416.2" y="618" font-size="7.9" text-anchor="middle">0.2</text>
<line x1="441.75" y1="606" x2="441.75" y2="608.2" stroke="#595959" stroke-width="0.7"/>
<text x="441.75" y="618" font-size="7.9" text-anchor="middle">0.4</text>
<line x1="467.3" y1="606" x2="467.3" y2="608.2" stroke="#595959" stroke-width="0.7"/>
<text x="467.3" y="618" font-size="7.9" text-anchor="middle">0.6</text>
<line x1="492.85" y1="606" x2="492.85" y2="608.2" stroke="#595959" stroke-width="0.7"/>
<text x="492.85" y="618" font-size="7.9" text-anchor="middle">0.8</text>
<line x1="518.4" y1="606" x2="518.4" y2="608.2" stroke="#595959" stroke-width="0.7"/>
<text x="518.4" y="618" font-size="7.9" text-anchor="middle">1</text>
<text x="456.4" y="475.9" font-size="8.9" text-anchor="middle">PS</text>
<text x="462.2" y="630.8" font-size="8.8" text-anchor="middle">Gene expression</text>
<polygon points="416,531.2 430,529.6 446,530.4 456,529.6 469.6,531.2 470.4,534.4 450,534.4 430,535.6 416,534.8" fill="#1f77b4" fill-opacity="0.49" filter="url(#sb)"/>
<polygon points="473,536.6 502,536.6 501,539 497,544.4 492,548.4 488,547.6 482,544 475,540" fill="#1f77b4" fill-opacity="0.32" filter="url(#sb)"/>
<path transform="scale(.5)" d="M884 1049h2m21 1h2m-29 1h2m1 0h2m40 0h2m-59 1h2m12 0h2m28 0h2m12 0h2m-70 1h2m22 0h2m3 0h2m42 0h2m-76 1h2m20 0h2m24 0h2m4 0h2m5 0h2m-65 1h2m-1 0h2m9 0h2m-1 0h2m10 0h2m1 0h2m32 0h2m-12 1h2m-1 0h2m-69 1h2m-1 0h2m2 0h2m1 0h2m12 0h2m6 0h2m3 0h2m16 0h2m4 0h2m3 0h2m-1 0h2m-1 0h2m6 0h2m-1 0h2m11 0h2m2 0h2m-82 1h2m4 0h2m2 0h2m12 0h2m10 0h2m-1 0h2m3 0h2m5 0h2m3 0h2m-1 0h2m0 0h2m2 0h2m6 0h2m-1 0h2m2 0h2m5 0h2m-83 1h2m3 0h2m6 0h2m-1 0h2m3 0h2m0 0h2m2 0h2m1 0h2m7 0h2m0 0h2m1 0h2m-1 0h2m-1 0h2m0 0h2m-1 0h2m1 0h2m3 0h2m-1 0h2m-1 0h2m3 0h2m2 0h2m-2 0h2m5 0h2m-2 0h2m-85 1h2m6 0h2m-1 0h2m1 0h2m-2 0h2m5 0h2m-1 0h2m0 0h2m1 0h2m1 0h2m1 0h2m10 0h2m11 0h2m0 0h2m-1 0h2m3 0h2m-2 0h2m8 0h2m-1 0h2m3 0h2m-90 1h2m-1 0h2m10 0h2m1 0h2m1 0h2m-1 0h2m-1 0h2m2 0h2m-1 0h2m-2 0h2m1 0h2m0 0h2m-1 0h2m7 0h2m-1 0h2m-1 0h2m-1 0h2m6 0h2m-1 0h2m8 0h2m2 0h2m2 0h2m-2 0h2m4 0h2m2 0h2m-2 0h2m0 0h2m0 0h2m1 0h2m-1 0h2m-1 0h2m4 0h2m-1 0h2m-1 0h2m0 0h2m-105 1h2m2 0h2m8 0h2m1 0h2m3 0h2m-1 0h2m0 0h2m3 0h2m19 0h2m-1 0h2m-1 0h2m9 0h2m2 0h2m-2 0h2m-2 0h2m-2 0h2m-1 0h2m1 0h2m0 0h2m0 0h2m-2 0h2m2 0h2m7 0h2m0 0h2m-1 0h2m-1 0h2m-1 0h2m2 0h2m-1 0h2m0 0h2m-103 1h2m0 0h2m-1 0h2m-1 0h2m4 0h2m1 0h2m-1 0h2m-1 0h2m3 0h2m4 0h2m0 0h2m3 0h2m-2 0h2m2 0h2m-1 0h2m2 0h2m8 0h2m-2 0h2m1 0h2m2 0h2m6 0h2m-2 0h2m0 0h2m3 0h2m-1 0h2m-1 0h2m-1 0h2m0 0h2m-1 0h2m-2 0h2m2 0h2m-1 0h2m1 0h2m0 0h2m-2 0h2m-1 0h2m-1 0h2m1 0h2m-1 0h2m7 0h2m-120 1h2m5 0h2m0 0h2m-1 0h2m-1 0h2m1 0h2m0 0h2m1 0h2m0 0h2m1 0h2m0 0h2m9 0h2m4 0h2m5 0h2m0 0h2m1 0h2m1 0h2m4 0h2m3 0h2m6 0h2m1 0h2m0 0h2m1 0h2m4 0h2m1 0h2m1 0h2m9 0h2m-1 0h2m-116 1h2m-2 0h2m0 0h2m-2 0h2m-1 0h2m-2 0h2m-2 0h2m-1 0h2m-2 0h2m-2 0h2m-1 0h2m-1 0h2m-1 0h2m-2 0h2m0 0h2m-1 0h2m-2 0h2m-2 0h2m-1 0h2m-2 0h2m-2 0h2m-1 0h2m-2 0h2m-2 0h2m-1 0h2m-2 0h2m-1 0h2m-2 0h2m-2 0h2m-1 0h2m0 0h2m-1 0h2m-2 0h2m-1 0h2m-1 0h2m-2 0h2m-1 0h2m-2 0h2m-1 0h2m8 0h2m4 0h2m-2 0h2m3 0h2m4 0h2m3 0h2m0 0h2m-2 0h2m4 0h2m-1 0h2m0 0h2m5 0h2m-1 0h2m-1 0h2m1 0h2m1 0h2m9 0h2m2 0h2m2 0h2m3 0h2m-1 0h2m4 0h2m-2 0h2m3 0h2m-2 0h2m1 0h2m1 0h2m0 0h2m0 0h2m-1 0h2m-1 0h2m-129 1h2m-2 0h2m-2 0h2m-2 0h2m-1 0h2m-1 0h2m-1 0h2m-2 0h2m-2 0h2m-2 0h2m-1 0h2m-2 0h2m-2 0h2m-1 0h2m-1 0h2m-2 0h2m-2 0h2m-2 0h2m-2 0h2m-1 0h2m-2 0h2m-2 0h2m-1 0h2m-2 0h2m-1 0h2m-2 0h2m-2 0h2m-2 0h2m0 0h2m0 0h2m-2 0h2m-1 0h2m-2 0h2m-1 0h2m-2 0h2m-1 0h2m-1 0h2m-2 0h2m-2 0h2m-2 0h2m-2 0h2m-1 0h2m-2 0h2m-2 0h2m-2 0h2m-1 0h2m-2 0h2m-1 0h2m-2 0h2m-1 0h2m-2 0h2m-1 0h2m2 0h2m-1 0h2m1 0h2m4 0h2m2 0h2m2 0h2m2 0h2m-1 0h2m-1 0h2m-2 0h2m8 0h2m2 0h2m-1 0h2m9 0h2m6 0h2m-1 0h2m0 0h2m-1 0h2m2 0h2m-1 0h2m-2 0h2m1 0h2m9 0h2m-2 0h2m2 0h2m-1 0h2m2 0h2m0 0h2m0 0h2m-123 1h2m-1 0h2m-1 0h2m-1 0h2m-1 0h2m-1 0h2m-2 0h2m0 0h2m-2 0h2m-2 0h2m0 0h2m-2 0h2m-1 0h2m-1 0h2m-2 0h2m-2 0h2m-2 0h2m-1 0h2m0 0h2m-2 0h2m-1 0h2m-2 0h2m-2 0h2m-1 0h2m-1 0h2m-2 0h2m0 0h2m-2 0h2m-1 0h2m-2 0h2m-2 0h2m-1 0h2m0 0h2m-1 0h2m2 0h2m-2 0h2m1 0h2m-1 0h2m0 0h2m-2 0h2m1 0h2m-2 0h2m0 0h2m6 0h2m-2 0h2m1 0h2m-2 0h2m-1 0h2m4 0h2m0 0h2m-1 0h2m1 0h2m4 0h2m0 0h2m-2 0h2m1 0h2m8 0h2m2 0h2m6 0h2m-1 0h2m2 0h2m-1 0h2m-1 0h2m2 0h2m6 0h2m-2 0h2m3 0h2m0 0h2m0 0h2m-2 0h2m0 0h2m-1 0h2m-2 0h2m-1 0h2m-1 0h2m-129 1h2m2 0h2m-1 0h2m-1 0h2m9 0h2m-1 0h2m4 0h2m-1 0h2m2 0h2m0 0h2m5 0h2m0 0h2m0 0h2m-1 0h2m0 0h2m-1 0h2m-1 0h2m-1 0h2m11 0h2m3 0h2m2 0h2m-2 0h2m-1 0h2m-1 0h2m-1 0h2m-2 0h2m2 0h2m2 0h2m3 0h2m4 0h2m5 0h2m9 0h2m0 0h2m5 0h2m1 0h2m0 0h2m-2 0h2m-2 0h2m0 0h2m-2 0h2m-1 0h2m-2 0h2m-2 0h2m-115 1h2m0 0h2m6 0h2m15 0h2m6 0h2m4 0h2m-1 0h2m3 0h2m4 0h2m4 0h2m7 0h2m19 0h2m7 0h2m0 0h2m3 0h2m3 0h2m-1 0h2m-2 0h2m-2 0h2m0 0h2m-2 0h2m-1 0h2m-1 0h2m-115 1h2m7 0h2m1 0h2m3 0h2m0 0h2m-2 0h2m-2 0h2m5 0h2m2 0h2m2 0h2m-2 0h2m-1 0h2m6 0h2m-1 0h2m13 0h2m26 0h2m-2 0h2m0 0h2m18 0h2m-1 0h2m-2 0h2m-2 0h2m-2 0h2m-1 0h2m-2 0h2m-1 0h2m-1 0h2m-2 0h2m-1 0h2m-2 0h2m0 0h2m-2 0h2m10 0h2m-133 1h2m4 0h2m0 0h2m0 0h2m-1 0h2m-1 0h2m2 0h2m0 0h2m-1 0h2m-2 0h2m1 0h2m1 0h2m5 0h2m1 0h2m-2 0h2m0 0h2m5 0h2m-2 0h2m0 0h2m3 0h2m-1 0h2m-2 0h2m0 0h2m4 0h2m24 0h2m7 0h2m14 0h2m2 0h2m-1 0h2m-2 0h2m-2 0h2m-1 0h2m-2 0h2m-1 0h2m-2 0h2m-1 0h2m13 0h2m4 0h2m-2 0h2m-1 0h2m6 0h2m-1 0h2m2 0h2m3 0h2m-152 1h2m6 0h2m9 0h2m-2 0h2m1 0h2m-1 0h2m5 0h2m-2 0h2m1 0h2m7 0h2m6 0h2m55 0h2m-1 0h2m-1 0h2m-2 0h2m-2 0h2m-2 0h2m-1 0h2m-2 0h2m-2 0h2m-1 0h2m-2 0h2m-2 0h2m0 0h2m6 0h2m3 0h2m1 0h2m2 0h2m-2 0h2m2 0h2m2 0h2m3 0h2m0 0h2m1 0h2m0 0h2m-1 0h2m1 0h2m10 0h2m6 0h2m0 0h2m17 0h2m-193 1h2m29 0h2m69 0h2m-1 0h2m0 0h2m-2 0h2m-2 0h2m-2 0h2m-1 0h2m-2 0h2m-1 0h2m-1 0h2m-1 0h2m-1 0h2m-2 0h2m0 0h2m-2 0h2m-2 0h2m-1 0h2m1 0h2m-2 0h2m-2 0h2m-1 0h2m-1 0h2m-1 0h2m0 0h2m-2 0h2m-1 0h2m-2 0h2m-1 0h2m0 0h2m-1 0h2m-2 0h2m-1 0h2m-2 0h2m-1 0h2m-1 0h2m0 0h2m-2 0h2m0 0h2m-1 0h2m-2 0h2m0 0h2m1 0h2m-2 0h2m-2 0h2m-1 0h2m-2 0h2m-1 0h2m-1 0h2m-1 0h2m-2 0h2m-2 0h2m-2 0h2m1 0h2m-2 0h2m0 0h2m-2 0h2m-1 0h2m-2 0h2m-1 0h2m2 0h2m-1 0h2m-1 0h2m-2 0h2m-2 0h2m-2 0h2m-1 0h2m-1 0h2m-1 0h2m0 0h2m-2 0h2m0 0h2m-2 0h2m-2 0h2m-2 0h2m-2 0h2m1 0h2m0 0h2m-2 0h2m-1 0h2m0 0h2m0 0h2m-2 0h2m-1 0h2m-1 0h2m-1 0h2m4 0h2m-1 0h2m-1 0h2m1 0h2m-1 0h2m-1 0h2m-2 0h2m-1 0h2m-1 0h2m-202 1h2m7 0h2m3 0h2m95 0h2m-1 0h2m-2 0h2m-1 0h2m-1 0h2m-2 0h2m-2 0h2m-1 0h2m-2 0h2m-2 0h2m-2 0h2m-2 0h2m-1 0h2m-2 0h2m0 0h2m-1 0h2m-2 0h2m-2 0h2m-2 0h2m-2 0h2m-1 0h2m-1 0h2m-2 0h2m0 0h2m-1 0h2m-2 0h2m-2 0h2m-1 0h2m-2 0h2m-1 0h2m-1 0h2m-2 0h2m-1 0h2m-2 0h2m-1 0h2m-1 0h2m-2 0h2m-1 0h2m-2 0h2m-2 0h2m-2 0h2m-1 0h2m-2 0h2m-2 0h2m-2 0h2m-2 0h2m-2 0h2m-1 0h2m-2 0h2m-1 0h2m-2 0h2m-2 0h2m-1 0h2m-1 0h2m-2 0h2m-1 0h2m-2 0h2m-1 0h2m-1 0h2m-1 0h2m-2 0h2m-2 0h2m-2 0h2m-2 0h2m-2 0h2m-1 0h2m-2 0h2m0 0h2m-2 0h2m-2 0h2m-1 0h2m-2 0h2m-2 0h2m-1 0h2m-1 0h2m-2 0h2m1 0h2m-2 0h2m-2 0h2m-1 0h2m-1 0h2m-2 0h2m-2 0h2m-2 0h2m-2 0h2m1 0h2m-2 0h2m-1 0h2m-2 0h2m-1 0h2m-2 0h2m-1 0h2m-2 0h2m-1 0h2m-2 0h2m-2 0h2m-1 0h2m-2 0h2m-2 0h2m-1 0h2m-2 0h2m-1 0h2m-1 0h2m-2 0h2m-2 0h2m-2 0h2m-1 0h2m-2 0h2m-2 0h2m0 0h2m-1 0h2m-2 0h2m-1 0h2m-2 0h2m-1 0h2m-1 0h2m1 0h2m0 0h2m-2 0h2m-2 0h2m-2 0h2m1 0h2m-1 0h2m-2 0h2m-1 0h2m-2 0h2m-1 0h2m-1 0h2m-1 0h2m-1 0h2m-2 0h2m-2 0h2m-2 0h2m1 0h2m-2 0h2m-1 0h2m-2 0h2m-2 0h2m-1 0h2m-2 0h2m-2 0h2m-1 0h2m-2 0h2m-1 0h2m-1 0h2m-1 0h2m0 0h2m-1 0h2m-1 0h2m-1 0h2m-2 0h2m-2 0h2m-1 0h2m-1 0h2m-184 1h2m6 0h2m2 0h2m78 0h2m-1 0h2m0 0h2m0 0h2m-2 0h2m-2 0h2m-2 0h2m-1 0h2m-1 0h2m-2 0h2m-1 0h2m-1 0h2m1 0h2m-1 0h2m-2 0h2m-1 0h2m-2 0h2m-1 0h2m-1 0h2m-2 0h2m-1 0h2m-2 0h2m-2 0h2m0 0h2m0 0h2m2 0h2m-2 0h2m-2 0h2m-1 0h2m-1 0h2m0 0h2m-2 0h2m-1 0h2m2 0h2m3 0h2m-1 0h2m-1 0h2m-1 0h2m0 0h2m0 0h2m-2 0h2m0 0h2m-1 0h2m-2 0h2m-2 0h2m-1 0h2m-2 0h2m-1 0h2m-1 0h2m-2 0h2m-1 0h2m-1 0h2m-2 0h2m-1 0h2m-1 0h2m-2 0h2m-1 0h2m-2 0h2m-1 0h2m-1 0h2m1 0h2m-1 0h2m0 0h2m1 0h2m0 0h2m-1 0h2m-1 0h2m-2 0h2m-1 0h2m-2 0h2m-1 0h2m-1 0h2m-2 0h2m-1 0h2m-2 0h2m-1 0h2m-1 0h2m-1 0h2m0 0h2m-2 0h2m0 0h2m-2 0h2m-1 0h2m-1 0h2m-2 0h2m-2 0h2m0 0h2m-2 0h2m-1 0h2m-2 0h2m-1 0h2m-2 0h2m-1 0h2m-187 1h2m105 0h2m1 0h2m8 0h2m5 0h2m0 0h2m-2 0h2m0 0h2m1 0h2m-1 0h2m-2 0h2m8 0h2m3 0h2m-2 0h2m1 0h2m16 0h2m0 0h2m5 0h2m-176 1h2m89 0h2m6 0h2m0 0h2m-2 0h2m3 0h2m3 0h2m6 0h2m2 0h2m3 0h2m5 0h2m-1 0h2m-1 0h2m-2 0h2m5 0h2m-143 1h2m91 0h2m-2 0h2m-2 0h2m2 0h2m3 0h2m4 0h2m-2 0h2m0 0h2m6 0h2m-1 0h2m3 0h2m-1 0h2m-1 0h2m9 0h2m-34 1h2m6 0h2m6 0h2m0 0h2m-2 0h2m2 0h2m1 0h2m-2 0h2m7 0h2m-1 0h2m-2 0h2m-1 0h2m-1 0h2m0 0h2m-54 1h2m1 0h2m0 0h2m-1 0h2m1 0h2m1 0h2m1 0h2m-1 0h2m2 0h2m1 0h2m6 0h2m5 0h2m1 0h2m2 0h2m-44 1h2m-1 0h2m3 0h2m8 0h2m15 0h2m6 0h2m-51 1h2m14 0h2m2 0h2m0 0h2m1 0h2m3 0h2m-2 0h2m0 0h2m-1 0h2m0 0h2m-2 0h2m-1 0h2m4 0h2m3 0h2m2 0h2m0 0h2m-45 1h2m-1 0h2m6 0h2m0 0h2m3 0h2m-1 0h2m6 0h2m1 0h2m-1 0h2m2 0h2m4 0h2m0 0h2m1 0h2m-1 0h2m-48 1h2m2 0h2m9 0h2m-1 0h2m4 0h2m2 0h2m2 0h2m-1 0h2m0 0h2m-2 0h2m1 0h2m-1 0h2m4 0h2m0 0h2m-42 1h2m-1 0h2m1 0h2m-1 0h2m3 0h2m1 0h2m-1 0h2m13 0h2m1 0h2m2 0h2m9 0h2m-52 1h2m-2 0h2m-1 0h2m-2 0h2m9 0h2m27 0h2m-2 0h2m-38 1h2m0 0h2m-1 0h2m8 0h2m6 0h2m7 0h2m0 0h2m-38 1h2m1 0h2m0 0h2m-1 0h2m-2 0h2m1 0h2m1 0h2m0 0h2m-2 0h2m0 0h2m10 0h2m3 0h2m-1 0h2m-42 1h2m3 0h2m11 0h2m3 0h2m4 0h2m3 0h2m-1 0h2m-1 0h2m-1 0h2m-1 0h2m-23 1h2m4 0h2m-2 0h2m2 0h2m-2 0h2m9 0h2m0 0h2m1 0h2m-2 0h2m-33 1h2m-1 0h2m-2 0h2m1 0h2m0 0h2m-2 0h2m2 0h2m1 0h2m2 0h2m1 0h2m4 0h2m-2 0h2m0 0h2m-2 0h2m2 0h2m-2 0h2m-1 0h2m7 0h2m-48 1h2m7 0h2m0 0h2m-1 0h2m-2 0h2m1 0h2m-1 0h2m1 0h2m2 0h2m6 0h2m-39 1h2m14 0h2m0 0h2m-1 0h2m2 0h2m4 0h2m-1 0h2m1 0h2m3 0h2m3 0h2m-48 1h2m12 0h2m-1 0h2m3 0h2m-1 0h2m3 0h2m1 0h2m2 0h2m-1 0h2m2 0h2m1 0h2m-1 0h2m-45 1h2m7 0h2m-2 0h2m1 0h2m-2 0h2m0 0h2m5 0h2m-1 0h2m-1 0h2m-2 0h2m1 0h2m2 0h2m0 0h2m4 0h2m1 0h2m-1 0h2m0 0h2m7 0h2m-44 1h2m-1 0h2m4 0h2m10 0h2m7 0h2m-24 1h2m-2 0h2m1 0h2m10 0h2m4 0h2m12 0h2m-52 1h2m2 0h2m5 0h2m5 0h2m-1 0h2m-2 0h2m2 0h2m2 0h2m5 0h2m-36 1h2m4 0h2m2 0h2m6 0h2m11 0h2m0 0h2m6 0h2m-1 0h2m-43 1h2m10 0h2m2 0h2m1 0h2m4 0h2m0 0h2m0 0h2m0 0h2m1 0h2m-1 0h2m0 0h2m2 0h2m4 0h2m1 0h2m-1 0h2m-52 1h2m22 0h2m1 0h2m5 0h2m4 0h2m11 0h2m-53 1h2m0 0h2m4 0h2m1 0h2m3 0h2m2 0h2m1 0h2m-2 0h2m-1 0h2m2 0h2m-2 0h2m-17 1h2m1 0h2m1 0h2m0 0h2m0 0h2m-1 0h2m2 0h2m2 0h2m20 0h2m-60 1h2m19 0h2m27 0h2m4 0h2m-56 1h2m0 0h2m2 0h2m0 0h2m17 0h2m22 0h2m-2 0h2m-60 1h2m31 0h2m-2 0h2m0 0h2m-1 0h2m-27 1h2m0 0h2m4 0h2m2 0h2m2 0h2m3 0h2m0 0h2m-1 0h2m4 0h2m10 0h2m-54 1h2m22 0h2m30 0h2m-27 1h2m2 0h2m-2 0h2m23 0h2m-48 1h2m10 0h2m-2 0h2m10 0h2m5 0h2m4 0h2m5 0h2m-49 1h2m6 1h2m18 0h2m-30 1h2m-1 0h2m4 0h2m-2 0h2m-1 0h2m2 0h2m2 0h2m1 0h2m7 0h2m-33 1h2m2 0h2m7 0h2m-1 0h2m-10 1h2m20 0h2m-1 0h2m-29 1h2m5 0h2m4 0h2m0 0h2m0 0h2m1 0h2m-12 1h2m0 0h2m25 0h2m-35 1h2m22 0h2m-1 0h2m-2 0h2m-23 1h2m-2 0h2m28 0h2m-46 1h2m10 0h2m15 0h2m-16 1h2m1 0h2m0 0h2m5 0h2m0 0h2m8 0h2m5 0h2m-43 1h2m7 0h2m5 0h2m11 0h2m-1 0h2m-1 0h2m-37 1h2m9 0h2m14 0h2m11 0h2m-18 1h2m-1 0h2m2 0h2m3 0h2m-40 1h2m13 0h2m-2 0h2m7 0h2m26 0h2m-38 1h2m4 0h2m-2 0h2m2 0h2m3 0h2m-24 1h2m-1 1h2m6 0h2m8 0h2m1 0h2m15 0h2m-36 1h2m3 0h2m0 0h2m1 0h2m-26 1h2m7 0h2m11 0h2m3 0h2m1 0h2m-14 1h2m4 0h2m0 0h2m2 0h2m2 0h2m-24 1h2m0 0h2m2 0h2m0 0h2m0 0h2m4 0h2m1 0h2m2 0h2m-32 1h2m14 0h2m-2 0h2m1 0h2m15 0h2m-43 1h2m11 0h2m13 0h2m-1 0h2m2 0h2m-9 1h2m2 0h2m-20 1h2m0 0h2m6 0h2m-1 0h2m7 0h2m7 0h2m-34 1h2m8 0h2m6 0h2m-1 0h2m-17 1h2m2 0h2m0 0h2m1 0h2m8 0h2m4 0h2m-21 1h2m8 0h2m-2 0h2m2 0h2m0 0h2m-36 1h2m15 0h2m0 0h2m11 0h2m-24 1h2m6 0h2m0 0h2m-1 0h2m17 0h2m-29 1h2m-1 0h2m13 0h2m-2 0h2m-27 1h2m11 0h2m-1 0h2m4 0h2m-1 0h2m1 0h2m-29 1h2m10 0h2m25 0h2m-1 0h2m-30 1h2m0 0h2m4 0h2m0 0h2m0 0h2m4 0h2m-40 1h2m21 0h2m-2 1h2m7 0h2m-1 0h2m1 0h2m1 0h2m-29 1h2m3 0h2m9 0h2m-1 0h2m-1 0h2m-2 0h2m1 0h2m4 0h2m-9 1h2m-11 1h2m0 0h2m-3 1h2m-2 0h2m0 0h2m0 0h2m3 0h2m-1 0h2m-2 0h2m0 0h2m-17 1h2m7 0h2m1 0h2m3 0h2m-16 1h2m2 0h2m-7 1h2m6 0h2m-1 0h2m4 0h2m-26 1h2m2 0h2m8 0h2m4 0h2m-4 1h2m0 0h2m-18 1h2m17 0h2m-2 0h2m-13 1h2m10 0h2m-16 1h2m3 0h2m0 0h2m1 0h2m-13 2h2m4 0h2m-1 0h2m-1 0h2m1 0h2m2 0h2m-13 4h2m9 0h2m-19 1h2m1 0h2m8 1h2m-11 1h2m3 0h2m-3 2h2m-1 1h2m-6 1h2m-8 1h2m3 0h2m-7 1h2m0 0h2m9 0h2m-11 1h2m-4 1h2m-1 1h2m0 2h2m3 1h2m-17 1h2m7 0h2m-9 1h2m5 0h2m3 0h2m-11 2h2m-2 1h2m4 1h2m1 0h2m-4 1h2m2 0h2m-6 3h2m9 2h2" stroke="#1f77b4" stroke-width="2" stroke-opacity="0.3" fill="none"/>
<path transform="scale(.5)" d="M910 984h2m-21 1h2m6 1h2m3 2h2m3 0h2m4 0h2m-19 1h2m7 0h2m-26 1h2m6 0h2m0 0h2m-10 1h2m6 0h2m-1 0h2m-2 0h2m-5 1h2m-11 1h2m17 0h2m1 0h2m19 0h2m-23 1h2m-1 0h2m-26 1h2m0 0h2m28 0h2m6 0h2m7 0h2m-36 1h2m3 0h2m19 0h2m-1 0h2m-8 1h2m-16 2h2m13 0h2m10 0h2m-42 1h2m20 0h2m3 0h2m-24 1h2m3 0h2m-26 1h2m-1 0h2m12 0h2m8 0h2m17 0h2m1 0h2m-49 1h2m13 0h2m37 0h2m-31 1h2m17 0h2m-1 0h2m-43 1h2m0 0h2m1 0h2m35 0h2m-37 1h2m8 0h2m26 0h2m-56 1h2m5 0h2m26 0h2m0 0h2m1 0h2m17 0h2m-49 1h2m47 0h2m-58 1h2m3 0h2m9 0h2m29 0h2m7 0h2m-54 1h2m7 0h2m6 0h2m2 0h2m6 0h2m6 0h2m13 0h2m1 0h2m3 0h2m-74 1h2m-2 0h2m6 0h2m3 0h2m7 0h2m25 0h2m1 0h2m-39 1h2m-2 0h2m-1 0h2m-1 0h2m17 0h2m4 0h2m0 0h2m-1 0h2m4 0h2m4 0h2m-50 1h2m58 0h2m0 0h2m-74 1h2m21 0h2m19 0h2m0 0h2m1 0h2m4 0h2m12 0h2m-63 1h2m14 0h2m4 0h2m-1 0h2m5 0h2m11 0h2m14 0h2m-1 0h2m-65 1h2m-1 0h2m0 0h2m28 0h2m28 0h2m-62 1h2m6 0h2m10 0h2m29 0h2m12 0h2m-71 1h2m-1 0h2m1 0h2m15 0h2m20 0h2m-1 0h2m-2 0h2m9 0h2m-56 1h2m-1 0h2m-2 0h2m16 0h2m20 0h2m5 0h2m5 0h2m-2 0h2m3 0h2m2 0h2m0 0h2m-69 1h2m-1 0h2m0 0h2m6 0h2m3 0h2m1 0h2m12 0h2m0 0h2m25 0h2m-71 1h2m13 0h2m6 0h2m0 0h2m-2 0h2m6 0h2m0 0h2m3 0h2m18 0h2m-61 1h2m5 0h2m5 0h2m33 0h2m8 0h2m5 0h2m-63 1h2m12 0h2m-1 0h2m0 0h2m3 0h2m8 0h2m14 0h2m1 0h2m1 0h2m11 0h2m-66 1h2m5 0h2m0 0h2m58 0h2m-60 1h2m1 0h2m5 0h2m11 0h2m30 0h2m-78 1h2m3 0h2m1 0h2m-1 0h2m17 0h2m3 0h2m-1 0h2m13 0h2m-1 0h2m3 0h2m3 0h2m1 0h2m-1 0h2m-63 1h2m-2 0h2m0 0h2m0 0h2m1 0h2m-1 0h2m0 0h2m9 0h2m50 0h2m-84 1h2m10 0h2m4 0h2m9 0h2m2 0h2m30 0h2m0 0h2m-2 0h2m0 0h2m-54 1h2m0 0h2m1 0h2m-2 0h2m3 0h2m3 0h2m-2 0h2m1 0h2m12 0h2m5 0h2m12 0h2m16 0h2m-60 1h2m12 0h2m1 0h2m5 0h2m10 0h2m-1 0h2m8 0h2m2 0h2m-85 1h2m12 0h2m3 0h2m14 0h2m-1 0h2m8 0h2m-1 0h2m8 0h2m6 0h2m14 0h2m0 0h2m-2 0h2m-63 1h2m58 0h2m-1 0h2m2 0h2m4 0h2m-93 1h2m6 0h2m18 0h2m18 0h2m20 0h2m10 0h2m-67 1h2m8 0h2m3 0h2m19 0h2m0 0h2m7 0h2m8 0h2m-47 1h2m5 0h2m11 0h2m-1 0h2m0 0h2m0 0h2m12 0h2m-1 0h2m1 0h2m-1 0h2m-72 1h2m18 0h2m-1 0h2m22 0h2m7 0h2m-2 0h2m7 0h2m15 0h2m0 0h2m-80 1h2m1 0h2m2 0h2m13 0h2m22 0h2m-1 0h2m3 0h2m3 0h2m9 0h2m-2 0h2m0 0h2m1 0h2m5 0h2m-83 1h2m2 0h2m16 0h2m19 0h2m12 0h2m0 0h2m0 0h2m7 0h2m1 0h2m-2 0h2m-63 1h2m-1 0h2m5 0h2m10 0h2m5 0h2m8 0h2m-52 1h2m45 0h2m-1 0h2m-2 0h2m19 0h2m-1 0h2m4 0h2m-71 1h2m10 0h2m22 0h2m-2 0h2m-1 0h2m11 0h2m5 0h2m1 0h2m3 0h2m-76 1h2m7 0h2m14 0h2m-1 0h2m45 0h2m4 0h2m-88 1h2m17 0h2m1 0h2m18 0h2m5 0h2m5 0h2m-1 0h2m10 0h2m1 0h2m2 0h2m-1 0h2m-1 0h2m7 0h2m-66 1h2m8 0h2m3 0h2m-1 0h2m-1 0h2m19 0h2m5 0h2m-1 0h2m17 0h2m-84 1h2m4 0h2m2 0h2m3 0h2m47 0h2m12 0h2m-81 1h2m4 0h2m8 0h2m8 0h2m21 0h2m16 0h2m2 0h2m-66 1h2m10 0h2m13 0h2m11 0h2m1 0h2m12 0h2m-2 0h2m23 0h2m-95 1h2m9 0h2m2 0h2m6 0h2m3 0h2m1 0h2m33 0h2m5 0h2m2 0h2m-1 0h2m4 0h2m-70 1h2m41 0h2m8 0h2m9 0h2m6 0h2m-93 1h2m7 0h2m13 0h2m-2 0h2m1 0h2m9 0h2m16 0h2m3 0h2m-1 0h2m4 0h2m8 0h2m8 0h2m-71 1h2m10 0h2m0 0h2m5 0h2m13 0h2m1 0h2m1 0h2m7 0h2m14 0h2m-69 1h2m4 0h2m2 0h2m0 0h2m2 0h2m6 0h2m1 0h2m13 0h2m-1 0h2m8 0h2m7 0h2m-52 1h2m5 0h2m22 0h2m6 0h2m20 0h2m-92 1h2m37 0h2m14 0h2m2 0h2m4 0h2m-1 0h2m13 0h2m-73 1h2m-1 0h2m3 0h2m9 0h2m0 0h2m10 0h2m4 0h2m18 0h2m24 0h2m-73 1h2m11 0h2m10 0h2m25 0h2m4 0h2m5 0h2m5 0h2m-79 1h2m23 0h2m26 0h2m-41 1h2m0 0h2m5 0h2m6 0h2m18 0h2m4 0h2m13 0h2m-55 1h2m11 0h2m17 0h2m-2 0h2m23 0h2m-83 2h2" stroke="#ff7f0e" stroke-width="2" stroke-opacity="0.3" fill="none"/>
<path d="M560.9 481.1V606H681.8" stroke="#595959" stroke-width="0.8" fill="none"/>
<line x1="558.7" y1="486.7" x2="560.9" y2="486.7" stroke="#595959" stroke-width="0.7"/>
<text x="555.5" y="489.6" font-size="8.1" text-anchor="end">0.12</text>
<line x1="558.7" y1="501" x2="560.9" y2="501" stroke="#595959" stroke-width="0.7"/>
<text x="555.5" y="503.9" font-size="8.1" text-anchor="end">0.10</text>
<line x1="558.7" y1="515.3" x2="560.9" y2="515.3" stroke="#595959" stroke-width="0.7"/>
<text x="555.5" y="518.2" font-size="8.1" text-anchor="end">0.08</text>
<line x1="558.7" y1="529.6" x2="560.9" y2="529.6" stroke="#595959" stroke-width="0.7"/>
<text x="555.5" y="532.5" font-size="8.1" text-anchor="end">0.06</text>
<line x1="558.7" y1="543.9" x2="560.9" y2="543.9" stroke="#595959" stroke-width="0.7"/>
<text x="555.5" y="546.8" font-size="8.1" text-anchor="end">0.04</text>
<line x1="558.7" y1="558.2" x2="560.9" y2="558.2" stroke="#595959" stroke-width="0.7"/>
<text x="555.5" y="561.1" font-size="8.1" text-anchor="end">0.02</text>
<line x1="558.7" y1="572.5" x2="560.9" y2="572.5" stroke="#595959" stroke-width="0.7"/>
<text x="555.5" y="575.4" font-size="8.1" text-anchor="end">0</text>
<line x1="558.7" y1="586.8" x2="560.9" y2="586.8" stroke="#595959" stroke-width="0.7"/>
<text x="555.5" y="589.7" font-size="8.1" text-anchor="end">−0.02</text>
<line x1="558.7" y1="601.1" x2="560.9" y2="601.1" stroke="#595959" stroke-width="0.7"/>
<text x="555.5" y="604" font-size="8.1" text-anchor="end">−0.04</text>
<line x1="576.3" y1="606" x2="576.3" y2="608.2" stroke="#595959" stroke-width="0.7"/>
<text x="576.3" y="618" font-size="7.9" text-anchor="middle">0.2</text>
<line x1="601.42" y1="606" x2="601.42" y2="608.2" stroke="#595959" stroke-width="0.7"/>
<text x="601.42" y="618" font-size="7.9" text-anchor="middle">0.4</text>
<line x1="626.55" y1="606" x2="626.55" y2="608.2" stroke="#595959" stroke-width="0.7"/>
<text x="626.55" y="618" font-size="7.9" text-anchor="middle">0.6</text>
<line x1="651.67" y1="606" x2="651.67" y2="608.2" stroke="#595959" stroke-width="0.7"/>
<text x="651.67" y="618" font-size="7.9" text-anchor="middle">0.8</text>
<line x1="676.8" y1="606" x2="676.8" y2="608.2" stroke="#595959" stroke-width="0.7"/>
<text x="676.8" y="618" font-size="7.9" text-anchor="middle">1</text>
<text x="621.35" y="475.9" font-size="8.9" text-anchor="middle">PSA</text>
<text x="621.35" y="630.8" font-size="8.8" text-anchor="middle">Gene expression</text>
<polygon points="583,558 586,551 593,545 599,543 604,547 607,555 608,560 584,560.4" fill="#1f77b4" fill-opacity="0.17" filter="url(#sb)"/>
<polygon points="608,555 612.4,558 612.4,569.6 609,569.6" fill="#1f77b4" fill-opacity="0.35" filter="url(#sb)"/>
<polygon points="613.6,574 674,574.4 668,576 660,581 652,585 644,585.6 636,584 628,583 620,584 615,580" fill="#1f77b4" fill-opacity="0.35" filter="url(#sb)"/>
<path transform="scale(.5)" d="M1194 1076h2m-4 2h2m-4 1h2m11 0h2m-10 1h2m1 0h2m5 0h2m-11 1h2m-2 0h2m0 1h2m2 0h2m-4 1h2m2 0h2m0 0h2m-7 1h2m5 0h2m-26 1h2m4 0h2m2 0h2m-1 0h2m-16 1h2m3 0h2m-2 0h2m-1 0h2m3 1h2m1 0h2m-2 1h2m-2 0h2m0 0h2m-17 1h2m11 0h2m4 0h2m0 0h2m-23 1h2m-2 0h2m2 0h2m8 0h2m-15 1h2m7 0h2m-1 0h2m-2 0h2m2 0h2m0 0h2m6 0h2m-34 1h2m2 0h2m10 0h2m12 0h2m0 0h2m-28 1h2m1 0h2m10 0h2m4 0h2m-30 1h2m0 0h2m3 0h2m23 0h2m-33 1h2m1 0h2m-1 0h2m1 0h2m-2 0h2m3 0h2m4 0h2m8 0h2m6 0h2m-36 1h2m10 0h2m7 0h2m6 0h2m1 0h2m-40 1h2m14 0h2m11 0h2m0 0h2m-2 0h2m5 0h2m-36 1h2m6 0h2m7 0h2m13 1h2m0 0h2m-48 1h2m2 0h2m12 0h2m2 0h2m10 0h2m0 0h2m11 0h2m-48 1h2m8 0h2m5 0h2m7 0h2m11 0h2m-34 1h2m7 0h2m9 0h2m1 0h2m1 0h2m7 0h2m2 0h2m-46 1h2m-3 1h2m-2 0h2m-1 0h2m34 0h2m-29 1h2m2 0h2m13 0h2m0 0h2m11 0h2m-1 0h2m-46 1h2m3 0h2m2 0h2m-2 0h2m0 0h2m7 0h2m-2 0h2m-1 0h2m15 0h2m0 0h2m-2 0h2m-48 1h2m11 0h2m-1 0h2m15 0h2m17 0h2m-42 1h2m10 0h2m5 1h2m4 0h2m-2 0h2m3 0h2m4 0h2m-48 1h2m1 0h2m2 0h2m0 0h2m0 0h2m7 0h2m5 0h2m7 0h2m0 0h2m8 0h2m2 0h2m-1 0h2m-58 1h2m1 0h2m8 0h2m4 0h2m7 0h2m23 0h2m2 0h2m2 0h2m-60 1h2m-1 0h2m14 0h2m1 0h2m6 0h2m12 0h2m11 0h2m-2 0h2m2 0h2m-2 0h2m-54 1h2m4 0h2m2 0h2m10 0h2m11 0h2m9 0h2m4 0h2m-2 0h2m-63 1h2m18 0h2m-1 0h2m10 0h2m4 0h2m9 0h2m0 0h2m2 0h2m1 0h2m-55 1h2m-1 0h2m-2 0h2m0 0h2m1 0h2m6 0h2m3 0h2m1 0h2m8 0h2m4 0h2m10 0h2m-1 0h2m2 0h2m-1 0h2m-67 1h2m7 0h2m1 0h2m2 0h2m0 0h2m6 0h2m3 0h2m-1 0h2m10 0h2m5 0h2m-1 0h2m3 0h2m4 0h2m-46 1h2m18 0h2m0 0h2m-2 0h2m16 0h2m0 0h2m1 0h2m-53 1h2m27 0h2m18 0h2m1 0h2m0 0h2m-61 1h2m17 0h2m6 0h2m3 0h2m13 0h2m4 0h2m-1 0h2m6 0h2m-57 1h2m3 0h2m11 0h2m13 0h2m2 0h2m-2 0h2m7 0h2m-2 0h2m1 0h2m-53 1h2m2 0h2m5 0h2m2 0h2m7 0h2m14 0h2m7 0h2m0 0h2m-66 1h2m-1 0h2m-2 0h2m2 0h2m3 0h2m1 0h2m0 0h2m0 0h2m4 0h2m9 0h2m-1 0h2m5 0h2m0 0h2m0 0h2m8 0h2m4 0h2m-1 0h2m-69 1h2m0 0h2m0 0h2m-2 0h2m0 0h2m6 0h2m-2 0h2m2 0h2m-2 0h2m0 0h2m3 0h2m2 0h2m-1 0h2m2 0h2m0 0h2m-1 0h2m-2 0h2m1 0h2m-2 0h2m-2 0h2m-1 0h2m10 0h2m-1 0h2m2 0h2m-2 0h2m0 0h2m-2 0h2m0 0h2m-2 0h2m4 0h2m-71 1h2m0 0h2m-2 0h2m-2 0h2m-1 0h2m-1 0h2m-2 0h2m-2 0h2m-1 0h2m-2 0h2m1 0h2m-2 0h2m-2 0h2m-2 0h2m-1 0h2m-2 0h2m-1 0h2m-1 0h2m2 0h2m-2 0h2m-1 0h2m-2 0h2m-1 0h2m-1 0h2m-2 0h2m-1 0h2m-2 0h2m-1 0h2m-2 0h2m-1 0h2m-2 0h2m-1 0h2m-1 0h2m-1 0h2m-2 0h2m-1 0h2m-2 0h2m0 0h2m-2 0h2m-2 0h2m-1 0h2m-1 0h2m-2 0h2m-1 0h2m-1 0h2m-2 0h2m-1 0h2m-2 0h2m-2 0h2m-2 0h2m-1 0h2m-1 0h2m0 0h2m-2 0h2m1 0h2m-2 0h2m-1 0h2m-2 0h2m-2 0h2m-1 0h2m4 0h2m-2 0h2m-1 0h2m-2 0h2m-2 0h2m-2 0h2m-1 0h2m-1 0h2m-2 0h2m-2 0h2m-2 0h2m-1 0h2m-1 0h2m-2 0h2m0 0h2m0 0h2m-2 0h2m-2 0h2m-1 0h2m-2 0h2m-1 0h2m-1 0h2m-1 0h2m-1 0h2m-1 0h2m-2 0h2m-1 0h2m-1 0h2m1 0h2m-1 0h2m2 0h2m-73 1h2m-2 0h2m-1 0h2m-2 0h2m-1 0h2m-2 0h2m0 0h2m-1 0h2m0 0h2m-1 0h2m-2 0h2m-1 0h2m-2 0h2m-2 0h2m-2 0h2m-1 0h2m-2 0h2m-2 0h2m-1 0h2m-2 0h2m-1 0h2m-2 0h2m-2 0h2m1 0h2m-1 0h2m-2 0h2m-1 0h2m-2 0h2m-2 0h2m-1 0h2m0 0h2m-2 0h2m0 0h2m-2 0h2m-1 0h2m-2 0h2m-2 0h2m-1 0h2m-2 0h2m-2 0h2m-2 0h2m-1 0h2m-2 0h2m-2 0h2m-1 0h2m-2 0h2m-1 0h2m-2 0h2m-1 0h2m-2 0h2m-2 0h2m-2 0h2m-1 0h2m-1 0h2m-2 0h2m-2 0h2m-1 0h2m-1 0h2m-1 0h2m-1 0h2m-2 0h2m-2 0h2m-2 0h2m-2 0h2m-1 0h2m-2 0h2m-1 0h2m-2 0h2m-2 0h2m-1 0h2m-1 0h2m-2 0h2m-2 0h2m-2 0h2m-1 0h2m0 0h2m-2 0h2m-1 0h2m-2 0h2m-2 0h2m-2 0h2m-2 0h2m-2 0h2m-2 0h2m-1 0h2m-2 0h2m-1 0h2m-2 0h2m-2 0h2m-1 0h2m-2 0h2m-2 0h2m-1 0h2m-2 0h2m-2 0h2m-2 0h2m-1 0h2m-2 0h2m-2 0h2m-2 0h2m-2 0h2m-2 0h2m-1 0h2m0 0h2m-2 0h2m-2 0h2m-1 0h2m-2 0h2m0 0h2m-1 0h2m-1 0h2m-1 0h2m-1 0h2m-1 0h2m-2 0h2m-2 0h2m0 0h2m-2 0h2m-1 0h2m-2 0h2m-1 0h2m-1 0h2m-2 0h2m0 0h2m-1 0h2m0 0h2m-1 0h2m-72 1h2m-1 0h2m-1 0h2m-2 0h2m-1 0h2m-2 0h2m-1 0h2m-2 0h2m-2 0h2m-2 0h2m-1 0h2m-2 0h2m-1 0h2m-1 0h2m1 0h2m-1 0h2m-1 0h2m-1 0h2m-2 0h2m-2 0h2m-2 0h2m-2 0h2m-1 0h2m-2 0h2m-2 0h2m-2 0h2m-1 0h2m-2 0h2m1 0h2m0 0h2m-2 0h2m1 0h2m-2 0h2m0 0h2m-1 0h2m-1 0h2m-2 0h2m-2 0h2m-1 0h2m-2 0h2m-1 0h2m-2 0h2m-2 0h2m-2 0h2m-1 0h2m0 0h2m-2 0h2m-2 0h2m-1 0h2m-1 0h2m-2 0h2m0 0h2m-2 0h2m-1 0h2m-1 0h2m-1 0h2m0 0h2m-2 0h2m-2 0h2m-1 0h2m-1 0h2m-1 0h2m-2 0h2m-2 0h2m0 0h2m-2 0h2m-2 0h2m-1 0h2m-2 0h2m-1 0h2m-1 0h2m-2 0h2m-1 0h2m-1 0h2m-2 0h2m3 0h2m-2 0h2m2 0h2m-2 0h2m-1 0h2m-2 0h2m0 0h2m0 0h2m0 0h2m2 0h2m-2 0h2m-1 0h2m-68 1h2m1 0h2m-2 0h2m-1 0h2m1 0h2m-2 0h2m1 0h2m-1 0h2m-1 0h2m-1 0h2m13 0h2m3 0h2m14 0h2m-2 0h2m1 0h2m-1 0h2m0 0h2m9 0h2m-54 1h2m4 0h2m-1 0h2m-1 0h2m-1 0h2m0 0h2m-1 0h2m-1 0h2m-1 0h2m12 0h2m15 0h2m-47 1h2m-1 0h2m25 0h2m6 0h2m-1 0h2m9 0h2m1 0h2m-54 1h2m4 0h2m-1 0h2m9 0h2m27 0h2m-1 0h2m-1 0h2m-53 1h2m0 0h2m1 0h2m3 0h2m1 0h2m-2 0h2m0 0h2m4 0h2m0 0h2m16 0h2m4 0h2m0 0h2m-2 0h2m1 0h2m-46 1h2m0 0h2m4 0h2m1 0h2m18 0h2m1 0h2m3 0h2m-44 1h2m1 0h2m0 0h2m19 0h2m4 0h2m7 0h2m-1 0h2m0 0h2m2 0h2m-1 0h2m-2 0h2m-54 1h2m3 0h2m1 0h2m4 0h2m20 0h2m11 0h2m3 0h2m-42 1h2m33 0h2m2 0h2m-47 1h2m3 0h2m5 0h2m21 0h2m99 8h2m-57 1h2m6 0h2m27 0h2m0 0h2m9 0h2m23 0h2m11 0h2m-121 1h2m-2 0h2m-1 0h2m4 0h2m-1 0h2m-1 0h2m5 0h2m6 0h2m-1 0h2m-2 0h2m-1 0h2m1 0h2m-1 0h2m-2 0h2m0 0h2m0 0h2m0 0h2m-2 0h2m1 0h2m3 0h2m1 0h2m0 0h2m12 0h2m0 0h2m4 0h2m0 0h2m0 0h2m12 0h2m4 0h2m6 0h2m-2 0h2m-1 0h2m-1 0h2m-1 0h2m1 0h2m1 0h2m6 0h2m-125 1h2m-1 0h2m-1 0h2m0 0h2m1 0h2m0 0h2m0 0h2m-2 0h2m0 0h2m0 0h2m-1 0h2m-2 0h2m-1 0h2m-2 0h2m-1 0h2m0 0h2m-1 0h2m0 0h2m-2 0h2m-1 0h2m0 0h2m-2 0h2m0 0h2m-2 0h2m-1 0h2m-2 0h2m-2 0h2m-2 0h2m1 0h2m-1 0h2m-2 0h2m-2 0h2m0 0h2m-2 0h2m1 0h2m1 0h2m-2 0h2m0 0h2m0 0h2m-2 0h2m0 0h2m-2 0h2m-2 0h2m-1 0h2m-2 0h2m-1 0h2m1 0h2m0 0h2m2 0h2m-2 0h2m0 0h2m-2 0h2m0 0h2m-1 0h2m-2 0h2m0 0h2m-2 0h2m-1 0h2m0 0h2m-2 0h2m3 0h2m1 0h2m-2 0h2m1 0h2m3 0h2m-2 0h2m0 0h2m-2 0h2m-1 0h2m-2 0h2m-2 0h2m0 0h2m-2 0h2m-2 0h2m1 0h2m-1 0h2m-1 0h2m1 0h2m-2 0h2m2 0h2m-1 0h2m-2 0h2m0 0h2m-2 0h2m-1 0h2m-2 0h2m-1 0h2m-1 0h2m-1 0h2m9 0h2m0 0h2m-2 0h2m-2 0h2m1 0h2m-2 0h2m-2 0h2m-2 0h2m-1 0h2m-2 0h2m-1 0h2m-129 1h2m-1 0h2m-1 0h2m-2 0h2m-1 0h2m-1 0h2m-2 0h2m-2 0h2m-1 0h2m0 0h2m-2 0h2m-1 0h2m-1 0h2m-2 0h2m-1 0h2m-2 0h2m-2 0h2m-1 0h2m-2 0h2m-1 0h2m-2 0h2m-2 0h2m-2 0h2m-1 0h2m-1 0h2m-2 0h2m-2 0h2m0 0h2m-2 0h2m0 0h2m-2 0h2m0 0h2m0 0h2m-2 0h2m-1 0h2m-2 0h2m-1 0h2m-1 0h2m-1 0h2m-2 0h2m-1 0h2m-1 0h2m1 0h2m-1 0h2m0 0h2m4 0h2m-2 0h2m0 0h2m-2 0h2m-2 0h2m-2 0h2m-1 0h2m-1 0h2m-2 0h2m-1 0h2m-1 0h2m-2 0h2m0 0h2m-1 0h2m-1 0h2m-2 0h2m1 0h2m3 0h2m-2 0h2m-2 0h2m-2 0h2m-2 0h2m0 0h2m-1 0h2m-2 0h2m-2 0h2m-1 0h2m-2 0h2m0 0h2m-2 0h2m-2 0h2m-1 0h2m-2 0h2m-1 0h2m-1 0h2m-2 0h2m-2 0h2m-1 0h2m-1 0h2m-1 0h2m-1 0h2m0 0h2m-2 0h2m-2 0h2m-1 0h2m-2 0h2m-1 0h2m-1 0h2m-2 0h2m-2 0h2m-1 0h2m-1 0h2m-1 0h2m-2 0h2m-2 0h2m-1 0h2m-1 0h2m-2 0h2m-1 0h2m-2 0h2m-2 0h2m0 0h2m-2 0h2m-1 0h2m-2 0h2m0 0h2m-1 0h2m0 0h2m-1 0h2m-1 0h2m-2 0h2m-1 0h2m-2 0h2m-2 0h2m-1 0h2m0 0h2m-2 0h2m-1 0h2m-2 0h2m-2 0h2m-2 0h2m-1 0h2m0 0h2m0 0h2m-1 0h2m-2 0h2m-1 0h2m-2 0h2m-1 0h2m-1 0h2m-2 0h2m-2 0h2m-1 0h2m-1 0h2m-2 0h2m-2 0h2m-2 0h2m-1 0h2m-2 0h2m-2 0h2m-1 0h2m-2 0h2m-2 0h2m0 0h2m-2 0h2m-1 0h2m-2 0h2m0 0h2m-1 0h2m-2 0h2m-2 0h2m-2 0h2m-1 0h2m-2 0h2m-1 0h2m-2 0h2m-2 0h2m-1 0h2m-1 0h2m-2 0h2m-1 0h2m-2 0h2m-1 0h2m-2 0h2m-1 0h2m-1 0h2m-2 0h2m-2 0h2m-1 0h2m-1 0h2m-2 0h2m-125 1h2m-1 0h2m0 0h2m-2 0h2m-1 0h2m-1 0h2m-2 0h2m-2 0h2m-1 0h2m-2 0h2m0 0h2m-2 0h2m-2 0h2m-1 0h2m-2 0h2m-2 0h2m0 0h2m-1 0h2m-1 0h2m-2 0h2m-1 0h2m1 0h2m0 0h2m0 0h2m0 0h2m-1 0h2m-1 0h2m2 0h2m-2 0h2m-1 0h2m-2 0h2m-1 0h2m-1 0h2m-1 0h2m-1 0h2m-2 0h2m-1 0h2m0 0h2m-2 0h2m-2 0h2m-1 0h2m-1 0h2m2 0h2m-2 0h2m0 0h2m-1 0h2m-1 0h2m-2 0h2m-2 0h2m-2 0h2m-1 0h2m-2 0h2m-2 0h2m-1 0h2m-1 0h2m-1 0h2m-1 0h2m-2 0h2m-2 0h2m-1 0h2m-1 0h2m-1 0h2m0 0h2m0 0h2m-1 0h2m-1 0h2m-2 0h2m-2 0h2m2 0h2m0 0h2m-2 0h2m-1 0h2m-1 0h2m-2 0h2m-1 0h2m-1 0h2m-2 0h2m-1 0h2m0 0h2m-1 0h2m-2 0h2m0 0h2m-2 0h2m-1 0h2m-1 0h2m-2 0h2m-1 0h2m-2 0h2m-1 0h2m-2 0h2m-2 0h2m-1 0h2m-1 0h2m-2 0h2m-2 0h2m0 0h2m-2 0h2m-1 0h2m0 0h2m-2 0h2m-2 0h2m-1 0h2m-2 0h2m-2 0h2m-1 0h2m0 0h2m-2 0h2m2 0h2m-1 0h2m-1 0h2m-2 0h2m-1 0h2m-1 0h2m-1 0h2m0 0h2m-1 0h2m0 0h2m-1 0h2m-1 0h2m-2 0h2m-1 0h2m0 0h2m-2 0h2m-1 0h2m-2 0h2m-1 0h2m-2 0h2m-1 0h2m0 0h2m-1 0h2m-2 0h2m0 0h2m0 0h2m-1 0h2m-126 1h2m0 0h2m2 0h2m5 0h2m-2 0h2m-1 0h2m1 0h2m-1 0h2m-1 0h2m0 0h2m-1 0h2m1 0h2m-1 0h2m2 0h2m-2 0h2m-1 0h2m-1 0h2m1 0h2m0 0h2m1 0h2m1 0h2m-2 0h2m2 0h2m-2 0h2m2 0h2m0 0h2m0 0h2m0 0h2m-2 0h2m-1 0h2m6 0h2m8 0h2m-2 0h2m4 0h2m1 0h2m0 0h2m0 0h2m-1 0h2m-1 0h2m-1 0h2m3 0h2m0 0h2m-1 0h2m-2 0h2m3 0h2m1 0h2m3 0h2m0 0h2m-1 0h2m1 0h2m4 0h2m-121 1h2m7 0h2m5 0h2m-2 0h2m-1 0h2m-2 0h2m2 0h2m6 0h2m2 0h2m3 0h2m-1 0h2m11 0h2m12 0h2m4 0h2m5 0h2m-1 0h2m-1 0h2m1 0h2m2 0h2m-2 0h2m0 0h2m0 0h2m0 0h2m-2 0h2m-98 1h2m7 0h2m8 0h2m13 0h2m5 0h2m2 0h2m6 0h2m15 0h2m23 0h2m0 0h2m4 0h2m-1 0h2m-2 0h2m-110 1h2m5 0h2m-2 0h2m4 0h2m1 0h2m-2 0h2m0 0h2m-2 0h2m3 0h2m-2 0h2m-1 0h2m9 0h2m0 0h2m2 0h2m3 0h2m9 0h2m1 0h2m-1 0h2m1 0h2m-1 0h2m3 0h2m0 0h2m4 0h2m6 0h2m4 0h2m8 0h2m-103 1h2m6 0h2m0 0h2m-2 0h2m23 0h2m-1 0h2m2 0h2m0 0h2m2 0h2m-1 0h2m2 0h2m0 0h2m2 0h2m-2 0h2m10 0h2m-1 0h2m0 0h2m4 0h2m1 0h2m3 0h2m-1 0h2m-2 0h2m-91 1h2m4 0h2m10 0h2m4 0h2m0 0h2m5 0h2m-2 0h2m2 0h2m1 0h2m10 0h2m1 0h2m3 0h2m1 0h2m-1 0h2m2 0h2m1 0h2m6 0h2m8 0h2m13 0h2m-106 1h2m7 0h2m-1 0h2m10 0h2m6 0h2m9 0h2m-1 0h2m-1 0h2m0 0h2m-1 0h2m2 0h2m-2 0h2m12 0h2m-1 0h2m0 0h2m2 0h2m-1 0h2m13 0h2m5 0h2m-1 0h2m1 0h2m-1 0h2m0 0h2m1 0h2m-106 1h2m9 0h2m11 0h2m13 0h2m2 0h2m1 0h2m4 0h2m8 0h2m7 0h2m2 0h2m-1 0h2m0 0h2m-1 0h2m0 0h2m-2 0h2m0 0h2m3 0h2m-81 1h2m-2 0h2m0 0h2m5 0h2m1 0h2m2 0h2m12 0h2m-2 0h2m3 0h2m4 0h2m-2 0h2m5 0h2m-1 0h2m1 0h2m0 0h2m0 0h2m2 0h2m2 0h2m-1 0h2m1 0h2m0 0h2m-1 0h2m0 0h2m-2 0h2m1 0h2m1 0h2m3 0h2m-87 1h2m3 0h2m7 0h2m-2 0h2m3 0h2m1 0h2m3 0h2m-2 0h2m3 0h2m17 0h2m4 0h2m-1 0h2m-1 0h2m0 0h2m3 0h2m1 0h2m5 0h2m3 0h2m-2 0h2m-1 0h2m3 0h2m-2 0h2m1 0h2m-101 1h2m13 0h2m5 0h2m11 0h2m-2 0h2m0 0h2m7 0h2m1 0h2m3 0h2m0 0h2m2 0h2m-2 0h2m1 0h2m12 0h2m9 0h2m-2 0h2m-71 1h2m-1 0h2m0 0h2m-2 0h2m5 0h2m4 0h2m-1 0h2m3 0h2m9 0h2m1 0h2m0 0h2m2 0h2m3 0h2m-1 0h2m0 0h2m-2 0h2m21 0h2m6 0h2m-93 1h2m-1 0h2m1 0h2m0 0h2m-1 0h2m-1 0h2m0 0h2m4 0h2m6 0h2m10 0h2m19 0h2m-1 0h2m7 0h2m2 0h2m4 0h2m5 0h2m-2 0h2m3 0h2m-88 1h2m1 0h2m-1 0h2m0 0h2m2 0h2m7 0h2m0 0h2m8 0h2m5 0h2m4 0h2m-1 0h2m1 0h2m-2 0h2m9 0h2m2 0h2m1 0h2m2 0h2m0 0h2m1 0h2m3 0h2m-83 1h2m2 0h2m0 0h2m-1 0h2m0 0h2m-2 0h2m-1 0h2m1 0h2m1 0h2m3 0h2m0 0h2m1 0h2m0 0h2m-2 0h2m0 0h2m1 0h2m10 0h2m2 0h2m0 0h2m1 0h2m17 0h2m-79 1h2m-1 0h2m-2 0h2m-1 0h2m3 0h2m5 0h2m-1 0h2m1 0h2m-1 0h2m2 0h2m3 0h2m17 0h2m-2 0h2m-2 0h2m2 0h2m4 0h2m3 0h2m8 0h2m-2 0h2m1 0h2m0 0h2m5 0h2m-78 1h2m-2 0h2m-1 0h2m-2 0h2m14 0h2m0 0h2m0 0h2m22 0h2m-1 0h2m1 0h2m0 0h2m2 0h2m1 0h2m-2 0h2m0 0h2m0 0h2m0 0h2m3 0h2m8 0h2m-87 1h2m2 0h2m7 0h2m-1 0h2m7 0h2m-1 0h2m0 0h2m-1 0h2m-2 0h2m-1 0h2m19 0h2m3 0h2m-1 0h2m6 0h2m3 0h2m-1 0h2m-1 0h2m-2 0h2m5 0h2m2 0h2m1 0h2m-1 0h2m-89 1h2m-2 0h2m-2 0h2m4 0h2m1 0h2m1 0h2m-1 0h2m-2 0h2m1 0h2m6 0h2m7 0h2m15 0h2m1 0h2m6 0h2m-1 0h2m1 0h2m2 0h2m0 0h2m5 0h2m-75 1h2m1 0h2m-2 0h2m-1 0h2m0 0h2m7 0h2m13 0h2m-1 0h2m3 0h2m1 0h2m-1 0h2m0 0h2m-1 0h2m0 0h2m3 0h2m3 0h2m2 0h2m8 0h2m-1 0h2m4 0h2m-76 1h2m6 0h2m-2 0h2m-1 0h2m2 0h2m1 0h2m13 0h2m6 0h2m1 0h2m0 0h2m4 0h2m16 0h2m-70 1h2m-1 0h2m13 0h2m17 0h2m21 0h2m2 0h2m4 0h2m-69 1h2m3 0h2m-1 0h2m4 0h2m16 0h2m4 0h2m4 0h2m1 0h2m7 0h2m7 0h2m-68 1h2m0 0h2m2 0h2m1 0h2m0 0h2m54 0h2m-64 1h2m6 0h2m26 0h2m8 0h2m-52 1h2m2 1h2m43 0h2m17 0h2m-66 1h2m12 0h2m31 0h2m7 0h2m-63 1h2m8 0h2m5 0h2m-17 1h2m7 0h2m-9 1h2m-4 1h2m5 1h2m-2 0h2m0 2h2m5 0h2m-9 1h2m1 2h2" stroke="#1f77b4" stroke-width="2" stroke-opacity="0.3" fill="none"/>
<path transform="scale(.5)" d="M1203 979h2m3 1h2m0 0h2m-8 1h2m2 3h2m-7 2h2m6 0h2m-3 7h2m-2 3h2m-2 0h2m5 2h2m-20 2h2m2 1h2m3 1h2m-11 1h2m6 0h2m4 0h2m-6 1h2m-7 1h2m2 0h2m-1 0h2m-1 0h2m0 0h2m-14 1h2m10 0h2m-14 1h2m-3 1h2m7 0h2m1 0h2m0 0h2m-15 1h2m-3 1h2m-2 0h2m0 0h2m2 0h2m3 0h2m-20 3h2m12 0h2m-13 1h2m2 1h2m12 0h2m-19 1h2m1 0h2m-1 0h2m-6 1h2m3 1h2m2 0h2m0 0h2m-20 1h2m1 0h2m1 0h2m1 0h2m2 0h2m-2 0h2m6 0h2m-17 1h2m3 0h2m-1 0h2m2 0h2m-1 0h2m0 0h2m-15 1h2m5 0h2m9 0h2m0 0h2m-28 1h2m2 0h2m2 0h2m0 0h2m-1 0h2m-1 0h2m-2 0h2m10 0h2m-21 1h2m3 0h2m0 0h2m-14 1h2m9 0h2m3 0h2m-1 0h2m-2 0h2m-1 0h2m0 0h2m1 0h2m1 0h2m-28 1h2m1 0h2m-1 0h2m4 0h2m12 0h2m1 0h2m-31 1h2m12 0h2m10 0h2m-26 1h2m8 0h2m8 0h2m-27 1h2m11 0h2m3 0h2m0 0h2m-24 1h2m4 0h2m2 0h2m1 0h2m0 0h2m3 0h2m-1 0h2m4 0h2m5 0h2m-39 1h2m5 0h2m0 0h2m14 0h2m-1 0h2m-2 0h2m2 0h2m3 0h2m-25 1h2m1 0h2m0 0h2m-2 0h2m2 0h2m-2 0h2m-1 0h2m-1 0h2m2 0h2m0 0h2m-1 0h2m-2 0h2m2 0h2m-32 1h2m0 0h2m7 0h2m5 0h2m2 0h2m-2 0h2m2 0h2m6 0h2m-29 1h2m1 0h2m0 0h2m5 0h2m1 0h2m1 0h2m1 0h2m-1 0h2m-1 0h2m-24 1h2m1 0h2m4 0h2m1 0h2m0 0h2m0 0h2m-31 1h2m2 0h2m3 0h2m8 0h2m7 0h2m11 0h2m-43 1h2m3 0h2m10 0h2m-2 0h2m3 0h2m-15 1h2m-1 0h2m-1 0h2m2 0h2m-20 1h2m14 0h2m4 0h2m0 0h2m9 0h2m0 0h2m-36 1h2m17 0h2m6 0h2m0 0h2m5 0h2m-2 0h2m-37 1h2m14 0h2m1 0h2m1 0h2m-2 0h2m-1 0h2m-1 0h2m3 0h2m7 0h2m-1 0h2m-33 1h2m4 0h2m3 0h2m7 0h2m2 0h2m0 0h2m-2 0h2m-29 1h2m-1 0h2m-1 0h2m-1 0h2m-1 0h2m7 0h2m4 0h2m5 0h2m3 0h2m-44 1h2m13 0h2m0 0h2m4 0h2m6 0h2m3 0h2m0 0h2m0 0h2m0 0h2m-1 0h2m-32 1h2m6 0h2m-2 0h2m2 0h2m-1 0h2m-2 0h2m2 0h2m-1 0h2m0 0h2m2 0h2m-1 0h2m-41 1h2m13 0h2m-1 0h2m-2 0h2m-1 0h2m2 0h2m-1 0h2m4 0h2m7 0h2m-44 1h2m11 0h2m12 0h2m-1 0h2m1 0h2m0 0h2m0 0h2m0 0h2m3 0h2m-37 1h2m8 0h2m-1 0h2m0 0h2m9 0h2m11 0h2m-1 0h2m-1 0h2m-1 0h2m-46 1h2m11 0h2m16 0h2m-2 0h2m-1 0h2m1 0h2m-1 0h2m-18 1h2m-1 0h2m7 0h2m4 0h2m-1 0h2m1 0h2m-22 1h2m5 0h2m5 0h2m3 0h2m5 0h2m-43 1h2m2 0h2m13 0h2m4 0h2m0 0h2m0 0h2m-2 0h2m-1 0h2m-2 0h2m-1 0h2m-1 0h2m-30 1h2m6 0h2m0 0h2m-1 0h2m7 0h2m1 0h2m2 0h2m6 0h2m-30 1h2m0 0h2m1 0h2m5 0h2m0 0h2m1 0h2m4 0h2m2 0h2m-2 0h2m-1 0h2m-43 1h2m1 0h2m9 0h2m6 0h2m10 0h2m-2 0h2m4 0h2m-40 1h2m1 0h2m-2 0h2m15 0h2m2 0h2m1 0h2m-15 1h2m4 0h2m1 0h2m-1 0h2m-1 0h2m7 0h2m1 0h2m-2 0h2m2 0h2m-53 1h2m16 0h2m1 0h2m-2 0h2m-1 0h2m3 0h2m6 0h2m-2 0h2m0 0h2m7 0h2m3 0h2m-52 1h2m8 0h2m-1 0h2m5 0h2m5 0h2m-1 0h2m-1 0h2m1 0h2m7 0h2m-1 0h2m1 0h2m-43 1h2m11 0h2m5 0h2m7 0h2m0 0h2m-2 0h2m-1 0h2m4 0h2m-40 1h2m10 0h2m4 0h2m3 0h2m2 0h2m8 0h2m0 0h2m-2 0h2m0 0h2m4 0h2m-70 1h2m11 0h2m5 0h2m9 0h2m5 0h2m-1 0h2m-1 0h2m3 0h2m4 0h2m-1 0h2m3 0h2m2 0h2m1 0h2m-2 0h2m-67 1h2m31 0h2m5 0h2m5 0h2m-2 0h2m2 0h2m4 0h2m3 0h2m-63 1h2m4 0h2m1 0h2m4 0h2m14 0h2m10 0h2m1 0h2m1 0h2m-1 0h2m0 0h2m-1 0h2m0 0h2m0 0h2m-46 1h2m0 0h2m-1 0h2m-1 0h2m1 0h2m10 0h2m4 0h2m2 0h2m2 0h2m1 0h2m-57 1h2m2 0h2m-2 0h2m0 0h2m2 0h2m5 0h2m2 0h2m0 0h2m9 0h2m3 0h2m4 0h2m4 0h2m0 0h2m9 0h2m0 0h2m-2 0h2m4 0h2m3 0h2m-81 1h2m4 0h2m10 0h2m3 0h2m3 0h2m14 0h2m-1 0h2m2 0h2m1 0h2m0 0h2m0 0h2m14 0h2m5 0h2m2 0h2m-89 1h2m5 0h2m-1 0h2m-1 0h2m0 0h2m10 0h2m1 0h2m-2 0h2m-2 0h2m-1 0h2m-1 0h2m2 0h2m-2 0h2m17 0h2m3 0h2m6 0h2m7 0h2m9 0h2m-77 1h2m3 0h2m15 0h2m15 0h2m2 0h2m-2 0h2m0 0h2m5 0h2m6 0h2m4 0h2m7 0h2m-83 1h2m0 0h2m1 0h2m4 0h2m-2 0h2m3 0h2m10 0h2m22 0h2m8 0h2m-66 1h2m16 0h2m0 0h2m-1 0h2m-1 0h2m4 0h2m0 0h2m0 0h2m7 0h2m23 0h2m1 0h2m9 0h2m-86 1h2m5 0h2m14 0h2m1 0h2m0 0h2m2 0h2m-2 0h2m-2 0h2m16 0h2m4 0h2m0 0h2m-1 0h2m-1 0h2m-2 0h2m4 0h2m13 0h2m-1 0h2m-78 1h2m-1 0h2m0 0h2m0 0h2m5 0h2m5 0h2m6 0h2m2 0h2m-1 0h2m3 0h2m-1 0h2m9 0h2m16 0h2m0 0h2m-2 0h2m1 0h2m-72 1h2m4 0h2m7 0h2m7 0h2m8 0h2m1 0h2m5 0h2m2 0h2m2 0h2m2 0h2m1 0h2m1 0h2m-1 0h2m12 0h2m2 0h2m-91 1h2m1 0h2m-2 0h2m11 0h2m1 0h2m10 0h2m1 0h2m-1 0h2m3 0h2m0 0h2m2 0h2m9 0h2m1 0h2m1 0h2m7 0h2m5 0h2m2 0h2m4 0h2m-92 1h2m11 0h2m6 0h2m1 0h2m-2 0h2m-2 0h2m-1 0h2m-1 0h2m5 0h2m-1 0h2m3 0h2m8 0h2m22 0h2m4 0h2m0 0h2m8 0h2m-1 0h2m-85 1h2m3 0h2m-1 0h2m15 0h2m4 0h2m-1 0h2m19 0h2m2 0h2m-1 0h2m25 0h2m-88 1h2m4 0h2m-1 0h2m6 0h2m1 0h2m5 0h2m-1 0h2m-2 0h2m4 0h2m0 0h2m0 0h2m2 0h2m0 0h2m7 0h2m14 0h2m6 0h2m0 0h2m-2 0h2m-79 1h2m0 0h2m2 0h2m6 0h2m1 0h2m0 0h2m14 0h2m0 0h2m5 0h2m2 0h2m5 0h2m-1 0h2m9 0h2m-1 0h2m13 0h2m-84 1h2m-2 0h2m3 0h2m1 0h2m2 0h2m1 0h2m-2 0h2m10 0h2m1 0h2m1 0h2m-2 0h2m1 0h2m4 0h2m8 0h2m5 0h2m6 0h2m6 0h2m-74 1h2m1 0h2m-2 0h2m4 0h2m9 0h2m5 0h2m-1 0h2m7 0h2m14 0h2m-64 1h2m6 0h2m12 0h2m0 0h2m-1 0h2m-2 0h2m-1 0h2m2 0h2m25 0h2m12 0h2m-73 1h2m2 0h2m7 0h2m25 0h2m32 0h2m7 0h2m-73 1h2m19 0h2m1 0h2m1 0h2m24 0h2m23 0h2m-88 1h2m0 0h2m-1 0h2m0 0h2m17 0h2m-1 0h2m1 0h2m1 0h2m-1 0h2m4 0h2m33 0h2m-80 1h2m7 0h2m2 0h2m0 0h2m5 0h2m1 0h2m1 0h2m8 0h2m39 0h2m-70 1h2m2 0h2m-1 0h2m1 0h2m0 0h2m-1 0h2m2 0h2m3 0h2m-2 0h2m6 0h2m37 0h2m5 0h2m-87 1h2m1 0h2m2 0h2m-2 0h2m13 0h2m-2 0h2m8 0h2m0 0h2m2 0h2m-2 0h2m35 0h2m2 0h2m-78 1h2m13 0h2m0 0h2m-1 0h2m7 0h2m46 0h2m3 0h2m0 0h2m-76 1h2m2 0h2m6 0h2m-1 0h2m7 0h2m-10 1h2m59 0h2m-76 1h2m7 0h2m10 0h2m-29 1h2m6 0h2" stroke="#ff7f0e" stroke-width="2" stroke-opacity="0.3" fill="none"/>
<path d="M81.4 667.4V798.4H200" stroke="#595959" stroke-width="0.8" fill="none"/>
<line x1="79.2" y1="672.3" x2="81.4" y2="672.3" stroke="#595959" stroke-width="0.7"/>
<text x="76" y="675.2" font-size="8.1" text-anchor="end">0.4</text>
<line x1="79.2" y1="689.25" x2="81.4" y2="689.25" stroke="#595959" stroke-width="0.7"/>
<text x="76" y="692.15" font-size="8.1" text-anchor="end">0.3</text>
<line x1="79.2" y1="706.2" x2="81.4" y2="706.2" stroke="#595959" stroke-width="0.7"/>
<text x="76" y="709.1" font-size="8.1" text-anchor="end">0.2</text>
<line x1="79.2" y1="723.15" x2="81.4" y2="723.15" stroke="#595959" stroke-width="0.7"/>
<text x="76" y="726.05" font-size="8.1" text-anchor="end">0.1</text>
<line x1="79.2" y1="740.1" x2="81.4" y2="740.1" stroke="#595959" stroke-width="0.7"/>
<text x="76" y="743" font-size="8.1" text-anchor="end">0</text>
<line x1="79.2" y1="757.05" x2="81.4" y2="757.05" stroke="#595959" stroke-width="0.7"/>
<text x="76" y="759.95" font-size="8.1" text-anchor="end">−0.1</text>
<line x1="79.2" y1="774" x2="81.4" y2="774" stroke="#595959" stroke-width="0.7"/>
<text x="76" y="776.9" font-size="8.1" text-anchor="end">−0.2</text>
<line x1="79.2" y1="790.95" x2="81.4" y2="790.95" stroke="#595959" stroke-width="0.7"/>
<text x="76" y="793.85" font-size="8.1" text-anchor="end">−0.3</text>
<line x1="96.3" y1="798.4" x2="96.3" y2="800.6" stroke="#595959" stroke-width="0.7"/>
<text x="96.3" y="810.4" font-size="7.9" text-anchor="middle">0.2</text>
<line x1="120.97" y1="798.4" x2="120.97" y2="800.6" stroke="#595959" stroke-width="0.7"/>
<text x="120.97" y="810.4" font-size="7.9" text-anchor="middle">0.4</text>
<line x1="145.65" y1="798.4" x2="145.65" y2="800.6" stroke="#595959" stroke-width="0.7"/>
<text x="145.65" y="810.4" font-size="7.9" text-anchor="middle">0.6</text>
<line x1="170.32" y1="798.4" x2="170.32" y2="800.6" stroke="#595959" stroke-width="0.7"/>
<text x="170.32" y="810.4" font-size="7.9" text-anchor="middle">0.8</text>
<line x1="195" y1="798.4" x2="195" y2="800.6" stroke="#595959" stroke-width="0.7"/>
<text x="195" y="810.4" font-size="7.9" text-anchor="middle">1</text>
<text x="140.7" y="666" font-size="8.9" text-anchor="middle">Asthma</text>
<text x="140.7" y="823.2" font-size="8.8" text-anchor="middle">Gene expression</text>
<polygon points="138,745 182,745 178,747.4 170,748.2 150,748.2 139,748.2" fill="#1f77b4" fill-opacity="0.35" filter="url(#sb)"/>
<path transform="scale(.5)" d="M236 1407h2m-1 2h2m1 1h2m-13 1h2m15 0h2m0 0h2m2 1h2m-33 1h2m1 2h2m5 0h2m2 0h2m-15 2h2m12 0h2m2 1h2m7 0h2m-27 1h2m2 0h2m16 0h2m-21 1h2m2 0h2m18 0h2m-9 1h2m8 0h2m-32 1h2m4 1h2m11 1h2m-11 1h2m-2 1h2m16 0h2m3 0h2m-1 0h2m-4 1h2m-36 1h2m35 0h2m-2 0h2m-46 1h2m4 0h2m-1 0h2m1 0h2m6 0h2m10 0h2m-22 1h2m5 0h2m-18 1h2m15 0h2m1 0h2m26 0h2m-12 1h2m-35 1h2m33 0h2m-16 2h2m-21 1h2m12 0h2m14 0h2m-40 1h2m6 1h2m24 0h2m-6 1h2m-8 1h2m6 0h2m1 0h2m-33 1h2m8 2h2m20 0h2m-25 1h2m0 0h2m2 0h2m14 0h2m1 0h2m-31 1h2m0 0h2m5 0h2m20 0h2m-35 1h2m7 0h2m11 0h2m6 0h2m-18 1h2m-1 0h2m6 1h2m0 0h2m-32 1h2m2 0h2m6 0h2m3 0h2m23 0h2m0 0h2m-36 1h2m32 0h2m0 0h2m-46 2h2m11 0h2m-1 0h2m0 0h2m23 0h2m-32 1h2m-1 0h2m-4 1h2m3 0h2m18 0h2m-1 0h2m-33 1h2m5 1h2m-6 1h2m-4 1h2m17 0h2m9 1h2m-35 1h2m15 0h2m1 1h2m0 0h2m-22 2h2m-37 2h2m6 0h2m51 0h2m5 0h2m0 0h2m-78 1h2m-5 1h2m0 0h2m-2 0h2m4 0h2m0 0h2m4 0h2m-1 0h2m1 0h2m-2 0h2m0 0h2m-1 0h2m2 0h2m0 0h2m2 0h2m8 0h2m-2 0h2m2 0h2m-1 0h2m-1 0h2m-1 0h2m9 0h2m-1 0h2m-1 0h2m0 0h2m-66 1h2m-1 0h2m0 0h2m-1 0h2m2 0h2m-1 0h2m-2 0h2m-2 0h2m1 0h2m-2 0h2m-1 0h2m-2 0h2m-2 0h2m0 0h2m-1 0h2m-2 0h2m0 0h2m-1 0h2m-2 0h2m1 0h2m-2 0h2m0 0h2m1 0h2m-2 0h2m-2 0h2m1 0h2m-1 0h2m-2 0h2m-1 0h2m1 0h2m-1 0h2m-2 0h2m-1 0h2m-2 0h2m-1 0h2m-2 0h2m-1 0h2m3 0h2m-1 0h2m0 0h2m-1 0h2m-2 0h2m2 0h2m2 0h2m1 0h2m2 0h2m0 0h2m-1 0h2m0 0h2m0 0h2m-1 0h2m-2 0h2m1 0h2m-76 1h2m-1 0h2m-2 0h2m1 0h2m-1 0h2m0 0h2m-1 0h2m-1 0h2m-2 0h2m-1 0h2m-1 0h2m-2 0h2m-1 0h2m-2 0h2m-2 0h2m-1 0h2m-2 0h2m0 0h2m2 0h2m-2 0h2m-2 0h2m0 0h2m-1 0h2m-1 0h2m-2 0h2m-2 0h2m0 0h2m-1 0h2m-1 0h2m-2 0h2m1 0h2m1 0h2m-2 0h2m4 0h2m-2 0h2m-2 0h2m2 0h2m-2 0h2m-1 0h2m-1 0h2m-2 0h2m0 0h2m-2 0h2m-1 0h2m0 0h2m1 0h2m-1 0h2m1 0h2m-1 0h2m-1 0h2m-2 0h2m0 0h2m-2 0h2m0 0h2m-1 0h2m-2 0h2m0 0h2m-1 0h2m-1 0h2m-1 0h2m-1 0h2m-2 0h2m-1 0h2m-2 0h2m-1 0h2m0 0h2m-2 0h2m-77 1h2m-1 0h2m-1 0h2m-2 0h2m-1 0h2m1 0h2m-1 0h2m-2 0h2m0 0h2m-1 0h2m-2 0h2m-1 0h2m-2 0h2m-2 0h2m2 0h2m-1 0h2m1 0h2m-2 0h2m-1 0h2m-2 0h2m-1 0h2m-1 0h2m-1 0h2m-1 0h2m-2 0h2m-1 0h2m-2 0h2m-2 0h2m-1 0h2m-1 0h2m-2 0h2m-1 0h2m-2 0h2m-2 0h2m-2 0h2m0 0h2m-2 0h2m0 0h2m1 0h2m-2 0h2m-1 0h2m-2 0h2m-2 0h2m-2 0h2m0 0h2m-1 0h2m-1 0h2m-2 0h2m0 0h2m-2 0h2m-2 0h2m-1 0h2m0 0h2m-2 0h2m-1 0h2m-2 0h2m-1 0h2m0 0h2m-1 0h2m-2 0h2m-1 0h2m-2 0h2m-1 0h2m-1 0h2m1 0h2m-2 0h2m-2 0h2m0 0h2m0 0h2m-1 0h2m0 0h2m-2 0h2m0 0h2m-2 0h2m-2 0h2m-1 0h2m-1 0h2m-1 0h2m-1 0h2m-2 0h2m-1 0h2m-1 0h2m-2 0h2m-1 0h2m-1 0h2m-1 0h2m-2 0h2m-2 0h2m-2 0h2m1 0h2m-78 1h2m-2 0h2m0 0h2m-2 0h2m0 0h2m0 0h2m-1 0h2m-2 0h2m0 0h2m-1 0h2m-1 0h2m-1 0h2m-2 0h2m0 0h2m3 0h2m-1 0h2m-2 0h2m3 0h2m-2 0h2m1 0h2m-2 0h2m0 0h2m-2 0h2m0 0h2m0 0h2m-2 0h2m-1 0h2m-1 0h2m-1 0h2m-2 0h2m-1 0h2m1 0h2m-1 0h2m-1 0h2m-2 0h2m-1 0h2m0 0h2m-2 0h2m-1 0h2m-2 0h2m-1 0h2m-2 0h2m0 0h2m-2 0h2m-2 0h2m-1 0h2m-1 0h2m-1 0h2m-2 0h2m-2 0h2m-1 0h2m-1 0h2m-2 0h2m-1 0h2m-2 0h2m-1 0h2m-1 0h2m-1 0h2m-2 0h2m-1 0h2m0 0h2m-1 0h2m-2 0h2m-1 0h2m0 0h2m-2 0h2m-2 0h2m-1 0h2m-1 0h2m-2 0h2m-2 0h2m-1 0h2m-1 0h2m-2 0h2m-1 0h2m-1 0h2m-2 0h2m-2 0h2m-2 0h2m-1 0h2m-2 0h2m-2 0h2m-1 0h2m-2 0h2m-2 0h2m-2 0h2m-2 0h2m1 0h2m-2 0h2m-80 1h2m2 0h2m-1 0h2m0 0h2m-2 0h2m-2 0h2m-1 0h2m-1 0h2m20 0h2m3 0h2m-2 0h2m-1 0h2m-2 0h2m-1 0h2m-1 0h2m4 0h2m1 0h2m1 0h2m-2 0h2m0 0h2m-1 0h2m-1 0h2m1 0h2m0 0h2m-2 0h2m-1 0h2m1 0h2m-1 0h2m0 0h2m0 0h2m0 0h2m-2 0h2m-1 0h2m-1 0h2m-2 0h2m-2 0h2m-1 0h2m-1 0h2m-2 0h2m-2 0h2m-2 0h2m-2 0h2m-2 0h2m-2 0h2m0 0h2m0 0h2m-2 0h2m-2 0h2m-76 1h2m0 0h2m-2 0h2m11 0h2m12 0h2m22 0h2m1 0h2m0 0h2m-2 0h2m6 0h2m1 0h2m-1 0h2m-2 0h2m-1 0h2m-2 0h2m-2 0h2m-1 0h2m-2 0h2m-1 0h2m-1 0h2m-1 0h2m-2 0h2m-2 0h2m-2 0h2m-2 0h2m-1 0h2m-2 0h2m-2 0h2m-1 0h2m-16 1h2m4 0h2m1 0h2m-2 0h2m-2 0h2m-1 0h2m-1 0h2m-2 0h2m-2 0h2m-1 0h2m-2 0h2m-2 0h2m-2 0h2m-2 0h2m-1 0h2m0 0h2m-12 1h2m1 0h2m-1 0h2m-1 0h2m-1 0h2m-1 0h2m-2 0h2m-2 0h2m-2 0h2m-2 0h2m-1 0h2m-1 0h2m-7 1h2m0 0h2m-1 0h2m-1 0h2m-2 0h2m-1 0h2m-2 0h2m-2 0h2m0 0h2m-1 0h2m-2 0h2m-8 1h2m-1 0h2m-1 0h2m-2 0h2m0 0h2m-2 0h2m-2 0h2m-1 0h2m-2 0h2m-2 0h2m1 0h2m-7 1h2m-1 0h2m-2 0h2m-2 0h2m-2 0h2m-2 0h2m-2 0h2m-1 0h2m-2 0h2m-2 0h2m-2 0h2m-1 0h2m-1 0h2m0 0h2m-10 1h2m0 0h2m-1 0h2m-2 0h2m-1 0h2m-2 0h2m-1 0h2m1 0h2m-8 1h2m1 0h2m-2 0h2m-2 0h2m0 0h2m-2 0h2m-1 0h2m-2 0h2m-7 1h2m-1 0h2m-1 0h2m-1 0h2m-2 0h2m0 0h2m-1 0h2m1 0h2m-8 1h2m-1 0h2m-1 0h2m-2 0h2m-2 0h2m-1 0h2m0 0h2m-8 1h2m-1 0h2m-2 0h2m0 0h2m-2 0h2m-2 0h2m-1 0h2m-2 0h2m-2 0h2m-2 0h2m-1 0h2m-2 0h2m-2 0h2m-1 0h2m-1 0h2m-2 0h2m3 0h2m35 0h2m-54 1h2m2 0h2m-1 0h2m-1 0h2m-1 0h2m-2 0h2m-1 0h2m-2 0h2m-2 0h2m-1 0h2m-2 0h2m-1 0h2m22 0h2m-34 1h2m3 0h2m-2 0h2m1 0h2m-2 0h2m-2 0h2m-2 0h2m0 0h2m104 0h2m-115 1h2m1 0h2m-1 0h2m-2 0h2m-2 0h2m-2 0h2m-1 0h2m-2 0h2m-1 0h2m-2 0h2m-2 0h2m-1 0h2m-1 0h2m14 0h2m24 0h2m1 0h2m-1 0h2m-1 0h2m6 0h2m-1 0h2m3 0h2m33 0h2m4 0h2m-111 1h2m-1 0h2m-1 0h2m-2 0h2m0 0h2m-1 0h2m-2 0h2m-1 0h2m-1 0h2m7 0h2m3 0h2m2 0h2m6 0h2m7 0h2m-2 0h2m-1 0h2m-2 0h2m-1 0h2m-2 0h2m1 0h2m2 0h2m0 0h2m-2 0h2m0 0h2m4 0h2m4 0h2m0 0h2m14 0h2m-2 0h2m-1 0h2m-2 0h2m6 0h2m3 0h2m-1 0h2m3 0h2m3 0h2m2 0h2m1 0h2m3 0h2m-2 0h2m-1 0h2m-123 1h2m-2 0h2m0 0h2m-2 0h2m-1 0h2m-2 0h2m-1 0h2m-2 0h2m-2 0h2m2 0h2m-1 0h2m0 0h2m0 0h2m-2 0h2m-1 0h2m0 0h2m-1 0h2m3 0h2m1 0h2m-1 0h2m1 0h2m-2 0h2m1 0h2m0 0h2m4 0h2m-2 0h2m4 0h2m1 0h2m-1 0h2m3 0h2m-1 0h2m-2 0h2m3 0h2m-2 0h2m0 0h2m1 0h2m3 0h2m-1 0h2m-1 0h2m0 0h2m0 0h2m-1 0h2m-1 0h2m1 0h2m4 0h2m-1 0h2m-2 0h2m-1 0h2m1 0h2m-1 0h2m-1 0h2m-1 0h2m0 0h2m-1 0h2m-1 0h2m0 0h2m-1 0h2m-2 0h2m3 0h2m2 0h2m0 0h2m2 0h2m-2 0h2m-1 0h2m0 0h2m-2 0h2m-1 0h2m-121 1h2m2 0h2m-1 0h2m2 0h2m0 0h2m2 0h2m-2 0h2m-2 0h2m-2 0h2m-1 0h2m0 0h2m2 0h2m-2 0h2m-1 0h2m-1 0h2m-2 0h2m-1 0h2m1 0h2m-2 0h2m-1 0h2m-2 0h2m-1 0h2m-1 0h2m-2 0h2m0 0h2m0 0h2m0 0h2m-1 0h2m-2 0h2m1 0h2m0 0h2m-2 0h2m-2 0h2m-1 0h2m1 0h2m-1 0h2m-2 0h2m2 0h2m-1 0h2m0 0h2m-1 0h2m-2 0h2m-2 0h2m0 0h2m-1 0h2m0 0h2m-2 0h2m3 0h2m-1 0h2m-2 0h2m2 0h2m-1 0h2m0 0h2m1 0h2m-1 0h2m-1 0h2m2 0h2m-1 0h2m-1 0h2m-2 0h2m-1 0h2m-1 0h2m-2 0h2m-1 0h2m-1 0h2m0 0h2m-1 0h2m-2 0h2m3 0h2m0 0h2m0 0h2m-1 0h2m0 0h2m-2 0h2m-1 0h2m0 0h2m-1 0h2m0 0h2m-1 0h2m-1 0h2m-2 0h2m-2 0h2m-1 0h2m-2 0h2m-2 0h2m-1 0h2m-2 0h2m-2 0h2m1 0h2m-1 0h2m-121 1h2m-1 0h2m-2 0h2m-1 0h2m-1 0h2m-2 0h2m-1 0h2m-2 0h2m3 0h2m1 0h2m-1 0h2m0 0h2m-1 0h2m1 0h2m-1 0h2m0 0h2m-1 0h2m0 0h2m-2 0h2m-1 0h2m0 0h2m-2 0h2m-1 0h2m-2 0h2m0 0h2m-1 0h2m0 0h2m-2 0h2m1 0h2m0 0h2m-1 0h2m-1 0h2m-1 0h2m-1 0h2m-1 0h2m-2 0h2m0 0h2m1 0h2m-1 0h2m4 0h2m-2 0h2m-2 0h2m0 0h2m-1 0h2m1 0h2m-2 0h2m-2 0h2m-1 0h2m-2 0h2m-1 0h2m-1 0h2m-2 0h2m0 0h2m0 0h2m1 0h2m-2 0h2m0 0h2m-2 0h2m-1 0h2m-1 0h2m-2 0h2m-1 0h2m-1 0h2m-2 0h2m-2 0h2m-1 0h2m-1 0h2m2 0h2m-2 0h2m0 0h2m-1 0h2m0 0h2m-2 0h2m-1 0h2m-2 0h2m-2 0h2m-1 0h2m-1 0h2m-1 0h2m-2 0h2m-1 0h2m7 0h2m-1 0h2m-2 0h2m-1 0h2m-2 0h2m-1 0h2m1 0h2m0 0h2m-2 0h2m5 0h2m-119 1h2m-2 0h2m-1 0h2m-1 0h2m0 0h2m5 0h2m-1 0h2m-2 0h2m-1 0h2m-2 0h2m1 0h2m-2 0h2m-1 0h2m-2 0h2m-1 0h2m1 0h2m-2 0h2m0 0h2m1 0h2m-1 0h2m-1 0h2m0 0h2m-1 0h2m-2 0h2m-1 0h2m-2 0h2m-2 0h2m-2 0h2m-1 0h2m-1 0h2m-2 0h2m0 0h2m0 0h2m-1 0h2m2 0h2m-1 0h2m1 0h2m-2 0h2m-1 0h2m3 0h2m-2 0h2m0 0h2m2 0h2m0 0h2m-2 0h2m0 0h2m0 0h2m-2 0h2m0 0h2m2 0h2m-1 0h2m-2 0h2m-1 0h2m-1 0h2m-1 0h2m2 0h2m1 0h2m-1 0h2m-1 0h2m-1 0h2m0 0h2m-2 0h2m-1 0h2m-1 0h2m-1 0h2m-2 0h2m-2 0h2m-1 0h2m-1 0h2m8 0h2m4 0h2m-1 0h2m0 0h2m2 0h2m1 0h2m-118 1h2m-2 0h2m1 0h2m-1 0h2m-1 0h2m-1 0h2m-1 0h2m-2 0h2m-2 0h2m-2 0h2m2 0h2m-1 0h2m0 0h2m11 0h2m3 0h2m-1 0h2m-2 0h2m-1 0h2m4 0h2m1 0h2m5 0h2m-1 0h2m2 0h2m-1 0h2m5 0h2m1 0h2m0 0h2m3 0h2m0 0h2m0 0h2m7 0h2m-1 0h2m-2 0h2m-1 0h2m-2 0h2m6 0h2m0 0h2m2 0h2m-1 0h2m4 0h2m3 0h2m0 0h2m-118 1h2m-1 0h2m-1 0h2m4 0h2m-1 0h2m-2 0h2m-1 0h2m0 0h2m3 0h2m0 0h2m1 0h2m3 0h2m-1 0h2m-1 0h2m-2 0h2m3 0h2m-1 0h2m-1 0h2m9 0h2m1 0h2m-2 0h2m4 0h2m-2 0h2m11 0h2m8 0h2m-1 0h2m-2 0h2m11 0h2m-96 1h2m2 0h2m-1 0h2m3 0h2m-1 0h2m2 0h2m7 0h2m13 0h2m7 0h2m4 0h2m-1 0h2m52 0h2m-111 1h2m4 0h2m3 0h2m9 0h2m2 0h2m0 0h2m0 0h2m1 0h2m1 0h2m0 0h2m-1 0h2m1 0h2m1 0h2m15 0h2m12 0h2m0 0h2m2 0h2m-84 1h2m3 0h2m1 0h2m11 0h2m3 0h2m-1 0h2m2 0h2m4 0h2m-1 0h2m1 0h2m-2 0h2m2 0h2m-1 0h2m-1 0h2m8 0h2m9 0h2m-1 0h2m-67 1h2m0 0h2m14 0h2m-1 0h2m-2 0h2m0 0h2m2 0h2m-2 0h2m0 0h2m-1 0h2m0 0h2m-2 0h2m0 0h2m-2 0h2m6 0h2m0 0h2m-1 0h2m-1 0h2m3 0h2m-2 0h2m-2 0h2m0 0h2m-1 0h2m3 0h2m20 0h2m-83 1h2m4 0h2m-2 0h2m0 0h2m2 0h2m0 0h2m11 0h2m4 0h2m0 0h2m0 0h2m-2 0h2m5 0h2m-1 0h2m1 0h2m9 0h2m3 0h2m5 0h2m14 0h2m-90 1h2m1 0h2m1 0h2m1 0h2m-2 0h2m2 0h2m8 0h2m-1 0h2m1 0h2m-2 0h2m-1 0h2m-1 0h2m0 0h2m2 0h2m-2 0h2m3 0h2m-1 0h2m1 0h2m1 0h2m-1 0h2m-1 0h2m1 0h2m1 0h2m0 0h2m0 0h2m4 0h2m1 0h2m6 0h2m-2 0h2m8 0h2m-88 1h2m10 0h2m2 0h2m-2 0h2m2 0h2m-1 0h2m8 0h2m0 0h2m-1 0h2m-2 0h2m0 0h2m10 0h2m4 0h2m-2 0h2m5 0h2m-1 0h2m3 0h2m-2 0h2m6 0h2m1 0h2m-82 1h2m1 0h2m-1 0h2m5 0h2m-2 0h2m10 0h2m6 0h2m1 0h2m-1 0h2m-2 0h2m0 0h2m4 0h2m-2 0h2m-1 0h2m1 0h2m-1 0h2m-2 0h2m1 0h2m3 0h2m1 0h2m5 0h2m-2 0h2m0 0h2m-2 0h2m4 0h2m1 0h2m0 0h2m-79 1h2m-2 0h2m-1 0h2m2 0h2m6 0h2m1 0h2m1 0h2m-2 0h2m4 0h2m0 0h2m0 0h2m1 0h2m3 0h2m0 0h2m1 0h2m-2 0h2m-1 0h2m1 0h2m-1 0h2m-1 0h2m0 0h2m-1 0h2m19 0h2m10 0h2m0 0h2m-86 1h2m1 0h2m0 0h2m-1 0h2m8 0h2m-2 0h2m-2 0h2m-1 0h2m-2 0h2m4 0h2m-2 0h2m-1 0h2m-2 0h2m0 0h2m4 0h2m9 0h2m1 0h2m0 0h2m0 0h2m1 0h2m2 0h2m-2 0h2m-1 0h2m0 0h2m-1 0h2m4 0h2m10 0h2m-69 1h2m-1 0h2m-1 0h2m1 0h2m9 0h2m-1 0h2m-1 0h2m0 0h2m-1 0h2m7 0h2m-1 0h2m3 0h2m-2 0h2m4 0h2m-1 0h2m-1 0h2m-2 0h2m-1 0h2m0 0h2m3 0h2m0 0h2m-1 0h2m-1 0h2m2 0h2m-2 0h2m5 0h2m1 0h2m-78 1h2m6 0h2m-1 0h2m1 0h2m5 0h2m1 0h2m7 0h2m0 0h2m0 0h2m0 0h2m-2 0h2m0 0h2m1 0h2m0 0h2m0 0h2m-1 0h2m10 0h2m3 0h2m1 0h2m0 0h2m4 0h2m-86 1h2m-1 0h2m-1 0h2m0 0h2m-1 0h2m-1 0h2m2 0h2m0 0h2m8 0h2m-1 0h2m3 0h2m1 0h2m-2 0h2m0 0h2m-1 0h2m2 0h2m0 0h2m1 0h2m0 0h2m-2 0h2m-2 0h2m0 0h2m-2 0h2m-1 0h2m-1 0h2m-2 0h2m-2 0h2m0 0h2m-1 0h2m-2 0h2m-1 0h2m0 0h2m0 0h2m-2 0h2m0 0h2m6 0h2m3 0h2m3 0h2m0 0h2m4 0h2m-86 1h2m-1 0h2m1 0h2m1 0h2m-2 0h2m-1 0h2m0 0h2m3 0h2m2 0h2m2 0h2m-2 0h2m3 0h2m0 0h2m0 0h2m0 0h2m1 0h2m0 0h2m6 0h2m-2 0h2m-1 0h2m6 0h2m0 0h2m3 0h2m5 0h2m0 0h2m1 0h2m-1 0h2m-1 0h2m-81 1h2m0 0h2m-1 0h2m6 0h2m8 0h2m-1 0h2m-1 0h2m3 0h2m1 0h2m-2 0h2m-2 0h2m3 0h2m2 0h2m-1 0h2m-1 0h2m-2 0h2m-2 0h2m-1 0h2m2 0h2m1 0h2m-2 0h2m3 0h2m-2 0h2m0 0h2m0 0h2m-2 0h2m-2 0h2m0 0h2m-2 0h2m2 0h2m7 0h2m2 0h2m2 0h2m-82 1h2m0 0h2m-1 0h2m2 0h2m-2 0h2m0 0h2m1 0h2m-1 0h2m0 0h2m-2 0h2m4 0h2m3 0h2m-1 0h2m0 0h2m-2 0h2m4 0h2m5 0h2m0 0h2m0 0h2m-2 0h2m-1 0h2m-2 0h2m-2 0h2m-1 0h2m-1 0h2m1 0h2m-1 0h2m-1 0h2m1 0h2m2 0h2m-2 0h2m3 0h2m4 0h2m-2 0h2m6 0h2m-80 1h2m0 0h2m2 0h2m-2 0h2m4 0h2m0 0h2m-1 0h2m2 0h2m-1 0h2m2 0h2m4 0h2m-1 0h2m6 0h2m-1 0h2m0 0h2m-2 0h2m-1 0h2m1 0h2m0 0h2m-1 0h2m-2 0h2m-1 0h2m-2 0h2m0 0h2m-2 0h2m-1 0h2m1 0h2m6 0h2m-1 0h2m1 0h2m8 0h2m-57 1h2m-2 0h2m0 0h2m-1 0h2m-1 0h2m6 0h2m-2 0h2m-1 0h2m-2 0h2m1 0h2m-1 0h2m-1 0h2m-2 0h2m-1 0h2m0 0h2m-1 0h2m-1 0h2m-1 0h2m-2 0h2m-2 0h2m1 0h2m0 0h2m-1 0h2m12 0h2m6 0h2m1 0h2m-84 1h2m-1 0h2m3 0h2m-1 0h2m7 0h2m7 0h2m2 0h2m2 0h2m0 0h2m1 0h2m-1 0h2m1 0h2m0 0h2m-1 0h2m0 0h2m0 0h2m-1 0h2m0 0h2m-1 0h2m-2 0h2m-2 0h2m-1 0h2m-2 0h2m1 0h2m1 0h2m-1 0h2m-2 0h2m-1 0h2m-2 0h2m-1 0h2m1 0h2m0 0h2m-1 0h2m0 0h2m3 0h2m0 0h2m-2 0h2m-1 0h2m-1 0h2m-2 0h2m-68 1h2m-2 0h2m2 0h2m3 0h2m-1 0h2m9 0h2m-1 0h2m-2 0h2m4 0h2m-1 0h2m1 0h2m-1 0h2m1 0h2m-1 0h2m-1 0h2m-2 0h2m-1 0h2m0 0h2m3 0h2m-1 0h2m2 0h2m-1 0h2m-1 0h2m0 0h2m-1 0h2m2 0h2m-1 0h2m-71 1h2m2 0h2m7 0h2m2 0h2m-2 0h2m-2 0h2m2 0h2m2 0h2m0 0h2m2 0h2m-1 0h2m-1 0h2m0 0h2m-2 0h2m-2 0h2m0 0h2m0 0h2m-1 0h2m-1 0h2m0 0h2m-1 0h2m-1 0h2m4 0h2m-2 0h2m-1 0h2m-2 0h2m-2 0h2m-2 0h2m5 0h2m7 0h2m-2 0h2m2 0h2m-2 0h2m1 0h2m-77 1h2m-2 0h2m0 0h2m0 0h2m1 0h2m0 0h2m4 0h2m0 0h2m4 0h2m2 0h2m8 0h2m-1 0h2m0 0h2m-1 0h2m-1 0h2m0 0h2m-1 0h2m-1 0h2m-1 0h2m0 0h2m-2 0h2m2 0h2m0 0h2m0 0h2m2 0h2m4 0h2m1 0h2m-74 1h2m0 0h2m3 0h2m2 0h2m-1 0h2m-1 0h2m0 0h2m11 0h2m5 0h2m5 0h2m0 0h2m0 0h2m1 0h2m5 0h2m-1 0h2m-2 0h2m-1 0h2m0 0h2m1 0h2m3 0h2m-1 0h2m-1 0h2m16 0h2m-88 1h2m3 0h2m1 0h2m0 0h2m3 0h2m2 0h2m1 0h2m1 0h2m-2 0h2m4 0h2m1 0h2m-1 0h2m-1 0h2m0 0h2m-2 0h2m-1 0h2m-1 0h2m-1 0h2m0 0h2m-2 0h2m2 0h2m-2 0h2m6 0h2m0 0h2m6 0h2m0 0h2m-2 0h2m-69 1h2m2 0h2m3 0h2m4 0h2m5 0h2m-2 0h2m-2 0h2m0 0h2m2 0h2m3 0h2m-2 0h2m1 0h2m2 0h2m-2 0h2m2 0h2m1 0h2m-1 0h2m0 0h2m-1 0h2m-1 0h2m2 0h2m0 0h2m2 0h2m5 0h2m-2 0h2m-1 0h2m0 0h2m-71 1h2m5 0h2m3 0h2m-2 0h2m-1 0h2m7 0h2m-2 0h2m2 0h2m4 0h2m-2 0h2m-1 0h2m3 0h2m-1 0h2m0 0h2m-2 0h2m7 0h2m-1 0h2m0 0h2m4 0h2m1 0h2m-2 0h2m-1 0h2m-1 0h2m2 0h2m5 0h2m-83 1h2m3 0h2m0 0h2m4 0h2m7 0h2m3 0h2m-2 0h2m0 0h2m0 0h2m-1 0h2m-2 0h2m3 0h2m-1 0h2m2 0h2m-1 0h2m7 0h2m4 0h2m0 0h2m1 0h2m-1 0h2m0 0h2m2 0h2m-2 0h2m1 0h2m-74 1h2m0 0h2m-1 0h2m7 0h2m-1 0h2m0 0h2m3 0h2m2 0h2m1 0h2m-1 0h2m-2 0h2m6 0h2m-2 0h2m-2 0h2m-1 0h2m2 0h2m-2 0h2m5 0h2m0 0h2m-1 0h2m-2 0h2m0 0h2m1 0h2m-1 0h2m-2 0h2m0 0h2m13 0h2m2 0h2m-75 1h2m4 0h2m9 0h2m0 0h2m0 0h2m1 0h2m7 0h2m-1 0h2m-2 0h2m0 0h2m1 0h2m0 0h2m0 0h2m0 0h2m-1 0h2m7 0h2m1 0h2m-1 0h2m0 0h2m0 0h2m0 0h2m-2 0h2m-1 0h2m-1 0h2m-65 1h2m5 0h2m-1 0h2m3 0h2m4 0h2m0 0h2m-1 0h2m-1 0h2m-1 0h2m0 0h2m0 0h2m-1 0h2m-1 0h2m-1 0h2m-1 0h2m4 0h2m0 0h2m-1 0h2m-1 0h2m-2 0h2m2 0h2m0 0h2m-59 1h2m2 0h2m-2 0h2m3 0h2m0 0h2m3 0h2m1 0h2m6 0h2m5 0h2m-2 0h2m3 0h2m0 0h2m-2 0h2m1 0h2m1 0h2m4 0h2m-1 0h2m1 0h2m-2 0h2m-1 0h2m-1 0h2m-1 0h2m-63 1h2m1 0h2m7 0h2m-2 0h2m6 0h2m2 0h2m0 0h2m1 0h2m0 0h2m1 0h2m2 0h2m-2 0h2m1 0h2m-2 0h2m2 0h2m-1 0h2m-1 0h2m0 0h2m0 0h2m-1 0h2m5 0h2m-2 0h2m0 0h2m7 0h2m0 0h2m-73 1h2m8 0h2m7 0h2m8 0h2m-1 0h2m0 0h2m1 0h2m-1 0h2m6 0h2m0 0h2m7 0h2m1 0h2m2 0h2m-66 1h2m6 0h2m3 0h2m3 0h2m5 0h2m5 0h2m3 0h2m1 0h2m-2 0h2m4 0h2m6 0h2m-1 0h2m-1 0h2m0 0h2m0 0h2m4 0h2m2 0h2m-72 1h2m0 0h2m8 0h2m-1 0h2m1 0h2m-1 0h2m1 0h2m1 0h2m-2 0h2m10 0h2m6 0h2m14 0h2m-2 0h2m-1 0h2m-1 0h2m4 0h2m-2 0h2m2 0h2m-54 1h2m-1 0h2m-1 0h2m8 0h2m0 0h2m-1 0h2m12 0h2m4 0h2m4 0h2m-1 0h2m-62 1h2m11 0h2m1 0h2m1 0h2m3 0h2m4 0h2m3 0h2m0 0h2m2 0h2m0 0h2m-1 0h2m-2 0h2m17 0h2m3 0h2m-73 1h2m5 0h2m2 0h2m13 0h2m2 0h2m6 0h2m-2 0h2m2 0h2m4 0h2m5 0h2m0 0h2m-1 0h2m5 0h2m5 0h2m-68 1h2m4 0h2m-1 0h2m9 0h2m-1 0h2m-1 0h2m10 0h2m4 0h2m1 0h2m0 0h2m-2 0h2m4 0h2m-53 1h2m-1 0h2m5 0h2m6 0h2m3 0h2m-1 0h2m-2 0h2m10 0h2m-1 0h2m-2 0h2m-23 1h2m8 0h2m22 0h2m-1 0h2m13 0h2m-51 1h2m1 0h2m8 0h2m0 0h2m-1 0h2m-1 0h2m-1 0h2m-2 0h2m0 0h2m-2 0h2m0 0h2m18 0h2m-55 1h2m5 0h2m2 0h2m1 0h2m5 0h2m-2 0h2m-1 0h2m2 0h2m17 0h2m3 0h2m-53 1h2m20 0h2m-1 0h2m-1 0h2m-1 0h2m3 0h2m9 0h2m2 0h2m2 0h2m2 0h2m-57 1h2m12 0h2m10 0h2m9 0h2m-2 0h2m1 0h2m6 0h2m2 0h2m11 0h2m-1 0h2m-55 1h2m2 0h2m9 0h2m1 0h2m1 0h2m-18 2h2m21 0h2m-37 1h2m-2 1h2m5 0h2m32 0h2m6 0h2m9 0h2m-50 1h2m46 0h2m-65 2h2m6 0h2m33 0h2m-23 1h2m38 0h2m2 0h2m-63 1h2m50 0h2m-35 1h2m34 0h2m4 0h2m-18 1h2m-17 1h2m1 0h2m-1 0h2m-7 1h2m-36 2h2m13 0h2m2 0h2m12 0h2m7 0h2m-36 2h2m-2 0h2m13 0h2m23 0h2m5 1h2m1 0h2m-26 4h2m30 0h2m-31 1h2m-29 1h2m11 2h2m17 1h2m18 2h2m4 4h2m-5 2h2m4 4h2" stroke="#1f77b4" stroke-width="2" stroke-opacity="0.3" fill="none"/>
<path transform="scale(.5)" d="M245 1354h2m4 4h2m-2 0h2m-10 2h2m0 0h2m-2 0h2m3 1h2m-12 1h2m-1 1h2m2 0h2m1 0h2m-8 1h2m11 0h2m-4 1h2m-11 6h2m8 1h2m-12 1h2m8 0h2m-13 2h2m-7 2h2m15 0h2m-16 2h2m-2 0h2m-8 1h2m4 0h2m3 0h2m2 1h2m-10 1h2m12 0h2m-20 2h2m-5 1h2m1 0h2m0 1h2m9 0h2m-13 1h2m3 0h2m2 0h2m-16 1h2m5 0h2m6 0h2m-10 1h2m8 0h2m-9 1h2m11 0h2m-28 1h2m24 0h2m-28 1h2m4 0h2m-1 0h2m7 0h2m0 0h2m-2 0h2m-13 1h2m5 0h2m-2 0h2m3 0h2m-20 1h2m6 0h2m3 0h2m-12 1h2m11 0h2m-16 1h2m5 0h2m0 0h2m3 0h2m3 0h2m-1 0h2m4 0h2m-13 1h2m1 0h2m1 0h2m-13 1h2m3 0h2m-2 0h2m1 0h2m1 0h2m-11 1h2m-2 0h2m0 0h2m-2 0h2m0 0h2m-2 0h2m-1 0h2m3 0h2m-1 0h2m-32 1h2m2 0h2m4 0h2m4 0h2m0 0h2m3 0h2m1 0h2m-1 0h2m3 0h2m-2 0h2m-66 1h2m40 0h2m3 0h2m-2 0h2m2 0h2m-1 0h2m-2 0h2m0 0h2m3 0h2m-18 1h2m3 0h2m-1 0h2m-2 0h2m1 0h2m6 0h2m-30 1h2m9 0h2m0 0h2m0 0h2m0 0h2m-2 0h2m7 0h2m5 0h2m-21 1h2m-1 0h2m1 0h2m-2 0h2m-1 0h2m-2 0h2m1 0h2m-32 1h2m10 0h2m1 0h2m5 0h2m2 0h2m-2 0h2m2 0h2m0 0h2m0 0h2m6 0h2m-28 1h2m6 0h2m-2 0h2m-2 0h2m-1 0h2m0 0h2m4 0h2m-2 0h2m2 0h2m-29 1h2m3 0h2m3 0h2m2 0h2m6 0h2m-1 0h2m-52 1h2m11 0h2m24 0h2m4 0h2m2 0h2m-1 0h2m1 0h2m-12 1h2m-2 0h2m2 0h2m1 0h2m-1 0h2m2 0h2m2 0h2m-28 1h2m2 0h2m6 0h2m3 0h2m-22 1h2m4 0h2m1 0h2m4 0h2m3 0h2m2 0h2m-25 1h2m0 0h2m6 0h2m0 0h2m-12 1h2m2 0h2m5 0h2m1 0h2m1 0h2m-2 0h2m-1 0h2m-27 1h2m1 0h2m9 0h2m7 0h2m0 0h2m-27 1h2m7 0h2m13 0h2m0 0h2m-12 1h2m8 0h2m-14 1h2m6 0h2m1 0h2m0 0h2m4 0h2m-67 1h2m33 0h2m11 0h2m3 0h2m-3 1h2m7 0h2m-11 1h2m2 0h2m0 0h2m-2 0h2m-1 0h2m-59 1h2m-8 1h2m55 0h2m5 0h2m-11 1h2m6 0h2m1 0h2m-57 1h2m45 0h2m2 0h2m0 0h2m-5 1h2m1 0h2m1 0h2m2 0h2m-4 1h2m-8 1h2m0 0h2m0 0h2m-4 1h2m-2 0h2m-46 1h2m43 0h2m-62 2h2m56 0h2m1 0h2m-2 1h2m-2 0h2m-1 0h2m-5 1h2m-1 0h2m-50 1h2m46 0h2m-1 0h2m-71 1h2m68 0h2m-72 1h2m9 1h2m58 0h2m-2 1h2m-1 0h2m-4 1h2m0 0h2m-1 0h2m-4 2h2m-2 1h2m-5 1h2m4 1h2m-2 1h2m-2 1h2m-2 1h2m0 2h2m-9 2h2m4 1h2m-7 1h2m4 0h2m-2 2h2" stroke="#ff7f0e" stroke-width="2" stroke-opacity="0.3" fill="none"/>
<path d="M230.5 664.9V798.4H349.6" stroke="#595959" stroke-width="0.8" fill="none"/>
<line x1="228.3" y1="665.4" x2="230.5" y2="665.4" stroke="#595959" stroke-width="0.7"/>
<text x="225.1" y="668.3" font-size="8.1" text-anchor="end">0.4</text>
<line x1="228.3" y1="681.73" x2="230.5" y2="681.73" stroke="#595959" stroke-width="0.7"/>
<text x="225.1" y="684.62" font-size="8.1" text-anchor="end">0.3</text>
<line x1="228.3" y1="698.05" x2="230.5" y2="698.05" stroke="#595959" stroke-width="0.7"/>
<text x="225.1" y="700.95" font-size="8.1" text-anchor="end">0.2</text>
<line x1="228.3" y1="714.38" x2="230.5" y2="714.38" stroke="#595959" stroke-width="0.7"/>
<text x="225.1" y="717.27" font-size="8.1" text-anchor="end">0.1</text>
<line x1="228.3" y1="730.7" x2="230.5" y2="730.7" stroke="#595959" stroke-width="0.7"/>
<text x="225.1" y="733.6" font-size="8.1" text-anchor="end">0</text>
<line x1="228.3" y1="747.03" x2="230.5" y2="747.03" stroke="#595959" stroke-width="0.7"/>
<text x="225.1" y="749.93" font-size="8.1" text-anchor="end">−0.1</text>
<line x1="228.3" y1="763.35" x2="230.5" y2="763.35" stroke="#595959" stroke-width="0.7"/>
<text x="225.1" y="766.25" font-size="8.1" text-anchor="end">−0.2</text>
<line x1="228.3" y1="779.68" x2="230.5" y2="779.68" stroke="#595959" stroke-width="0.7"/>
<text x="225.1" y="782.58" font-size="8.1" text-anchor="end">−0.3</text>
<line x1="228.3" y1="796" x2="230.5" y2="796" stroke="#595959" stroke-width="0.7"/>
<text x="225.1" y="798.9" font-size="8.1" text-anchor="end">−0.4</text>
<line x1="245.9" y1="798.4" x2="245.9" y2="800.6" stroke="#595959" stroke-width="0.7"/>
<text x="245.9" y="810.4" font-size="7.9" text-anchor="middle">0.2</text>
<line x1="270.85" y1="798.4" x2="270.85" y2="800.6" stroke="#595959" stroke-width="0.7"/>
<text x="270.85" y="810.4" font-size="7.9" text-anchor="middle">0.4</text>
<line x1="295.8" y1="798.4" x2="295.8" y2="800.6" stroke="#595959" stroke-width="0.7"/>
<text x="295.8" y="810.4" font-size="7.9" text-anchor="middle">0.6</text>
<line x1="320.75" y1="798.4" x2="320.75" y2="800.6" stroke="#595959" stroke-width="0.7"/>
<text x="320.75" y="810.4" font-size="7.9" text-anchor="middle">0.8</text>
<line x1="345.7" y1="798.4" x2="345.7" y2="800.6" stroke="#595959" stroke-width="0.7"/>
<text x="345.7" y="810.4" font-size="7.9" text-anchor="middle">1</text>
<text x="288.75" y="666" font-size="8.9" text-anchor="middle">COPD</text>
<text x="289.05" y="823.2" font-size="8.8" text-anchor="middle">Gene expression</text>
<polygon points="248,731.4 296,731 296.4,734 280,735 260,735.4 248,734.2" fill="#1f77b4" fill-opacity="0.35" filter="url(#sb)"/>
<polygon points="301,723.4 332,723.4 332,727 301,727.4" fill="#1f77b4" fill-opacity="0.32" filter="url(#sb)"/>
<path transform="scale(.5)" d="M600 1392h2m-3 3h2m20 0h2m-8 1h2m-18 1h2m5 3h2m-3 1h2m14 1h2m-2 2h2m25 2h2m-4 2h2m-39 3h2m24 0h2m-12 2h2m7 1h2m0 0h2m-23 1h2m13 0h2m-19 2h2m7 0h2m-17 2h2m21 0h2m0 0h2m5 0h2m2 0h2m-38 1h2m0 0h2m3 0h2m-13 1h2m0 0h2m-5 1h2m9 1h2m1 0h2m10 0h2m13 0h2m-18 1h2m10 0h2m-33 1h2m30 0h2m-29 1h2m24 0h2m1 0h2m5 0h2m5 0h2m1 0h2m-7 1h2m-38 1h2m0 0h2m2 0h2m2 0h2m5 0h2m-32 1h2m6 0h2m27 0h2m-21 1h2m16 0h2m-40 1h2m10 0h2m11 0h2m-30 1h2m5 0h2m6 0h2m2 0h2m-1 0h2m23 0h2m-8 1h2m-17 1h2m13 0h2m22 0h2m-38 1h2m4 0h2m3 0h2m-1 0h2m-2 0h2m-25 1h2m11 0h2m0 0h2m0 0h2m-1 0h2m6 0h2m1 0h2m8 0h2m-40 1h2m3 0h2m-2 0h2m0 0h2m7 0h2m-2 0h2m0 0h2m0 0h2m-1 0h2m-1 0h2m7 0h2m-1 0h2m-47 1h2m8 0h2m10 0h2m1 0h2m-1 0h2m-1 0h2m0 0h2m-2 0h2m3 0h2m0 0h2m-1 0h2m0 0h2m12 0h2m0 0h2m0 0h2m-50 1h2m1 0h2m-2 0h2m12 0h2m-1 0h2m-1 0h2m-1 0h2m0 0h2m0 0h2m0 0h2m-1 0h2m2 0h2m-19 1h2m4 0h2m6 0h2m-1 0h2m2 0h2m2 0h2m-40 1h2m12 0h2m-1 0h2m4 0h2m-1 0h2m6 0h2m0 0h2m-1 0h2m3 0h2m2 0h2m-52 1h2m6 0h2m22 0h2m2 0h2m-3 1h2m6 0h2m-23 1h2m8 0h2m9 0h2m15 0h2m-60 1h2m16 0h2m17 0h2m-44 1h2m1 0h2m-1 0h2m22 0h2m13 0h2m5 0h2m-41 1h2m13 0h2m0 0h2m54 0h2m-2 0h2m-83 1h2m-2 0h2m-2 0h2m-2 0h2m-1 0h2m2 0h2m-2 0h2m-1 0h2m-2 0h2m1 0h2m-1 0h2m-1 0h2m-1 0h2m0 0h2m2 0h2m4 0h2m3 0h2m9 0h2m0 0h2m2 0h2m14 0h2m1 0h2m1 0h2m9 0h2m2 0h2m1 0h2m3 0h2m-95 1h2m-2 0h2m-2 0h2m0 0h2m-2 0h2m-2 0h2m-1 0h2m1 0h2m-1 0h2m-2 0h2m-1 0h2m2 0h2m0 0h2m-1 0h2m-1 0h2m-2 0h2m-2 0h2m-1 0h2m-1 0h2m-2 0h2m1 0h2m-2 0h2m-1 0h2m-2 0h2m-1 0h2m-2 0h2m-1 0h2m-1 0h2m-2 0h2m-1 0h2m-1 0h2m-2 0h2m1 0h2m-2 0h2m-1 0h2m0 0h2m-2 0h2m-1 0h2m-1 0h2m-2 0h2m-1 0h2m0 0h2m7 0h2m-1 0h2m1 0h2m-2 0h2m-1 0h2m-1 0h2m-1 0h2m-2 0h2m4 0h2m-1 0h2m1 0h2m0 0h2m0 0h2m0 0h2m-1 0h2m1 0h2m-1 0h2m-2 0h2m0 0h2m3 0h2m-2 0h2m-1 0h2m-2 0h2m1 0h2m1 0h2m3 0h2m-96 1h2m-2 0h2m-2 0h2m-1 0h2m-1 0h2m-2 0h2m-1 0h2m0 0h2m-2 0h2m0 0h2m-1 0h2m-2 0h2m-1 0h2m0 0h2m-2 0h2m-2 0h2m-1 0h2m-1 0h2m-1 0h2m0 0h2m-2 0h2m-2 0h2m-1 0h2m-2 0h2m-1 0h2m-2 0h2m0 0h2m-1 0h2m-1 0h2m-1 0h2m-2 0h2m-2 0h2m-1 0h2m-2 0h2m-1 0h2m-1 0h2m-2 0h2m-1 0h2m-2 0h2m-1 0h2m-2 0h2m-1 0h2m-1 0h2m-2 0h2m-2 0h2m-1 0h2m-2 0h2m-1 0h2m-2 0h2m0 0h2m0 0h2m0 0h2m-1 0h2m-2 0h2m-1 0h2m-2 0h2m1 0h2m-2 0h2m-1 0h2m-2 0h2m-1 0h2m-2 0h2m1 0h2m-2 0h2m-2 0h2m-1 0h2m-2 0h2m0 0h2m-2 0h2m-2 0h2m-1 0h2m-2 0h2m-2 0h2m-2 0h2m-1 0h2m-1 0h2m-2 0h2m-2 0h2m0 0h2m-1 0h2m-2 0h2m-2 0h2m0 0h2m-1 0h2m-2 0h2m1 0h2m-2 0h2m-1 0h2m-2 0h2m-2 0h2m-1 0h2m-2 0h2m0 0h2m-1 0h2m-2 0h2m-2 0h2m-1 0h2m-2 0h2m-2 0h2m-1 0h2m-1 0h2m-1 0h2m-2 0h2m-2 0h2m-2 0h2m-1 0h2m-2 0h2m-1 0h2m-2 0h2m-1 0h2m-1 0h2m-2 0h2m-1 0h2m-1 0h2m-2 0h2m0 0h2m-2 0h2m-1 0h2m-2 0h2m-2 0h2m-2 0h2m-1 0h2m-1 0h2m-1 0h2m-2 0h2m0 0h2m-2 0h2m-2 0h2m-1 0h2m-2 0h2m-1 0h2m-1 0h2m0 0h2m-2 0h2m-1 0h2m-2 0h2m-1 0h2m-1 0h2m-2 0h2m-96 1h2m-2 0h2m-1 0h2m-1 0h2m-2 0h2m-1 0h2m-2 0h2m-2 0h2m-2 0h2m-1 0h2m-2 0h2m-1 0h2m-2 0h2m-1 0h2m-2 0h2m-1 0h2m-1 0h2m-2 0h2m-1 0h2m-1 0h2m-1 0h2m-1 0h2m-1 0h2m-2 0h2m-2 0h2m1 0h2m-2 0h2m-2 0h2m-1 0h2m-2 0h2m1 0h2m-1 0h2m-2 0h2m0 0h2m-2 0h2m3 0h2m-2 0h2m-2 0h2m-1 0h2m-2 0h2m-2 0h2m-2 0h2m-1 0h2m-1 0h2m-2 0h2m0 0h2m-2 0h2m-1 0h2m-1 0h2m0 0h2m-2 0h2m-1 0h2m-2 0h2m-1 0h2m0 0h2m-2 0h2m-1 0h2m0 0h2m-1 0h2m0 0h2m1 0h2m-1 0h2m-1 0h2m-1 0h2m-1 0h2m-1 0h2m-1 0h2m-2 0h2m-1 0h2m-2 0h2m-2 0h2m-1 0h2m-2 0h2m-1 0h2m0 0h2m-2 0h2m-2 0h2m-1 0h2m-1 0h2m0 0h2m-2 0h2m-2 0h2m-2 0h2m-2 0h2m-1 0h2m-2 0h2m-1 0h2m-2 0h2m-1 0h2m-2 0h2m-2 0h2m-1 0h2m-2 0h2m-1 0h2m-2 0h2m-2 0h2m-2 0h2m-2 0h2m-2 0h2m-1 0h2m-2 0h2m-2 0h2m-2 0h2m-1 0h2m-1 0h2m-2 0h2m0 0h2m-2 0h2m-2 0h2m-1 0h2m-1 0h2m-1 0h2m-1 0h2m-2 0h2m-1 0h2m-1 0h2m-2 0h2m-2 0h2m-2 0h2m0 0h2m-2 0h2m-2 0h2m-1 0h2m-1 0h2m-2 0h2m-1 0h2m-1 0h2m-2 0h2m1 0h2m-1 0h2m-1 0h2m-2 0h2m-1 0h2m-2 0h2m-96 1h2m-1 0h2m-2 0h2m-2 0h2m3 0h2m-2 0h2m9 0h2m-2 0h2m-1 0h2m-1 0h2m1 0h2m1 0h2m2 0h2m2 0h2m-2 0h2m2 0h2m-2 0h2m-1 0h2m-1 0h2m0 0h2m-1 0h2m-2 0h2m-1 0h2m-1 0h2m1 0h2m-2 0h2m-1 0h2m-1 0h2m1 0h2m-1 0h2m-1 0h2m0 0h2m2 0h2m-1 0h2m-1 0h2m-2 0h2m-2 0h2m-2 0h2m4 0h2m-2 0h2m-1 0h2m-1 0h2m1 0h2m-2 0h2m1 0h2m0 0h2m-1 0h2m-1 0h2m2 0h2m-1 0h2m-2 0h2m-1 0h2m0 0h2m-1 0h2m-2 0h2m-2 0h2m-1 0h2m1 0h2m-1 0h2m-97 1h2m0 0h2m-2 0h2m0 0h2m0 0h2m14 0h2m18 0h2m-1 0h2m4 0h2m0 0h2m0 0h2m8 0h2m-1 0h2m2 0h2m2 0h2m-2 0h2m1 0h2m-1 0h2m5 0h2m-2 0h2m2 0h2m4 0h2m-1 0h2m-2 0h2m-96 1h2m-1 0h2m-2 0h2m-2 0h2m0 0h2m26 0h2m-34 1h2m-1 0h2m-1 0h2m-2 0h2m-5 1h2m-1 0h2m-2 0h2m-2 0h2m-2 0h2m-4 1h2m-2 0h2m-1 0h2m-1 0h2m-2 0h2m-1 0h2m-2 0h2m-6 1h2m-1 0h2m-1 0h2m-2 0h2m-1 0h2m-85 1h2m51 0h2m26 0h2m-1 0h2m-96 1h2m12 0h2m15 0h2m4 0h2m8 0h2m43 0h2m-1 0h2m-2 0h2m-2 0h2m-2 0h2m-2 0h2m-2 0h2m-2 0h2m-1 0h2m-1 0h2m-94 1h2m12 0h2m35 0h2m9 0h2m14 0h2m1 0h2m-2 0h2m5 0h2m-1 0h2m-2 0h2m-1 0h2m-115 1h2m26 0h2m1 0h2m11 0h2m1 0h2m2 0h2m-1 0h2m7 0h2m3 0h2m-2 0h2m6 0h2m11 0h2m-1 0h2m7 0h2m-1 0h2m3 0h2m2 0h2m0 0h2m-1 0h2m-2 0h2m-1 0h2m-2 0h2m-1 0h2m-2 0h2m-106 1h2m1 0h2m-1 0h2m-2 0h2m3 0h2m0 0h2m-2 0h2m2 0h2m-1 0h2m-2 0h2m1 0h2m-2 0h2m-1 0h2m-1 0h2m-2 0h2m0 0h2m-1 0h2m3 0h2m-1 0h2m-1 0h2m-2 0h2m-2 0h2m0 0h2m-2 0h2m-1 0h2m-2 0h2m-1 0h2m-1 0h2m-1 0h2m-2 0h2m1 0h2m0 0h2m-1 0h2m-2 0h2m0 0h2m2 0h2m-1 0h2m-2 0h2m-2 0h2m1 0h2m-2 0h2m-1 0h2m-1 0h2m0 0h2m-2 0h2m0 0h2m-2 0h2m-1 0h2m-1 0h2m0 0h2m-2 0h2m0 0h2m0 0h2m-1 0h2m0 0h2m-1 0h2m0 0h2m-2 0h2m-1 0h2m0 0h2m-2 0h2m-2 0h2m-1 0h2m-1 0h2m-2 0h2m-2 0h2m-1 0h2m-2 0h2m-1 0h2m-1 0h2m-1 0h2m-1 0h2m-1 0h2m3 0h2m-1 0h2m-1 0h2m0 0h2m-2 0h2m0 0h2m-2 0h2m-2 0h2m1 0h2m-1 0h2m-2 0h2m0 0h2m-2 0h2m-1 0h2m-2 0h2m-2 0h2m-2 0h2m-2 0h2m-2 0h2m-1 0h2m-2 0h2m-2 0h2m-2 0h2m-113 1h2m-1 0h2m0 0h2m4 0h2m2 0h2m-2 0h2m-1 0h2m-2 0h2m-1 0h2m-2 0h2m-1 0h2m0 0h2m0 0h2m-1 0h2m-2 0h2m0 0h2m-2 0h2m-1 0h2m0 0h2m-2 0h2m-1 0h2m-1 0h2m-2 0h2m-2 0h2m2 0h2m1 0h2m-1 0h2m-1 0h2m-2 0h2m-2 0h2m0 0h2m-1 0h2m-2 0h2m0 0h2m-1 0h2m-1 0h2m0 0h2m-2 0h2m-2 0h2m-1 0h2m1 0h2m-1 0h2m-2 0h2m-2 0h2m-1 0h2m-1 0h2m-1 0h2m-2 0h2m2 0h2m-1 0h2m0 0h2m-2 0h2m-2 0h2m-1 0h2m-2 0h2m-2 0h2m-1 0h2m-2 0h2m-1 0h2m-2 0h2m-2 0h2m-1 0h2m-2 0h2m-1 0h2m-2 0h2m-2 0h2m-2 0h2m-1 0h2m-2 0h2m-1 0h2m-2 0h2m1 0h2m-2 0h2m-1 0h2m-1 0h2m-1 0h2m-1 0h2m-1 0h2m-1 0h2m-1 0h2m-1 0h2m-2 0h2m-2 0h2m0 0h2m3 0h2m1 0h2m-2 0h2m-2 0h2m-1 0h2m-2 0h2m-1 0h2m-2 0h2m-1 0h2m-1 0h2m-2 0h2m-1 0h2m0 0h2m-2 0h2m-1 0h2m-2 0h2m-1 0h2m-2 0h2m-1 0h2m-2 0h2m-2 0h2m-2 0h2m-2 0h2m0 0h2m-2 0h2m-2 0h2m0 0h2m-2 0h2m-2 0h2m-1 0h2m-1 0h2m-2 0h2m-1 0h2m-2 0h2m-1 0h2m-2 0h2m-1 0h2m-1 0h2m-2 0h2m-2 0h2m-2 0h2m-1 0h2m-2 0h2m-2 0h2m-109 1h2m-2 0h2m-2 0h2m-1 0h2m-2 0h2m-1 0h2m-2 0h2m-1 0h2m-2 0h2m-1 0h2m0 0h2m-1 0h2m-2 0h2m-1 0h2m-1 0h2m-2 0h2m-2 0h2m-1 0h2m-2 0h2m-2 0h2m-2 0h2m-2 0h2m-2 0h2m-1 0h2m-2 0h2m-2 0h2m-1 0h2m-1 0h2m-1 0h2m-1 0h2m-1 0h2m-2 0h2m-1 0h2m-1 0h2m-2 0h2m0 0h2m-2 0h2m-1 0h2m-2 0h2m0 0h2m-1 0h2m-2 0h2m-2 0h2m-2 0h2m-2 0h2m0 0h2m-2 0h2m-1 0h2m-2 0h2m-1 0h2m0 0h2m-2 0h2m0 0h2m-1 0h2m-1 0h2m-2 0h2m-2 0h2m-1 0h2m-2 0h2m-1 0h2m-1 0h2m-1 0h2m-1 0h2m-1 0h2m-1 0h2m-2 0h2m-1 0h2m-2 0h2m-1 0h2m-2 0h2m-2 0h2m-2 0h2m-2 0h2m-1 0h2m-2 0h2m-2 0h2m-2 0h2m0 0h2m-1 0h2m-1 0h2m-1 0h2m-2 0h2m-2 0h2m-2 0h2m-2 0h2m-1 0h2m-1 0h2m-2 0h2m-1 0h2m-2 0h2m-1 0h2m-1 0h2m-1 0h2m-1 0h2m-2 0h2m-1 0h2m-2 0h2m0 0h2m0 0h2m-1 0h2m-2 0h2m-2 0h2m-2 0h2m-1 0h2m-2 0h2m-2 0h2m-1 0h2m-2 0h2m-1 0h2m-1 0h2m-2 0h2m-2 0h2m-1 0h2m-2 0h2m-2 0h2m-1 0h2m-2 0h2m-1 0h2m-2 0h2m0 0h2m-1 0h2m0 0h2m-2 0h2m-1 0h2m-1 0h2m-1 0h2m-2 0h2m-2 0h2m-1 0h2m-2 0h2m0 0h2m-2 0h2m0 0h2m-2 0h2m-2 0h2m-1 0h2m-2 0h2m-2 0h2m-1 0h2m-2 0h2m-2 0h2m-2 0h2m-1 0h2m-2 0h2m-1 0h2m-2 0h2m-2 0h2m-2 0h2m-1 0h2m-1 0h2m-2 0h2m0 0h2m-2 0h2m-1 0h2m-2 0h2m0 0h2m-2 0h2m-1 0h2m-1 0h2m-2 0h2m-2 0h2m-2 0h2m-1 0h2m-1 0h2m-2 0h2m0 0h2m-2 0h2m-2 0h2m-2 0h2m-2 0h2m-1 0h2m-2 0h2m-2 0h2m-2 0h2m-1 0h2m-2 0h2m-2 0h2m-1 0h2m-1 0h2m-2 0h2m0 0h2m-2 0h2m-2 0h2m-2 0h2m-1 0h2m-2 0h2m-2 0h2m-2 0h2m-1 0h2m-2 0h2m-2 0h2m-2 0h2m-2 0h2m-111 1h2m0 0h2m1 0h2m-1 0h2m-1 0h2m-1 0h2m-1 0h2m-1 0h2m-2 0h2m-2 0h2m-1 0h2m-2 0h2m-1 0h2m-1 0h2m-2 0h2m-1 0h2m-2 0h2m0 0h2m-1 0h2m-2 0h2m-1 0h2m-2 0h2m-1 0h2m-1 0h2m-2 0h2m3 0h2m-2 0h2m-1 0h2m-2 0h2m-2 0h2m-1 0h2m-2 0h2m-1 0h2m1 0h2m-2 0h2m-2 0h2m-2 0h2m-1 0h2m-2 0h2m-1 0h2m-2 0h2m-1 0h2m-1 0h2m-2 0h2m-1 0h2m-1 0h2m-1 0h2m-2 0h2m0 0h2m-1 0h2m-1 0h2m-1 0h2m-2 0h2m-2 0h2m-2 0h2m-2 0h2m-1 0h2m-1 0h2m-1 0h2m-2 0h2m-1 0h2m0 0h2m-1 0h2m-2 0h2m2 0h2m-1 0h2m-2 0h2m-1 0h2m-1 0h2m-2 0h2m2 0h2m-1 0h2m-2 0h2m-1 0h2m-1 0h2m-2 0h2m-2 0h2m0 0h2m-2 0h2m0 0h2m-2 0h2m-2 0h2m-1 0h2m-1 0h2m-1 0h2m-1 0h2m-1 0h2m-2 0h2m-1 0h2m-1 0h2m0 0h2m-2 0h2m-1 0h2m-2 0h2m-1 0h2m-1 0h2m-2 0h2m-2 0h2m-2 0h2m-2 0h2m-2 0h2m-1 0h2m-1 0h2m-2 0h2m-2 0h2m-1 0h2m-1 0h2m-2 0h2m1 0h2m0 0h2m3 0h2m-1 0h2m-2 0h2m0 0h2m1 0h2m-1 0h2m-2 0h2m-1 0h2m-1 0h2m0 0h2m-2 0h2m-1 0h2m0 0h2m-1 0h2m-107 1h2m0 0h2m-1 0h2m-1 0h2m-1 0h2m-2 0h2m0 0h2m7 0h2m1 0h2m-1 0h2m-1 0h2m-1 0h2m-1 0h2m-2 0h2m2 0h2m-2 0h2m1 0h2m-1 0h2m-1 0h2m-1 0h2m0 0h2m-2 0h2m-1 0h2m-1 0h2m0 0h2m-1 0h2m-2 0h2m7 0h2m-2 0h2m7 0h2m-1 0h2m-2 0h2m-1 0h2m-1 0h2m-1 0h2m-1 0h2m-1 0h2m0 0h2m2 0h2m-1 0h2m1 0h2m4 0h2m1 0h2m7 0h2m0 0h2m0 0h2m3 0h2m0 0h2m-106 1h2m1 0h2m9 0h2m1 0h2m1 0h2m-1 0h2m0 0h2m1 0h2m0 0h2m1 0h2m7 0h2m0 0h2m12 0h2m6 0h2m4 0h2m-1 0h2m8 0h2m1 0h2m-1 0h2m5 0h2m3 0h2m1 0h2m-70 1h2m1 0h2m-1 0h2m1 0h2m5 0h2m7 0h2m17 0h2m7 0h2m3 0h2m-1 0h2m2 0h2m-72 1h2m12 0h2m4 0h2m11 0h2m4 0h2m-1 0h2m3 0h2m5 0h2m-1 0h2m6 0h2m11 0h2m-1 0h2m-78 1h2m-1 0h2m3 0h2m1 0h2m11 0h2m2 0h2m22 0h2m6 0h2m1 0h2m-43 1h2m11 0h2m9 0h2m5 0h2m2 0h2m0 0h2m0 0h2m6 0h2m-53 1h2m21 0h2m11 0h2m23 0h2m1 0h2m-58 1h2m11 0h2m12 0h2m6 0h2m-51 1h2m5 0h2m2 0h2m3 0h2m7 0h2m-1 0h2m7 0h2m-1 0h2m2 0h2m-1 0h2m0 0h2m-1 0h2m1 0h2m-2 0h2m-1 0h2m1 0h2m-1 0h2m3 0h2m0 0h2m0 0h2m0 0h2m1 0h2m0 0h2m-68 1h2m-1 0h2m-2 0h2m-1 0h2m3 0h2m3 0h2m0 0h2m-1 0h2m-2 0h2m1 0h2m-1 0h2m1 0h2m-2 0h2m1 0h2m0 0h2m2 0h2m2 0h2m1 0h2m-2 0h2m-1 0h2m4 0h2m-1 0h2m0 0h2m-1 0h2m1 0h2m-1 0h2m3 0h2m-1 0h2m2 0h2m-1 0h2m-68 1h2m-2 0h2m1 0h2m5 0h2m2 0h2m1 0h2m-2 0h2m-1 0h2m-2 0h2m-2 0h2m-2 0h2m6 0h2m-1 0h2m-2 0h2m-1 0h2m3 0h2m-2 0h2m-1 0h2m-1 0h2m2 0h2m-2 0h2m-2 0h2m0 0h2m7 0h2m4 0h2m-1 0h2m1 0h2m3 0h2m-2 0h2m-1 0h2m-63 1h2m1 0h2m-2 0h2m6 0h2m8 0h2m-2 0h2m3 0h2m7 0h2m7 0h2m12 0h2m-57 1h2m23 0h2m-15 1h2m19 0h2m-30 1h2m31 0h2m7 0h2m0 0h2m-18 1h2m28 0h2m-66 1h2m7 0h2m8 0h2m-8 1h2m10 0h2m1 0h2m36 0h2m-52 1h2m47 0h2m-60 1h2m3 0h2m-19 1h2m13 0h2m12 1h2m12 0h2m15 0h2m-46 1h2m6 0h2m11 0h2m12 0h2m7 0h2m-39 1h2m38 0h2m-57 1h2m42 0h2m3 0h2m-42 1h2m12 0h2m-7 1h2m1 1h2m8 0h2m-11 1h2m5 0h2m13 0h2m2 0h2m11 0h2m-75 1h2m56 0h2m-42 1h2m36 0h2m-27 1h2m13 0h2m-29 1h2m3 0h2m20 0h2m-26 1h2m-1 0h2m10 0h2m16 0h2m-32 1h2m28 0h2m-13 1h2m-12 1h2m5 0h2m27 0h2m-1 0h2m-64 1h2m36 0h2m30 0h2m-61 1h2m17 0h2m1 0h2m1 0h2m-27 1h2m3 0h2m15 0h2m4 0h2m6 0h2m-33 1h2m13 0h2m-1 0h2m20 0h2m-10 1h2m0 0h2m5 0h2m10 0h2m-55 1h2m8 0h2m3 0h2m1 0h2m-2 0h2m-1 0h2m-1 0h2m-1 0h2m9 0h2m10 0h2m-43 1h2m3 0h2m7 0h2m-2 0h2m1 0h2m8 0h2m21 0h2m-61 1h2m10 0h2m-1 0h2m-2 0h2m6 0h2m5 0h2m-1 0h2m8 0h2m1 0h2m-41 1h2m11 0h2m-2 0h2m2 0h2m6 0h2m3 0h2m1 0h2m3 0h2m5 0h2m0 0h2m-41 1h2m4 0h2m15 0h2m-28 1h2m8 0h2m0 0h2m-2 0h2m-1 0h2m1 0h2m2 0h2m4 0h2m3 0h2m-28 1h2m-1 0h2m1 0h2m3 0h2m2 0h2m5 0h2m2 0h2m4 0h2m12 0h2m-36 1h2m-2 0h2m1 0h2m23 0h2m-1 0h2m-36 1h2m2 0h2m0 0h2m3 0h2m3 0h2m0 0h2m3 0h2m7 0h2m4 0h2m-2 0h2m-50 1h2m3 0h2m0 0h2m0 0h2m-2 0h2m1 0h2m1 0h2m1 0h2m4 0h2m-2 0h2m-2 0h2m0 0h2m-1 0h2m4 0h2m11 0h2m-48 1h2m6 0h2m0 0h2m-1 0h2m3 0h2m1 0h2m5 0h2m5 0h2m3 0h2m2 0h2m-41 1h2m6 0h2m4 0h2m-2 0h2m2 0h2m3 0h2m0 0h2m3 0h2m3 0h2m1 0h2m-49 1h2m1 0h2m1 0h2m7 0h2m-1 0h2m2 0h2m-1 0h2m0 0h2m1 0h2m1 0h2m10 0h2m-1 0h2m2 0h2m-1 0h2m-44 1h2m5 0h2m2 0h2m1 0h2m-1 0h2m2 0h2m0 0h2m-1 0h2m1 0h2m2 0h2m5 0h2m0 0h2m11 0h2m-58 1h2m4 0h2m8 0h2m1 0h2m-2 0h2m8 0h2m0 0h2m-1 0h2m-2 0h2m3 0h2m5 0h2m-40 1h2m3 0h2m3 0h2m-1 0h2m0 0h2m0 0h2m0 0h2m11 0h2m4 0h2m6 0h2m2 0h2m-52 1h2m-1 0h2m-1 0h2m4 0h2m6 0h2m-1 0h2m6 0h2m-2 0h2m1 0h2m1 0h2m0 0h2m-1 0h2m0 0h2m-35 1h2m-2 0h2m4 0h2m0 0h2m1 0h2m6 0h2m-2 0h2m1 0h2m4 0h2m-1 0h2m0 0h2m-1 0h2m5 0h2m1 0h2m-40 1h2m3 0h2m8 0h2m2 0h2m2 0h2m3 0h2m4 0h2m1 0h2m0 0h2m-1 0h2m9 0h2m-54 1h2m0 0h2m17 0h2m10 0h2m2 0h2m1 0h2m8 0h2m-63 1h2m2 0h2m2 0h2m3 0h2m0 0h2m-1 0h2m1 0h2m-1 0h2m0 0h2m0 0h2m2 0h2m0 0h2m1 0h2m2 0h2m6 0h2m1 0h2m2 0h2m1 0h2m-1 0h2m-49 1h2m3 0h2m-1 0h2m-1 0h2m-2 0h2m-1 0h2m-2 0h2m3 0h2m-1 0h2m0 0h2m0 0h2m5 0h2m0 0h2m2 0h2m-1 0h2m-1 0h2m2 0h2m1 0h2m-1 0h2m0 0h2m-2 0h2m-49 1h2m16 0h2m3 0h2m-2 0h2m-1 0h2m2 0h2m-2 0h2m0 0h2m8 0h2m-40 1h2m-1 0h2m-2 0h2m1 0h2m-2 0h2m8 0h2m-2 0h2m1 0h2m-2 0h2m0 0h2m1 0h2m-2 0h2m-2 0h2m1 0h2m15 0h2m1 0h2m-1 0h2m-1 0h2m-1 0h2m-45 1h2m3 0h2m6 0h2m0 0h2m-2 0h2m2 0h2m-1 0h2m0 0h2m-2 0h2m9 0h2m-1 0h2m-1 0h2m1 0h2m4 0h2m-2 0h2m-44 1h2m3 0h2m-2 0h2m-1 0h2m-2 0h2m3 0h2m0 0h2m7 0h2m-1 0h2m7 0h2m-2 0h2m3 0h2m-1 0h2m0 0h2m-58 1h2m11 0h2m2 0h2m7 0h2m2 0h2m11 0h2m-2 0h2m0 0h2m1 0h2m-2 0h2m0 0h2m-2 0h2m2 0h2m0 0h2m-1 0h2m-51 1h2m5 0h2m-1 0h2m-2 0h2m2 0h2m13 0h2m7 0h2m-2 0h2m-1 0h2m-1 0h2m1 0h2m0 0h2m-1 0h2m-1 0h2m-1 0h2m-1 0h2m1 0h2m-49 1h2m2 0h2m4 0h2m-1 0h2m3 0h2m13 0h2m0 0h2m-1 0h2m0 0h2m7 0h2m-1 0h2m-2 0h2m-41 1h2m7 0h2m1 0h2m15 0h2m-2 0h2m-1 0h2m0 0h2m0 0h2m-1 0h2m-18 1h2m6 0h2m-2 0h2m3 0h2m0 0h2m1 0h2m0 0h2m-34 1h2m1 0h2m3 0h2m8 0h2m-2 0h2m-1 0h2m0 0h2m-2 0h2m-2 0h2m5 0h2m-45 1h2m-1 0h2m12 0h2m5 0h2m0 0h2m0 0h2m2 0h2m1 0h2m-1 0h2m-2 0h2m-2 0h2m-1 0h2m1 0h2m-2 0h2m-1 0h2m3 0h2m1 0h2m5 0h2m-50 1h2m1 0h2m7 0h2m-2 0h2m2 0h2m1 0h2m7 0h2m-1 0h2m-1 0h2m0 0h2m0 0h2m-2 0h2m-2 0h2m-2 0h2m-2 0h2m0 0h2m-2 0h2m6 0h2m-2 0h2m-51 1h2m1 0h2m16 0h2m11 0h2m1 0h2m-1 0h2m-1 0h2m-1 0h2m-1 0h2m-1 0h2m-2 0h2m6 0h2m-40 1h2m1 0h2m2 0h2m4 0h2m-2 0h2m7 0h2m0 0h2m0 0h2m-34 1h2m3 0h2m1 0h2m13 0h2m-2 0h2m6 0h2m2 0h2m0 0h2m2 0h2m-1 0h2m-47 1h2m10 0h2m2 0h2m8 0h2m0 0h2m4 0h2m1 0h2m-1 0h2m5 0h2m-33 1h2m10 0h2m8 0h2m-24 1h2m5 0h2m0 0h2m2 0h2m-1 0h2m2 0h2m-2 0h2m-1 0h2m4 0h2m-1 0h2m0 0h2m-2 0h2m-22 1h2m2 0h2m4 0h2m-1 0h2m-2 0h2m-2 0h2m0 0h2m1 0h2m9 0h2m-51 1h2m14 0h2m13 0h2m-1 0h2m3 0h2m-2 0h2m1 0h2m1 0h2m-16 1h2m-2 0h2m-1 0h2m-2 0h2m0 0h2m-1 0h2m-1 0h2m0 0h2m-2 0h2m0 0h2m-1 0h2m-1 0h2m-22 1h2m-2 0h2m16 0h2m-9 1h2m0 0h2m6 0h2m1 0h2m-1 0h2m-27 1h2m-1 0h2m0 0h2m2 0h2m9 0h2m0 0h2m-16 1h2m11 0h2m0 0h2m-13 1h2m3 0h2m5 0h2m4 0h2m-17 1h2m1 0h2m2 0h2m-2 0h2m-2 0h2m-1 0h2m7 0h2m-21 1h2m2 0h2m3 0h2m-1 0h2m0 0h2m-12 1h2m-1 0h2m9 0h2m-16 1h2m-1 0h2m1 1h2m-2 0h2m7 0h2m-44 2h2m25 1h2m2 0h2m0 1h2m-10 1h2m5 0h2m-7 1h2m-2 0h2m4 1h2m-9 2h2m3 0h2m2 0h2m-2 0h2m-9 2h2m19 0h2m-22 3h2m-3 1h2m1 1h2m-11 1h2" stroke="#1f77b4" stroke-width="2" stroke-opacity="0.3" fill="none"/>
<path transform="scale(.5)" d="M640 1355h2m-11 2h2m10 0h2m-5 1h2m4 1h2m-11 1h2m-4 1h2m11 0h2m-14 1h2m0 0h2m-13 2h2m16 0h2m3 0h2m0 0h2m-1 0h2m-16 1h2m0 0h2m0 0h2m5 0h2m-18 1h2m7 0h2m-1 0h2m-10 1h2m1 0h2m2 0h2m-3 1h2m-1 0h2m-1 0h2m-1 0h2m-2 0h2m1 0h2m0 0h2m5 0h2m-28 1h2m7 0h2m4 0h2m1 0h2m-1 0h2m-10 2h2m-1 0h2m-1 0h2m13 0h2m0 0h2m-32 1h2m2 0h2m0 0h2m3 0h2m2 0h2m1 0h2m-1 0h2m-1 0h2m-22 1h2m0 0h2m3 0h2m-2 0h2m3 0h2m-1 0h2m-2 0h2m0 0h2m-1 0h2m-1 0h2m3 0h2m4 0h2m-25 1h2m3 0h2m0 0h2m1 0h2m2 0h2m-13 1h2m5 0h2m-1 0h2m-1 0h2m2 0h2m5 0h2m-29 1h2m-1 0h2m-1 0h2m2 0h2m-2 0h2m6 0h2m0 0h2m-12 1h2m3 0h2m-2 0h2m0 0h2m2 0h2m3 0h2m-32 1h2m11 0h2m3 0h2m-1 0h2m0 0h2m-1 0h2m0 0h2m-2 0h2m-1 0h2m-1 0h2m-15 1h2m1 0h2m-1 0h2m-1 0h2m-1 0h2m-1 0h2m0 0h2m-1 0h2m-1 0h2m5 0h2m-20 1h2m3 0h2m0 0h2m3 0h2m1 0h2m2 0h2m-15 1h2m1 0h2m3 0h2m-18 1h2m1 0h2m-2 0h2m-1 0h2m10 0h2m-49 1h2m30 0h2m4 0h2m-1 0h2m-2 0h2m4 0h2m-1 0h2m-45 1h2m4 0h2m16 0h2m7 0h2m-1 0h2m-1 0h2m6 0h2m-14 1h2m0 0h2m0 0h2m-2 0h2m2 0h2m-1 0h2m2 0h2m-32 1h2m15 0h2m4 0h2m4 0h2m0 0h2m-35 1h2m0 0h2m11 0h2m7 0h2m-1 0h2m2 0h2m0 0h2m0 0h2m-44 1h2m11 0h2m22 0h2m-2 0h2m-43 1h2m8 0h2m6 0h2m6 0h2m13 0h2m-39 1h2m0 0h2m30 0h2m-41 1h2m6 0h2m0 0h2m-1 0h2m14 0h2m5 0h2m2 0h2m-42 1h2m-1 0h2m10 0h2m24 0h2m-53 1h2m13 0h2m0 0h2m3 0h2m1 0h2m-1 0h2m2 0h2m28 0h2m-45 1h2m-1 0h2m7 0h2m37 0h2m-56 1h2m4 0h2m-1 0h2m10 0h2m-1 0h2m-21 1h2m-1 0h2m2 0h2m-1 0h2m4 0h2m-2 0h2m7 0h2m8 0h2m-34 1h2m5 0h2m0 0h2m2 0h2m-2 0h2m31 0h2m-55 1h2m10 0h2m0 0h2m4 0h2m1 0h2m-2 0h2m4 0h2m11 0h2m-39 1h2m8 0h2m2 0h2m-2 0h2m10 0h2m-27 1h2m9 0h2m-1 0h2m0 0h2m-12 1h2m0 0h2m-1 0h2m-1 0h2m-2 0h2m1 0h2m2 0h2m-2 0h2m1 1h2m2 0h2m0 0h2m-26 1h2m3 0h2m-1 0h2m7 0h2m-2 0h2m0 0h2m-9 1h2m0 0h2m3 0h2m12 0h2m-40 1h2m14 0h2m4 0h2m12 0h2m-24 1h2m2 0h2m1 0h2m-1 0h2m0 0h2m8 0h2m-19 1h2m1 0h2m-1 0h2m13 0h2m-28 1h2m11 0h2m-14 1h2m7 0h2m-1 0h2m0 0h2m2 0h2m-23 1h2m17 0h2m-17 1h2m0 0h2m2 0h2m-1 0h2m1 0h2m2 0h2m-11 1h2m-1 0h2m-2 0h2m-1 0h2m3 0h2m15 0h2m-28 1h2m1 0h2m11 0h2m-13 1h2m9 0h2m-6 1h2m-21 1h2m15 0h2m-18 1h2m5 0h2m-5 1h2m16 2h2m-8 1h2m-3 12h2" stroke="#ff7f0e" stroke-width="2" stroke-opacity="0.3" fill="none"/>
<path d="M400.6 664.9V797.6H523.6" stroke="#595959" stroke-width="0.8" fill="none"/>
<line x1="398.4" y1="665.4" x2="400.6" y2="665.4" stroke="#595959" stroke-width="0.7"/>
<text x="395.2" y="668.3" font-size="8.1" text-anchor="end">0.6</text>
<line x1="398.4" y1="682.03" x2="400.6" y2="682.03" stroke="#595959" stroke-width="0.7"/>
<text x="395.2" y="684.93" font-size="8.1" text-anchor="end">0.4</text>
<line x1="398.4" y1="698.67" x2="400.6" y2="698.67" stroke="#595959" stroke-width="0.7"/>
<text x="395.2" y="701.57" font-size="8.1" text-anchor="end">0.2</text>
<line x1="398.4" y1="715.3" x2="400.6" y2="715.3" stroke="#595959" stroke-width="0.7"/>
<text x="395.2" y="718.2" font-size="8.1" text-anchor="end">0</text>
<line x1="398.4" y1="731.93" x2="400.6" y2="731.93" stroke="#595959" stroke-width="0.7"/>
<text x="395.2" y="734.83" font-size="8.1" text-anchor="end">−0.2</text>
<line x1="398.4" y1="748.57" x2="400.6" y2="748.57" stroke="#595959" stroke-width="0.7"/>
<text x="395.2" y="751.47" font-size="8.1" text-anchor="end">−0.4</text>
<line x1="398.4" y1="765.2" x2="400.6" y2="765.2" stroke="#595959" stroke-width="0.7"/>
<text x="395.2" y="768.1" font-size="8.1" text-anchor="end">−0.6</text>
<line x1="398.4" y1="781.83" x2="400.6" y2="781.83" stroke="#595959" stroke-width="0.7"/>
<text x="395.2" y="784.73" font-size="8.1" text-anchor="end">−0.8</text>
<line x1="413.8" y1="797.6" x2="413.8" y2="799.8" stroke="#595959" stroke-width="0.7"/>
<text x="413.8" y="809.6" font-size="7.9" text-anchor="middle">0.2</text>
<line x1="440.98" y1="797.6" x2="440.98" y2="799.8" stroke="#595959" stroke-width="0.7"/>
<text x="440.98" y="809.6" font-size="7.9" text-anchor="middle">0.4</text>
<line x1="468.15" y1="797.6" x2="468.15" y2="799.8" stroke="#595959" stroke-width="0.7"/>
<text x="468.15" y="809.6" font-size="7.9" text-anchor="middle">0.6</text>
<line x1="495.32" y1="797.6" x2="495.32" y2="799.8" stroke="#595959" stroke-width="0.7"/>
<text x="495.32" y="809.6" font-size="7.9" text-anchor="middle">0.8</text>
<line x1="522.5" y1="797.6" x2="522.5" y2="799.8" stroke="#595959" stroke-width="0.7"/>
<text x="522.5" y="809.6" font-size="7.9" text-anchor="middle">1</text>
<text x="464.6" y="665.3" font-size="8.9" text-anchor="middle">Asthma</text>
<text x="464.2" y="822.4" font-size="8.8" text-anchor="middle">Gene expression</text>
<polygon points="464.8,722.6 518,724 510,726.6 494,730 478,732 465.6,733" fill="#1f77b4" fill-opacity="0.42" filter="url(#sb)"/>
<path transform="scale(.5)" d="M889 1384h2m4 2h2m-23 1h2m17 0h2m-1 0h2m-8 1h2m5 0h2m-2 1h2m7 0h2m-34 1h2m15 0h2m2 0h2m-1 0h2m-28 1h2m20 0h2m3 0h2m-1 0h2m1 0h2m-28 1h2m0 0h2m5 0h2m14 0h2m-22 1h2m16 0h2m-1 0h2m5 0h2m-36 1h2m23 0h2m4 0h2m-29 1h2m2 0h2m15 0h2m-1 0h2m0 0h2m0 0h2m-6 1h2m0 0h2m0 0h2m-2 0h2m-2 0h2m-1 0h2m2 0h2m-13 1h2m-2 0h2m-1 0h2m-1 0h2m-2 0h2m-1 0h2m-2 0h2m-1 0h2m7 0h2m0 0h2m-19 1h2m2 0h2m-1 0h2m-2 0h2m-1 0h2m-2 0h2m-1 0h2m1 0h2m-1 0h2m-2 0h2m0 0h2m-12 1h2m1 0h2m-1 0h2m-1 0h2m-1 0h2m-2 0h2m1 0h2m-2 0h2m-46 1h2m-1 0h2m3 0h2m26 0h2m0 0h2m-2 0h2m0 0h2m2 0h2m-1 0h2m0 0h2m0 0h2m-12 1h2m0 0h2m1 0h2m0 0h2m-2 0h2m2 0h2m-2 0h2m-12 1h2m7 0h2m-15 1h2m2 0h2m-1 0h2m1 0h2m0 0h2m7 0h2m-46 1h2m24 0h2m-1 0h2m-1 0h2m2 0h2m0 0h2m-1 0h2m11 0h2m-22 1h2m0 0h2m-1 0h2m0 0h2m-2 0h2m1 0h2m-2 0h2m2 0h2m-2 0h2m-58 1h2m2 0h2m0 0h2m38 0h2m-1 0h2m0 0h2m-1 0h2m-1 0h2m0 0h2m-2 0h2m1 0h2m-39 1h2m24 0h2m4 0h2m-1 0h2m-2 0h2m0 0h2m-1 0h2m0 0h2m-40 1h2m31 0h2m-1 0h2m0 0h2m-2 0h2m-2 0h2m-1 0h2m1 0h2m-1 0h2m-1 0h2m-51 1h2m10 0h2m23 0h2m-2 0h2m3 0h2m0 0h2m-2 0h2m-1 0h2m-2 0h2m11 0h2m-68 1h2m0 0h2m14 0h2m-2 0h2m5 0h2m4 0h2m-2 0h2m1 0h2m18 0h2m1 0h2m-2 0h2m-1 0h2m0 0h2m1 0h2m-65 1h2m3 0h2m41 0h2m-1 0h2m0 0h2m0 0h2m0 0h2m-1 0h2m-1 0h2m-1 0h2m-1 0h2m-35 1h2m-1 0h2m0 0h2m4 0h2m10 0h2m1 0h2m-2 0h2m0 0h2m2 0h2m4 0h2m-49 1h2m21 0h2m3 0h2m3 0h2m-2 0h2m0 0h2m2 0h2m-1 0h2m-1 0h2m-1 0h2m-2 0h2m5 0h2m-40 1h2m18 0h2m6 0h2m-1 0h2m1 0h2m2 0h2m-52 1h2m14 0h2m19 0h2m-1 0h2m-1 0h2m4 0h2m-1 0h2m-1 0h2m0 0h2m1 0h2m-38 1h2m6 0h2m15 0h2m4 0h2m0 0h2m-1 0h2m-1 0h2m2 0h2m-47 1h2m31 0h2m-2 0h2m-1 0h2m-1 0h2m-1 0h2m4 0h2m0 0h2m-23 1h2m5 0h2m3 0h2m-2 0h2m-2 0h2m0 0h2m-2 0h2m-2 0h2m-1 0h2m-1 0h2m0 0h2m-1 0h2m1 0h2m-36 1h2m5 0h2m11 0h2m5 0h2m-1 0h2m-1 0h2m0 0h2m-2 0h2m2 0h2m-109 1h2m-2 0h2m-2 0h2m0 0h2m-2 0h2m-1 0h2m-1 0h2m-2 0h2m-1 0h2m-1 0h2m-1 0h2m3 0h2m5 0h2m4 0h2m1 0h2m52 0h2m14 0h2m0 0h2m0 0h2m-1 0h2m4 0h2m-112 1h2m-2 0h2m-1 0h2m-2 0h2m0 0h2m-1 0h2m-2 0h2m-2 0h2m-1 0h2m-2 0h2m-1 0h2m-2 0h2m-2 0h2m-2 0h2m-1 0h2m-2 0h2m-2 0h2m-1 0h2m-1 0h2m-2 0h2m-1 0h2m-1 0h2m-1 0h2m-1 0h2m0 0h2m-2 0h2m-1 0h2m0 0h2m0 0h2m-1 0h2m-1 0h2m1 0h2m-1 0h2m-2 0h2m-2 0h2m1 0h2m-1 0h2m-2 0h2m0 0h2m1 0h2m8 0h2m5 0h2m41 0h2m5 0h2m-1 0h2m-1 0h2m1 0h2m-1 0h2m-111 1h2m-1 0h2m-1 0h2m-2 0h2m-1 0h2m-2 0h2m-2 0h2m-1 0h2m-2 0h2m-2 0h2m-1 0h2m-1 0h2m-2 0h2m-1 0h2m-2 0h2m-1 0h2m-2 0h2m-2 0h2m-2 0h2m-1 0h2m-1 0h2m-1 0h2m-1 0h2m-2 0h2m-1 0h2m-1 0h2m0 0h2m-1 0h2m-2 0h2m-2 0h2m-2 0h2m-2 0h2m-1 0h2m-2 0h2m-1 0h2m-1 0h2m-2 0h2m-1 0h2m-2 0h2m-2 0h2m-2 0h2m-2 0h2m-2 0h2m-1 0h2m-2 0h2m-2 0h2m1 0h2m-1 0h2m-2 0h2m-1 0h2m-2 0h2m-1 0h2m-2 0h2m0 0h2m-1 0h2m-2 0h2m-2 0h2m-2 0h2m-2 0h2m-1 0h2m-2 0h2m3 0h2m-2 0h2m-1 0h2m-2 0h2m-1 0h2m-1 0h2m-1 0h2m-1 0h2m-1 0h2m1 0h2m0 0h2m0 0h2m-1 0h2m-1 0h2m-2 0h2m-1 0h2m-2 0h2m0 0h2m-2 0h2m2 0h2m3 0h2m-1 0h2m2 0h2m3 0h2m-1 0h2m2 0h2m11 0h2m-1 0h2m-2 0h2m2 0h2m-1 0h2m-2 0h2m0 0h2m-1 0h2m0 0h2m-1 0h2m-103 1h2m0 0h2m-2 0h2m0 0h2m-2 0h2m-2 0h2m1 0h2m-1 0h2m0 0h2m1 0h2m-1 0h2m-1 0h2m-2 0h2m-1 0h2m-2 0h2m-1 0h2m-1 0h2m1 0h2m-1 0h2m-1 0h2m-2 0h2m-2 0h2m-2 0h2m-2 0h2m-1 0h2m0 0h2m-2 0h2m-1 0h2m1 0h2m-2 0h2m-2 0h2m-2 0h2m-2 0h2m-1 0h2m-2 0h2m-1 0h2m-2 0h2m-2 0h2m-2 0h2m-1 0h2m0 0h2m-2 0h2m-1 0h2m-2 0h2m-2 0h2m-2 0h2m-1 0h2m-2 0h2m-1 0h2m-2 0h2m-1 0h2m-1 0h2m-2 0h2m-1 0h2m-2 0h2m-1 0h2m-2 0h2m-2 0h2m0 0h2m-2 0h2m1 0h2m-2 0h2m0 0h2m-2 0h2m-1 0h2m-2 0h2m-1 0h2m0 0h2m-1 0h2m0 0h2m-2 0h2m0 0h2m-1 0h2m0 0h2m-1 0h2m-2 0h2m-1 0h2m-2 0h2m-2 0h2m-1 0h2m3 0h2m-1 0h2m1 0h2m-2 0h2m3 0h2m1 0h2m-1 0h2m-1 0h2m0 0h2m1 0h2m-1 0h2m-1 0h2m-2 0h2m-2 0h2m-2 0h2m5 0h2m-2 0h2m0 0h2m1 0h2m-1 0h2m-97 1h2m-2 0h2m9 0h2m0 0h2m0 0h2m1 0h2m-2 0h2m0 0h2m-1 0h2m-2 0h2m-1 0h2m-1 0h2m-1 0h2m0 0h2m-1 0h2m-1 0h2m-1 0h2m0 0h2m-2 0h2m-1 0h2m0 0h2m-2 0h2m-1 0h2m-2 0h2m-1 0h2m-2 0h2m-2 0h2m-1 0h2m-2 0h2m0 0h2m-1 0h2m-2 0h2m-1 0h2m-1 0h2m-1 0h2m-2 0h2m-1 0h2m-2 0h2m-2 0h2m-1 0h2m-1 0h2m-1 0h2m-1 0h2m-1 0h2m-2 0h2m-2 0h2m-2 0h2m-1 0h2m-2 0h2m-2 0h2m-1 0h2m-2 0h2m0 0h2m-1 0h2m-2 0h2m0 0h2m-2 0h2m-2 0h2m-2 0h2m-2 0h2m-1 0h2m-2 0h2m-1 0h2m-2 0h2m-2 0h2m0 0h2m-1 0h2m-1 0h2m-2 0h2m-1 0h2m-2 0h2m-1 0h2m-2 0h2m-1 0h2m-2 0h2m-2 0h2m1 0h2m-1 0h2m-2 0h2m0 0h2m-2 0h2m-1 0h2m-2 0h2m-1 0h2m0 0h2m-2 0h2m5 0h2m-2 0h2m-1 0h2m-2 0h2m-1 0h2m-2 0h2m-1 0h2m0 0h2m-1 0h2m0 0h2m-1 0h2m0 0h2m1 0h2m-2 0h2m-1 0h2m-1 0h2m-2 0h2m-84 1h2m-1 0h2m-2 0h2m9 0h2m4 0h2m4 0h2m0 0h2m-2 0h2m0 0h2m0 0h2m1 0h2m-2 0h2m-2 0h2m-1 0h2m-1 0h2m-2 0h2m-2 0h2m-1 0h2m-2 0h2m-2 0h2m-1 0h2m-1 0h2m0 0h2m-2 0h2m-2 0h2m0 0h2m-2 0h2m-1 0h2m-2 0h2m-2 0h2m-2 0h2m-2 0h2m-1 0h2m-2 0h2m-1 0h2m-1 0h2m-1 0h2m-1 0h2m-2 0h2m0 0h2m-2 0h2m-2 0h2m-1 0h2m-2 0h2m-2 0h2m-1 0h2m-1 0h2m-2 0h2m-2 0h2m-1 0h2m-1 0h2m-2 0h2m-2 0h2m-1 0h2m-2 0h2m-1 0h2m-1 0h2m-2 0h2m-2 0h2m-2 0h2m0 0h2m-2 0h2m-2 0h2m-1 0h2m0 0h2m-2 0h2m-1 0h2m-2 0h2m-2 0h2m-1 0h2m-2 0h2m-2 0h2m-2 0h2m-2 0h2m-2 0h2m-2 0h2m-1 0h2m-1 0h2m-2 0h2m-1 0h2m-2 0h2m-2 0h2m-2 0h2m-1 0h2m-2 0h2m-2 0h2m-2 0h2m-1 0h2m-1 0h2m-2 0h2m-2 0h2m0 0h2m-1 0h2m-2 0h2m-1 0h2m-2 0h2m-2 0h2m-2 0h2m0 0h2m0 0h2m-1 0h2m-87 1h2m15 0h2m14 0h2m-1 0h2m1 0h2m2 0h2m-1 0h2m1 0h2m0 0h2m-1 0h2m-1 0h2m-1 0h2m-1 0h2m-2 0h2m-1 0h2m-2 0h2m-1 0h2m-1 0h2m0 0h2m-1 0h2m-2 0h2m0 0h2m0 0h2m-2 0h2m-1 0h2m-1 0h2m-1 0h2m-2 0h2m-1 0h2m-2 0h2m-1 0h2m-1 0h2m-2 0h2m-1 0h2m-2 0h2m-2 0h2m-1 0h2m-2 0h2m0 0h2m-2 0h2m-2 0h2m-2 0h2m-2 0h2m0 0h2m-2 0h2m-2 0h2m-2 0h2m-1 0h2m-2 0h2m-1 0h2m-1 0h2m-2 0h2m-2 0h2m0 0h2m-1 0h2m-2 0h2m-2 0h2m-1 0h2m-2 0h2m-2 0h2m-2 0h2m-2 0h2m-2 0h2m0 0h2m-2 0h2m-2 0h2m-1 0h2m1 0h2m-55 1h2m-1 0h2m16 0h2m3 0h2m1 0h2m3 0h2m-2 0h2m2 0h2m-1 0h2m-1 0h2m0 0h2m-2 0h2m-1 0h2m-2 0h2m-2 0h2m-2 0h2m-1 0h2m-2 0h2m-2 0h2m-2 0h2m-2 0h2m-2 0h2m-1 0h2m-2 0h2m-2 0h2m0 0h2m-1 0h2m-2 0h2m-2 0h2m-1 0h2m-2 0h2m1 0h2m4 0h2m-24 1h2m3 0h2m-2 0h2m-1 0h2m-2 0h2m-2 0h2m-1 0h2m1 0h2m-2 0h2m0 0h2m3 0h2m-2 0h2m-2 0h2m0 0h2m0 0h2m-17 1h2m-1 0h2m-2 0h2m-1 0h2m-2 0h2m-2 0h2m-2 0h2m-1 0h2m-1 0h2m-2 0h2m-1 0h2m4 0h2m-2 0h2m1 0h2m-2 0h2m-2 0h2m-1 0h2m-2 0h2m-17 1h2m-1 0h2m0 0h2m-2 0h2m-1 0h2m-2 0h2m-2 0h2m-2 0h2m-2 0h2m-2 0h2m-1 0h2m-2 0h2m-2 0h2m-2 0h2m-1 0h2m-2 0h2m4 0h2m1 0h2m-1 0h2m-17 1h2m0 0h2m-1 0h2m-2 0h2m0 0h2m-1 0h2m-2 0h2m-2 0h2m-2 0h2m-1 0h2m-1 0h2m4 0h2m-1 0h2m-15 1h2m-1 0h2m-1 0h2m-2 0h2m-2 0h2m-1 0h2m-1 0h2m-2 0h2m3 0h2m-2 0h2m-1 0h2m-11 1h2m-1 0h2m-1 0h2m-1 0h2m0 0h2m1 0h2m2 0h2m-13 1h2m0 0h2m0 0h2m-2 0h2m-1 0h2m0 0h2m-2 0h2m-1 0h2m0 0h2m-10 1h2m-1 0h2m-2 0h2m-2 0h2m-1 0h2m-2 0h2m-2 0h2m-1 0h2m-2 0h2m-1 0h2m-2 0h2m2 0h2m-9 1h2m-2 0h2m-1 0h2m-1 0h2m-2 0h2m-2 0h2m-2 0h2m-2 0h2m-1 0h2m2 0h2m-1 0h2m-10 1h2m0 0h2m0 0h2m-2 0h2m1 0h2m-1 0h2m-2 0h2m-10 1h2m0 0h2m-2 0h2m-1 0h2m-2 0h2m-1 0h2m-2 0h2m-1 0h2m-2 0h2m-2 1h2m-2 0h2m-1 0h2m-2 0h2m0 0h2m-2 0h2m-6 1h2m-1 0h2m-2 0h2m-1 0h2m-2 0h2m-2 0h2m-2 0h2m-1 0h2m-2 0h2m-2 0h2m-2 0h2m-1 0h2m-6 1h2m-1 0h2m-2 0h2m-1 0h2m-1 0h2m-2 0h2m-1 0h2m-2 0h2m-1 0h2m-7 1h2m-1 0h2m0 0h2m-2 0h2m0 0h2m-2 0h2m-2 0h2m33 0h2m-39 1h2m-1 0h2m-1 0h2m19 0h2m23 0h2m40 0h2m-90 1h2m-2 0h2m-2 0h2m-2 0h2m1 0h2m2 0h2m7 0h2m13 0h2m-2 0h2m10 0h2m-46 1h2m0 0h2m5 0h2m0 0h2m11 0h2m6 0h2m1 0h2m3 0h2m6 0h2m10 0h2m0 0h2m-1 0h2m2 0h2m1 0h2m3 0h2m18 0h2m-96 1h2m-1 0h2m-1 0h2m0 0h2m8 0h2m-2 0h2m1 0h2m0 0h2m14 0h2m-2 0h2m0 0h2m1 0h2m5 0h2m3 0h2m2 0h2m4 0h2m0 0h2m0 0h2m1 0h2m0 0h2m2 0h2m14 0h2m4 0h2m-95 1h2m-2 0h2m3 0h2m0 0h2m0 0h2m2 0h2m-2 0h2m3 0h2m-2 0h2m-1 0h2m1 0h2m6 0h2m-2 0h2m4 0h2m-1 0h2m7 0h2m17 0h2m-2 0h2m0 0h2m-1 0h2m-2 0h2m-2 0h2m3 0h2m6 0h2m0 0h2m3 0h2m-1 0h2m-95 1h2m-2 0h2m2 0h2m-2 0h2m-2 0h2m-1 0h2m-1 0h2m6 0h2m-2 0h2m0 0h2m-1 0h2m1 0h2m1 0h2m0 0h2m1 0h2m2 0h2m4 0h2m-1 0h2m-1 0h2m1 0h2m1 0h2m9 0h2m4 0h2m3 0h2m1 0h2m3 0h2m0 0h2m1 0h2m5 0h2m2 0h2m3 0h2m-94 1h2m6 0h2m-2 0h2m0 0h2m0 0h2m1 0h2m0 0h2m2 0h2m1 0h2m2 0h2m0 0h2m0 0h2m-1 0h2m1 0h2m-1 0h2m-1 0h2m1 0h2m-2 0h2m-1 0h2m-1 0h2m1 0h2m0 0h2m10 0h2m0 0h2m-1 0h2m7 0h2m-1 0h2m-1 0h2m-2 0h2m0 0h2m-1 0h2m7 0h2m2 0h2m5 0h2m-1 0h2m1 0h2m-2 0h2m-108 1h2m4 0h2m0 0h2m5 0h2m3 0h2m3 0h2m0 0h2m0 0h2m1 0h2m-1 0h2m0 0h2m-1 0h2m2 0h2m5 0h2m-2 0h2m-1 0h2m-1 0h2m1 0h2m0 0h2m1 0h2m2 0h2m3 0h2m-2 0h2m3 0h2m0 0h2m2 0h2m-2 0h2m-2 0h2m0 0h2m1 0h2m2 0h2m-1 0h2m-1 0h2m5 0h2m7 0h2m-2 0h2m4 0h2m-111 1h2m3 0h2m2 0h2m-1 0h2m4 0h2m1 0h2m-1 0h2m1 0h2m-2 0h2m0 0h2m-2 0h2m-1 0h2m5 0h2m-2 0h2m0 0h2m-2 0h2m-1 0h2m1 0h2m1 0h2m1 0h2m8 0h2m-1 0h2m0 0h2m-1 0h2m3 0h2m0 0h2m8 0h2m-2 0h2m2 0h2m-1 0h2m-2 0h2m2 0h2m2 0h2m2 0h2m1 0h2m-2 0h2m-1 0h2m10 0h2m-104 1h2m6 0h2m-2 0h2m11 0h2m2 0h2m-2 0h2m-1 0h2m6 0h2m-2 0h2m2 0h2m-2 0h2m-2 0h2m0 0h2m-1 0h2m7 0h2m2 0h2m-1 0h2m1 0h2m-2 0h2m-1 0h2m-1 0h2m0 0h2m8 0h2m6 0h2m13 0h2m-101 1h2m5 0h2m0 0h2m7 0h2m-2 0h2m-2 0h2m4 0h2m1 0h2m0 0h2m11 0h2m5 0h2m2 0h2m1 0h2m0 0h2m0 0h2m2 0h2m-1 0h2m1 0h2m11 0h2m-2 0h2m4 0h2m2 0h2m-2 0h2m3 0h2m-2 0h2m-100 1h2m-1 0h2m1 0h2m2 0h2m4 0h2m-2 0h2m2 0h2m0 0h2m-1 0h2m1 0h2m0 0h2m-2 0h2m4 0h2m0 0h2m9 0h2m-1 0h2m-2 0h2m4 0h2m-1 0h2m6 0h2m-1 0h2m3 0h2m0 0h2m-1 0h2m-1 0h2m-2 0h2m-2 0h2m5 0h2m-2 0h2m-1 0h2m-2 0h2m1 0h2m9 0h2m-2 0h2m0 0h2m-2 0h2m-94 1h2m9 0h2m-1 0h2m-1 0h2m-1 0h2m0 0h2m-1 0h2m-1 0h2m7 0h2m6 0h2m0 0h2m-2 0h2m1 0h2m6 0h2m1 0h2m-2 0h2m-1 0h2m-1 0h2m4 0h2m2 0h2m-1 0h2m1 0h2m-1 0h2m-1 0h2m-2 0h2m4 0h2m3 0h2m5 0h2m-92 1h2m-1 0h2m-1 0h2m1 0h2m11 0h2m6 0h2m-1 0h2m-1 0h2m0 0h2m2 0h2m0 0h2m1 0h2m-1 0h2m11 0h2m1 0h2m0 0h2m-2 0h2m4 0h2m0 0h2m-1 0h2m-1 0h2m-1 0h2m1 0h2m-1 0h2m-2 0h2m-1 0h2m2 0h2m-1 0h2m0 0h2m2 0h2m1 0h2m5 0h2m0 0h2m-98 1h2m3 0h2m0 0h2m0 0h2m-1 0h2m-2 0h2m-1 0h2m-2 0h2m2 0h2m-1 0h2m0 0h2m0 0h2m1 0h2m5 0h2m-1 0h2m-2 0h2m6 0h2m0 0h2m-1 0h2m1 0h2m2 0h2m-1 0h2m-1 0h2m1 0h2m-2 0h2m1 0h2m2 0h2m-1 0h2m-1 0h2m0 0h2m-2 0h2m13 0h2m-2 0h2m6 0h2m-1 0h2m-81 1h2m0 0h2m-2 0h2m0 0h2m-1 0h2m0 0h2m-2 0h2m-2 0h2m1 0h2m2 0h2m0 0h2m-1 0h2m-1 0h2m2 0h2m1 0h2m2 0h2m5 0h2m4 0h2m-1 0h2m1 0h2m0 0h2m1 0h2m1 0h2m-1 0h2m0 0h2m-1 0h2m26 0h2m-100 1h2m-2 0h2m-1 0h2m0 0h2m0 0h2m-1 0h2m3 0h2m-1 0h2m-1 0h2m-1 0h2m-1 0h2m2 0h2m3 0h2m5 0h2m1 0h2m0 0h2m2 0h2m2 0h2m-2 0h2m-1 0h2m3 0h2m2 0h2m0 0h2m-1 0h2m-2 0h2m-2 0h2m-2 0h2m-1 0h2m-1 0h2m0 0h2m-1 0h2m3 0h2m4 0h2m14 0h2m6 0h2m-96 1h2m1 0h2m0 0h2m-1 0h2m-2 0h2m2 0h2m-2 0h2m1 0h2m-2 0h2m3 0h2m-2 0h2m1 0h2m6 0h2m-1 0h2m0 0h2m-2 0h2m-2 0h2m5 0h2m2 0h2m-1 0h2m4 0h2m3 0h2m-2 0h2m7 0h2m21 0h2m1 0h2m-97 1h2m2 0h2m-1 0h2m4 0h2m-1 0h2m11 0h2m-2 0h2m-1 0h2m0 0h2m0 0h2m0 0h2m-1 0h2m0 0h2m2 0h2m-2 0h2m-2 0h2m-1 0h2m-2 0h2m0 0h2m0 0h2m-1 0h2m-1 0h2m-1 0h2m3 0h2m0 0h2m1 0h2m3 0h2m-1 0h2m11 0h2m7 0h2m3 0h2m-86 1h2m-2 0h2m5 0h2m-1 0h2m1 0h2m-1 0h2m-1 0h2m2 0h2m1 0h2m5 0h2m0 0h2m0 0h2m-2 0h2m-1 0h2m-2 0h2m-1 0h2m-1 0h2m1 0h2m-1 0h2m-1 0h2m0 0h2m2 0h2m2 0h2m1 0h2m0 0h2m12 0h2m14 0h2m1 0h2m-90 1h2m0 0h2m-2 0h2m0 0h2m0 0h2m5 0h2m6 0h2m-2 0h2m1 0h2m-1 0h2m3 0h2m-1 0h2m0 0h2m-1 0h2m-2 0h2m9 0h2m11 0h2m3 0h2m26 0h2m-2 0h2m4 0h2m-99 1h2m-1 0h2m-2 0h2m-1 0h2m-1 0h2m-1 0h2m-1 0h2m0 0h2m1 0h2m2 0h2m-1 0h2m2 0h2m2 0h2m4 0h2m-1 0h2m-1 0h2m4 0h2m4 0h2m0 0h2m2 0h2m-1 0h2m0 0h2m2 0h2m-1 0h2m-2 0h2m0 0h2m-2 0h2m-1 0h2m2 0h2m10 0h2m-78 1h2m2 0h2m3 0h2m1 0h2m-1 0h2m3 0h2m1 0h2m5 0h2m-1 0h2m9 0h2m-1 0h2m-1 0h2m4 0h2m5 0h2m7 0h2m5 0h2m2 0h2m11 0h2m5 0h2m-94 1h2m-1 0h2m5 0h2m4 0h2m-1 0h2m-2 0h2m2 0h2m0 0h2m0 0h2m-1 0h2m3 0h2m0 0h2m-2 0h2m7 0h2m9 0h2m-1 0h2m-2 0h2m1 0h2m3 0h2m7 0h2m-1 0h2m-1 0h2m4 0h2m2 0h2m-85 1h2m-1 0h2m-1 0h2m3 0h2m-1 0h2m3 0h2m5 0h2m4 0h2m-1 0h2m3 0h2m1 0h2m4 0h2m8 0h2m15 0h2m11 0h2m5 0h2m-88 1h2m2 0h2m2 0h2m12 0h2m10 0h2m10 0h2m0 0h2m4 0h2m7 0h2m21 0h2m-86 1h2m0 0h2m-1 0h2m5 0h2m15 0h2m0 0h2m9 0h2m-2 0h2m7 0h2m-1 0h2m7 0h2m8 0h2m12 0h2m0 0h2m0 0h2m-89 1h2m-1 0h2m0 0h2m6 0h2m-2 0h2m8 0h2m2 0h2m0 0h2m2 0h2m1 0h2m-45 1h2m1 0h2m-1 0h2m6 0h2m0 0h2m-1 0h2m-1 0h2m-1 0h2m5 0h2m0 0h2m9 0h2m0 0h2m1 0h2m0 0h2m1 0h2m3 0h2m0 0h2m3 0h2m2 0h2m2 0h2m10 0h2m9 0h2m-1 0h2m2 0h2m2 0h2m-1 0h2m-98 1h2m7 0h2m4 0h2m-1 0h2m12 0h2m2 0h2m3 0h2m12 0h2m3 0h2m0 0h2m4 0h2m-2 0h2m1 0h2m24 0h2m-96 1h2m1 0h2m0 0h2m-2 0h2m7 0h2m-2 0h2m-1 0h2m22 0h2m-1 0h2m1 0h2m0 0h2m0 0h2m0 0h2m1 0h2m0 0h2m0 0h2m-2 0h2m25 0h2m8 0h2m-95 1h2m2 0h2m-1 0h2m-1 0h2m1 0h2m-1 0h2m-2 0h2m-1 0h2m1 0h2m2 0h2m23 0h2m25 0h2m5 0h2m1 0h2m14 0h2m-94 1h2m-1 0h2m-2 0h2m1 0h2m0 0h2m2 0h2m8 0h2m-2 0h2m8 0h2m0 0h2m7 0h2m-1 0h2m9 0h2m18 0h2m2 0h2m11 0h2m-96 1h2m-1 0h2m0 0h2m-1 0h2m-2 0h2m0 0h2m0 0h2m-2 0h2m1 0h2m1 0h2m-2 0h2m0 0h2m4 0h2m2 0h2m0 0h2m0 0h2m0 0h2m0 0h2m14 0h2m-2 0h2m3 0h2m5 0h2m35 0h2m-97 1h2m2 0h2m1 0h2m0 0h2m1 0h2m-2 0h2m0 0h2m3 0h2m-1 0h2m3 0h2m2 0h2m3 0h2m15 0h2m-1 0h2m2 0h2m1 0h2m4 0h2m2 0h2m-1 0h2m-2 0h2m-72 1h2m-1 0h2m-2 0h2m0 0h2m0 0h2m2 0h2m1 0h2m0 0h2m17 0h2m10 0h2m-2 0h2m1 0h2m-1 0h2m-1 0h2m0 0h2m25 0h2m8 0h2m0 0h2m-99 1h2m1 0h2m0 0h2m1 0h2m0 0h2m1 0h2m0 0h2m8 0h2m3 0h2m4 0h2m0 0h2m-2 0h2m-1 0h2m0 0h2m24 0h2m2 0h2m14 0h2m-89 1h2m2 0h2m-1 0h2m0 0h2m-1 0h2m-1 0h2m-1 0h2m2 0h2m-2 0h2m1 0h2m-1 0h2m6 0h2m-2 0h2m0 0h2m5 0h2m-35 1h2m3 0h2m-1 0h2m-2 0h2m0 0h2m3 0h2m2 0h2m4 0h2m0 0h2m-2 0h2m-2 0h2m0 0h2m5 0h2m6 0h2m13 0h2m34 0h2m-96 1h2m2 0h2m-2 0h2m0 0h2m2 0h2m3 0h2m33 0h2m-1 0h2m9 0h2m3 0h2m8 0h2m15 0h2m2 0h2m-99 1h2m1 0h2m-2 0h2m-2 0h2m0 0h2m1 0h2m5 0h2m0 0h2m-2 0h2m-2 0h2m1 0h2m-1 0h2m2 0h2m0 0h2m12 0h2m18 0h2m18 0h2m7 0h2m-94 1h2m7 0h2m11 0h2m2 0h2m-1 0h2m-1 0h2m0 0h2m0 0h2m5 0h2m0 0h2m1 0h2m2 0h2m1 0h2m3 0h2m10 0h2m26 0h2m-97 1h2m0 0h2m3 0h2m1 0h2m-2 0h2m0 0h2m10 0h2m28 0h2m-2 0h2m1 0h2m15 0h2m-82 1h2m8 0h2m-1 0h2m2 0h2m3 0h2m1 0h2m-2 0h2m4 0h2m-1 0h2m13 0h2m31 0h2m13 0h2m-92 1h2m0 0h2m2 0h2m0 0h2m6 0h2m0 0h2m-2 0h2m-1 0h2m3 0h2m17 0h2m-1 0h2m42 0h2m2 0h2m-90 1h2m0 0h2m3 0h2m-2 0h2m-1 0h2m-2 0h2m5 0h2m4 0h2m9 0h2m7 0h2m10 0h2m20 0h2m4 0h2m0 0h2m-84 1h2m2 0h2m0 0h2m0 0h2m-1 0h2m-1 0h2m1 0h2m9 0h2m5 0h2m4 0h2m1 0h2m31 0h2m15 0h2m-94 1h2m3 0h2m-2 0h2m-2 0h2m0 0h2m-1 0h2m5 0h2m13 0h2m-1 0h2m1 0h2m2 0h2m20 0h2m-1 0h2m10 0h2m5 0h2m4 0h2m3 0h2m-2 0h2m-90 1h2m-2 0h2m16 0h2m-2 0h2m-16 1h2m1 0h2m2 0h2m20 0h2m19 0h2m10 0h2m1 0h2m-67 1h2m0 0h2m0 0h2m-1 0h2m5 0h2m9 0h2m15 0h2m6 0h2m18 0h2m17 0h2m-95 1h2m6 0h2m-2 0h2m1 0h2m2 0h2m0 0h2m40 0h2m19 0h2m8 0h2m-95 1h2m3 0h2m3 0h2m2 0h2m1 0h2m43 0h2m1 0h2m26 0h2m-92 1h2m0 0h2m12 0h2m4 0h2m4 0h2m4 0h2m25 0h2m11 0h2m14 0h2m-88 1h2m-2 0h2m0 0h2m0 0h2m0 0h2m-1 0h2m46 0h2m-1 0h2m0 0h2m0 0h2m-57 1h2m1 0h2m0 0h2m-2 0h2m2 0h2m4 0h2m4 0h2m7 0h2m5 0h2m28 0h2m4 0h2m-83 1h2m-1 0h2m1 0h2m2 0h2m-1 0h2m8 0h2m2 0h2m9 0h2m12 0h2m17 0h2m-70 1h2m-1 0h2m10 0h2m1 0h2m-1 0h2m0 0h2m-1 0h2m5 0h2m5 0h2m21 0h2m16 0h2m1 0h2m6 0h2m-90 1h2m2 0h2m2 0h2m2 0h2m-1 0h2m0 0h2m-2 0h2m15 0h2m-36 1h2m0 0h2m0 0h2m7 0h2m15 0h2m1 0h2m6 0h2m9 0h2m3 0h2m2 0h2m22 0h2m4 0h2m-90 1h2m1 0h2m2 0h2m-1 0h2m2 0h2m30 0h2m-1 0h2m15 0h2m8 0h2m5 0h2m-1 0h2m5 0h2m-87 1h2m-2 0h2m1 0h2m2 0h2m2 0h2m13 0h2m4 0h2m-1 0h2m16 0h2m7 0h2m5 0h2m-1 0h2m-67 1h2m0 0h2m0 0h2m7 0h2m3 0h2m37 0h2m6 0h2m0 0h2m3 0h2m0 0h2m-79 1h2m2 0h2m-1 0h2m-1 0h2m2 0h2m-2 0h2m1 0h2m-2 0h2m-2 0h2m1 0h2m23 0h2m10 0h2m4 0h2m28 0h2m-91 1h2m1 0h2m-2 0h2m3 0h2m3 0h2m0 0h2m-2 0h2m1 0h2m29 0h2m26 0h2m-81 1h2m-2 0h2m0 0h2m-1 0h2m-1 0h2m0 0h2m2 0h2m-2 0h2m-2 0h2m1 0h2m-2 0h2m1 0h2m-1 0h2m14 0h2m-2 0h2m5 0h2m21 0h2m4 0h2m-61 1h2m2 0h2m-1 0h2m4 0h2m15 0h2m-1 0h2m8 0h2m0 0h2m3 0h2m-1 0h2m18 0h2m-77 1h2m-2 0h2m2 0h2m0 0h2m5 0h2m8 0h2m0 0h2m9 0h2m3 0h2m3 0h2m1 0h2m13 0h2m10 0h2m-1 0h2m-79 1h2m3 0h2m3 0h2m7 0h2m-22 1h2m8 0h2m-2 0h2m2 0h2m0 0h2m35 0h2m14 0h2m15 0h2m-85 1h2m-1 0h2m2 0h2m1 0h2m0 0h2m-1 0h2m-1 0h2m7 0h2m4 0h2m10 0h2m8 0h2m-1 0h2m29 0h2m-75 1h2m7 0h2m3 0h2m24 0h2m3 0h2m-56 1h2m-1 0h2m0 0h2m-2 0h2m-2 0h2m0 0h2m-1 0h2m7 0h2m26 0h2m33 0h2m-81 1h2m6 0h2m3 0h2m7 0h2m12 0h2m-28 1h2m-1 0h2m1 0h2m-2 0h2m-2 0h2m32 0h2m19 0h2m10 0h2m-1 0h2m-85 1h2m8 0h2m-2 0h2m4 0h2m14 0h2m35 0h2m-1 0h2m-69 1h2m1 0h2m-2 0h2m-2 0h2m-1 0h2m2 0h2m10 0h2m6 0h2m9 0h2m-1 0h2m9 0h2m6 0h2m1 0h2m1 0h2m1 0h2m-71 1h2m12 0h2m-2 0h2m2 0h2m1 0h2m55 0h2m-2 0h2m-74 1h2m-1 0h2m1 0h2m10 0h2m0 0h2m11 0h2m20 0h2m0 0h2m-61 1h2m3 0h2m2 0h2m0 0h2m-2 0h2m0 0h2m11 0h2m15 0h2m6 0h2m10 0h2m-68 1h2m-1 0h2m-1 0h2m-1 0h2m0 0h2m0 0h2m2 0h2m0 0h2m5 0h2m19 0h2m18 0h2m4 0h2m2 0h2m-74 1h2m0 0h2m1 0h2m-1 0h2m-1 0h2m-1 0h2m20 0h2m2 0h2m31 0h2m-71 1h2m2 0h2m5 0h2m0 0h2m1 0h2m60 0h2m-75 1h2m-1 0h2m0 0h2m-1 0h2m1 0h2m-2 0h2m4 0h2m0 0h2m38 0h2m2 0h2m11 0h2m-77 1h2m0 0h2m1 0h2m-1 0h2m-1 0h2m-1 0h2m1 0h2m-1 0h2m-2 0h2m3 0h2m0 0h2m2 0h2m8 0h2m1 0h2m-1 0h2m20 0h2m1 0h2m-67 1h2m1 0h2m2 0h2m1 0h2m0 0h2m2 0h2m-1 0h2m18 0h2m3 0h2m1 0h2m16 0h2m5 0h2m-68 1h2m-1 0h2m-2 0h2m2 0h2m-2 0h2m1 0h2m7 0h2m3 0h2m4 0h2m-2 0h2m23 0h2m-53 1h2m4 0h2m0 0h2m-1 0h2m45 0h2m-62 1h2m5 0h2m3 0h2m8 0h2m8 0h2m12 0h2m8 0h2m19 0h2m-77 1h2m3 0h2m5 0h2m-2 0h2m1 0h2m-2 0h2m28 0h2m2 0h2m20 0h2m-74 1h2m3 0h2m2 0h2m-2 0h2m1 0h2m-2 0h2m16 0h2m-30 1h2m-1 0h2m1 0h2m3 0h2m1 0h2m-1 0h2m2 0h2m6 0h2m10 0h2m10 0h2m16 0h2m-71 1h2m2 0h2m8 0h2m1 0h2m-1 0h2m2 0h2m1 0h2m7 0h2m-1 0h2m-33 1h2m-1 0h2m0 0h2m-1 0h2m3 0h2m0 0h2m11 0h2m1 0h2m1 0h2m16 0h2m1 0h2m16 0h2m-66 1h2m1 0h2m-1 0h2m21 0h2m28 0h2m2 0h2m-66 1h2m-1 0h2m24 0h2m8 0h2m-34 1h2m-1 0h2m14 0h2m0 0h2m0 0h2m8 0h2m-32 1h2m0 0h2m1 0h2m8 0h2m2 0h2m24 0h2m5 0h2m-64 1h2m3 0h2m0 0h2m-2 0h2m1 0h2m3 0h2m-2 0h2m6 0h2m24 0h2m-1 0h2m14 0h2m-67 1h2m-1 0h2m-1 0h2m3 0h2m1 0h2m1 0h2m-1 0h2m18 0h2m11 0h2m12 0h2m1 0h2m4 0h2m-71 1h2m2 0h2m0 0h2m-1 0h2m0 0h2m1 0h2m3 0h2m3 0h2m1 0h2m6 0h2m9 0h2m7 0h2m-1 0h2m-1 0h2m7 0h2m-59 1h2m-5 1h2m-2 0h2m2 0h2m-1 0h2m1 0h2m-2 0h2m3 0h2m1 0h2m5 0h2m0 0h2m-1 0h2m-2 0h2m11 0h2m3 0h2m2 0h2m-1 0h2m2 0h2m0 0h2m-60 1h2m-1 0h2m0 0h2m49 0h2m2 0h2m1 0h2m-65 1h2m2 0h2m1 0h2m18 0h2m10 0h2m7 0h2m-49 1h2m0 0h2m-2 0h2m3 0h2m4 0h2m1 0h2m-1 0h2m21 0h2m20 0h2m1 0h2m-68 1h2m-1 0h2m0 0h2m-1 0h2m3 0h2m23 0h2m-1 0h2m-35 1h2m2 0h2m24 0h2m5 0h2m12 0h2m4 0h2m-61 1h2m13 0h2m20 0h2m0 0h2m-40 1h2m24 0h2m6 0h2m27 0h2m-66 1h2m0 0h2m-1 0h2m-1 0h2m1 0h2m0 0h2m0 0h2m-1 0h2m19 0h2m5 0h2m7 0h2m12 0h2m-60 1h2m-2 0h2m4 0h2m46 0h2m-61 1h2m16 0h2m7 0h2m12 0h2m7 0h2m4 0h2m-37 1h2m17 0h2m3 0h2m2 0h2m7 0h2m-1 0h2m-59 1h2m13 0h2m7 0h2m0 0h2m-1 0h2m17 0h2m-47 1h2m2 0h2m13 0h2m27 0h2m-54 1h2m5 0h2m23 0h2m-31 1h2m11 0h2m14 0h2m-31 1h2m21 0h2m14 0h2m-37 1h2m19 0h2m2 0h2m-1 0h2m3 0h2m0 0h2m3 1h2m2 0h2m-29 1h2m-7 1h2m-1 0h2m2 0h2m9 0h2m13 0h2m-45 1h2m12 0h2m5 0h2m-1 0h2m7 0h2m-26 1h2m7 0h2m-18 1h2m11 0h2m18 0h2m-27 1h2m4 0h2m-2 1h2m11 0h2m2 1h2m-15 1h2m0 0h2m-2 0h2m12 0h2m-12 1h2m10 0h2m-32 1h2m22 0h2m9 0h2m-10 1h2m2 0h2m-17 1h2m6 0h2m-3 2h2m-11 1h2m4 0h2m13 0h2m-17 1h2" stroke="#1f77b4" stroke-width="2" stroke-opacity="0.3" fill="none"/>
<polygon points="440.4,690.2 447,688.2 454.4,689.4 459,693.4 460,699.4 457.6,701.4 452.4,697 444.4,694.2 439.6,692.2" fill="#ff7f0e" fill-opacity="0.42" filter="url(#sb)"/>
<path transform="scale(.5)" d="M889 1345h2m10 0h2m-26 3h2m4 1h2m-11 1h2m11 0h2m6 1h2m-20 1h2m-16 2h2m-12 3h2m8 0h2m39 2h2m-37 3h2m9 4h2m-20 3h2m20 2h2m-1 2h2m18 1h2m-32 2h2m7 0h2m8 0h2m2 0h2m-13 1h2m2 0h2m-48 1h2m47 0h2m5 0h2m-1 0h2m-15 1h2m4 0h2m0 0h2m0 0h2m2 0h2m0 0h2m-61 1h2m38 0h2m6 0h2m5 0h2m4 0h2m-22 1h2m0 0h2m1 0h2m-1 0h2m-1 0h2m-2 0h2m1 0h2m1 0h2m-1 0h2m5 0h2m-28 1h2m-1 0h2m14 0h2m12 0h2m-31 1h2m14 0h2m7 0h2m2 0h2m-62 1h2m9 0h2m19 0h2m-2 0h2m-1 0h2m-2 0h2m-1 0h2m-1 0h2m7 0h2m-1 0h2m2 0h2m4 0h2m-1 0h2m1 0h2m0 0h2m-35 1h2m8 0h2m18 0h2m-48 1h2m23 0h2m4 0h2m8 0h2m11 0h2m-37 1h2m9 0h2m5 0h2m2 0h2m-1 0h2m-50 1h2m-1 0h2m41 0h2m0 0h2m8 0h2m-81 1h2m61 0h2m8 0h2m2 0h2m-22 1h2m2 0h2m7 0h2m2 0h2m3 0h2m0 0h2m-2 0h2m-2 0h2m-16 1h2m-1 0h2m9 0h2m-85 1h2m63 0h2m4 1h2m4 0h2m-1 0h2m1 0h2m-1 0h2m1 0h2m-2 0h2m0 0h2m-86 1h2m34 0h2m48 0h2m-10 1h2m3 0h2m-56 1h2m36 0h2m0 0h2m-32 1h2m30 0h2m0 0h2m4 1h2m0 0h2m-7 1h2m-2 0h2m-66 1h2m7 0h2m57 0h2m1 1h2m-3 1h2m-2 0h2m-6 1h2m-66 1h2" stroke="#ff7f0e" stroke-width="2" stroke-opacity="0.3" fill="none"/>
<path d="M560.9 661.2V797H684" stroke="#595959" stroke-width="0.8" fill="none"/>
<line x1="558.7" y1="670.4" x2="560.9" y2="670.4" stroke="#595959" stroke-width="0.7"/>
<text x="555.5" y="673.3" font-size="8.1" text-anchor="end">0.50</text>
<line x1="558.7" y1="688.5" x2="560.9" y2="688.5" stroke="#595959" stroke-width="0.7"/>
<text x="555.5" y="691.4" font-size="8.1" text-anchor="end">0.25</text>
<line x1="558.7" y1="706.6" x2="560.9" y2="706.6" stroke="#595959" stroke-width="0.7"/>
<text x="555.5" y="709.5" font-size="8.1" text-anchor="end">0</text>
<line x1="558.7" y1="724.7" x2="560.9" y2="724.7" stroke="#595959" stroke-width="0.7"/>
<text x="555.5" y="727.6" font-size="8.1" text-anchor="end">−0.25</text>
<line x1="558.7" y1="742.8" x2="560.9" y2="742.8" stroke="#595959" stroke-width="0.7"/>
<text x="555.5" y="745.7" font-size="8.1" text-anchor="end">−0.50</text>
<line x1="558.7" y1="760.9" x2="560.9" y2="760.9" stroke="#595959" stroke-width="0.7"/>
<text x="555.5" y="763.8" font-size="8.1" text-anchor="end">−0.75</text>
<line x1="558.7" y1="779" x2="560.9" y2="779" stroke="#595959" stroke-width="0.7"/>
<text x="555.5" y="781.9" font-size="8.1" text-anchor="end">−1.0</text>
<line x1="558.7" y1="797.1" x2="560.9" y2="797.1" stroke="#595959" stroke-width="0.7"/>
<text x="555.5" y="800" font-size="8.1" text-anchor="end">−1.25</text>
<line x1="573.8" y1="797" x2="573.8" y2="799.2" stroke="#595959" stroke-width="0.7"/>
<text x="573.8" y="809" font-size="7.9" text-anchor="middle">0.2</text>
<line x1="600.05" y1="797" x2="600.05" y2="799.2" stroke="#595959" stroke-width="0.7"/>
<text x="600.05" y="809" font-size="7.9" text-anchor="middle">0.4</text>
<line x1="626.3" y1="797" x2="626.3" y2="799.2" stroke="#595959" stroke-width="0.7"/>
<text x="626.3" y="809" font-size="7.9" text-anchor="middle">0.6</text>
<line x1="652.55" y1="797" x2="652.55" y2="799.2" stroke="#595959" stroke-width="0.7"/>
<text x="652.55" y="809" font-size="7.9" text-anchor="middle">0.8</text>
<line x1="678.8" y1="797" x2="678.8" y2="799.2" stroke="#595959" stroke-width="0.7"/>
<text x="678.8" y="809" font-size="7.9" text-anchor="middle">1</text>
<text x="622.45" y="667.2" font-size="8.9" text-anchor="middle">COPD</text>
<text x="622.45" y="821.8" font-size="8.8" text-anchor="middle">Gene expression</text>
<polygon points="594.4,715 608,714.6 631.6,714.2 632.4,718.6 624,719.6 608,720.2 594.4,718.6" fill="#1f77b4" fill-opacity="0.49" filter="url(#sb)"/>
<polygon points="635.6,700.6 678,701.4 678,703 668,703.8 648,704.6 636,705" fill="#1f77b4" fill-opacity="0.49" filter="url(#sb)"/>
<path transform="scale(.5)" d="M1333 1355h2m-7 1h2m-14 1h2m9 0h2m-2 1h2m-3 1h2m-14 1h2m1 0h2m2 3h2m10 1h2m-2 1h2m-5 1h2m-6 1h2m8 0h2m-9 2h2m-10 1h2m-2 2h2m5 2h2m2 0h2m-1 0h2m-18 3h2m1 14h2m19 0h2m-15 1h2m5 0h2m-65 1h2m37 0h2m-1 0h2m5 0h2m-2 0h2m0 0h2m1 0h2m-2 0h2m0 0h2m1 0h2m-1 0h2m12 0h2m-38 1h2m-1 0h2m-1 0h2m-2 0h2m-2 0h2m1 0h2m-2 0h2m-2 0h2m0 0h2m9 0h2m-1 0h2m8 0h2m1 0h2m1 0h2m-2 0h2m-2 0h2m2 0h2m-40 1h2m-1 0h2m-1 0h2m-1 0h2m-2 0h2m-2 0h2m-1 0h2m-1 0h2m0 0h2m2 0h2m0 0h2m6 0h2m1 0h2m-1 0h2m0 0h2m1 0h2m0 0h2m0 0h2m-37 1h2m1 0h2m3 0h2m6 0h2m2 0h2m1 0h2m0 0h2m-1 0h2m0 0h2m-66 1h2m-1 0h2m2 0h2m38 0h2m7 0h2m0 0h2m0 0h2m1 0h2m4 0h2m1 0h2m-72 1h2m5 0h2m1 0h2m35 0h2m9 0h2m-2 0h2m-2 0h2m-62 1h2m12 0h2m-1 0h2m0 0h2m-1 0h2m14 0h2m12 0h2m0 0h2m-43 1h2m8 0h2m3 0h2m5 0h2m17 0h2m14 0h2m20 0h2m-90 1h2m-1 0h2m-2 0h2m-2 0h2m14 0h2m-2 0h2m2 0h2m-1 0h2m-1 0h2m17 0h2m3 0h2m6 0h2m3 0h2m-1 0h2m3 0h2m11 0h2m-81 1h2m-1 0h2m-2 0h2m-2 0h2m-1 0h2m0 0h2m-1 0h2m3 0h2m0 0h2m0 0h2m4 0h2m2 0h2m16 0h2m1 0h2m-2 0h2m5 0h2m-1 0h2m0 0h2m7 0h2m5 0h2m-2 0h2m7 0h2m4 0h2m-1 0h2m-1 0h2m-90 1h2m3 0h2m-1 0h2m-2 0h2m-1 0h2m-1 0h2m5 0h2m-2 0h2m0 0h2m0 0h2m10 0h2m3 0h2m-1 0h2m10 0h2m-1 0h2m1 0h2m-1 0h2m2 0h2m2 0h2m-1 0h2m1 0h2m3 0h2m0 0h2m6 0h2m2 0h2m-87 1h2m-2 0h2m-1 0h2m-2 0h2m1 0h2m0 0h2m2 0h2m-1 0h2m1 0h2m0 0h2m1 0h2m0 0h2m2 0h2m5 0h2m-1 0h2m1 0h2m-1 0h2m-2 0h2m-1 0h2m0 0h2m-2 0h2m7 0h2m1 0h2m2 0h2m-1 0h2m-1 0h2m0 0h2m-1 0h2m4 0h2m3 0h2m-1 0h2m-1 0h2m-1 0h2m-2 0h2m1 0h2m-1 0h2m1 0h2m1 0h2m-87 1h2m-1 0h2m-2 0h2m-2 0h2m-2 0h2m11 0h2m-1 0h2m1 0h2m-1 0h2m3 0h2m3 0h2m0 0h2m1 0h2m3 0h2m-1 0h2m0 0h2m-1 0h2m5 0h2m5 0h2m2 0h2m1 0h2m1 0h2m-1 0h2m-2 0h2m1 0h2m2 0h2m2 0h2m0 0h2m-84 1h2m-2 0h2m-1 0h2m-2 0h2m-1 0h2m4 0h2m2 0h2m-2 0h2m0 0h2m0 0h2m0 0h2m0 0h2m1 0h2m11 0h2m-1 0h2m1 0h2m1 0h2m0 0h2m1 0h2m1 0h2m1 0h2m-2 0h2m1 0h2m0 0h2m1 0h2m-2 0h2m6 0h2m4 0h2m5 0h2m-84 1h2m1 0h2m0 0h2m5 0h2m-1 0h2m3 0h2m3 0h2m-1 0h2m2 0h2m-1 0h2m-1 0h2m5 0h2m-1 0h2m5 0h2m2 0h2m1 0h2m-1 0h2m4 0h2m0 0h2m-1 0h2m3 0h2m-2 0h2m2 0h2m-1 0h2m0 0h2m0 0h2m0 0h2m8 0h2m-91 1h2m-2 0h2m-1 0h2m-2 0h2m0 0h2m2 0h2m7 0h2m4 0h2m1 0h2m2 0h2m0 0h2m-2 0h2m0 0h2m5 0h2m2 0h2m-2 0h2m1 0h2m14 0h2m12 0h2m-80 1h2m10 0h2m-2 0h2m0 0h2m-1 0h2m3 0h2m9 0h2m-2 0h2m0 0h2m-1 0h2m1 0h2m-2 0h2m-1 0h2m0 0h2m0 0h2m5 0h2m1 0h2m7 0h2m14 0h2m2 0h2m-82 1h2m-1 0h2m-2 0h2m-2 0h2m1 0h2m0 0h2m1 0h2m4 0h2m3 0h2m5 0h2m0 0h2m1 0h2m8 0h2m7 0h2m-1 0h2m16 0h2m-72 1h2m20 0h2m33 0h2m-60 1h2m-2 0h2m-2 0h2m-1 0h2m0 0h2m5 0h2m13 0h2m8 0h2m-37 1h2m-2 0h2m-2 0h2m-2 0h2m-2 0h2m-1 0h2m4 0h2m-10 1h2m-1 0h2m0 0h2m-5 1h2m-2 0h2m-2 0h2m-2 1h2m0 0h2m-4 1h2m-2 0h2m-2 0h2m-1 0h2m-2 0h2m-3 1h2m-2 0h2m-2 0h2m-1 0h2m-2 0h2m-4 1h2m-2 0h2m-2 0h2m-2 0h2m-1 0h2m-2 0h2m-2 0h2m-1 0h2m-2 0h2m-2 0h2m-2 0h2m-1 0h2m-5 1h2m-1 0h2m-4 1h2m-2 0h2m-1 0h2m-2 0h2m-2 0h2m-1 0h2m-2 0h2m-3 1h2m-3 1h2m-1 0h2m-2 0h2m-3 1h2m-2 0h2m-2 0h2m-1 0h2m-8 1h2m3 0h2m-1 0h2m-73 1h2m8 0h2m13 0h2m36 0h2m5 0h2m-1 0h2m-63 1h2m5 0h2m8 0h2m5 0h2m1 0h2m6 0h2m-1 0h2m4 0h2m7 0h2m7 0h2m-72 1h2m3 0h2m-2 0h2m4 0h2m6 0h2m-2 0h2m1 0h2m19 0h2m1 0h2m6 0h2m3 0h2m1 0h2m1 0h2m1 0h2m-1 0h2m-1 0h2m-2 0h2m-87 1h2m0 0h2m1 0h2m6 0h2m0 0h2m1 0h2m0 0h2m-2 0h2m5 0h2m-1 0h2m11 0h2m0 0h2m0 0h2m4 0h2m0 0h2m1 0h2m-1 0h2m1 0h2m-1 0h2m3 0h2m-1 0h2m1 0h2m-1 0h2m0 0h2m6 0h2m-1 0h2m0 0h2m-2 0h2m-1 0h2m-90 1h2m1 0h2m6 0h2m0 0h2m0 0h2m2 0h2m0 0h2m0 0h2m-2 0h2m7 0h2m-2 0h2m-1 0h2m-1 0h2m0 0h2m4 0h2m0 0h2m-1 0h2m-1 0h2m1 0h2m2 0h2m11 0h2m2 0h2m-1 0h2m3 0h2m0 0h2m-2 0h2m1 0h2m3 0h2m0 0h2m0 0h2m-2 0h2m-117 1h2m2 0h2m-2 0h2m18 0h2m0 0h2m-2 0h2m-1 0h2m-2 0h2m-1 0h2m-1 0h2m2 0h2m0 0h2m4 0h2m-1 0h2m3 0h2m4 0h2m3 0h2m3 0h2m8 0h2m0 0h2m-2 0h2m0 0h2m-2 0h2m-1 0h2m1 0h2m-2 0h2m7 0h2m-1 0h2m4 0h2m-1 0h2m1 0h2m4 0h2m-1 0h2m1 0h2m-1 0h2m-1 0h2m1 0h2m-126 1h2m10 0h2m-2 0h2m1 0h2m0 0h2m-1 0h2m4 0h2m0 0h2m3 0h2m-2 0h2m-1 0h2m-1 0h2m-1 0h2m-1 0h2m0 0h2m-1 0h2m1 0h2m-2 0h2m-2 0h2m-1 0h2m-1 0h2m-2 0h2m-1 0h2m-1 0h2m0 0h2m0 0h2m3 0h2m-2 0h2m4 0h2m-1 0h2m3 0h2m1 0h2m9 0h2m-1 0h2m4 0h2m0 0h2m-2 0h2m2 0h2m0 0h2m2 0h2m-1 0h2m0 0h2m2 0h2m1 0h2m0 0h2m0 0h2m-1 0h2m0 0h2m-2 0h2m0 0h2m-1 0h2m-1 0h2m1 0h2m1 0h2m-131 1h2m3 0h2m2 0h2m2 0h2m-2 0h2m2 0h2m-1 0h2m-2 0h2m2 0h2m-2 0h2m1 0h2m-1 0h2m2 0h2m0 0h2m4 0h2m0 0h2m1 0h2m0 0h2m-1 0h2m-2 0h2m-2 0h2m-1 0h2m-1 0h2m-2 0h2m0 0h2m3 0h2m-1 0h2m-2 0h2m-1 0h2m1 0h2m-1 0h2m5 0h2m0 0h2m-2 0h2m-1 0h2m1 0h2m1 0h2m3 0h2m0 0h2m-1 0h2m-2 0h2m1 0h2m-1 0h2m-2 0h2m-1 0h2m0 0h2m0 0h2m0 0h2m-1 0h2m-1 0h2m2 0h2m-2 0h2m5 0h2m5 0h2m0 0h2m-1 0h2m2 0h2m-1 0h2m-129 1h2m0 0h2m1 0h2m-2 0h2m-2 0h2m0 0h2m-1 0h2m-1 0h2m-2 0h2m0 0h2m1 0h2m-1 0h2m1 0h2m0 0h2m-1 0h2m-1 0h2m-2 0h2m-1 0h2m1 0h2m-2 0h2m1 0h2m-1 0h2m-1 0h2m0 0h2m-2 0h2m4 0h2m2 0h2m-1 0h2m2 0h2m-2 0h2m-2 0h2m2 0h2m3 0h2m-1 0h2m5 0h2m16 0h2m1 0h2m4 0h2m-1 0h2m20 0h2m0 0h2m2 0h2m-2 0h2m-1 0h2m-2 0h2m-2 0h2m-1 0h2m-1 0h2m-2 0h2m-1 0h2m-129 1h2m0 0h2m-2 0h2m-1 0h2m3 0h2m-1 0h2m-1 0h2m-1 0h2m-1 0h2m-2 0h2m-2 0h2m7 0h2m10 0h2m-2 0h2m-1 0h2m7 0h2m3 0h2m-1 0h2m0 0h2m2 0h2m-1 0h2m-1 0h2m2 0h2m5 0h2m-1 0h2m-1 0h2m-1 0h2m0 0h2m0 0h2m17 0h2m-1 0h2m1 0h2m0 0h2m-1 0h2m2 0h2m4 0h2m0 0h2m2 0h2m9 0h2m0 0h2m-132 1h2m6 0h2m1 0h2m-2 0h2m-2 0h2m0 0h2m1 0h2m5 0h2m1 0h2m6 0h2m-2 0h2m1 0h2m10 0h2m-2 0h2m-1 0h2m-1 0h2m5 0h2m7 0h2m1 0h2m1 0h2m0 0h2m0 0h2m-2 0h2m5 0h2m-2 0h2m1 0h2m1 0h2m0 0h2m0 0h2m1 0h2m0 0h2m8 0h2m-2 0h2m2 0h2m3 0h2m0 0h2m2 0h2m0 0h2m-1 0h2m0 0h2m-131 1h2m7 0h2m7 0h2m0 0h2m1 0h2m-2 0h2m3 0h2m6 0h2m8 0h2m1 0h2m2 0h2m0 0h2m-1 0h2m0 0h2m4 0h2m-1 0h2m4 0h2m-2 0h2m10 0h2m0 0h2m-1 0h2m-1 0h2m0 0h2m-2 0h2m2 0h2m-2 0h2m0 0h2m2 0h2m0 0h2m-1 0h2m1 0h2m-1 0h2m-1 0h2m0 0h2m-2 0h2m-2 0h2m0 0h2m0 0h2m-1 0h2m0 0h2m-2 0h2m4 0h2m0 0h2m-1 0h2m-122 1h2m17 0h2m0 0h2m1 0h2m16 0h2m1 0h2m2 0h2m2 0h2m5 0h2m4 0h2m-1 0h2m0 0h2m0 0h2m0 0h2m-1 0h2m7 0h2m2 0h2m3 0h2m3 0h2m-1 0h2m-1 0h2m4 0h2m4 0h2m-1 0h2m-1 0h2m1 0h2m-1 0h2m-2 0h2m4 0h2m-1 0h2m1 0h2m-121 1h2m5 0h2m13 0h2m9 0h2m6 0h2m2 0h2m2 0h2m-2 0h2m-1 0h2m1 0h2m-2 0h2m6 0h2m2 0h2m-1 0h2m6 0h2m5 0h2m-1 0h2m0 0h2m0 0h2m-1 0h2m-1 0h2m-2 0h2m1 0h2m1 0h2m0 0h2m2 0h2m0 0h2m0 0h2m3 0h2m0 0h2m3 0h2m-1 0h2m-106 1h2m4 0h2m1 0h2m15 0h2m1 0h2m1 0h2m-2 0h2m6 0h2m2 0h2m-1 0h2m0 0h2m-2 0h2m0 0h2m-2 0h2m0 0h2m0 0h2m-1 0h2m0 0h2m3 0h2m-1 0h2m-1 0h2m13 0h2m0 0h2m-1 0h2m-2 0h2m-1 0h2m0 0h2m0 0h2m-1 0h2m-1 0h2m3 0h2m-1 0h2m4 0h2m0 0h2m0 0h2m-76 1h2m-1 0h2m14 0h2m1 0h2m8 0h2m8 0h2m2 0h2m-1 0h2m1 0h2m9 0h2m0 0h2m-76 1h2m0 0h2m19 0h2m1 0h2m3 0h2m4 0h2m0 0h2m1 0h2m25 0h2m0 0h2m-1 0h2m4 0h2m9 0h2m-118 1h2m0 0h2m11 0h2m11 0h2m24 0h2m0 0h2m0 0h2m0 0h2m-1 0h2m-2 0h2m2 0h2m-2 0h2m6 0h2m18 0h2m14 0h2m-90 1h2m11 0h2m28 0h2m-1 0h2m5 0h2m1 0h2m12 0h2m3 0h2m3 0h2m2 0h2m-1 0h2m3 0h2m-1 0h2m-2 0h2m-1 0h2m0 0h2m-110 1h2m11 0h2m15 0h2m7 0h2m10 0h2m27 0h2m8 0h2m0 0h2m-77 1h2m-2 0h2m4 0h2m6 0h2m1 0h2m4 0h2m13 0h2m-1 0h2m0 0h2m11 0h2m6 0h2m1 0h2m-1 0h2m2 0h2m0 0h2m-1 0h2m15 0h2m-90 1h2m5 0h2m4 0h2m6 0h2m-2 0h2m2 0h2m5 0h2m1 0h2m8 0h2m3 0h2m2 0h2m5 0h2m4 0h2m2 0h2m3 0h2m5 0h2m-110 1h2m3 0h2m5 0h2m15 0h2m-1 0h2m6 0h2m15 0h2m3 0h2m11 0h2m-1 0h2m0 0h2m20 0h2m-93 1h2m13 0h2m-1 0h2m15 0h2m5 0h2m30 0h2m8 0h2m3 0h2m10 0h2m2 0h2m2 0h2m-91 1h2m20 0h2m1 0h2m4 0h2m3 0h2m3 0h2m-1 0h2m0 0h2m-1 0h2m2 0h2m9 0h2m15 0h2m0 0h2m3 0h2m5 0h2m-80 1h2m19 0h2m0 0h2m-1 0h2m27 0h2m4 0h2m1 0h2m1 0h2m-87 1h2m6 0h2m0 0h2m5 0h2m33 0h2m3 0h2m5 0h2m14 0h2m3 0h2m0 0h2m2 0h2m0 0h2m-102 1h2m0 0h2m1 0h2m-2 0h2m12 0h2m17 0h2m-2 0h2m0 0h2m1 0h2m-1 0h2m0 0h2m4 0h2m-2 0h2m0 0h2m6 0h2m-1 0h2m-1 0h2m3 0h2m5 0h2m0 0h2m7 0h2m5 0h2m-2 0h2m4 0h2m-2 0h2m-1 0h2m-108 1h2m2 0h2m4 0h2m1 0h2m30 0h2m11 0h2m11 0h2m6 0h2m2 0h2m7 0h2m6 0h2m0 0h2m1 0h2m-1 0h2m-2 0h2m-2 0h2m1 0h2m-81 1h2m31 0h2m6 0h2m4 0h2m16 0h2m2 0h2m-1 0h2m0 0h2m-2 0h2m-1 0h2m-2 0h2m-1 0h2m-2 0h2m-84 1h2m-1 0h2m20 0h2m5 0h2m4 0h2m1 0h2m2 0h2m1 0h2m7 0h2m2 0h2m11 0h2m1 0h2m-87 1h2m14 0h2m3 0h2m15 0h2m2 0h2m-2 0h2m-1 0h2m-2 0h2m3 0h2m1 0h2m6 0h2m3 0h2m12 0h2m-1 0h2m3 0h2m2 0h2m-1 0h2m-1 0h2m-97 1h2m14 0h2m14 0h2m4 0h2m0 0h2m-1 0h2m5 0h2m8 0h2m5 0h2m0 0h2m0 0h2m5 0h2m5 0h2m-2 0h2m-1 0h2m0 0h2m2 0h2m0 0h2m0 0h2m-92 1h2m26 0h2m8 0h2m0 0h2m-2 0h2m-1 0h2m-1 0h2m-1 0h2m6 0h2m3 0h2m3 0h2m-1 0h2m-1 0h2m4 0h2m-2 0h2m10 0h2m2 0h2m2 0h2m-1 0h2m2 0h2m1 0h2m-65 1h2m12 0h2m3 0h2m-1 0h2m2 0h2m2 0h2m8 0h2m4 0h2m0 0h2m-1 0h2m6 0h2m3 0h2m-1 0h2m-58 1h2m4 0h2m7 0h2m-1 0h2m0 0h2m-1 0h2m5 0h2m2 0h2m14 0h2m4 0h2m-81 1h2m-1 0h2m5 0h2m15 0h2m8 0h2m1 0h2m2 0h2m4 0h2m12 0h2m-1 0h2m5 0h2m1 0h2m2 0h2m-1 0h2m-1 0h2m-94 1h2m5 0h2m16 0h2m4 0h2m9 0h2m-1 0h2m10 0h2m-1 0h2m3 0h2m1 0h2m-2 0h2m3 0h2m2 0h2m6 0h2m1 0h2m6 0h2m-76 1h2m1 0h2m2 0h2m10 0h2m16 0h2m4 0h2m-1 0h2m9 0h2m10 0h2m0 0h2m6 0h2m-2 0h2m1 0h2m-85 1h2m1 0h2m2 0h2m6 0h2m-1 0h2m4 0h2m-1 0h2m0 0h2m-1 0h2m-1 0h2m0 0h2m3 0h2m1 0h2m-1 0h2m-2 0h2m2 0h2m3 0h2m3 0h2m4 0h2m5 0h2m-2 0h2m3 0h2m2 0h2m0 0h2m-85 1h2m19 0h2m5 0h2m1 0h2m2 0h2m-1 0h2m0 0h2m2 0h2m-1 0h2m0 0h2m-1 0h2m-2 0h2m1 0h2m1 0h2m-2 0h2m0 0h2m3 0h2m3 0h2m15 0h2m-2 0h2m0 0h2m0 0h2m-82 1h2m14 0h2m2 0h2m8 0h2m0 0h2m1 0h2m-2 0h2m8 0h2m6 0h2m0 0h2m0 0h2m-1 0h2m15 0h2m-1 0h2m-63 1h2m7 0h2m5 0h2m0 0h2m0 0h2m-1 0h2m2 0h2m10 0h2m-1 0h2m8 0h2m7 0h2m-1 0h2m2 0h2m0 0h2m-2 0h2m1 0h2m-1 0h2m0 0h2m-88 1h2m22 0h2m2 0h2m6 0h2m-2 0h2m0 0h2m-2 0h2m-2 0h2m0 0h2m9 0h2m0 0h2m17 0h2m5 0h2m-90 1h2m16 0h2m3 0h2m2 0h2m6 0h2m6 0h2m-1 0h2m0 0h2m-2 0h2m0 0h2m0 0h2m-2 0h2m3 0h2m2 0h2m-1 0h2m-1 0h2m0 0h2m24 0h2m5 0h2m-77 1h2m14 0h2m-1 0h2m2 0h2m1 0h2m-2 0h2m2 0h2m1 0h2m-1 0h2m-1 0h2m0 0h2m0 0h2m-2 0h2m-1 0h2m-1 0h2m2 0h2m1 0h2m3 0h2m3 0h2m8 0h2m-70 1h2m12 0h2m0 0h2m6 0h2m0 0h2m1 0h2m-1 0h2m-1 0h2m-1 0h2m-2 0h2m1 0h2m0 0h2m-1 0h2m0 0h2m0 0h2m13 0h2m-2 0h2m1 0h2m3 0h2m2 0h2m1 0h2m-92 1h2m9 0h2m23 0h2m-2 0h2m0 0h2m4 0h2m-2 0h2m0 0h2m-1 0h2m-1 0h2m-1 0h2m-1 0h2m-2 0h2m-1 0h2m-2 0h2m0 0h2m2 0h2m19 0h2m-1 0h2m-2 0h2m-2 0h2m1 0h2m1 0h2m0 0h2m1 0h2m1 0h2m-88 1h2m19 0h2m5 0h2m4 0h2m-1 0h2m-2 0h2m-2 0h2m0 0h2m-2 0h2m0 0h2m-1 0h2m0 0h2m-1 0h2m-2 0h2m-1 0h2m-1 0h2m0 0h2m-2 0h2m2 0h2m-1 0h2m23 0h2m1 0h2m1 0h2m-86 1h2m4 0h2m2 0h2m12 0h2m9 0h2m1 0h2m0 0h2m-1 0h2m-2 0h2m0 0h2m-1 0h2m-1 0h2m-2 0h2m1 0h2m4 0h2m0 0h2m-1 0h2m3 0h2m-2 0h2m-1 0h2m5 0h2m1 0h2m10 0h2m-78 1h2m6 0h2m5 0h2m2 0h2m4 0h2m0 0h2m-2 0h2m4 0h2m-1 0h2m-2 0h2m-2 0h2m-2 0h2m-2 0h2m0 0h2m-1 0h2m-1 0h2m-2 0h2m2 0h2m0 0h2m-1 0h2m17 0h2m1 0h2m-1 0h2m-2 0h2m0 0h2m1 0h2m-1 0h2m-2 0h2m-1 0h2m-66 1h2m1 0h2m5 0h2m1 0h2m-2 0h2m0 0h2m1 0h2m-1 0h2m-2 0h2m-1 0h2m-2 0h2m-2 0h2m3 0h2m1 0h2m-2 0h2m0 0h2m-2 0h2m1 0h2m-1 0h2m6 0h2m-2 0h2m9 0h2m10 0h2m-78 1h2m19 0h2m2 0h2m2 0h2m0 0h2m-1 0h2m0 0h2m-2 0h2m-2 0h2m-1 0h2m-1 0h2m-1 0h2m-1 0h2m2 0h2m10 0h2m11 0h2m-1 0h2m3 0h2m-2 0h2m-1 0h2m-75 1h2m-2 0h2m17 0h2m0 0h2m-1 0h2m3 0h2m-2 0h2m4 0h2m0 0h2m-1 0h2m-1 0h2m-1 0h2m-1 0h2m-1 0h2m5 0h2m7 0h2m10 0h2m0 0h2m-1 0h2m1 0h2m-68 1h2m-1 0h2m6 0h2m-1 0h2m0 0h2m3 0h2m1 0h2m-1 0h2m-1 0h2m-1 0h2m-2 0h2m0 0h2m-1 0h2m0 0h2m-2 0h2m0 0h2m-2 0h2m-1 0h2m-2 0h2m-2 0h2m-1 0h2m-1 0h2m0 0h2m-1 0h2m-1 0h2m-1 0h2m-1 0h2m2 0h2m1 0h2m1 0h2m-2 0h2m-1 0h2m2 0h2m3 0h2m1 0h2m-2 0h2m1 0h2m1 0h2m-83 1h2m13 0h2m6 0h2m-1 0h2m-1 0h2m-1 0h2m3 0h2m3 0h2m-1 0h2m1 0h2m-1 0h2m0 0h2m0 0h2m29 0h2m-1 0h2m1 0h2m-60 1h2m2 0h2m4 0h2m0 0h2m0 0h2m0 0h2m1 0h2m5 0h2m-2 0h2m8 0h2m-1 0h2m0 0h2m-1 0h2m2 0h2m1 0h2m-1 0h2m0 0h2m-1 0h2m2 0h2m-71 1h2m6 0h2m12 0h2m-2 0h2m0 0h2m1 0h2m-1 0h2m0 0h2m-1 0h2m-2 0h2m0 0h2m1 0h2m3 0h2m11 0h2m13 0h2m1 0h2m-72 1h2m8 0h2m-2 0h2m14 0h2m2 0h2m-1 0h2m-1 0h2m-1 0h2m-1 0h2m-1 0h2m2 0h2m18 0h2m3 0h2m3 0h2m-64 1h2m7 0h2m1 0h2m-1 0h2m6 0h2m1 0h2m-1 0h2m0 0h2m-1 0h2m2 0h2m5 0h2m-2 0h2m3 0h2m-1 0h2m4 0h2m-2 0h2m1 0h2m3 0h2m-1 0h2m-1 0h2m-57 1h2m1 0h2m-1 0h2m-1 0h2m-1 0h2m2 0h2m-2 0h2m1 0h2m1 0h2m-2 0h2m0 0h2m2 0h2m-1 0h2m-1 0h2m3 0h2m-2 0h2m-2 0h2m2 0h2m-2 0h2m1 0h2m6 0h2m-1 0h2m0 0h2m-1 0h2m-2 0h2m0 0h2m-2 0h2m5 0h2m-1 0h2m-2 0h2m-76 1h2m8 0h2m2 0h2m1 0h2m0 0h2m-1 0h2m5 0h2m-2 0h2m2 0h2m-1 0h2m-2 0h2m-1 0h2m2 0h2m1 0h2m2 0h2m4 0h2m0 0h2m-1 0h2m12 0h2m-1 0h2m3 0h2m-64 1h2m9 0h2m0 0h2m0 0h2m0 0h2m2 0h2m0 0h2m-2 0h2m-1 0h2m0 0h2m-1 0h2m0 0h2m0 0h2m1 0h2m1 0h2m9 0h2m4 0h2m-1 0h2m0 0h2m-2 0h2m0 0h2m-78 1h2m17 0h2m6 0h2m-1 0h2m0 0h2m2 0h2m6 0h2m1 0h2m4 0h2m-1 0h2m0 0h2m2 0h2m7 0h2m0 0h2m0 0h2m-1 0h2m0 0h2m2 0h2m-54 1h2m10 0h2m-1 0h2m5 0h2m7 0h2m-2 0h2m16 0h2m-2 0h2m1 0h2m0 0h2m-71 1h2m13 0h2m7 0h2m5 0h2m9 0h2m-2 0h2m2 0h2m-1 0h2m-2 0h2m6 0h2m4 0h2m0 0h2m1 0h2m2 0h2m-73 1h2m7 0h2m2 0h2m-1 0h2m0 0h2m0 0h2m0 0h2m-2 0h2m-1 0h2m0 0h2m9 0h2m-2 0h2m-1 0h2m0 0h2m-1 0h2m-2 0h2m3 0h2m1 0h2m14 0h2m-1 0h2m-62 1h2m0 0h2m0 0h2m-1 0h2m-1 0h2m-2 0h2m-1 0h2m14 0h2m1 0h2m-2 0h2m2 0h2m0 0h2m-2 0h2m10 0h2m9 0h2m0 0h2m3 0h2m-2 0h2m0 0h2m0 0h2m-73 1h2m6 0h2m8 0h2m-1 0h2m10 0h2m-2 0h2m7 0h2m-1 0h2m1 0h2m0 0h2m1 0h2m12 0h2m-1 0h2m0 0h2m4 0h2m-51 1h2m5 0h2m-2 0h2m2 0h2m-2 0h2m-1 0h2m13 0h2m2 0h2m10 0h2m2 0h2m-56 1h2m1 0h2m0 0h2m7 0h2m4 0h2m1 0h2m2 0h2m-1 0h2m9 0h2m-1 0h2m4 0h2m-1 0h2m5 0h2m-1 0h2m-1 0h2m-62 1h2m16 0h2m5 0h2m0 0h2m-1 0h2m-1 0h2m2 0h2m1 0h2m1 0h2m3 0h2m6 0h2m7 0h2m-56 1h2m3 0h2m4 0h2m1 0h2m6 0h2m0 0h2m-2 0h2m9 0h2m1 0h2m-2 0h2m1 0h2m4 0h2m-1 0h2m-1 0h2m-2 0h2m-2 0h2m-2 0h2m-64 1h2m-1 0h2m-2 0h2m16 0h2m2 0h2m-2 0h2m9 0h2m3 0h2m2 0h2m-1 0h2m5 0h2m5 0h2m1 0h2m0 0h2m1 0h2m-61 1h2m10 0h2m-1 0h2m7 0h2m2 0h2m2 0h2m2 0h2m2 0h2m6 0h2m0 0h2m0 0h2m0 0h2m-1 0h2m-51 1h2m0 0h2m-1 0h2m0 0h2m0 0h2m2 0h2m-2 0h2m-1 0h2m2 0h2m17 0h2m-1 0h2m0 0h2m9 0h2m0 0h2m-51 1h2m7 0h2m4 0h2m1 0h2m-2 0h2m-1 0h2m5 0h2m4 0h2m7 0h2m-2 0h2m0 0h2m3 0h2m-63 1h2m8 0h2m-2 0h2m0 0h2m13 0h2m-1 0h2m-1 0h2m1 0h2m-1 0h2m8 0h2m-36 1h2m2 0h2m7 0h2m1 0h2m-2 0h2m1 0h2m2 0h2m6 0h2m12 0h2m0 0h2m0 0h2m-42 1h2m-2 0h2m4 0h2m3 0h2m8 0h2m8 0h2m-37 1h2m3 0h2m2 0h2m-1 0h2m0 0h2m-1 0h2m-1 0h2m11 0h2m10 0h2m11 0h2m-54 1h2m2 0h2m7 0h2m2 0h2m4 0h2m0 0h2m-1 0h2m8 0h2m6 0h2m-46 1h2m4 0h2m-1 0h2m3 0h2m-1 0h2m-2 0h2m-1 0h2m2 0h2m2 0h2m9 0h2m3 0h2m-48 1h2m-1 0h2m3 0h2m2 0h2m0 0h2m6 0h2m1 0h2m-1 0h2m16 0h2m13 0h2m-58 1h2m-1 0h2m7 0h2m3 0h2m-2 0h2m0 0h2m-1 0h2m1 0h2m1 0h2m2 0h2m5 0h2m0 0h2m0 0h2m5 0h2m-1 0h2m1 0h2m-52 1h2m-1 0h2m6 0h2m3 0h2m0 0h2m-1 0h2m-1 0h2m-1 0h2m-1 0h2m-2 0h2m4 0h2m1 0h2m5 0h2m-1 0h2m5 0h2m3 0h2m7 0h2m-60 1h2m1 0h2m5 0h2m1 0h2m-1 0h2m2 0h2m2 0h2m1 0h2m1 0h2m1 0h2m7 0h2m0 0h2m-1 0h2m-36 1h2m1 0h2m3 0h2m0 0h2m-1 0h2m-2 0h2m-1 0h2m0 0h2m0 0h2m1 0h2m-2 0h2m1 0h2m7 0h2m9 0h2m0 0h2m-50 1h2m-1 0h2m2 0h2m3 0h2m-1 0h2m1 0h2m2 0h2m-2 0h2m-1 0h2m-1 0h2m0 0h2m1 0h2m2 0h2m-2 0h2m11 0h2m-40 1h2m-1 0h2m2 0h2m-2 0h2m-1 0h2m0 0h2m2 0h2m-2 0h2m0 0h2m-1 0h2m-2 0h2m1 0h2m2 0h2m-1 0h2m0 0h2m2 0h2m5 0h2m3 0h2m-40 1h2m-1 0h2m-2 0h2m-1 0h2m0 0h2m-2 0h2m-2 0h2m-1 0h2m2 0h2m1 0h2m-2 0h2m-1 0h2m-1 0h2m2 0h2m-1 0h2m3 0h2m1 0h2m4 0h2m-44 1h2m-1 0h2m1 0h2m-1 0h2m1 0h2m0 0h2m1 0h2m-2 0h2m-2 0h2m2 0h2m1 0h2m0 0h2m-1 0h2m2 0h2m-1 0h2m0 0h2m2 0h2m-35 1h2m2 0h2m8 0h2m-1 0h2m-2 0h2m0 0h2m2 0h2m3 0h2m-2 0h2m1 0h2m0 0h2m-2 0h2m1 0h2m0 0h2m2 0h2m-2 0h2m-1 0h2m-42 1h2m4 0h2m0 0h2m-2 0h2m1 0h2m7 0h2m-2 0h2m0 0h2m-1 0h2m-2 0h2m0 0h2m-2 0h2m0 0h2m0 0h2m-1 0h2m4 0h2m-40 1h2m2 0h2m4 0h2m1 0h2m-1 0h2m-1 0h2m0 0h2m0 0h2m-1 0h2m4 0h2m4 0h2m-1 0h2m-1 0h2m0 0h2m0 0h2m-2 0h2m-1 0h2m8 0h2m-40 1h2m-1 0h2m-1 0h2m3 0h2m-2 0h2m-1 0h2m6 0h2m-1 0h2m-1 0h2m1 0h2m3 0h2m1 0h2m-2 0h2m0 0h2m-1 0h2m1 0h2m-1 0h2m-46 1h2m10 0h2m-2 0h2m0 0h2m0 0h2m1 0h2m-1 0h2m-1 0h2m1 0h2m-2 0h2m5 0h2m2 0h2m0 0h2m-41 1h2m-2 0h2m5 0h2m2 0h2m1 0h2m-2 0h2m0 0h2m-1 0h2m-1 0h2m1 0h2m1 0h2m0 0h2m1 0h2m-1 0h2m-2 0h2m2 0h2m0 0h2m6 0h2m-43 1h2m8 0h2m2 0h2m1 0h2m-2 0h2m5 0h2m1 0h2m0 0h2m-32 1h2m7 0h2m-1 0h2m2 0h2m1 0h2m-2 0h2m1 0h2m-1 0h2m1 0h2m0 0h2m5 0h2m-1 0h2m8 0h2m-48 1h2m3 0h2m-2 0h2m1 0h2m-1 0h2m0 0h2m3 0h2m2 0h2m0 0h2m12 0h2m1 0h2m-34 1h2m1 0h2m0 0h2m0 0h2m0 0h2m-2 0h2m-1 0h2m-2 0h2m-1 0h2m-2 0h2m-1 0h2m0 0h2m-2 0h2m-1 0h2m0 0h2m-1 0h2m1 0h2m7 0h2m-35 1h2m-1 0h2m4 0h2m3 0h2m-1 0h2m-1 0h2m0 0h2m1 0h2m1 0h2m7 0h2m-1 0h2m0 0h2m-34 1h2m1 0h2m-1 0h2m8 0h2m-2 0h2m-1 0h2m-2 0h2m0 0h2m-2 0h2m1 0h2m-2 0h2m-2 0h2m6 0h2m-1 0h2m-2 0h2m4 0h2m0 0h2m-39 1h2m-1 0h2m3 0h2m-2 0h2m-1 0h2m1 0h2m-1 0h2m0 0h2m-2 0h2m-1 0h2m-1 0h2m-1 0h2m-1 0h2m-2 0h2m-1 0h2m-2 0h2m5 0h2m-1 0h2m3 0h2m0 0h2m-29 1h2m0 0h2m2 0h2m-2 0h2m0 0h2m-2 0h2m1 0h2m1 0h2m2 0h2m-1 0h2m9 0h2m-28 1h2m-2 0h2m-1 0h2m0 0h2m-1 0h2m1 0h2m-2 0h2m-1 0h2m-27 1h2m5 0h2m9 0h2m0 0h2m1 0h2m2 0h2m1 0h2m-2 0h2m2 0h2m-23 1h2m0 0h2m2 0h2m2 0h2m2 0h2m-2 0h2m6 0h2m5 0h2m-44 1h2m9 0h2m1 0h2m-1 0h2m-1 0h2m-1 0h2m1 0h2m2 0h2m7 0h2m-10 1h2m3 0h2m0 0h2m9 0h2m-34 1h2m10 0h2m1 0h2m9 0h2m0 0h2m-2 0h2m-1 0h2m2 0h2m-29 1h2m1 0h2m5 0h2m2 0h2m-19 1h2m2 0h2m-1 0h2m1 0h2m2 0h2m1 0h2m7 0h2m1 0h2m-33 1h2m5 0h2m3 0h2m2 0h2m-2 0h2m-1 0h2m9 0h2m-2 0h2m-30 1h2m5 0h2m0 0h2m-1 0h2m-2 0h2m-1 0h2m14 0h2m-11 1h2m-12 1h2m1 0h2m12 0h2m5 0h2m-39 1h2m15 0h2m1 2h2m2 0h2m-2 0h2m0 1h2m1 0h2m-11 1h2m8 0h2m-14 1h2m8 0h2m-17 1h2m4 0h2m10 0h2m-8 1h2m0 0h2m-16 1h2m12 1h2m-15 4h2m-1 0h2m8 0h2m-11 10h2" stroke="#1f77b4" stroke-width="2" stroke-opacity="0.3" fill="none"/>
<polygon points="637.2,697.4 640.4,693.8 648,693.4 649.6,696 644,697.8 637.6,698.8" fill="#ff7f0e" fill-opacity="0.39" filter="url(#sb)"/>
<path transform="scale(.5)" d="M1321 1331h2m8 7h2m3 0h2m-2 1h2m-2 2h2m0 0h2m3 0h2m-20 1h2m7 1h2m-1 0h2m0 0h2m8 0h2m-19 1h2m-2 0h2m1 0h2m2 0h2m2 0h2m1 0h2m0 0h2m0 0h2m2 0h2m-32 1h2m2 0h2m-1 0h2m20 0h2m-43 1h2m11 0h2m3 0h2m11 0h2m-27 1h2m4 0h2m-7 1h2m2 0h2m0 0h2m0 0h2m-2 0h2m-2 0h2m7 0h2m-2 0h2m5 0h2m0 0h2m-9 1h2m12 0h2m-56 1h2m18 0h2m5 0h2m1 0h2m-2 1h2m0 0h2m10 0h2m-30 1h2m14 0h2m10 0h2m-26 1h2m2 0h2m0 0h2m0 0h2m1 0h2m1 0h2m6 0h2m-37 1h2m9 0h2m8 0h2m-2 0h2m-1 0h2m1 0h2m0 0h2m1 0h2m6 0h2m1 0h2m-57 1h2m23 0h2m0 0h2m-1 0h2m5 0h2m-2 0h2m5 0h2m-23 1h2m2 0h2m-1 0h2m8 0h2m0 0h2m-1 0h2m-1 0h2m6 0h2m-31 1h2m0 0h2m-1 0h2m3 0h2m-2 0h2m2 0h2m0 0h2m4 0h2m3 0h2m-1 0h2m0 0h2m0 0h2m4 0h2m-44 1h2m1 0h2m0 0h2m7 0h2m8 0h2m7 0h2m-1 0h2m4 0h2m-37 1h2m-1 0h2m-1 0h2m-2 0h2m7 0h2m3 0h2m0 0h2m2 0h2m10 0h2m-33 1h2m5 0h2m5 0h2m1 0h2m0 0h2m0 0h2m0 0h2m-1 0h2m2 0h2m1 0h2m-44 1h2m4 0h2m5 0h2m-1 0h2m0 0h2m-2 0h2m1 0h2m3 0h2m-2 0h2m1 0h2m-2 0h2m-1 0h2m16 0h2m0 0h2m-44 1h2m-1 0h2m1 0h2m0 0h2m-1 0h2m2 0h2m1 0h2m-1 0h2m0 0h2m1 0h2m6 0h2m2 0h2m10 0h2m-47 1h2m-1 0h2m-1 0h2m3 0h2m-1 0h2m-1 0h2m6 0h2m-1 0h2m2 0h2m-1 0h2m-2 0h2m-1 0h2m1 0h2m2 0h2m11 0h2m-51 1h2m7 0h2m3 0h2m-2 0h2m-1 0h2m6 0h2m1 0h2m1 0h2m2 0h2m3 0h2m-43 1h2m15 0h2m2 0h2m2 0h2m1 0h2m11 0h2m7 0h2m-34 1h2m4 0h2m6 0h2m-1 0h2m-1 0h2m-1 0h2m2 0h2m-1 0h2m-2 0h2m1 0h2m-49 1h2m2 0h2m1 0h2m3 0h2m-2 0h2m1 0h2m-1 0h2m4 0h2m4 0h2m-1 0h2m0 0h2m-1 0h2m-2 0h2m-1 0h2m1 0h2m0 0h2m9 0h2m2 0h2m-46 1h2m1 0h2m1 0h2m-2 0h2m7 0h2m6 0h2m2 0h2m9 0h2m0 0h2m-48 1h2m10 0h2m9 0h2m3 0h2m-2 0h2m3 0h2m-2 0h2m-2 0h2m-1 0h2m0 0h2m2 0h2m-43 1h2m1 0h2m11 0h2m2 0h2m-1 0h2m0 0h2m1 0h2m-2 0h2m-2 0h2m-2 0h2m0 0h2m-1 0h2m-1 0h2m0 0h2m2 0h2m0 0h2m0 0h2m0 0h2m-30 1h2m6 0h2m7 0h2m-2 0h2m3 0h2m4 0h2m1 0h2m-51 1h2m-1 0h2m-1 0h2m3 0h2m7 0h2m7 0h2m24 0h2m-50 1h2m21 0h2m23 0h2m-60 1h2m2 0h2m1 0h2m20 0h2m7 0h2m3 0h2m-31 1h2m-1 0h2m11 0h2m6 0h2m-2 0h2m14 0h2m-51 1h2m1 0h2m15 0h2m2 0h2m-1 0h2m1 0h2m0 0h2m5 0h2m-47 1h2m4 0h2m8 0h2m8 0h2m-2 0h2m1 0h2m2 0h2m7 0h2m-28 1h2m5 0h2m27 0h2m-44 2h2m3 0h2m10 0h2m2 0h2m6 0h2m-40 1h2m15 0h2m0 0h2m1 0h2m13 0h2m-40 1h2m13 0h2m3 0h2m-1 0h2m-20 1h2m6 0h2m10 0h2m-25 2h2m5 1h2m-6 2h2m3 0h2m6 0h2m-4 1h2m-11 1h2m5 0h2m1 0h2m5 0h2m-19 1h2m2 0h2m11 0h2m-24 1h2m2 0h2m9 0h2m-2 0h2m-1 0h2m4 0h2m-23 1h2m4 0h2m4 0h2m-2 0h2m-1 0h2m2 0h2m-15 1h2m1 0h2m4 0h2m-1 0h2m-1 0h2m0 0h2m-21 1h2m1 0h2m3 0h2m-13 1h2m6 0h2m1 0h2m-7 1h2m1 0h2m-1 0h2m0 0h2" stroke="#ff7f0e" stroke-width="2" stroke-opacity="0.3" fill="none"/>
<line x1="36.2" y1="477" x2="36.2" y2="613" stroke="#888" stroke-width="0.6"/>
<text x="33.2" y="545" font-size="8.8" text-anchor="middle" transform="rotate(-90 33.2 545)"><tspan font-style="italic">CYBA</tspan> in Mono</text>
<text x="46.6" y="545" font-size="8.8" text-anchor="middle" transform="rotate(-90 46.6 545)">d-SHAP</text>
<line x1="45.2" y1="664" x2="45.2" y2="798.5" stroke="#888" stroke-width="0.6"/>
<text x="43.4" y="731" font-size="8.8" text-anchor="middle" transform="rotate(-90 43.4 731)"><tspan font-style="italic">IFITM1</tspan> in T CD4 non-native</text>
<text x="56.1" y="731" font-size="8.8" text-anchor="middle" transform="rotate(-90 56.1 731)">d-SHAP</text>
<line x1="364.3" y1="665.1" x2="364.3" y2="801.5" stroke="#888" stroke-width="0.6"/>
<text x="362.6" y="733.3" font-size="8.8" text-anchor="middle" transform="rotate(-90 362.6 733.3)"><tspan font-style="italic">IFITM1</tspan> in ILC</text>
<text x="374.3" y="733.3" font-size="8.8" text-anchor="middle" transform="rotate(-90 374.3 733.3)">d-SHAP</text>
<circle cx="246.6" cy="643.6" r="2.2" fill="#ff7f0e"/>
<text x="253.7" y="646.3" font-size="7.7" textLength="115.6" lengthAdjust="spacingAndGlyphs">Cells from samples with condition</text>
<circle cx="383.3" cy="643.6" r="2.2" fill="#1f77b4"/>
<text x="390.7" y="646.3" font-size="7.7" textLength="127.1" lengthAdjust="spacingAndGlyphs">Cells from samples without condition</text>
</svg></body></html>
